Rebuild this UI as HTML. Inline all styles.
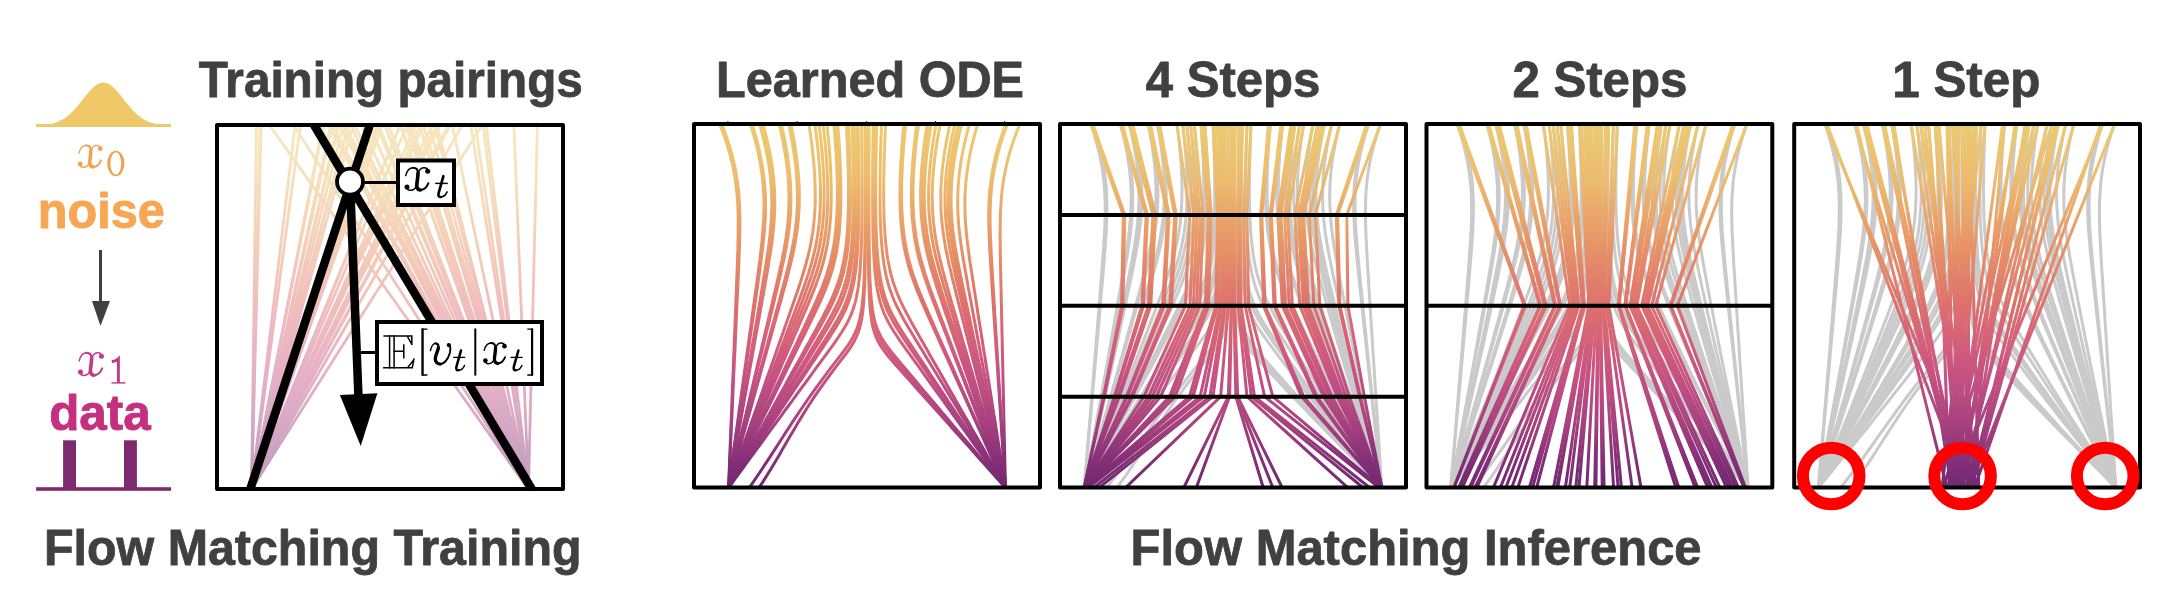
<!DOCTYPE html>
<html><head><meta charset="utf-8"><style>
html,body{margin:0;padding:0;background:#fff;}
svg{display:block;}
</style></head><body>
<svg width="2182" height="596" viewBox="0 0 2182 596">
<defs><linearGradient id="g_train" gradientUnits="userSpaceOnUse" x1="0" y1="125" x2="0" y2="489"><stop offset="0" stop-color="rgb(237, 202, 112)"/><stop offset="0.15" stop-color="rgb(236, 188, 110)"/><stop offset="0.33" stop-color="rgb(232, 148, 102)"/><stop offset="0.5" stop-color="rgb(221, 112, 110)"/><stop offset="0.62" stop-color="rgb(210, 92, 124)"/><stop offset="0.72" stop-color="rgb(192, 78, 130)"/><stop offset="0.82" stop-color="rgb(168, 66, 126)"/><stop offset="0.92" stop-color="rgb(134, 48, 120)"/><stop offset="1.0" stop-color="rgb(112, 40, 112)"/></linearGradient><clipPath id="c_train"><rect x="217" y="125" width="346" height="364"/></clipPath><linearGradient id="g_ode" gradientUnits="userSpaceOnUse" x1="0" y1="124" x2="0" y2="487.5"><stop offset="0" stop-color="rgb(237, 202, 112)"/><stop offset="0.15" stop-color="rgb(236, 188, 110)"/><stop offset="0.33" stop-color="rgb(232, 148, 102)"/><stop offset="0.5" stop-color="rgb(221, 112, 110)"/><stop offset="0.62" stop-color="rgb(210, 92, 124)"/><stop offset="0.72" stop-color="rgb(192, 78, 130)"/><stop offset="0.82" stop-color="rgb(168, 66, 126)"/><stop offset="0.92" stop-color="rgb(134, 48, 120)"/><stop offset="1.0" stop-color="rgb(112, 40, 112)"/></linearGradient><clipPath id="c_ode"><rect x="694" y="124" width="346" height="363.5"/></clipPath><linearGradient id="g_s4" gradientUnits="userSpaceOnUse" x1="0" y1="124" x2="0" y2="487.5"><stop offset="0" stop-color="rgb(237, 202, 112)"/><stop offset="0.15" stop-color="rgb(236, 188, 110)"/><stop offset="0.33" stop-color="rgb(232, 148, 102)"/><stop offset="0.5" stop-color="rgb(221, 112, 110)"/><stop offset="0.62" stop-color="rgb(210, 92, 124)"/><stop offset="0.72" stop-color="rgb(192, 78, 130)"/><stop offset="0.82" stop-color="rgb(168, 66, 126)"/><stop offset="0.92" stop-color="rgb(134, 48, 120)"/><stop offset="1.0" stop-color="rgb(112, 40, 112)"/></linearGradient><clipPath id="c_s4"><rect x="1060" y="124" width="346" height="363.5"/></clipPath><linearGradient id="g_s2" gradientUnits="userSpaceOnUse" x1="0" y1="124" x2="0" y2="487.5"><stop offset="0" stop-color="rgb(237, 202, 112)"/><stop offset="0.15" stop-color="rgb(236, 188, 110)"/><stop offset="0.33" stop-color="rgb(232, 148, 102)"/><stop offset="0.5" stop-color="rgb(221, 112, 110)"/><stop offset="0.62" stop-color="rgb(210, 92, 124)"/><stop offset="0.72" stop-color="rgb(192, 78, 130)"/><stop offset="0.82" stop-color="rgb(168, 66, 126)"/><stop offset="0.92" stop-color="rgb(134, 48, 120)"/><stop offset="1.0" stop-color="rgb(112, 40, 112)"/></linearGradient><clipPath id="c_s2"><rect x="1426.5" y="124" width="345.79999999999995" height="363.5"/></clipPath><linearGradient id="g_s1" gradientUnits="userSpaceOnUse" x1="0" y1="124" x2="0" y2="487.5"><stop offset="0" stop-color="rgb(237, 202, 112)"/><stop offset="0.15" stop-color="rgb(236, 188, 110)"/><stop offset="0.33" stop-color="rgb(232, 148, 102)"/><stop offset="0.5" stop-color="rgb(221, 112, 110)"/><stop offset="0.62" stop-color="rgb(210, 92, 124)"/><stop offset="0.72" stop-color="rgb(192, 78, 130)"/><stop offset="0.82" stop-color="rgb(168, 66, 126)"/><stop offset="0.92" stop-color="rgb(134, 48, 120)"/><stop offset="1.0" stop-color="rgb(112, 40, 112)"/></linearGradient><clipPath id="c_s1"><rect x="1794.2" y="124" width="345.79999999999995" height="363.5"/></clipPath></defs>
<rect width="2182" height="596" fill="#fff"/>
<g clip-path="url(#c_ode)" fill="none" stroke="url(#g_ode)" stroke-width="3.0"><path d="M719.6,124.0 L721.4,128.5 L723.1,133.1 L724.7,137.6 L726.3,142.1 L727.7,146.7 L729.0,151.2 L730.3,155.7 L731.4,160.3 L732.5,164.8 L733.5,169.3 L734.3,173.9 L735.1,178.4 L735.7,182.9 L736.3,187.5 L736.8,192.0 L737.2,196.5 L737.6,201.1 L737.8,205.6 L738.0,210.1 L738.1,214.6 L738.2,219.2 L738.3,223.7 L738.2,228.2 L738.2,232.8 L738.1,237.3 L738.0,241.8 L737.9,246.4 L737.8,250.9 L737.6,255.4 L737.5,260.0 L737.3,264.5 L737.2,269.0 L737.0,273.6 L736.8,278.1 L736.6,282.6 L736.5,287.2 L736.3,291.7 L736.1,296.2 L735.9,300.8 L735.8,305.3 L735.6,309.8 L735.4,314.4 L735.2,318.9 L735.0,323.4 L734.9,328.0 L734.7,332.5 L734.5,337.0 L734.3,341.6 L734.2,346.1 L734.0,350.6 L733.8,355.2 L733.6,359.7 L733.4,364.2 L733.3,368.7 L733.1,373.3 L732.9,377.8 L732.7,382.3 L732.5,386.9 L732.4,391.4 L732.2,395.9 L732.0,400.5 L731.8,405.0 L731.7,409.5 L731.5,414.1 L731.3,418.6 L731.1,423.1 L730.9,427.7 L730.8,432.2 L730.6,436.7 L730.4,441.3 L730.2,445.8 L730.1,450.3 L729.9,454.9 L729.7,459.4 L729.5,463.9 L729.3,468.5 L729.2,473.0 L729.0,477.5 L728.8,482.1 L728.6,487.5"/><path d="M721.7,124.0 L723.5,128.5 L725.1,133.1 L726.7,137.6 L728.2,142.1 L729.7,146.7 L731.0,151.2 L732.2,155.7 L733.3,160.3 L734.4,164.8 L735.3,169.3 L736.2,173.9 L736.9,178.4 L737.6,182.9 L738.1,187.5 L738.6,192.0 L739.0,196.5 L739.3,201.1 L739.6,205.6 L739.7,210.1 L739.9,214.6 L739.9,219.2 L739.9,223.7 L739.9,228.2 L739.8,232.8 L739.7,237.3 L739.6,241.8 L739.5,246.4 L739.3,250.9 L739.1,255.4 L739.0,260.0 L738.8,264.5 L738.6,269.0 L738.4,273.6 L738.2,278.1 L738.0,282.6 L737.8,287.2 L737.6,291.7 L737.3,296.2 L737.1,300.8 L736.9,305.3 L736.7,309.8 L736.5,314.4 L736.3,318.9 L736.1,323.4 L735.9,328.0 L735.7,332.5 L735.5,337.0 L735.3,341.6 L735.1,346.1 L734.9,350.6 L734.7,355.2 L734.4,359.7 L734.2,364.2 L734.0,368.7 L733.8,373.3 L733.6,377.8 L733.4,382.3 L733.2,386.9 L733.0,391.4 L732.8,395.9 L732.6,400.5 L732.4,405.0 L732.2,409.5 L732.0,414.1 L731.8,418.6 L731.5,423.1 L731.3,427.7 L731.1,432.2 L730.9,436.7 L730.7,441.3 L730.5,445.8 L730.3,450.3 L730.1,454.9 L729.9,459.4 L729.7,463.9 L729.5,468.5 L729.3,473.0 L729.1,477.5 L728.8,482.1 L728.6,487.5"/><path d="M750.3,124.0 L751.7,128.5 L753.1,133.1 L754.4,137.6 L755.6,142.1 L756.7,146.7 L757.8,151.2 L758.8,155.7 L759.7,160.3 L760.5,164.8 L761.2,169.3 L761.9,173.9 L762.4,178.4 L762.9,182.9 L763.3,187.5 L763.6,192.0 L763.8,196.5 L763.9,201.1 L764.0,205.6 L763.9,210.1 L763.8,214.6 L763.7,219.2 L763.4,223.7 L763.1,228.2 L762.7,232.8 L762.3,237.3 L761.9,241.8 L761.4,246.4 L760.9,250.9 L760.3,255.4 L759.8,260.0 L759.2,264.5 L758.6,269.0 L758.0,273.6 L757.4,278.1 L756.8,282.6 L756.2,287.2 L755.5,291.7 L754.9,296.2 L754.3,300.8 L753.7,305.3 L753.1,309.8 L752.4,314.4 L751.8,318.9 L751.2,323.4 L750.6,328.0 L749.9,332.5 L749.3,337.0 L748.7,341.6 L748.1,346.1 L747.4,350.6 L746.8,355.2 L746.2,359.7 L745.6,364.2 L744.9,368.7 L744.3,373.3 L743.7,377.8 L743.1,382.3 L742.4,386.9 L741.8,391.4 L741.2,395.9 L740.6,400.5 L740.0,405.0 L739.3,409.5 L738.7,414.1 L738.1,418.6 L737.5,423.1 L736.8,427.7 L736.2,432.2 L735.6,436.7 L735.0,441.3 L734.3,445.8 L733.7,450.3 L733.1,454.9 L732.5,459.4 L731.8,463.9 L731.2,468.5 L730.6,473.0 L730.0,477.5 L729.3,482.1 L728.6,487.5"/><path d="M752.1,124.0 L753.5,128.5 L754.9,133.1 L756.1,137.6 L757.3,142.1 L758.4,146.7 L759.5,151.2 L760.4,155.7 L761.3,160.3 L762.1,164.8 L762.9,169.3 L763.5,173.9 L764.0,178.4 L764.5,182.9 L764.9,187.5 L765.2,192.0 L765.4,196.5 L765.5,201.1 L765.5,205.6 L765.5,210.1 L765.4,214.6 L765.2,219.2 L764.9,223.7 L764.6,228.2 L764.2,232.8 L763.8,237.3 L763.3,241.8 L762.8,246.4 L762.3,250.9 L761.7,255.4 L761.1,260.0 L760.5,264.5 L759.9,269.0 L759.3,273.6 L758.7,278.1 L758.0,282.6 L757.4,287.2 L756.7,291.7 L756.1,296.2 L755.4,300.8 L754.8,305.3 L754.1,309.8 L753.5,314.4 L752.8,318.9 L752.2,323.4 L751.5,328.0 L750.9,332.5 L750.2,337.0 L749.6,341.6 L748.9,346.1 L748.3,350.6 L747.6,355.2 L747.0,359.7 L746.3,364.2 L745.7,368.7 L745.0,373.3 L744.4,377.8 L743.7,382.3 L743.1,386.9 L742.4,391.4 L741.8,395.9 L741.1,400.5 L740.5,405.0 L739.8,409.5 L739.1,414.1 L738.5,418.6 L737.8,423.1 L737.2,427.7 L736.5,432.2 L735.9,436.7 L735.2,441.3 L734.6,445.8 L733.9,450.3 L733.3,454.9 L732.6,459.4 L732.0,463.9 L731.3,468.5 L730.7,473.0 L730.0,477.5 L729.4,482.1 L728.6,487.5"/><path d="M759.4,124.0 L760.7,128.5 L762.0,133.1 L763.1,137.6 L764.3,142.1 L765.3,146.7 L766.3,151.2 L767.2,155.7 L768.0,160.3 L768.8,164.8 L769.4,169.3 L770.0,173.9 L770.5,178.4 L770.9,182.9 L771.3,187.5 L771.5,192.0 L771.7,196.5 L771.8,201.1 L771.8,205.6 L771.7,210.1 L771.5,214.6 L771.3,219.2 L771.0,223.7 L770.6,228.2 L770.2,232.8 L769.7,237.3 L769.2,241.8 L768.6,246.4 L767.9,250.9 L767.3,255.4 L766.6,260.0 L765.9,264.5 L765.2,269.0 L764.5,273.6 L763.7,278.1 L763.0,282.6 L762.2,287.2 L761.5,291.7 L760.7,296.2 L760.0,300.8 L759.2,305.3 L758.4,309.8 L757.7,314.4 L756.9,318.9 L756.2,323.4 L755.4,328.0 L754.6,332.5 L753.9,337.0 L753.1,341.6 L752.3,346.1 L751.6,350.6 L750.8,355.2 L750.1,359.7 L749.3,364.2 L748.5,368.7 L747.8,373.3 L747.0,377.8 L746.3,382.3 L745.5,386.9 L744.7,391.4 L744.0,395.9 L743.2,400.5 L742.5,405.0 L741.7,409.5 L740.9,414.1 L740.2,418.6 L739.4,423.1 L738.6,427.7 L737.9,432.2 L737.1,436.7 L736.4,441.3 L735.6,445.8 L734.8,450.3 L734.1,454.9 L733.3,459.4 L732.6,463.9 L731.8,468.5 L731.0,473.0 L730.3,477.5 L729.5,482.1 L728.6,487.5"/><path d="M760.6,124.0 L761.9,128.5 L763.1,133.1 L764.3,137.6 L765.4,142.1 L766.5,146.7 L767.4,151.2 L768.3,155.7 L769.1,160.3 L769.9,164.8 L770.5,169.3 L771.1,173.9 L771.6,178.4 L772.0,182.9 L772.4,187.5 L772.6,192.0 L772.8,196.5 L772.9,201.1 L772.8,205.6 L772.8,210.1 L772.6,214.6 L772.3,219.2 L772.0,223.7 L771.6,228.2 L771.2,232.8 L770.7,237.3 L770.1,241.8 L769.5,246.4 L768.9,250.9 L768.2,255.4 L767.5,260.0 L766.8,264.5 L766.1,269.0 L765.3,273.6 L764.6,278.1 L763.8,282.6 L763.0,287.2 L762.3,291.7 L761.5,296.2 L760.7,300.8 L759.9,305.3 L759.2,309.8 L758.4,314.4 L757.6,318.9 L756.8,323.4 L756.0,328.0 L755.3,332.5 L754.5,337.0 L753.7,341.6 L752.9,346.1 L752.1,350.6 L751.4,355.2 L750.6,359.7 L749.8,364.2 L749.0,368.7 L748.3,373.3 L747.5,377.8 L746.7,382.3 L745.9,386.9 L745.1,391.4 L744.4,395.9 L743.6,400.5 L742.8,405.0 L742.0,409.5 L741.2,414.1 L740.5,418.6 L739.7,423.1 L738.9,427.7 L738.1,432.2 L737.3,436.7 L736.6,441.3 L735.8,445.8 L735.0,450.3 L734.2,454.9 L733.4,459.4 L732.7,463.9 L731.9,468.5 L731.1,473.0 L730.3,477.5 L729.5,482.1 L728.6,487.5"/><path d="M762.9,124.0 L764.1,128.5 L765.3,133.1 L766.5,137.6 L767.6,142.1 L768.6,146.7 L769.5,151.2 L770.4,155.7 L771.2,160.3 L771.9,164.8 L772.6,169.3 L773.1,173.9 L773.6,178.4 L774.0,182.9 L774.3,187.5 L774.6,192.0 L774.7,196.5 L774.8,201.1 L774.8,205.6 L774.7,210.1 L774.5,214.6 L774.2,219.2 L773.9,223.7 L773.5,228.2 L773.0,232.8 L772.5,237.3 L772.0,241.8 L771.3,246.4 L770.7,250.9 L770.0,255.4 L769.2,260.0 L768.5,264.5 L767.7,269.0 L767.0,273.6 L766.2,278.1 L765.4,282.6 L764.6,287.2 L763.8,291.7 L763.0,296.2 L762.1,300.8 L761.3,305.3 L760.5,309.8 L759.7,314.4 L758.9,318.9 L758.1,323.4 L757.3,328.0 L756.4,332.5 L755.6,337.0 L754.8,341.6 L754.0,346.1 L753.2,350.6 L752.4,355.2 L751.6,359.7 L750.7,364.2 L749.9,368.7 L749.1,373.3 L748.3,377.8 L747.5,382.3 L746.7,386.9 L745.9,391.4 L745.0,395.9 L744.2,400.5 L743.4,405.0 L742.6,409.5 L741.8,414.1 L741.0,418.6 L740.2,423.1 L739.3,427.7 L738.5,432.2 L737.7,436.7 L736.9,441.3 L736.1,445.8 L735.3,450.3 L734.5,454.9 L733.6,459.4 L732.8,463.9 L732.0,468.5 L731.2,473.0 L730.4,477.5 L729.6,482.1 L728.6,487.5"/><path d="M779.1,124.0 L780.2,128.5 L781.2,133.1 L782.2,137.6 L783.1,142.1 L783.9,146.7 L784.7,151.2 L785.5,155.7 L786.1,160.3 L786.7,164.8 L787.3,169.3 L787.8,173.9 L788.2,178.4 L788.5,182.9 L788.7,187.5 L788.9,192.0 L789.0,196.5 L789.0,201.1 L788.9,205.6 L788.7,210.1 L788.5,214.6 L788.2,219.2 L787.8,223.7 L787.3,228.2 L786.7,232.8 L786.1,237.3 L785.3,241.8 L784.6,246.4 L783.8,250.9 L782.9,255.4 L782.0,260.0 L781.0,264.5 L780.0,269.0 L779.0,273.6 L778.0,278.1 L777.0,282.6 L775.9,287.2 L774.9,291.7 L773.8,296.2 L772.7,300.8 L771.7,305.3 L770.6,309.8 L769.5,314.4 L768.5,318.9 L767.4,323.4 L766.3,328.0 L765.2,332.5 L764.2,337.0 L763.1,341.6 L762.0,346.1 L761.0,350.6 L759.9,355.2 L758.8,359.7 L757.7,364.2 L756.7,368.7 L755.6,373.3 L754.5,377.8 L753.5,382.3 L752.4,386.9 L751.3,391.4 L750.2,395.9 L749.2,400.5 L748.1,405.0 L747.0,409.5 L746.0,414.1 L744.9,418.6 L743.8,423.1 L742.7,427.7 L741.7,432.2 L740.6,436.7 L739.5,441.3 L738.5,445.8 L737.4,450.3 L736.3,454.9 L735.2,459.4 L734.2,463.9 L733.1,468.5 L732.0,473.0 L731.0,477.5 L729.9,482.1 L728.6,487.5"/><path d="M781.3,124.0 L782.3,128.5 L783.3,133.1 L784.2,137.6 L785.1,142.1 L786.0,146.7 L786.7,151.2 L787.5,155.7 L788.1,160.3 L788.7,164.8 L789.2,169.3 L789.7,173.9 L790.1,178.4 L790.4,182.9 L790.6,187.5 L790.8,192.0 L790.9,196.5 L790.9,201.1 L790.8,205.6 L790.6,210.1 L790.4,214.6 L790.0,219.2 L789.6,223.7 L789.1,228.2 L788.5,232.8 L787.9,237.3 L787.1,241.8 L786.4,246.4 L785.5,250.9 L784.6,255.4 L783.7,260.0 L782.7,264.5 L781.7,269.0 L780.7,273.6 L779.6,278.1 L778.5,282.6 L777.5,287.2 L776.4,291.7 L775.3,296.2 L774.2,300.8 L773.1,305.3 L772.0,309.8 L770.9,314.4 L769.8,318.9 L768.7,323.4 L767.5,328.0 L766.4,332.5 L765.3,337.0 L764.2,341.6 L763.1,346.1 L762.0,350.6 L760.9,355.2 L759.8,359.7 L758.7,364.2 L757.6,368.7 L756.5,373.3 L755.4,377.8 L754.3,382.3 L753.2,386.9 L752.1,391.4 L750.9,395.9 L749.8,400.5 L748.7,405.0 L747.6,409.5 L746.5,414.1 L745.4,418.6 L744.3,423.1 L743.2,427.7 L742.1,432.2 L741.0,436.7 L739.9,441.3 L738.8,445.8 L737.7,450.3 L736.6,454.9 L735.5,459.4 L734.4,463.9 L733.2,468.5 L732.1,473.0 L731.0,477.5 L729.9,482.1 L728.6,487.5"/><path d="M788.7,124.0 L789.6,128.5 L790.5,133.1 L791.4,137.6 L792.2,142.1 L793.0,146.7 L793.7,151.2 L794.3,155.7 L794.9,160.3 L795.5,164.8 L796.0,169.3 L796.4,173.9 L796.7,178.4 L797.0,182.9 L797.2,187.5 L797.3,192.0 L797.4,196.5 L797.4,201.1 L797.3,205.6 L797.1,210.1 L796.8,214.6 L796.5,219.2 L796.0,223.7 L795.5,228.2 L794.9,232.8 L794.2,237.3 L793.4,241.8 L792.6,246.4 L791.7,250.9 L790.7,255.4 L789.7,260.0 L788.7,264.5 L787.6,269.0 L786.4,273.6 L785.3,278.1 L784.1,282.6 L782.9,287.2 L781.7,291.7 L780.5,296.2 L779.3,300.8 L778.0,305.3 L776.8,309.8 L775.6,314.4 L774.4,318.9 L773.1,323.4 L771.9,328.0 L770.7,332.5 L769.4,337.0 L768.2,341.6 L767.0,346.1 L765.7,350.6 L764.5,355.2 L763.3,359.7 L762.1,364.2 L760.8,368.7 L759.6,373.3 L758.4,377.8 L757.1,382.3 L755.9,386.9 L754.7,391.4 L753.4,395.9 L752.2,400.5 L751.0,405.0 L749.8,409.5 L748.5,414.1 L747.3,418.6 L746.1,423.1 L744.8,427.7 L743.6,432.2 L742.4,436.7 L741.1,441.3 L739.9,445.8 L738.7,450.3 L737.5,454.9 L736.2,459.4 L735.0,463.9 L733.8,468.5 L732.5,473.0 L731.3,477.5 L730.1,482.1 L728.6,487.5"/><path d="M790.9,124.0 L791.8,128.5 L792.7,133.1 L793.5,137.6 L794.3,142.1 L795.1,146.7 L795.7,151.2 L796.4,155.7 L797.0,160.3 L797.5,164.8 L797.9,169.3 L798.3,173.9 L798.7,178.4 L799.0,182.9 L799.2,187.5 L799.3,192.0 L799.3,196.5 L799.3,201.1 L799.2,205.6 L799.0,210.1 L798.7,214.6 L798.4,219.2 L797.9,223.7 L797.4,228.2 L796.8,232.8 L796.1,237.3 L795.3,241.8 L794.5,246.4 L793.6,250.9 L792.6,255.4 L791.5,260.0 L790.5,264.5 L789.3,269.0 L788.2,273.6 L787.0,278.1 L785.8,282.6 L784.6,287.2 L783.3,291.7 L782.1,296.2 L780.8,300.8 L779.5,305.3 L778.3,309.8 L777.0,314.4 L775.8,318.9 L774.5,323.4 L773.2,328.0 L771.9,332.5 L770.7,337.0 L769.4,341.6 L768.1,346.1 L766.9,350.6 L765.6,355.2 L764.3,359.7 L763.1,364.2 L761.8,368.7 L760.5,373.3 L759.3,377.8 L758.0,382.3 L756.7,386.9 L755.5,391.4 L754.2,395.9 L752.9,400.5 L751.7,405.0 L750.4,409.5 L749.1,414.1 L747.9,418.6 L746.6,423.1 L745.3,427.7 L744.1,432.2 L742.8,436.7 L741.5,441.3 L740.3,445.8 L739.0,450.3 L737.7,454.9 L736.5,459.4 L735.2,463.9 L733.9,468.5 L732.7,473.0 L731.4,477.5 L730.1,482.1 L728.6,487.5"/><path d="M808.9,124.0 L809.6,128.5 L810.3,133.1 L810.9,137.6 L811.5,142.1 L812.1,146.7 L812.6,151.2 L813.1,155.7 L813.5,160.3 L813.9,164.8 L814.3,169.3 L814.6,173.9 L814.8,178.4 L815.0,182.9 L815.1,187.5 L815.2,192.0 L815.2,196.5 L815.2,201.1 L815.1,205.6 L814.9,210.1 L814.6,214.6 L814.2,219.2 L813.8,223.7 L813.3,228.2 L812.7,232.8 L811.9,237.3 L811.1,241.8 L810.3,246.4 L809.3,250.9 L808.2,255.4 L807.0,260.0 L805.8,264.5 L804.5,269.0 L803.1,273.6 L801.7,278.1 L800.3,282.6 L798.8,287.2 L797.3,291.7 L795.7,296.2 L794.1,300.8 L792.6,305.3 L791.0,309.8 L789.4,314.4 L787.8,318.9 L786.2,323.4 L784.6,328.0 L783.1,332.5 L781.5,337.0 L779.9,341.6 L778.3,346.1 L776.7,350.6 L775.1,355.2 L773.5,359.7 L771.9,364.2 L770.3,368.7 L768.7,373.3 L767.1,377.8 L765.5,382.3 L763.9,386.9 L762.4,391.4 L760.8,395.9 L759.2,400.5 L757.6,405.0 L756.0,409.5 L754.4,414.1 L752.8,418.6 L751.2,423.1 L749.6,427.7 L748.0,432.2 L746.4,436.7 L744.8,441.3 L743.2,445.8 L741.7,450.3 L740.1,454.9 L738.5,459.4 L736.9,463.9 L735.3,468.5 L733.7,473.0 L732.1,477.5 L730.5,482.1 L728.6,487.5"/><path d="M814.8,124.0 L815.4,128.5 L816.0,133.1 L816.6,137.6 L817.1,142.1 L817.6,146.7 L818.1,151.2 L818.5,155.7 L818.9,160.3 L819.3,164.8 L819.6,169.3 L819.9,173.9 L820.1,178.4 L820.3,182.9 L820.4,187.5 L820.4,192.0 L820.4,196.5 L820.4,201.1 L820.3,205.6 L820.1,210.1 L819.8,214.6 L819.5,219.2 L819.1,223.7 L818.5,228.2 L818.0,232.8 L817.3,237.3 L816.5,241.8 L815.6,246.4 L814.6,250.9 L813.5,255.4 L812.4,260.0 L811.1,264.5 L809.8,269.0 L808.4,273.6 L806.9,278.1 L805.4,282.6 L803.8,287.2 L802.2,291.7 L800.5,296.2 L798.9,300.8 L797.2,305.3 L795.5,309.8 L793.8,314.4 L792.1,318.9 L790.4,323.4 L788.7,328.0 L787.0,332.5 L785.3,337.0 L783.6,341.6 L781.9,346.1 L780.2,350.6 L778.5,355.2 L776.8,359.7 L775.1,364.2 L773.3,368.7 L771.6,373.3 L769.9,377.8 L768.2,382.3 L766.5,386.9 L764.8,391.4 L763.1,395.9 L761.4,400.5 L759.7,405.0 L758.0,409.5 L756.3,414.1 L754.6,418.6 L752.9,423.1 L751.1,427.7 L749.4,432.2 L747.7,436.7 L746.0,441.3 L744.3,445.8 L742.6,450.3 L740.9,454.9 L739.2,459.4 L737.5,463.9 L735.8,468.5 L734.1,473.0 L732.4,477.5 L730.7,482.1 L728.6,487.5"/><path d="M818.9,124.0 L819.5,128.5 L820.0,133.1 L820.6,137.6 L821.1,142.1 L821.5,146.7 L822.0,151.2 L822.4,155.7 L822.7,160.3 L823.1,164.8 L823.4,169.3 L823.6,173.9 L823.8,178.4 L824.0,182.9 L824.1,187.5 L824.1,192.0 L824.1,196.5 L824.1,201.1 L824.0,205.6 L823.8,210.1 L823.5,214.6 L823.2,219.2 L822.8,223.7 L822.3,228.2 L821.7,232.8 L821.1,237.3 L820.3,241.8 L819.4,246.4 L818.5,250.9 L817.4,255.4 L816.2,260.0 L815.0,264.5 L813.6,269.0 L812.2,273.6 L810.7,278.1 L809.1,282.6 L807.5,287.2 L805.8,291.7 L804.1,296.2 L802.4,300.8 L800.6,305.3 L798.9,309.8 L797.1,314.4 L795.3,318.9 L793.5,323.4 L791.7,328.0 L789.9,332.5 L788.1,337.0 L786.3,341.6 L784.5,346.1 L782.8,350.6 L781.0,355.2 L779.2,359.7 L777.4,364.2 L775.6,368.7 L773.8,373.3 L772.0,377.8 L770.2,382.3 L768.4,386.9 L766.6,391.4 L764.8,395.9 L763.0,400.5 L761.2,405.0 L759.4,409.5 L757.6,414.1 L755.9,418.6 L754.1,423.1 L752.3,427.7 L750.5,432.2 L748.7,436.7 L746.9,441.3 L745.1,445.8 L743.3,450.3 L741.5,454.9 L739.7,459.4 L737.9,463.9 L736.1,468.5 L734.3,473.0 L732.5,477.5 L730.8,482.1 L728.6,487.5"/><path d="M823.0,124.0 L823.5,128.5 L824.0,133.1 L824.5,137.6 L825.0,142.1 L825.4,146.7 L825.8,151.2 L826.2,155.7 L826.5,160.3 L826.8,164.8 L827.1,169.3 L827.3,173.9 L827.5,178.4 L827.6,182.9 L827.7,187.5 L827.8,192.0 L827.8,196.5 L827.7,201.1 L827.6,205.6 L827.4,210.1 L827.2,214.6 L826.9,219.2 L826.5,223.7 L826.0,228.2 L825.5,232.8 L824.8,237.3 L824.1,241.8 L823.2,246.4 L822.3,250.9 L821.3,255.4 L820.1,260.0 L818.9,264.5 L817.5,269.0 L816.1,273.6 L814.5,278.1 L812.9,282.6 L811.3,287.2 L809.5,291.7 L807.8,296.2 L806.0,300.8 L804.1,305.3 L802.3,309.8 L800.4,314.4 L798.5,318.9 L796.7,323.4 L794.8,328.0 L792.9,332.5 L791.0,337.0 L789.2,341.6 L787.3,346.1 L785.4,350.6 L783.5,355.2 L781.6,359.7 L779.8,364.2 L777.9,368.7 L776.0,373.3 L774.1,377.8 L772.2,382.3 L770.4,386.9 L768.5,391.4 L766.6,395.9 L764.7,400.5 L762.8,405.0 L760.9,409.5 L759.1,414.1 L757.2,418.6 L755.3,423.1 L753.4,427.7 L751.5,432.2 L749.7,436.7 L747.8,441.3 L745.9,445.8 L744.0,450.3 L742.1,454.9 L740.3,459.4 L738.4,463.9 L736.5,468.5 L734.6,473.0 L732.7,477.5 L730.9,482.1 L728.6,487.5"/><path d="M826.9,124.0 L827.4,128.5 L827.8,133.1 L828.3,137.6 L828.7,142.1 L829.1,146.7 L829.4,151.2 L829.8,155.7 L830.1,160.3 L830.3,164.8 L830.6,169.3 L830.8,173.9 L830.9,178.4 L831.1,182.9 L831.2,187.5 L831.2,192.0 L831.2,196.5 L831.2,201.1 L831.0,205.6 L830.9,210.1 L830.7,214.6 L830.4,219.2 L830.0,223.7 L829.6,228.2 L829.0,232.8 L828.4,237.3 L827.7,241.8 L826.9,246.4 L826.0,250.9 L825.0,255.4 L823.9,260.0 L822.6,264.5 L821.3,269.0 L819.8,273.6 L818.3,278.1 L816.7,282.6 L815.0,287.2 L813.2,291.7 L811.4,296.2 L809.5,300.8 L807.6,305.3 L805.7,309.8 L803.7,314.4 L801.8,318.9 L799.8,323.4 L797.9,328.0 L795.9,332.5 L793.9,337.0 L792.0,341.6 L790.0,346.1 L788.0,350.6 L786.1,355.2 L784.1,359.7 L782.1,364.2 L780.2,368.7 L778.2,373.3 L776.2,377.8 L774.3,382.3 L772.3,386.9 L770.3,391.4 L768.4,395.9 L766.4,400.5 L764.4,405.0 L762.5,409.5 L760.5,414.1 L758.5,418.6 L756.5,423.1 L754.6,427.7 L752.6,432.2 L750.6,436.7 L748.7,441.3 L746.7,445.8 L744.7,450.3 L742.8,454.9 L740.8,459.4 L738.8,463.9 L736.9,468.5 L734.9,473.0 L732.9,477.5 L731.0,482.1 L728.6,487.5"/><path d="M833.8,124.0 L834.2,128.5 L834.6,133.1 L834.9,137.6 L835.3,142.1 L835.6,146.7 L835.9,151.2 L836.2,155.7 L836.4,160.3 L836.7,164.8 L836.9,169.3 L837.0,173.9 L837.2,178.4 L837.3,182.9 L837.3,187.5 L837.4,192.0 L837.4,196.5 L837.3,201.1 L837.2,205.6 L837.1,210.1 L836.9,214.6 L836.6,219.2 L836.3,223.7 L835.9,228.2 L835.5,232.8 L834.9,237.3 L834.3,241.8 L833.6,246.4 L832.7,250.9 L831.8,255.4 L830.8,260.0 L829.6,264.5 L828.3,269.0 L826.9,273.6 L825.4,278.1 L823.8,282.6 L822.0,287.2 L820.2,291.7 L818.3,296.2 L816.3,300.8 L814.3,305.3 L812.2,309.8 L810.1,314.4 L808.0,318.9 L805.9,323.4 L803.8,328.0 L801.7,332.5 L799.5,337.0 L797.4,341.6 L795.3,346.1 L793.1,350.6 L791.0,355.2 L788.9,359.7 L786.7,364.2 L784.6,368.7 L782.4,373.3 L780.3,377.8 L778.2,382.3 L776.0,386.9 L773.9,391.4 L771.8,395.9 L769.6,400.5 L767.5,405.0 L765.3,409.5 L763.2,414.1 L761.1,418.6 L758.9,423.1 L756.8,427.7 L754.7,432.2 L752.5,436.7 L750.4,441.3 L748.3,445.8 L746.1,450.3 L744.0,454.9 L741.8,459.4 L739.7,463.9 L737.6,468.5 L735.4,473.0 L733.3,477.5 L731.2,482.1 L728.6,487.5"/><path d="M835.5,124.0 L835.9,128.5 L836.3,133.1 L836.6,137.6 L836.9,142.1 L837.2,146.7 L837.5,151.2 L837.8,155.7 L838.0,160.3 L838.2,164.8 L838.4,169.3 L838.6,173.9 L838.7,178.4 L838.8,182.9 L838.9,187.5 L838.9,192.0 L838.9,196.5 L838.9,201.1 L838.8,205.6 L838.6,210.1 L838.4,214.6 L838.2,219.2 L837.9,223.7 L837.5,228.2 L837.1,232.8 L836.6,237.3 L835.9,241.8 L835.2,246.4 L834.4,250.9 L833.5,255.4 L832.5,260.0 L831.4,264.5 L830.1,269.0 L828.7,273.6 L827.2,278.1 L825.6,282.6 L823.9,287.2 L822.0,291.7 L820.1,296.2 L818.1,300.8 L816.1,305.3 L814.0,309.8 L811.9,314.4 L809.7,318.9 L807.6,323.4 L805.4,328.0 L803.2,332.5 L801.0,337.0 L798.9,341.6 L796.7,346.1 L794.5,350.6 L792.3,355.2 L790.1,359.7 L787.9,364.2 L785.8,368.7 L783.6,373.3 L781.4,377.8 L779.2,382.3 L777.0,386.9 L774.9,391.4 L772.7,395.9 L770.5,400.5 L768.3,405.0 L766.1,409.5 L763.9,414.1 L761.8,418.6 L759.6,423.1 L757.4,427.7 L755.2,432.2 L753.0,436.7 L750.9,441.3 L748.7,445.8 L746.5,450.3 L744.3,454.9 L742.1,459.4 L739.9,463.9 L737.8,468.5 L735.6,473.0 L733.4,477.5 L731.2,482.1 L728.6,487.5"/><path d="M837.7,124.0 L838.1,128.5 L838.4,133.1 L838.8,137.6 L839.1,142.1 L839.4,146.7 L839.6,151.2 L839.9,155.7 L840.1,160.3 L840.3,164.8 L840.5,169.3 L840.6,173.9 L840.7,178.4 L840.8,182.9 L840.9,187.5 L840.9,192.0 L840.9,196.5 L840.9,201.1 L840.8,205.6 L840.6,210.1 L840.5,214.6 L840.2,219.2 L839.9,223.7 L839.6,228.2 L839.2,232.8 L838.7,237.3 L838.1,241.8 L837.4,246.4 L836.7,250.9 L835.8,255.4 L834.8,260.0 L833.7,264.5 L832.5,269.0 L831.1,273.6 L829.7,278.1 L828.1,282.6 L826.3,287.2 L824.5,291.7 L822.6,296.2 L820.5,300.8 L818.5,305.3 L816.3,309.8 L814.2,314.4 L812.0,318.9 L809.8,323.4 L807.5,328.0 L805.3,332.5 L803.1,337.0 L800.8,341.6 L798.6,346.1 L796.3,350.6 L794.1,355.2 L791.8,359.7 L789.6,364.2 L787.4,368.7 L785.1,373.3 L782.9,377.8 L780.6,382.3 L778.4,386.9 L776.1,391.4 L773.9,395.9 L771.7,400.5 L769.4,405.0 L767.2,409.5 L764.9,414.1 L762.7,418.6 L760.4,423.1 L758.2,427.7 L756.0,432.2 L753.7,436.7 L751.5,441.3 L749.2,445.8 L747.0,450.3 L744.7,454.9 L742.5,459.4 L740.3,463.9 L738.0,468.5 L735.8,473.0 L733.5,477.5 L731.3,482.1 L728.6,487.5"/><path d="M846.2,124.0 L846.5,128.5 L846.7,133.1 L847.0,137.6 L847.2,142.1 L847.4,146.7 L847.6,151.2 L847.7,155.7 L847.9,160.3 L848.0,164.8 L848.2,169.3 L848.3,173.9 L848.3,178.4 L848.4,182.9 L848.5,187.5 L848.5,192.0 L848.5,196.5 L848.4,201.1 L848.4,205.6 L848.3,210.1 L848.1,214.6 L848.0,219.2 L847.8,223.7 L847.5,228.2 L847.2,232.8 L846.8,237.3 L846.4,241.8 L845.9,246.4 L845.3,250.9 L844.6,255.4 L843.8,260.0 L842.9,264.5 L841.9,269.0 L840.8,273.6 L839.5,278.1 L838.0,282.6 L836.4,287.2 L834.7,291.7 L832.8,296.2 L830.8,300.8 L828.6,305.3 L826.4,309.8 L824.0,314.4 L821.7,318.9 L819.2,323.4 L816.8,328.0 L814.3,332.5 L811.8,337.0 L809.3,341.6 L806.8,346.1 L804.3,350.6 L801.8,355.2 L799.3,359.7 L796.8,364.2 L794.2,368.7 L791.7,373.3 L789.2,377.8 L786.7,382.3 L784.2,386.9 L781.7,391.4 L779.2,395.9 L776.7,400.5 L774.2,405.0 L771.7,409.5 L769.2,414.1 L766.7,418.6 L764.2,423.1 L761.7,427.7 L759.2,432.2 L756.7,436.7 L754.2,441.3 L751.7,445.8 L749.1,450.3 L746.6,454.9 L744.1,459.4 L741.6,463.9 L739.1,468.5 L736.6,473.0 L734.1,477.5 L731.6,482.1 L728.6,487.5"/><path d="M847.8,124.0 L848.1,128.5 L848.3,133.1 L848.5,137.6 L848.7,142.1 L848.9,146.7 L849.1,151.2 L849.2,155.7 L849.4,160.3 L849.5,164.8 L849.6,169.3 L849.7,173.9 L849.8,178.4 L849.8,182.9 L849.9,187.5 L849.9,192.0 L849.9,196.5 L849.9,201.1 L849.8,205.6 L849.7,210.1 L849.6,214.6 L849.4,219.2 L849.2,223.7 L849.0,228.2 L848.7,232.8 L848.3,237.3 L847.9,241.8 L847.5,246.4 L846.9,250.9 L846.3,255.4 L845.5,260.0 L844.7,264.5 L843.7,269.0 L842.7,273.6 L841.4,278.1 L840.0,282.6 L838.5,287.2 L836.8,291.7 L834.9,296.2 L832.9,300.8 L830.8,305.3 L828.5,309.8 L826.2,314.4 L823.7,318.9 L821.3,323.4 L818.8,328.0 L816.2,332.5 L813.7,337.0 L811.1,341.6 L808.6,346.1 L806.0,350.6 L803.4,355.2 L800.9,359.7 L798.3,364.2 L795.7,368.7 L793.2,373.3 L790.6,377.8 L788.1,382.3 L785.5,386.9 L782.9,391.4 L780.4,395.9 L777.8,400.5 L775.2,405.0 L772.7,409.5 L770.1,414.1 L767.6,418.6 L765.0,423.1 L762.4,427.7 L759.9,432.2 L757.3,436.7 L754.7,441.3 L752.2,445.8 L749.6,450.3 L747.1,454.9 L744.5,459.4 L741.9,463.9 L739.4,468.5 L736.8,473.0 L734.2,477.5 L731.7,482.1 L728.6,487.5"/><path d="M848.3,124.0 L848.5,128.5 L848.8,133.1 L849.0,137.6 L849.2,142.1 L849.3,146.7 L849.5,151.2 L849.7,155.7 L849.8,160.3 L849.9,164.8 L850.0,169.3 L850.1,173.9 L850.2,178.4 L850.3,182.9 L850.3,187.5 L850.3,192.0 L850.3,196.5 L850.3,201.1 L850.2,205.6 L850.1,210.1 L850.0,214.6 L849.9,219.2 L849.7,223.7 L849.4,228.2 L849.1,232.8 L848.8,237.3 L848.4,241.8 L847.9,246.4 L847.4,250.9 L846.8,255.4 L846.1,260.0 L845.2,264.5 L844.3,269.0 L843.2,273.6 L842.0,278.1 L840.7,282.6 L839.1,287.2 L837.4,291.7 L835.6,296.2 L833.6,300.8 L831.4,305.3 L829.2,309.8 L826.8,314.4 L824.4,318.9 L821.9,323.4 L819.4,328.0 L816.8,332.5 L814.3,337.0 L811.7,341.6 L809.1,346.1 L806.5,350.6 L804.0,355.2 L801.4,359.7 L798.8,364.2 L796.2,368.7 L793.6,373.3 L791.1,377.8 L788.5,382.3 L785.9,386.9 L783.3,391.4 L780.7,395.9 L778.2,400.5 L775.6,405.0 L773.0,409.5 L770.4,414.1 L767.8,418.6 L765.2,423.1 L762.7,427.7 L760.1,432.2 L757.5,436.7 L754.9,441.3 L752.3,445.8 L749.8,450.3 L747.2,454.9 L744.6,459.4 L742.0,463.9 L739.4,468.5 L736.9,473.0 L734.3,477.5 L731.7,482.1 L728.6,487.5"/><path d="M851.8,124.0 L852.0,128.5 L852.2,133.1 L852.4,137.6 L852.5,142.1 L852.7,146.7 L852.8,151.2 L852.9,155.7 L853.1,160.3 L853.2,164.8 L853.2,169.3 L853.3,173.9 L853.4,178.4 L853.4,182.9 L853.5,187.5 L853.5,192.0 L853.5,196.5 L853.4,201.1 L853.4,205.6 L853.3,210.1 L853.2,214.6 L853.1,219.2 L852.9,223.7 L852.7,228.2 L852.5,232.8 L852.2,237.3 L851.9,241.8 L851.5,246.4 L851.1,250.9 L850.5,255.4 L849.9,260.0 L849.2,264.5 L848.4,269.0 L847.5,273.6 L846.5,278.1 L845.3,282.6 L843.9,287.2 L842.3,291.7 L840.6,296.2 L838.7,300.8 L836.6,305.3 L834.4,309.8 L832.0,314.4 L829.5,318.9 L827.0,323.4 L824.4,328.0 L821.7,332.5 L819.0,337.0 L816.3,341.6 L813.6,346.1 L810.8,350.6 L808.1,355.2 L805.4,359.7 L802.7,364.2 L800.0,368.7 L797.2,373.3 L794.5,377.8 L791.8,382.3 L789.1,386.9 L786.3,391.4 L783.6,395.9 L780.9,400.5 L778.2,405.0 L775.4,409.5 L772.7,414.1 L770.0,418.6 L767.3,423.1 L764.6,427.7 L761.8,432.2 L759.1,436.7 L756.4,441.3 L753.7,445.8 L750.9,450.3 L748.2,454.9 L745.5,459.4 L742.8,463.9 L740.0,468.5 L737.3,473.0 L734.6,477.5 L731.9,482.1 L728.6,487.5"/><path d="M853.9,124.0 L854.0,128.5 L854.2,133.1 L854.3,137.6 L854.4,142.1 L854.6,146.7 L854.7,151.2 L854.8,155.7 L854.9,160.3 L855.0,164.8 L855.1,169.3 L855.1,173.9 L855.2,178.4 L855.2,182.9 L855.3,187.5 L855.3,192.0 L855.3,196.5 L855.2,201.1 L855.2,205.6 L855.1,210.1 L855.0,214.6 L854.9,219.2 L854.8,223.7 L854.6,228.2 L854.4,232.8 L854.2,237.3 L853.9,241.8 L853.5,246.4 L853.2,250.9 L852.7,255.4 L852.2,260.0 L851.5,264.5 L850.8,269.0 L850.0,273.6 L849.1,278.1 L848.0,282.6 L846.7,287.2 L845.3,291.7 L843.7,296.2 L841.9,300.8 L839.9,305.3 L837.7,309.8 L835.3,314.4 L832.8,318.9 L830.2,323.4 L827.6,328.0 L824.8,332.5 L822.0,337.0 L819.3,341.6 L816.4,346.1 L813.6,350.6 L810.8,355.2 L808.0,359.7 L805.2,364.2 L802.4,368.7 L799.6,373.3 L796.7,377.8 L793.9,382.3 L791.1,386.9 L788.3,391.4 L785.5,395.9 L782.7,400.5 L779.9,405.0 L777.0,409.5 L774.2,414.1 L771.4,418.6 L768.6,423.1 L765.8,427.7 L763.0,432.2 L760.1,436.7 L757.3,441.3 L754.5,445.8 L751.7,450.3 L748.9,454.9 L746.1,459.4 L743.2,463.9 L740.4,468.5 L737.6,473.0 L734.8,477.5 L732.0,482.1 L728.6,487.5"/><path d="M856.6,124.0 L856.7,128.5 L856.8,133.1 L856.9,137.6 L857.0,142.1 L857.1,146.7 L857.2,151.2 L857.3,155.7 L857.4,160.3 L857.5,164.8 L857.5,169.3 L857.6,173.9 L857.6,178.4 L857.7,182.9 L857.7,187.5 L857.7,192.0 L857.7,196.5 L857.7,201.1 L857.6,205.6 L857.6,210.1 L857.5,214.6 L857.4,219.2 L857.3,223.7 L857.2,228.2 L857.0,232.8 L856.8,237.3 L856.6,241.8 L856.3,246.4 L856.0,250.9 L855.6,255.4 L855.2,260.0 L854.7,264.5 L854.1,269.0 L853.4,273.6 L852.7,278.1 L851.7,282.6 L850.7,287.2 L849.5,291.7 L848.1,296.2 L846.4,300.8 L844.6,305.3 L842.6,309.8 L840.3,314.4 L837.8,318.9 L835.2,323.4 L832.5,328.0 L829.7,332.5 L826.8,337.0 L823.9,341.6 L820.9,346.1 L818.0,350.6 L815.0,355.2 L812.1,359.7 L809.1,364.2 L806.2,368.7 L803.2,373.3 L800.2,377.8 L797.3,382.3 L794.3,386.9 L791.4,391.4 L788.4,395.9 L785.4,400.5 L782.5,405.0 L779.5,409.5 L776.6,414.1 L773.6,418.6 L770.6,423.1 L767.7,427.7 L764.7,432.2 L761.8,436.7 L758.8,441.3 L755.8,445.8 L752.9,450.3 L749.9,454.9 L747.0,459.4 L744.0,463.9 L741.0,468.5 L738.1,473.0 L735.1,477.5 L732.2,482.1 L728.6,487.5"/><path d="M858.0,124.0 L858.1,128.5 L858.2,133.1 L858.3,137.6 L858.4,142.1 L858.5,146.7 L858.6,151.2 L858.7,155.7 L858.7,160.3 L858.8,164.8 L858.8,169.3 L858.9,173.9 L858.9,178.4 L858.9,182.9 L859.0,187.5 L859.0,192.0 L859.0,196.5 L859.0,201.1 L858.9,205.6 L858.9,210.1 L858.8,214.6 L858.7,219.2 L858.6,223.7 L858.5,228.2 L858.4,232.8 L858.2,237.3 L858.0,241.8 L857.8,246.4 L857.5,250.9 L857.2,255.4 L856.8,260.0 L856.4,264.5 L855.9,269.0 L855.3,273.6 L854.6,278.1 L853.8,282.6 L852.8,287.2 L851.7,291.7 L850.5,296.2 L849.0,300.8 L847.3,305.3 L845.4,309.8 L843.2,314.4 L840.8,318.9 L838.2,323.4 L835.5,328.0 L832.6,332.5 L829.7,337.0 L826.7,341.6 L823.7,346.1 L820.7,350.6 L817.6,355.2 L814.6,359.7 L811.5,364.2 L808.5,368.7 L805.4,373.3 L802.4,377.8 L799.3,382.3 L796.3,386.9 L793.2,391.4 L790.2,395.9 L787.1,400.5 L784.1,405.0 L781.0,409.5 L778.0,414.1 L774.9,418.6 L771.9,423.1 L768.8,427.7 L765.8,432.2 L762.7,436.7 L759.7,441.3 L756.6,445.8 L753.6,450.3 L750.6,454.9 L747.5,459.4 L744.5,463.9 L741.4,468.5 L738.4,473.0 L735.3,477.5 L732.3,482.1 L728.6,487.5"/><path d="M861.5,124.0 L861.5,128.5 L861.6,133.1 L861.7,137.6 L861.7,142.1 L861.8,146.7 L861.8,151.2 L861.9,155.7 L861.9,160.3 L861.9,164.8 L862.0,169.3 L862.0,173.9 L862.0,178.4 L862.0,182.9 L862.1,187.5 L862.1,192.0 L862.1,196.5 L862.0,201.1 L862.0,205.6 L862.0,210.1 L862.0,214.6 L861.9,219.2 L861.9,223.7 L861.8,228.2 L861.7,232.8 L861.6,237.3 L861.5,241.8 L861.3,246.4 L861.1,250.9 L860.9,255.4 L860.7,260.0 L860.4,264.5 L860.1,269.0 L859.7,273.6 L859.3,278.1 L858.8,282.6 L858.2,287.2 L857.4,291.7 L856.6,296.2 L855.6,300.8 L854.3,305.3 L852.9,309.8 L851.2,314.4 L849.2,318.9 L846.9,323.4 L844.3,328.0 L841.5,332.5 L838.5,337.0 L835.4,341.6 L832.2,346.1 L828.9,350.6 L825.6,355.2 L822.3,359.7 L819.0,364.2 L815.6,368.7 L812.3,373.3 L809.0,377.8 L805.7,382.3 L802.3,386.9 L799.0,391.4 L795.7,395.9 L792.4,400.5 L789.1,405.0 L785.7,409.5 L782.4,414.1 L779.1,418.6 L775.8,423.1 L772.4,427.7 L769.1,432.2 L765.8,436.7 L762.5,441.3 L759.2,445.8 L755.8,450.3 L752.5,454.9 L749.2,459.4 L745.9,463.9 L742.6,468.5 L739.2,473.0 L735.9,477.5 L732.6,482.1 L728.6,487.5"/><path d="M864.9,124.0 L864.9,128.5 L865.0,133.1 L865.0,137.6 L865.0,142.1 L865.0,146.7 L865.1,151.2 L865.1,155.7 L865.1,160.3 L865.1,164.8 L865.1,169.3 L865.1,173.9 L865.1,178.4 L865.1,182.9 L865.1,187.5 L865.1,192.0 L865.1,196.5 L865.1,201.1 L865.1,205.6 L865.1,210.1 L865.1,214.6 L865.1,219.2 L865.1,223.7 L865.0,228.2 L865.0,232.8 L865.0,237.3 L864.9,241.8 L864.9,246.4 L864.8,250.9 L864.7,255.4 L864.6,260.0 L864.5,264.5 L864.4,269.0 L864.3,273.6 L864.1,278.1 L863.9,282.6 L863.7,287.2 L863.4,291.7 L863.0,296.2 L862.6,300.8 L862.1,305.3 L861.5,309.8 L860.7,314.4 L859.8,318.9 L858.6,323.4 L857.1,328.0 L855.3,332.5 L853.0,337.0 L850.4,341.6 L847.4,346.1 L844.1,350.6 L840.7,355.2 L837.2,359.7 L833.7,364.2 L830.2,368.7 L826.8,373.3 L823.4,377.8 L820.1,382.3 L816.7,386.9 L813.5,391.4 L810.3,395.9 L807.1,400.5 L804.0,405.0 L800.9,409.5 L797.8,414.1 L794.8,418.6 L791.8,423.1 L788.9,427.7 L785.9,432.2 L783.0,436.7 L780.1,441.3 L777.2,445.8 L774.2,450.3 L771.3,454.9 L768.4,459.4 L765.4,463.9 L762.4,468.5 L759.4,473.0 L756.3,477.5 L753.2,482.1 L749.4,487.5"/><path d="M865.5,124.0 L865.5,128.5 L865.5,133.1 L865.5,137.6 L865.5,142.1 L865.6,146.7 L865.6,151.2 L865.6,155.7 L865.6,160.3 L865.6,164.8 L865.6,169.3 L865.6,173.9 L865.6,178.4 L865.6,182.9 L865.6,187.5 L865.6,192.0 L865.6,196.5 L865.6,201.1 L865.6,205.6 L865.6,210.1 L865.6,214.6 L865.6,219.2 L865.6,223.7 L865.6,228.2 L865.5,232.8 L865.5,237.3 L865.5,241.8 L865.4,246.4 L865.4,250.9 L865.3,255.4 L865.3,260.0 L865.2,264.5 L865.1,269.0 L865.0,273.6 L864.9,278.1 L864.7,282.6 L864.6,287.2 L864.3,291.7 L864.1,296.2 L863.8,300.8 L863.4,305.3 L863.0,309.8 L862.4,314.4 L861.7,318.9 L860.8,323.4 L859.6,328.0 L858.2,332.5 L856.3,337.0 L854.1,341.6 L851.4,346.1 L848.3,350.6 L845.0,355.2 L841.5,359.7 L838.0,364.2 L834.6,368.7 L831.1,373.3 L827.8,377.8 L824.5,382.3 L821.3,386.9 L818.1,391.4 L815.0,395.9 L812.0,400.5 L809.0,405.0 L806.1,409.5 L803.3,414.1 L800.5,418.6 L797.8,423.1 L795.1,427.7 L792.4,432.2 L789.7,436.7 L787.1,441.3 L784.5,445.8 L781.9,450.3 L779.3,454.9 L776.6,459.4 L773.9,463.9 L771.2,468.5 L768.4,473.0 L765.6,477.5 L762.7,482.1 L759.0,487.5"/><path d="M868.2,124.0 L868.2,128.5 L868.2,133.1 L868.2,137.6 L868.2,142.1 L868.2,146.7 L868.2,151.2 L868.2,155.7 L868.1,160.3 L868.1,164.8 L868.1,169.3 L868.1,173.9 L868.1,178.4 L868.1,182.9 L868.1,187.5 L868.1,192.0 L868.1,196.5 L868.1,201.1 L868.1,205.6 L868.1,210.1 L868.1,214.6 L868.1,219.2 L868.2,223.7 L868.2,228.2 L868.2,232.8 L868.2,237.3 L868.2,241.8 L868.3,246.4 L868.3,250.9 L868.4,255.4 L868.4,260.0 L868.5,264.5 L868.6,269.0 L868.6,273.6 L868.7,278.1 L868.9,282.6 L869.0,287.2 L869.2,291.7 L869.4,296.2 L869.6,300.8 L869.9,305.3 L870.3,309.8 L870.8,314.4 L871.4,318.9 L872.1,323.4 L873.1,328.0 L874.4,332.5 L876.0,337.0 L878.1,341.6 L880.8,346.1 L883.9,350.6 L887.4,355.2 L891.2,359.7 L895.1,364.2 L899.1,368.7 L903.2,373.3 L907.2,377.8 L911.3,382.3 L915.3,386.9 L919.4,391.4 L923.5,395.9 L927.5,400.5 L931.6,405.0 L935.6,409.5 L939.7,414.1 L943.7,418.6 L947.8,423.1 L951.8,427.7 L955.9,432.2 L960.0,436.7 L964.0,441.3 L968.1,445.8 L972.1,450.3 L976.2,454.9 L980.2,459.4 L984.3,463.9 L988.4,468.5 L992.4,473.0 L996.5,477.5 L1000.5,482.1 L1005.4,487.5"/><path d="M868.7,124.0 L868.6,128.5 L868.6,133.1 L868.6,137.6 L868.6,142.1 L868.6,146.7 L868.6,151.2 L868.5,155.7 L868.5,160.3 L868.5,164.8 L868.5,169.3 L868.5,173.9 L868.5,178.4 L868.5,182.9 L868.5,187.5 L868.5,192.0 L868.5,196.5 L868.5,201.1 L868.5,205.6 L868.5,210.1 L868.5,214.6 L868.5,219.2 L868.5,223.7 L868.6,228.2 L868.6,232.8 L868.6,237.3 L868.7,241.8 L868.7,246.4 L868.8,250.9 L868.8,255.4 L868.9,260.0 L869.0,264.5 L869.1,269.0 L869.2,273.6 L869.3,278.1 L869.5,282.6 L869.7,287.2 L869.9,291.7 L870.2,296.2 L870.5,300.8 L870.9,305.3 L871.4,309.8 L872.0,314.4 L872.8,318.9 L873.8,323.4 L875.1,328.0 L876.7,332.5 L878.7,337.0 L881.2,341.6 L884.1,346.1 L887.5,350.6 L891.1,355.2 L894.8,359.7 L898.7,364.2 L902.6,368.7 L906.5,373.3 L910.4,377.8 L914.4,382.3 L918.3,386.9 L922.2,391.4 L926.1,395.9 L930.1,400.5 L934.0,405.0 L937.9,409.5 L941.8,414.1 L945.8,418.6 L949.7,423.1 L953.6,427.7 L957.5,432.2 L961.4,436.7 L965.4,441.3 L969.3,445.8 L973.2,450.3 L977.1,454.9 L981.1,459.4 L985.0,463.9 L988.9,468.5 L992.8,473.0 L996.8,477.5 L1000.7,482.1 L1005.4,487.5"/><path d="M869.1,124.0 L869.1,128.5 L869.0,133.1 L869.0,137.6 L869.0,142.1 L869.0,146.7 L868.9,151.2 L868.9,155.7 L868.9,160.3 L868.9,164.8 L868.9,169.3 L868.9,173.9 L868.9,178.4 L868.9,182.9 L868.9,187.5 L868.9,192.0 L868.9,196.5 L868.9,201.1 L868.9,205.6 L868.9,210.1 L868.9,214.6 L868.9,219.2 L868.9,223.7 L869.0,228.2 L869.0,232.8 L869.0,237.3 L869.1,241.8 L869.1,246.4 L869.2,250.9 L869.3,255.4 L869.4,260.0 L869.5,264.5 L869.6,269.0 L869.7,273.6 L869.9,278.1 L870.1,282.6 L870.3,287.2 L870.6,291.7 L871.0,296.2 L871.4,300.8 L871.9,305.3 L872.5,309.8 L873.3,314.4 L874.2,318.9 L875.4,323.4 L877.0,328.0 L878.8,332.5 L881.1,337.0 L883.9,341.6 L887.0,346.1 L890.4,350.6 L894.1,355.2 L897.8,359.7 L901.6,364.2 L905.4,368.7 L909.2,373.3 L913.0,377.8 L916.8,382.3 L920.6,386.9 L924.4,391.4 L928.3,395.9 L932.1,400.5 L935.9,405.0 L939.7,409.5 L943.5,414.1 L947.4,418.6 L951.2,423.1 L955.0,427.7 L958.8,432.2 L962.6,436.7 L966.4,441.3 L970.3,445.8 L974.1,450.3 L977.9,454.9 L981.7,459.4 L985.5,463.9 L989.4,468.5 L993.2,473.0 L997.0,477.5 L1000.8,482.1 L1005.4,487.5"/><path d="M873.2,124.0 L873.2,128.5 L873.1,133.1 L873.0,137.6 L872.9,142.1 L872.9,146.7 L872.8,151.2 L872.8,155.7 L872.7,160.3 L872.7,164.8 L872.7,169.3 L872.6,173.9 L872.6,178.4 L872.6,182.9 L872.6,187.5 L872.6,192.0 L872.6,196.5 L872.6,201.1 L872.6,205.6 L872.6,210.1 L872.7,214.6 L872.7,219.2 L872.8,223.7 L872.9,228.2 L873.0,232.8 L873.1,237.3 L873.2,241.8 L873.4,246.4 L873.6,250.9 L873.8,255.4 L874.1,260.0 L874.4,264.5 L874.7,269.0 L875.2,273.6 L875.7,278.1 L876.2,282.6 L876.9,287.2 L877.7,291.7 L878.7,296.2 L879.8,300.8 L881.1,305.3 L882.7,309.8 L884.5,314.4 L886.7,318.9 L889.0,323.4 L891.7,328.0 L894.5,332.5 L897.5,337.0 L900.6,341.6 L903.8,346.1 L907.0,350.6 L910.3,355.2 L913.5,359.7 L916.8,364.2 L920.1,368.7 L923.3,373.3 L926.6,377.8 L929.8,382.3 L933.1,386.9 L936.3,391.4 L939.6,395.9 L942.9,400.5 L946.1,405.0 L949.4,409.5 L952.6,414.1 L955.9,418.6 L959.1,423.1 L962.4,427.7 L965.7,432.2 L968.9,436.7 L972.2,441.3 L975.4,445.8 L978.7,450.3 L981.9,454.9 L985.2,459.4 L988.5,463.9 L991.7,468.5 L995.0,473.0 L998.2,477.5 L1001.5,482.1 L1005.4,487.5"/><path d="M875.2,124.0 L875.1,128.5 L875.0,133.1 L875.0,137.6 L874.9,142.1 L874.8,146.7 L874.7,151.2 L874.6,155.7 L874.6,160.3 L874.5,164.8 L874.5,169.3 L874.4,173.9 L874.4,178.4 L874.4,182.9 L874.4,187.5 L874.4,192.0 L874.4,196.5 L874.4,201.1 L874.4,205.6 L874.4,210.1 L874.5,214.6 L874.6,219.2 L874.6,223.7 L874.8,228.2 L874.9,232.8 L875.0,237.3 L875.2,241.8 L875.4,246.4 L875.7,250.9 L876.0,255.4 L876.3,260.0 L876.7,264.5 L877.2,269.0 L877.8,273.6 L878.4,278.1 L879.1,282.6 L880.0,287.2 L881.0,291.7 L882.2,296.2 L883.6,300.8 L885.2,305.3 L887.1,309.8 L889.2,314.4 L891.5,318.9 L894.1,323.4 L896.8,328.0 L899.7,332.5 L902.6,337.0 L905.7,341.6 L908.7,346.1 L911.8,350.6 L914.9,355.2 L918.0,359.7 L921.1,364.2 L924.2,368.7 L927.3,373.3 L930.4,377.8 L933.5,382.3 L936.6,386.9 L939.7,391.4 L942.8,395.9 L945.9,400.5 L949.0,405.0 L952.1,409.5 L955.2,414.1 L958.3,418.6 L961.4,423.1 L964.5,427.7 L967.6,432.2 L970.7,436.7 L973.8,441.3 L976.9,445.8 L980.0,450.3 L983.1,454.9 L986.2,459.4 L989.3,463.9 L992.4,468.5 L995.5,473.0 L998.6,477.5 L1001.7,482.1 L1005.4,487.5"/><path d="M876.7,124.0 L876.6,128.5 L876.5,133.1 L876.4,137.6 L876.3,142.1 L876.2,146.7 L876.1,151.2 L876.0,155.7 L875.9,160.3 L875.9,164.8 L875.8,169.3 L875.7,173.9 L875.7,178.4 L875.7,182.9 L875.7,187.5 L875.6,192.0 L875.7,196.5 L875.7,201.1 L875.7,205.6 L875.7,210.1 L875.8,214.6 L875.9,219.2 L876.0,223.7 L876.1,228.2 L876.3,232.8 L876.5,237.3 L876.7,241.8 L876.9,246.4 L877.2,250.9 L877.6,255.4 L878.0,260.0 L878.4,264.5 L879.0,269.0 L879.6,273.6 L880.4,278.1 L881.2,282.6 L882.2,287.2 L883.4,291.7 L884.7,296.2 L886.3,300.8 L888.0,305.3 L890.0,309.8 L892.2,314.4 L894.7,318.9 L897.3,323.4 L900.0,328.0 L902.8,332.5 L905.7,337.0 L908.7,341.6 L911.7,346.1 L914.7,350.6 L917.7,355.2 L920.7,359.7 L923.7,364.2 L926.7,368.7 L929.7,373.3 L932.7,377.8 L935.7,382.3 L938.7,386.9 L941.7,391.4 L944.7,395.9 L947.7,400.5 L950.7,405.0 L953.7,409.5 L956.7,414.1 L959.7,418.6 L962.7,423.1 L965.7,427.7 L968.7,432.2 L971.7,436.7 L974.8,441.3 L977.8,445.8 L980.8,450.3 L983.8,454.9 L986.8,459.4 L989.8,463.9 L992.8,468.5 L995.8,473.0 L998.8,477.5 L1001.8,482.1 L1005.4,487.5"/><path d="M881.5,124.0 L881.4,128.5 L881.2,133.1 L881.0,137.6 L880.9,142.1 L880.7,146.7 L880.6,151.2 L880.5,155.7 L880.4,160.3 L880.3,164.8 L880.2,169.3 L880.1,173.9 L880.1,178.4 L880.0,182.9 L880.0,187.5 L880.0,192.0 L880.0,196.5 L880.0,201.1 L880.0,205.6 L880.1,210.1 L880.2,214.6 L880.3,219.2 L880.5,223.7 L880.7,228.2 L880.9,232.8 L881.2,237.3 L881.5,241.8 L881.9,246.4 L882.3,250.9 L882.8,255.4 L883.4,260.0 L884.0,264.5 L884.8,269.0 L885.7,273.6 L886.7,278.1 L887.9,282.6 L889.2,287.2 L890.8,291.7 L892.4,296.2 L894.3,300.8 L896.4,305.3 L898.6,309.8 L901.0,314.4 L903.5,318.9 L906.0,323.4 L908.7,328.0 L911.4,332.5 L914.1,337.0 L916.8,341.6 L919.6,346.1 L922.3,350.6 L925.1,355.2 L927.8,359.7 L930.6,364.2 L933.3,368.7 L936.1,373.3 L938.8,377.8 L941.6,382.3 L944.3,386.9 L947.1,391.4 L949.8,395.9 L952.6,400.5 L955.3,405.0 L958.1,409.5 L960.8,414.1 L963.6,418.6 L966.3,423.1 L969.1,427.7 L971.8,432.2 L974.6,436.7 L977.3,441.3 L980.1,445.8 L982.8,450.3 L985.6,454.9 L988.3,459.4 L991.1,463.9 L993.8,468.5 L996.6,473.0 L999.3,477.5 L1002.1,482.1 L1005.4,487.5"/><path d="M885.7,124.0 L885.5,128.5 L885.2,133.1 L885.0,137.6 L884.8,142.1 L884.7,146.7 L884.5,151.2 L884.3,155.7 L884.2,160.3 L884.1,164.8 L884.0,169.3 L883.9,173.9 L883.8,178.4 L883.7,182.9 L883.7,187.5 L883.7,192.0 L883.7,196.5 L883.7,201.1 L883.8,205.6 L883.9,210.1 L884.0,214.6 L884.1,219.2 L884.3,223.7 L884.6,228.2 L884.9,232.8 L885.2,237.3 L885.6,241.8 L886.1,246.4 L886.6,250.9 L887.2,255.4 L887.9,260.0 L888.8,264.5 L889.7,269.0 L890.8,273.6 L892.0,278.1 L893.3,282.6 L894.9,287.2 L896.6,291.7 L898.4,296.2 L900.4,300.8 L902.6,305.3 L904.8,309.8 L907.2,314.4 L909.6,318.9 L912.1,323.4 L914.6,328.0 L917.2,332.5 L919.7,337.0 L922.3,341.6 L924.9,346.1 L927.5,350.6 L930.0,355.2 L932.6,359.7 L935.2,364.2 L937.8,368.7 L940.4,373.3 L942.9,377.8 L945.5,382.3 L948.1,386.9 L950.7,391.4 L953.3,395.9 L955.8,400.5 L958.4,405.0 L961.0,409.5 L963.6,414.1 L966.2,418.6 L968.8,423.1 L971.3,427.7 L973.9,432.2 L976.5,436.7 L979.1,441.3 L981.7,445.8 L984.2,450.3 L986.8,454.9 L989.4,459.4 L992.0,463.9 L994.6,468.5 L997.1,473.0 L999.7,477.5 L1002.3,482.1 L1005.4,487.5"/><path d="M903.9,124.0 L903.5,128.5 L903.0,133.1 L902.6,137.6 L902.3,142.1 L901.9,146.7 L901.6,151.2 L901.3,155.7 L901.0,160.3 L900.7,164.8 L900.5,169.3 L900.3,173.9 L900.2,178.4 L900.0,182.9 L900.0,187.5 L899.9,192.0 L899.9,196.5 L900.0,201.1 L900.1,205.6 L900.2,210.1 L900.5,214.6 L900.7,219.2 L901.1,223.7 L901.5,228.2 L902.0,232.8 L902.6,237.3 L903.3,241.8 L904.0,246.4 L904.9,250.9 L905.9,255.4 L907.0,260.0 L908.2,264.5 L909.5,269.0 L910.9,273.6 L912.5,278.1 L914.1,282.6 L915.8,287.2 L917.6,291.7 L919.5,296.2 L921.4,300.8 L923.4,305.3 L925.4,309.8 L927.4,314.4 L929.4,318.9 L931.4,323.4 L933.5,328.0 L935.5,332.5 L937.5,337.0 L939.6,341.6 L941.6,346.1 L943.7,350.6 L945.7,355.2 L947.8,359.7 L949.8,364.2 L951.8,368.7 L953.9,373.3 L955.9,377.8 L958.0,382.3 L960.0,386.9 L962.1,391.4 L964.1,395.9 L966.2,400.5 L968.2,405.0 L970.2,409.5 L972.3,414.1 L974.3,418.6 L976.4,423.1 L978.4,427.7 L980.5,432.2 L982.5,436.7 L984.6,441.3 L986.6,445.8 L988.6,450.3 L990.7,454.9 L992.7,459.4 L994.8,463.9 L996.8,468.5 L998.9,473.0 L1000.9,477.5 L1002.9,482.1 L1005.4,487.5"/><path d="M905.8,124.0 L905.3,128.5 L904.8,133.1 L904.4,137.6 L904.0,142.1 L903.6,146.7 L903.3,151.2 L903.0,155.7 L902.7,160.3 L902.4,164.8 L902.2,169.3 L902.0,173.9 L901.8,178.4 L901.7,182.9 L901.6,187.5 L901.6,192.0 L901.6,196.5 L901.6,201.1 L901.7,205.6 L901.9,210.1 L902.1,214.6 L902.4,219.2 L902.7,223.7 L903.2,228.2 L903.7,232.8 L904.3,237.3 L905.0,241.8 L905.8,246.4 L906.7,250.9 L907.7,255.4 L908.8,260.0 L910.0,264.5 L911.3,269.0 L912.8,273.6 L914.3,278.1 L916.0,282.6 L917.7,287.2 L919.5,291.7 L921.3,296.2 L923.2,300.8 L925.1,305.3 L927.1,309.8 L929.0,314.4 L931.0,318.9 L933.0,323.4 L935.0,328.0 L937.0,332.5 L939.0,337.0 L941.0,341.6 L943.0,346.1 L945.0,350.6 L947.0,355.2 L949.0,359.7 L951.0,364.2 L953.0,368.7 L955.0,373.3 L957.0,377.8 L959.0,382.3 L961.0,386.9 L963.0,391.4 L965.0,395.9 L967.0,400.5 L969.0,405.0 L971.0,409.5 L973.0,414.1 L975.0,418.6 L977.0,423.1 L979.0,427.7 L981.0,432.2 L983.0,436.7 L985.0,441.3 L987.0,445.8 L989.0,450.3 L991.0,454.9 L993.0,459.4 L995.0,463.9 L997.0,468.5 L999.0,473.0 L1001.0,477.5 L1003.0,482.1 L1005.4,487.5"/><path d="M916.8,124.0 L916.2,128.5 L915.6,133.1 L915.1,137.6 L914.6,142.1 L914.1,146.7 L913.6,151.2 L913.2,155.7 L912.8,160.3 L912.5,164.8 L912.2,169.3 L912.0,173.9 L911.7,178.4 L911.6,182.9 L911.5,187.5 L911.4,192.0 L911.4,196.5 L911.5,201.1 L911.6,205.6 L911.8,210.1 L912.0,214.6 L912.4,219.2 L912.8,223.7 L913.3,228.2 L913.9,232.8 L914.5,237.3 L915.3,241.8 L916.2,246.4 L917.1,250.9 L918.2,255.4 L919.4,260.0 L920.6,264.5 L922.0,269.0 L923.4,273.6 L924.9,278.1 L926.5,282.6 L928.1,287.2 L929.7,291.7 L931.4,296.2 L933.1,300.8 L934.8,305.3 L936.6,309.8 L938.3,314.4 L940.0,318.9 L941.8,323.4 L943.6,328.0 L945.3,332.5 L947.1,337.0 L948.8,341.6 L950.6,346.1 L952.3,350.6 L954.1,355.2 L955.8,359.7 L957.6,364.2 L959.4,368.7 L961.1,373.3 L962.9,377.8 L964.6,382.3 L966.4,386.9 L968.1,391.4 L969.9,395.9 L971.7,400.5 L973.4,405.0 L975.2,409.5 L976.9,414.1 L978.7,418.6 L980.4,423.1 L982.2,427.7 L984.0,432.2 L985.7,436.7 L987.5,441.3 L989.2,445.8 L991.0,450.3 L992.7,454.9 L994.5,459.4 L996.3,463.9 L998.0,468.5 L999.8,473.0 L1001.5,477.5 L1003.3,482.1 L1005.4,487.5"/><path d="M918.6,124.0 L918.0,128.5 L917.4,133.1 L916.8,137.6 L916.3,142.1 L915.8,146.7 L915.3,151.2 L914.9,155.7 L914.5,160.3 L914.1,164.8 L913.8,169.3 L913.5,173.9 L913.3,178.4 L913.2,182.9 L913.0,187.5 L913.0,192.0 L913.0,196.5 L913.0,201.1 L913.1,205.6 L913.3,210.1 L913.6,214.6 L913.9,219.2 L914.4,223.7 L914.9,228.2 L915.5,232.8 L916.1,237.3 L916.9,241.8 L917.8,246.4 L918.8,250.9 L919.8,255.4 L921.0,260.0 L922.3,264.5 L923.6,269.0 L925.0,273.6 L926.5,278.1 L928.0,282.6 L929.6,287.2 L931.2,291.7 L932.9,296.2 L934.6,300.8 L936.3,305.3 L938.0,309.8 L939.7,314.4 L941.4,318.9 L943.1,323.4 L944.8,328.0 L946.5,332.5 L948.3,337.0 L950.0,341.6 L951.7,346.1 L953.4,350.6 L955.1,355.2 L956.9,359.7 L958.6,364.2 L960.3,368.7 L962.0,373.3 L963.7,377.8 L965.5,382.3 L967.2,386.9 L968.9,391.4 L970.6,395.9 L972.4,400.5 L974.1,405.0 L975.8,409.5 L977.5,414.1 L979.2,418.6 L981.0,423.1 L982.7,427.7 L984.4,432.2 L986.1,436.7 L987.8,441.3 L989.6,445.8 L991.3,450.3 L993.0,454.9 L994.7,459.4 L996.4,463.9 L998.2,468.5 L999.9,473.0 L1001.6,477.5 L1003.3,482.1 L1005.4,487.5"/><path d="M927.2,124.0 L926.5,128.5 L925.8,133.1 L925.1,137.6 L924.5,142.1 L923.9,146.7 L923.4,151.2 L922.9,155.7 L922.4,160.3 L922.0,164.8 L921.6,169.3 L921.3,173.9 L921.1,178.4 L920.9,182.9 L920.7,187.5 L920.6,192.0 L920.6,196.5 L920.7,201.1 L920.8,205.6 L921.0,210.1 L921.3,214.6 L921.6,219.2 L922.1,223.7 L922.6,228.2 L923.2,232.8 L923.9,237.3 L924.7,241.8 L925.6,246.4 L926.6,250.9 L927.7,255.4 L928.8,260.0 L930.0,264.5 L931.3,269.0 L932.7,273.6 L934.0,278.1 L935.5,282.6 L936.9,287.2 L938.4,291.7 L939.9,296.2 L941.5,300.8 L943.0,305.3 L944.5,309.8 L946.1,314.4 L947.6,318.9 L949.2,323.4 L950.7,328.0 L952.3,332.5 L953.8,337.0 L955.4,341.6 L957.0,346.1 L958.5,350.6 L960.1,355.2 L961.6,359.7 L963.2,364.2 L964.7,368.7 L966.3,373.3 L967.8,377.8 L969.4,382.3 L970.9,386.9 L972.5,391.4 L974.0,395.9 L975.6,400.5 L977.1,405.0 L978.7,409.5 L980.2,414.1 L981.8,418.6 L983.3,423.1 L984.9,427.7 L986.5,432.2 L988.0,436.7 L989.6,441.3 L991.1,445.8 L992.7,450.3 L994.2,454.9 L995.8,459.4 L997.3,463.9 L998.9,468.5 L1000.4,473.0 L1002.0,477.5 L1003.5,482.1 L1005.4,487.5"/><path d="M928.6,124.0 L927.9,128.5 L927.2,133.1 L926.5,137.6 L925.8,142.1 L925.2,146.7 L924.7,151.2 L924.2,155.7 L923.7,160.3 L923.3,164.8 L922.9,169.3 L922.6,173.9 L922.3,178.4 L922.1,182.9 L922.0,187.5 L921.9,192.0 L921.9,196.5 L921.9,201.1 L922.0,205.6 L922.2,210.1 L922.5,214.6 L922.9,219.2 L923.3,223.7 L923.8,228.2 L924.5,232.8 L925.2,237.3 L926.0,241.8 L926.9,246.4 L927.9,250.9 L928.9,255.4 L930.1,260.0 L931.3,264.5 L932.5,269.0 L933.9,273.6 L935.3,278.1 L936.7,282.6 L938.1,287.2 L939.6,291.7 L941.1,296.2 L942.6,300.8 L944.1,305.3 L945.6,309.8 L947.1,314.4 L948.6,318.9 L950.2,323.4 L951.7,328.0 L953.2,332.5 L954.7,337.0 L956.3,341.6 L957.8,346.1 L959.3,350.6 L960.8,355.2 L962.4,359.7 L963.9,364.2 L965.4,368.7 L966.9,373.3 L968.5,377.8 L970.0,382.3 L971.5,386.9 L973.0,391.4 L974.6,395.9 L976.1,400.5 L977.6,405.0 L979.2,409.5 L980.7,414.1 L982.2,418.6 L983.7,423.1 L985.3,427.7 L986.8,432.2 L988.3,436.7 L989.8,441.3 L991.4,445.8 L992.9,450.3 L994.4,454.9 L995.9,459.4 L997.5,463.9 L999.0,468.5 L1000.5,473.0 L1002.0,477.5 L1003.6,482.1 L1005.4,487.5"/><path d="M929.2,124.0 L928.4,128.5 L927.7,133.1 L927.0,137.6 L926.3,142.1 L925.7,146.7 L925.2,151.2 L924.7,155.7 L924.2,160.3 L923.8,164.8 L923.4,169.3 L923.1,173.9 L922.8,178.4 L922.6,182.9 L922.4,187.5 L922.4,192.0 L922.3,196.5 L922.4,201.1 L922.5,205.6 L922.7,210.1 L923.0,214.6 L923.3,219.2 L923.8,223.7 L924.3,228.2 L924.9,232.8 L925.7,237.3 L926.5,241.8 L927.3,246.4 L928.3,250.9 L929.4,255.4 L930.5,260.0 L931.7,264.5 L933.0,269.0 L934.3,273.6 L935.7,278.1 L937.1,282.6 L938.5,287.2 L940.0,291.7 L941.5,296.2 L943.0,300.8 L944.5,305.3 L946.0,309.8 L947.5,314.4 L949.0,318.9 L950.5,323.4 L952.0,328.0 L953.5,332.5 L955.1,337.0 L956.6,341.6 L958.1,346.1 L959.6,350.6 L961.1,355.2 L962.6,359.7 L964.2,364.2 L965.7,368.7 L967.2,373.3 L968.7,377.8 L970.2,382.3 L971.7,386.9 L973.3,391.4 L974.8,395.9 L976.3,400.5 L977.8,405.0 L979.3,409.5 L980.8,414.1 L982.4,418.6 L983.9,423.1 L985.4,427.7 L986.9,432.2 L988.4,436.7 L989.9,441.3 L991.4,445.8 L993.0,450.3 L994.5,454.9 L996.0,459.4 L997.5,463.9 L999.0,468.5 L1000.5,473.0 L1002.1,477.5 L1003.6,482.1 L1005.4,487.5"/><path d="M931.4,124.0 L930.6,128.5 L929.8,133.1 L929.1,137.6 L928.5,142.1 L927.8,146.7 L927.2,151.2 L926.7,155.7 L926.2,160.3 L925.8,164.8 L925.4,169.3 L925.1,173.9 L924.8,178.4 L924.6,182.9 L924.4,187.5 L924.3,192.0 L924.3,196.5 L924.3,201.1 L924.4,205.6 L924.6,210.1 L924.9,214.6 L925.3,219.2 L925.7,223.7 L926.3,228.2 L926.9,232.8 L927.6,237.3 L928.4,241.8 L929.3,246.4 L930.3,250.9 L931.3,255.4 L932.5,260.0 L933.6,264.5 L934.9,269.0 L936.2,273.6 L937.5,278.1 L938.9,282.6 L940.3,287.2 L941.7,291.7 L943.2,296.2 L944.6,300.8 L946.1,305.3 L947.6,309.8 L949.0,314.4 L950.5,318.9 L952.0,323.4 L953.5,328.0 L954.9,332.5 L956.4,337.0 L957.9,341.6 L959.4,346.1 L960.8,350.6 L962.3,355.2 L963.8,359.7 L965.3,364.2 L966.7,368.7 L968.2,373.3 L969.7,377.8 L971.2,382.3 L972.6,386.9 L974.1,391.4 L975.6,395.9 L977.1,400.5 L978.5,405.0 L980.0,409.5 L981.5,414.1 L983.0,418.6 L984.4,423.1 L985.9,427.7 L987.4,432.2 L988.9,436.7 L990.3,441.3 L991.8,445.8 L993.3,450.3 L994.8,454.9 L996.3,459.4 L997.7,463.9 L999.2,468.5 L1000.7,473.0 L1002.2,477.5 L1003.6,482.1 L1005.4,487.5"/><path d="M936.2,124.0 L935.4,128.5 L934.6,133.1 L933.8,137.6 L933.1,142.1 L932.4,146.7 L931.8,151.2 L931.2,155.7 L930.7,160.3 L930.2,164.8 L929.8,169.3 L929.4,173.9 L929.1,178.4 L928.9,182.9 L928.7,187.5 L928.6,192.0 L928.6,196.5 L928.6,201.1 L928.7,205.6 L928.9,210.1 L929.2,214.6 L929.6,219.2 L930.0,223.7 L930.5,228.2 L931.2,232.8 L931.9,237.3 L932.7,241.8 L933.5,246.4 L934.5,250.9 L935.5,255.4 L936.6,260.0 L937.8,264.5 L939.0,269.0 L940.2,273.6 L941.5,278.1 L942.8,282.6 L944.1,287.2 L945.5,291.7 L946.9,296.2 L948.2,300.8 L949.6,305.3 L951.0,309.8 L952.4,314.4 L953.8,318.9 L955.1,323.4 L956.5,328.0 L957.9,332.5 L959.3,337.0 L960.7,341.6 L962.1,346.1 L963.5,350.6 L964.9,355.2 L966.3,359.7 L967.6,364.2 L969.0,368.7 L970.4,373.3 L971.8,377.8 L973.2,382.3 L974.6,386.9 L976.0,391.4 L977.4,395.9 L978.7,400.5 L980.1,405.0 L981.5,409.5 L982.9,414.1 L984.3,418.6 L985.7,423.1 L987.1,427.7 L988.5,432.2 L989.9,436.7 L991.2,441.3 L992.6,445.8 L994.0,450.3 L995.4,454.9 L996.8,459.4 L998.2,463.9 L999.6,468.5 L1001.0,473.0 L1002.3,477.5 L1003.7,482.1 L1005.4,487.5"/><path d="M940.4,124.0 L939.5,128.5 L938.6,133.1 L937.8,137.6 L937.0,142.1 L936.3,146.7 L935.7,151.2 L935.1,155.7 L934.5,160.3 L934.0,164.8 L933.5,169.3 L933.2,173.9 L932.8,178.4 L932.6,182.9 L932.4,187.5 L932.3,192.0 L932.2,196.5 L932.3,201.1 L932.4,205.6 L932.6,210.1 L932.8,214.6 L933.2,219.2 L933.6,223.7 L934.2,228.2 L934.8,232.8 L935.5,237.3 L936.3,241.8 L937.1,246.4 L938.1,250.9 L939.1,255.4 L940.1,260.0 L941.3,264.5 L942.4,269.0 L943.6,273.6 L944.8,278.1 L946.1,282.6 L947.4,287.2 L948.6,291.7 L949.9,296.2 L951.2,300.8 L952.5,305.3 L953.8,309.8 L955.2,314.4 L956.5,318.9 L957.8,323.4 L959.1,328.0 L960.4,332.5 L961.7,337.0 L963.0,341.6 L964.4,346.1 L965.7,350.6 L967.0,355.2 L968.3,359.7 L969.6,364.2 L970.9,368.7 L972.3,373.3 L973.6,377.8 L974.9,382.3 L976.2,386.9 L977.5,391.4 L978.8,395.9 L980.1,400.5 L981.5,405.0 L982.8,409.5 L984.1,414.1 L985.4,418.6 L986.7,423.1 L988.0,427.7 L989.4,432.2 L990.7,436.7 L992.0,441.3 L993.3,445.8 L994.6,450.3 L995.9,454.9 L997.2,459.4 L998.6,463.9 L999.9,468.5 L1001.2,473.0 L1002.5,477.5 L1003.8,482.1 L1005.4,487.5"/><path d="M950.0,124.0 L949.0,128.5 L948.1,133.1 L947.2,137.6 L946.3,142.1 L945.5,146.7 L944.7,151.2 L944.0,155.7 L943.4,160.3 L942.8,164.8 L942.3,169.3 L941.9,173.9 L941.5,178.4 L941.2,182.9 L941.0,187.5 L940.8,192.0 L940.8,196.5 L940.8,201.1 L940.9,205.6 L941.0,210.1 L941.3,214.6 L941.6,219.2 L942.1,223.7 L942.6,228.2 L943.2,232.8 L943.8,237.3 L944.6,241.8 L945.4,246.4 L946.2,250.9 L947.2,255.4 L948.1,260.0 L949.1,264.5 L950.2,269.0 L951.3,273.6 L952.3,278.1 L953.5,282.6 L954.6,287.2 L955.7,291.7 L956.8,296.2 L958.0,300.8 L959.1,305.3 L960.3,309.8 L961.4,314.4 L962.6,318.9 L963.7,323.4 L964.9,328.0 L966.0,332.5 L967.2,337.0 L968.3,341.6 L969.5,346.1 L970.6,350.6 L971.8,355.2 L972.9,359.7 L974.1,364.2 L975.2,368.7 L976.4,373.3 L977.5,377.8 L978.7,382.3 L979.8,386.9 L981.0,391.4 L982.2,395.9 L983.3,400.5 L984.5,405.0 L985.6,409.5 L986.8,414.1 L987.9,418.6 L989.1,423.1 L990.2,427.7 L991.4,432.2 L992.5,436.7 L993.7,441.3 L994.8,445.8 L996.0,450.3 L997.1,454.9 L998.3,459.4 L999.4,463.9 L1000.6,468.5 L1001.7,473.0 L1002.9,477.5 L1004.0,482.1 L1005.4,487.5"/><path d="M954.9,124.0 L953.8,128.5 L952.8,133.1 L951.8,137.6 L950.9,142.1 L950.1,146.7 L949.3,151.2 L948.5,155.7 L947.9,160.3 L947.3,164.8 L946.7,169.3 L946.2,173.9 L945.8,178.4 L945.5,182.9 L945.3,187.5 L945.1,192.0 L945.0,196.5 L945.0,201.1 L945.1,205.6 L945.3,210.1 L945.5,214.6 L945.8,219.2 L946.2,223.7 L946.7,228.2 L947.3,232.8 L947.9,237.3 L948.7,241.8 L949.4,246.4 L950.2,250.9 L951.1,255.4 L952.0,260.0 L953.0,264.5 L954.0,269.0 L955.0,273.6 L956.0,278.1 L957.0,282.6 L958.1,287.2 L959.1,291.7 L960.2,296.2 L961.3,300.8 L962.3,305.3 L963.4,309.8 L964.5,314.4 L965.5,318.9 L966.6,323.4 L967.7,328.0 L968.8,332.5 L969.8,337.0 L970.9,341.6 L972.0,346.1 L973.0,350.6 L974.1,355.2 L975.2,359.7 L976.3,364.2 L977.3,368.7 L978.4,373.3 L979.5,377.8 L980.5,382.3 L981.6,386.9 L982.7,391.4 L983.8,395.9 L984.8,400.5 L985.9,405.0 L987.0,409.5 L988.0,414.1 L989.1,418.6 L990.2,423.1 L991.3,427.7 L992.3,432.2 L993.4,436.7 L994.5,441.3 L995.5,445.8 L996.6,450.3 L997.7,454.9 L998.8,459.4 L999.8,463.9 L1000.9,468.5 L1002.0,473.0 L1003.0,477.5 L1004.1,482.1 L1005.4,487.5"/><path d="M958.3,124.0 L957.2,128.5 L956.2,133.1 L955.2,137.6 L954.2,142.1 L953.3,146.7 L952.5,151.2 L951.7,155.7 L951.0,160.3 L950.4,164.8 L949.8,169.3 L949.4,173.9 L948.9,178.4 L948.6,182.9 L948.3,187.5 L948.2,192.0 L948.1,196.5 L948.0,201.1 L948.1,205.6 L948.3,210.1 L948.5,214.6 L948.8,219.2 L949.2,223.7 L949.7,228.2 L950.2,232.8 L950.9,237.3 L951.5,241.8 L952.3,246.4 L953.1,250.9 L953.9,255.4 L954.8,260.0 L955.7,264.5 L956.6,269.0 L957.6,273.6 L958.6,278.1 L959.6,282.6 L960.5,287.2 L961.6,291.7 L962.6,296.2 L963.6,300.8 L964.6,305.3 L965.6,309.8 L966.6,314.4 L967.6,318.9 L968.6,323.4 L969.7,328.0 L970.7,332.5 L971.7,337.0 L972.7,341.6 L973.7,346.1 L974.7,350.6 L975.7,355.2 L976.8,359.7 L977.8,364.2 L978.8,368.7 L979.8,373.3 L980.8,377.8 L981.8,382.3 L982.9,386.9 L983.9,391.4 L984.9,395.9 L985.9,400.5 L986.9,405.0 L987.9,409.5 L988.9,414.1 L990.0,418.6 L991.0,423.1 L992.0,427.7 L993.0,432.2 L994.0,436.7 L995.0,441.3 L996.1,445.8 L997.1,450.3 L998.1,454.9 L999.1,459.4 L1000.1,463.9 L1001.1,468.5 L1002.1,473.0 L1003.2,477.5 L1004.2,482.1 L1005.4,487.5"/><path d="M960.0,124.0 L958.9,128.5 L957.8,133.1 L956.8,137.6 L955.8,142.1 L954.9,146.7 L954.1,151.2 L953.3,155.7 L952.6,160.3 L951.9,164.8 L951.3,169.3 L950.8,173.9 L950.4,178.4 L950.1,182.9 L949.8,187.5 L949.6,192.0 L949.5,196.5 L949.5,201.1 L949.6,205.6 L949.7,210.1 L949.9,214.6 L950.2,219.2 L950.6,223.7 L951.1,228.2 L951.6,232.8 L952.2,237.3 L952.9,241.8 L953.6,246.4 L954.4,250.9 L955.2,255.4 L956.1,260.0 L957.0,264.5 L957.9,269.0 L958.8,273.6 L959.8,278.1 L960.7,282.6 L961.7,287.2 L962.7,291.7 L963.7,296.2 L964.7,300.8 L965.6,305.3 L966.6,309.8 L967.6,314.4 L968.6,318.9 L969.6,323.4 L970.6,328.0 L971.6,332.5 L972.6,337.0 L973.6,341.6 L974.5,346.1 L975.5,350.6 L976.5,355.2 L977.5,359.7 L978.5,364.2 L979.5,368.7 L980.5,373.3 L981.5,377.8 L982.5,382.3 L983.4,386.9 L984.4,391.4 L985.4,395.9 L986.4,400.5 L987.4,405.0 L988.4,409.5 L989.4,414.1 L990.4,418.6 L991.4,423.1 L992.3,427.7 L993.3,432.2 L994.3,436.7 L995.3,441.3 L996.3,445.8 L997.3,450.3 L998.3,454.9 L999.3,459.4 L1000.3,463.9 L1001.2,468.5 L1002.2,473.0 L1003.2,477.5 L1004.2,482.1 L1005.4,487.5"/><path d="M961.8,124.0 L960.6,128.5 L959.5,133.1 L958.5,137.6 L957.5,142.1 L956.6,146.7 L955.7,151.2 L954.9,155.7 L954.2,160.3 L953.6,164.8 L953.0,169.3 L952.5,173.9 L952.0,178.4 L951.7,182.9 L951.4,187.5 L951.2,192.0 L951.1,196.5 L951.1,201.1 L951.1,205.6 L951.3,210.1 L951.5,214.6 L951.8,219.2 L952.2,223.7 L952.6,228.2 L953.2,232.8 L953.8,237.3 L954.4,241.8 L955.1,246.4 L955.9,250.9 L956.7,255.4 L957.5,260.0 L958.4,264.5 L959.3,269.0 L960.2,273.6 L961.1,278.1 L962.0,282.6 L963.0,287.2 L963.9,291.7 L964.9,296.2 L965.8,300.8 L966.8,305.3 L967.8,309.8 L968.7,314.4 L969.7,318.9 L970.6,323.4 L971.6,328.0 L972.6,332.5 L973.5,337.0 L974.5,341.6 L975.4,346.1 L976.4,350.6 L977.4,355.2 L978.3,359.7 L979.3,364.2 L980.2,368.7 L981.2,373.3 L982.2,377.8 L983.1,382.3 L984.1,386.9 L985.0,391.4 L986.0,395.9 L987.0,400.5 L987.9,405.0 L988.9,409.5 L989.8,414.1 L990.8,418.6 L991.8,423.1 L992.7,427.7 L993.7,432.2 L994.6,436.7 L995.6,441.3 L996.6,445.8 L997.5,450.3 L998.5,454.9 L999.4,459.4 L1000.4,463.9 L1001.4,468.5 L1002.3,473.0 L1003.3,477.5 L1004.2,482.1 L1005.4,487.5"/><path d="M969.4,124.0 L968.2,128.5 L967.0,133.1 L965.9,137.6 L964.8,142.1 L963.8,146.7 L962.9,151.2 L962.0,155.7 L961.2,160.3 L960.5,164.8 L959.9,169.3 L959.3,173.9 L958.8,178.4 L958.4,182.9 L958.1,187.5 L957.9,192.0 L957.8,196.5 L957.7,201.1 L957.7,205.6 L957.8,210.1 L958.0,214.6 L958.3,219.2 L958.6,223.7 L959.0,228.2 L959.5,232.8 L960.1,237.3 L960.6,241.8 L961.3,246.4 L962.0,250.9 L962.7,255.4 L963.4,260.0 L964.2,264.5 L965.0,269.0 L965.8,273.6 L966.6,278.1 L967.4,282.6 L968.2,287.2 L969.1,291.7 L969.9,296.2 L970.8,300.8 L971.6,305.3 L972.4,309.8 L973.3,314.4 L974.1,318.9 L975.0,323.4 L975.8,328.0 L976.6,332.5 L977.5,337.0 L978.3,341.6 L979.2,346.1 L980.0,350.6 L980.8,355.2 L981.7,359.7 L982.5,364.2 L983.4,368.7 L984.2,373.3 L985.0,377.8 L985.9,382.3 L986.7,386.9 L987.6,391.4 L988.4,395.9 L989.3,400.5 L990.1,405.0 L990.9,409.5 L991.8,414.1 L992.6,418.6 L993.5,423.1 L994.3,427.7 L995.1,432.2 L996.0,436.7 L996.8,441.3 L997.7,445.8 L998.5,450.3 L999.3,454.9 L1000.2,459.4 L1001.0,463.9 L1001.9,468.5 L1002.7,473.0 L1003.5,477.5 L1004.4,482.1 L1005.4,487.5"/><path d="M977.7,124.0 L976.4,128.5 L975.1,133.1 L973.9,137.6 L972.7,142.1 L971.6,146.7 L970.6,151.2 L969.7,155.7 L968.9,160.3 L968.1,164.8 L967.4,169.3 L966.8,173.9 L966.3,178.4 L965.8,182.9 L965.5,187.5 L965.2,192.0 L965.0,196.5 L964.9,201.1 L964.9,205.6 L965.0,210.1 L965.1,214.6 L965.3,219.2 L965.6,223.7 L966.0,228.2 L966.4,232.8 L966.8,237.3 L967.3,241.8 L967.9,246.4 L968.5,250.9 L969.1,255.4 L969.7,260.0 L970.4,264.5 L971.1,269.0 L971.8,273.6 L972.5,278.1 L973.2,282.6 L973.9,287.2 L974.6,291.7 L975.3,296.2 L976.0,300.8 L976.7,305.3 L977.4,309.8 L978.1,314.4 L978.8,318.9 L979.6,323.4 L980.3,328.0 L981.0,332.5 L981.7,337.0 L982.4,341.6 L983.1,346.1 L983.8,350.6 L984.6,355.2 L985.3,359.7 L986.0,364.2 L986.7,368.7 L987.4,373.3 L988.1,377.8 L988.8,382.3 L989.6,386.9 L990.3,391.4 L991.0,395.9 L991.7,400.5 L992.4,405.0 L993.1,409.5 L993.8,414.1 L994.6,418.6 L995.3,423.1 L996.0,427.7 L996.7,432.2 L997.4,436.7 L998.1,441.3 L998.8,445.8 L999.5,450.3 L1000.3,454.9 L1001.0,459.4 L1001.7,463.9 L1002.4,468.5 L1003.1,473.0 L1003.8,477.5 L1004.5,482.1 L1005.4,487.5"/><path d="M1005.8,124.0 L1004.1,128.5 L1002.5,133.1 L1001.0,137.6 L999.5,142.1 L998.2,146.7 L996.9,151.2 L995.7,155.7 L994.6,160.3 L993.7,164.8 L992.8,169.3 L992.0,173.9 L991.3,178.4 L990.7,182.9 L990.1,187.5 L989.7,192.0 L989.3,196.5 L989.1,201.1 L988.9,205.6 L988.8,210.1 L988.7,214.6 L988.7,219.2 L988.8,223.7 L988.9,228.2 L989.0,232.8 L989.2,237.3 L989.4,241.8 L989.6,246.4 L989.8,250.9 L990.1,255.4 L990.4,260.0 L990.6,264.5 L990.9,269.0 L991.2,273.6 L991.5,278.1 L991.8,282.6 L992.1,287.2 L992.4,291.7 L992.7,296.2 L993.0,300.8 L993.3,305.3 L993.6,309.8 L993.9,314.4 L994.2,318.9 L994.5,323.4 L994.8,328.0 L995.1,332.5 L995.4,337.0 L995.7,341.6 L996.0,346.1 L996.3,350.6 L996.6,355.2 L996.9,359.7 L997.2,364.2 L997.5,368.7 L997.8,373.3 L998.1,377.8 L998.4,382.3 L998.7,386.9 L999.0,391.4 L999.3,395.9 L999.6,400.5 L999.9,405.0 L1000.2,409.5 L1000.5,414.1 L1000.8,418.6 L1001.1,423.1 L1001.4,427.7 L1001.7,432.2 L1002.0,436.7 L1002.3,441.3 L1002.6,445.8 L1002.9,450.3 L1003.2,454.9 L1003.5,459.4 L1003.8,463.9 L1004.1,468.5 L1004.4,473.0 L1004.7,477.5 L1005.0,482.1 L1005.4,487.5"/><path d="M1007.5,124.0 L1005.8,128.5 L1004.1,133.1 L1002.6,137.6 L1001.1,142.1 L999.8,146.7 L998.5,151.2 L997.3,155.7 L996.2,160.3 L995.2,164.8 L994.3,169.3 L993.5,173.9 L992.8,178.4 L992.2,182.9 L991.6,187.5 L991.2,192.0 L990.8,196.5 L990.5,201.1 L990.3,205.6 L990.2,210.1 L990.1,214.6 L990.1,219.2 L990.1,223.7 L990.2,228.2 L990.3,232.8 L990.5,237.3 L990.7,241.8 L990.9,246.4 L991.1,250.9 L991.3,255.4 L991.6,260.0 L991.8,264.5 L992.1,269.0 L992.4,273.6 L992.6,278.1 L992.9,282.6 L993.2,287.2 L993.5,291.7 L993.7,296.2 L994.0,300.8 L994.3,305.3 L994.6,309.8 L994.8,314.4 L995.1,318.9 L995.4,323.4 L995.7,328.0 L995.9,332.5 L996.2,337.0 L996.5,341.6 L996.8,346.1 L997.1,350.6 L997.3,355.2 L997.6,359.7 L997.9,364.2 L998.2,368.7 L998.4,373.3 L998.7,377.8 L999.0,382.3 L999.3,386.9 L999.5,391.4 L999.8,395.9 L1000.1,400.5 L1000.4,405.0 L1000.6,409.5 L1000.9,414.1 L1001.2,418.6 L1001.5,423.1 L1001.8,427.7 L1002.0,432.2 L1002.3,436.7 L1002.6,441.3 L1002.9,445.8 L1003.1,450.3 L1003.4,454.9 L1003.7,459.4 L1004.0,463.9 L1004.2,468.5 L1004.5,473.0 L1004.8,477.5 L1005.1,482.1 L1005.4,487.5"/><path d="M1019.9,124.0 L1018.1,128.5 L1016.3,133.1 L1014.6,137.6 L1013.0,142.1 L1011.5,146.7 L1010.1,151.2 L1008.8,155.7 L1007.6,160.3 L1006.5,164.8 L1005.6,169.3 L1004.7,173.9 L1003.8,178.4 L1003.1,182.9 L1002.5,187.5 L1002.0,192.0 L1001.5,196.5 L1001.2,201.1 L1000.9,205.6 L1000.6,210.1 L1000.4,214.6 L1000.3,219.2 L1000.2,223.7 L1000.2,228.2 L1000.1,232.8 L1000.1,237.3 L1000.2,241.8 L1000.2,246.4 L1000.3,250.9 L1000.4,255.4 L1000.4,260.0 L1000.5,264.5 L1000.6,269.0 L1000.7,273.6 L1000.8,278.1 L1000.9,282.6 L1001.0,287.2 L1001.1,291.7 L1001.2,296.2 L1001.3,300.8 L1001.4,305.3 L1001.5,309.8 L1001.6,314.4 L1001.7,318.9 L1001.8,323.4 L1001.9,328.0 L1002.0,332.5 L1002.1,337.0 L1002.2,341.6 L1002.3,346.1 L1002.4,350.6 L1002.5,355.2 L1002.6,359.7 L1002.7,364.2 L1002.8,368.7 L1002.9,373.3 L1003.0,377.8 L1003.1,382.3 L1003.2,386.9 L1003.3,391.4 L1003.4,395.9 L1003.5,400.5 L1003.6,405.0 L1003.7,409.5 L1003.8,414.1 L1003.9,418.6 L1004.0,423.1 L1004.1,427.7 L1004.2,432.2 L1004.3,436.7 L1004.4,441.3 L1004.5,445.8 L1004.6,450.3 L1004.7,454.9 L1004.8,459.4 L1004.9,463.9 L1005.0,468.5 L1005.1,473.0 L1005.2,477.5 L1005.3,482.1 L1005.4,487.5"/></g>
<g clip-path="url(#c_s4)" fill="none" stroke="#cacaca" stroke-width="3.0"><path d="M1090.8,124.0 L1092.3,128.5 L1093.8,133.1 L1095.1,137.6 L1096.4,142.1 L1097.6,146.7 L1098.7,151.2 L1099.8,155.7 L1100.7,160.3 L1101.5,164.8 L1102.3,169.3 L1103.0,173.9 L1103.5,178.4 L1104.0,182.9 L1104.4,187.5 L1104.7,192.0 L1104.9,196.5 L1105.1,201.1 L1105.2,205.6 L1105.2,210.1 L1105.1,214.6 L1105.0,219.2 L1104.9,223.7 L1104.7,228.2 L1104.5,232.8 L1104.2,237.3 L1103.9,241.8 L1103.7,246.4 L1103.3,250.9 L1103.0,255.4 L1102.7,260.0 L1102.3,264.5 L1102.0,269.0 L1101.6,273.6 L1101.3,278.1 L1100.9,282.6 L1100.6,287.2 L1100.2,291.7 L1099.9,296.2 L1099.5,300.8 L1099.1,305.3 L1098.8,309.8 L1098.4,314.4 L1098.1,318.9 L1097.7,323.4 L1097.3,328.0 L1097.0,332.5 L1096.6,337.0 L1096.2,341.6 L1095.9,346.1 L1095.5,350.6 L1095.1,355.2 L1094.8,359.7 L1094.4,364.2 L1094.0,368.7 L1093.7,373.3 L1093.3,377.8 L1092.9,382.3 L1092.6,386.9 L1092.2,391.4 L1091.8,395.9 L1091.4,400.5 L1091.1,405.0 L1090.7,409.5 L1090.3,414.1 L1090.0,418.6 L1089.6,423.1 L1089.2,427.7 L1088.8,432.2 L1088.5,436.7 L1088.1,441.3 L1087.7,445.8 L1087.3,450.3 L1087.0,454.9 L1086.6,459.4 L1086.2,463.9 L1085.8,468.5 L1085.4,473.0 L1085.1,477.5 L1084.7,482.1 L1084.2,487.5"/><path d="M1092.8,124.0 L1094.3,128.5 L1095.7,133.1 L1097.1,137.6 L1098.3,142.1 L1099.5,146.7 L1100.6,151.2 L1101.6,155.7 L1102.6,160.3 L1103.4,164.8 L1104.1,169.3 L1104.8,173.9 L1105.3,178.4 L1105.8,182.9 L1106.2,187.5 L1106.5,192.0 L1106.7,196.5 L1106.8,201.1 L1106.9,205.6 L1106.9,210.1 L1106.8,214.6 L1106.7,219.2 L1106.5,223.7 L1106.3,228.2 L1106.1,232.8 L1105.8,237.3 L1105.5,241.8 L1105.2,246.4 L1104.9,250.9 L1104.5,255.4 L1104.2,260.0 L1103.8,264.5 L1103.4,269.0 L1103.1,273.6 L1102.7,278.1 L1102.3,282.6 L1101.9,287.2 L1101.5,291.7 L1101.1,296.2 L1100.7,300.8 L1100.4,305.3 L1100.0,309.8 L1099.6,314.4 L1099.2,318.9 L1098.8,323.4 L1098.4,328.0 L1098.0,332.5 L1097.6,337.0 L1097.2,341.6 L1096.8,346.1 L1096.4,350.6 L1096.0,355.2 L1095.6,359.7 L1095.2,364.2 L1094.8,368.7 L1094.4,373.3 L1094.0,377.8 L1093.6,382.3 L1093.2,386.9 L1092.8,391.4 L1092.4,395.9 L1092.0,400.5 L1091.6,405.0 L1091.2,409.5 L1090.8,414.1 L1090.4,418.6 L1090.0,423.1 L1089.6,427.7 L1089.2,432.2 L1088.8,436.7 L1088.4,441.3 L1088.0,445.8 L1087.6,450.3 L1087.2,454.9 L1086.8,459.4 L1086.4,463.9 L1085.9,468.5 L1085.5,473.0 L1085.1,477.5 L1084.7,482.1 L1084.2,487.5"/><path d="M1120.4,124.0 L1121.6,128.5 L1122.8,133.1 L1123.8,137.6 L1124.9,142.1 L1125.8,146.7 L1126.7,151.2 L1127.5,155.7 L1128.2,160.3 L1128.9,164.8 L1129.5,169.3 L1129.9,173.9 L1130.4,178.4 L1130.7,182.9 L1130.9,187.5 L1131.1,192.0 L1131.1,196.5 L1131.1,201.1 L1131.0,205.6 L1130.9,210.1 L1130.6,214.6 L1130.3,219.2 L1129.9,223.7 L1129.5,228.2 L1129.0,232.8 L1128.4,237.3 L1127.8,241.8 L1127.2,246.4 L1126.5,250.9 L1125.8,255.4 L1125.1,260.0 L1124.4,264.5 L1123.6,269.0 L1122.9,273.6 L1122.1,278.1 L1121.3,282.6 L1120.6,287.2 L1119.8,291.7 L1119.0,296.2 L1118.2,300.8 L1117.4,305.3 L1116.6,309.8 L1115.8,314.4 L1115.0,318.9 L1114.2,323.4 L1113.4,328.0 L1112.6,332.5 L1111.8,337.0 L1111.0,341.6 L1110.2,346.1 L1109.4,350.6 L1108.6,355.2 L1107.8,359.7 L1107.0,364.2 L1106.2,368.7 L1105.4,373.3 L1104.5,377.8 L1103.7,382.3 L1102.9,386.9 L1102.1,391.4 L1101.3,395.9 L1100.4,400.5 L1099.6,405.0 L1098.8,409.5 L1097.9,414.1 L1097.1,418.6 L1096.3,423.1 L1095.4,427.7 L1094.6,432.2 L1093.8,436.7 L1092.9,441.3 L1092.1,445.8 L1091.2,450.3 L1090.4,454.9 L1089.5,459.4 L1088.7,463.9 L1087.8,468.5 L1087.0,473.0 L1086.1,477.5 L1085.3,482.1 L1084.2,487.5"/><path d="M1122.1,124.0 L1123.3,128.5 L1124.5,133.1 L1125.5,137.6 L1126.6,142.1 L1127.5,146.7 L1128.4,151.2 L1129.1,155.7 L1129.9,160.3 L1130.5,164.8 L1131.1,169.3 L1131.5,173.9 L1131.9,178.4 L1132.3,182.9 L1132.5,187.5 L1132.6,192.0 L1132.7,196.5 L1132.7,201.1 L1132.6,205.6 L1132.4,210.1 L1132.1,214.6 L1131.8,219.2 L1131.4,223.7 L1131.0,228.2 L1130.4,232.8 L1129.9,237.3 L1129.3,241.8 L1128.6,246.4 L1127.9,250.9 L1127.2,255.4 L1126.5,260.0 L1125.7,264.5 L1125.0,269.0 L1124.2,273.6 L1123.4,278.1 L1122.6,282.6 L1121.8,287.2 L1121.0,291.7 L1120.2,296.2 L1119.4,300.8 L1118.5,305.3 L1117.7,309.8 L1116.9,314.4 L1116.1,318.9 L1115.3,323.4 L1114.4,328.0 L1113.6,332.5 L1112.8,337.0 L1111.9,341.6 L1111.1,346.1 L1110.3,350.6 L1109.4,355.2 L1108.6,359.7 L1107.8,364.2 L1106.9,368.7 L1106.1,373.3 L1105.2,377.8 L1104.4,382.3 L1103.5,386.9 L1102.7,391.4 L1101.8,395.9 L1101.0,400.5 L1100.1,405.0 L1099.3,409.5 L1098.4,414.1 L1097.5,418.6 L1096.7,423.1 L1095.8,427.7 L1094.9,432.2 L1094.1,436.7 L1093.2,441.3 L1092.3,445.8 L1091.5,450.3 L1090.6,454.9 L1089.7,459.4 L1088.8,463.9 L1087.9,468.5 L1087.1,473.0 L1086.2,477.5 L1085.3,482.1 L1084.2,487.5"/><path d="M1129.2,124.0 L1130.3,128.5 L1131.3,133.1 L1132.3,137.6 L1133.3,142.1 L1134.2,146.7 L1135.0,151.2 L1135.7,155.7 L1136.4,160.3 L1137.0,164.8 L1137.5,169.3 L1137.9,173.9 L1138.3,178.4 L1138.6,182.9 L1138.8,187.5 L1138.9,192.0 L1139.0,196.5 L1138.9,201.1 L1138.8,205.6 L1138.6,210.1 L1138.3,214.6 L1137.9,219.2 L1137.5,223.7 L1137.0,228.2 L1136.4,232.8 L1135.8,237.3 L1135.1,241.8 L1134.4,246.4 L1133.6,250.9 L1132.8,255.4 L1132.0,260.0 L1131.1,264.5 L1130.3,269.0 L1129.4,273.6 L1128.5,278.1 L1127.6,282.6 L1126.7,287.2 L1125.8,291.7 L1124.9,296.2 L1124.0,300.8 L1123.1,305.3 L1122.1,309.8 L1121.2,314.4 L1120.3,318.9 L1119.3,323.4 L1118.4,328.0 L1117.5,332.5 L1116.5,337.0 L1115.6,341.6 L1114.7,346.1 L1113.7,350.6 L1112.8,355.2 L1111.8,359.7 L1110.9,364.2 L1109.9,368.7 L1109.0,373.3 L1108.0,377.8 L1107.0,382.3 L1106.1,386.9 L1105.1,391.4 L1104.2,395.9 L1103.2,400.5 L1102.2,405.0 L1101.2,409.5 L1100.3,414.1 L1099.3,418.6 L1098.3,423.1 L1097.3,427.7 L1096.4,432.2 L1095.4,436.7 L1094.4,441.3 L1093.4,445.8 L1092.4,450.3 L1091.4,454.9 L1090.4,459.4 L1089.4,463.9 L1088.4,468.5 L1087.4,473.0 L1086.4,477.5 L1085.4,482.1 L1084.2,487.5"/><path d="M1130.3,124.0 L1131.4,128.5 L1132.5,133.1 L1133.5,137.6 L1134.4,142.1 L1135.3,146.7 L1136.1,151.2 L1136.8,155.7 L1137.5,160.3 L1138.1,164.8 L1138.6,169.3 L1139.0,173.9 L1139.4,178.4 L1139.7,182.9 L1139.9,187.5 L1140.0,192.0 L1140.0,196.5 L1140.0,201.1 L1139.8,205.6 L1139.6,210.1 L1139.3,214.6 L1138.9,219.2 L1138.5,223.7 L1138.0,228.2 L1137.4,232.8 L1136.8,237.3 L1136.1,241.8 L1135.3,246.4 L1134.6,250.9 L1133.8,255.4 L1132.9,260.0 L1132.1,264.5 L1131.2,269.0 L1130.3,273.6 L1129.4,278.1 L1128.5,282.6 L1127.6,287.2 L1126.6,291.7 L1125.7,296.2 L1124.8,300.8 L1123.8,305.3 L1122.9,309.8 L1121.9,314.4 L1121.0,318.9 L1120.0,323.4 L1119.1,328.0 L1118.1,332.5 L1117.2,337.0 L1116.2,341.6 L1115.3,346.1 L1114.3,350.6 L1113.3,355.2 L1112.4,359.7 L1111.4,364.2 L1110.4,368.7 L1109.4,373.3 L1108.5,377.8 L1107.5,382.3 L1106.5,386.9 L1105.5,391.4 L1104.6,395.9 L1103.6,400.5 L1102.6,405.0 L1101.6,409.5 L1100.6,414.1 L1099.6,418.6 L1098.6,423.1 L1097.6,427.7 L1096.6,432.2 L1095.6,436.7 L1094.6,441.3 L1093.6,445.8 L1092.6,450.3 L1091.6,454.9 L1090.6,459.4 L1089.5,463.9 L1088.5,468.5 L1087.5,473.0 L1086.5,477.5 L1085.5,482.1 L1084.2,487.5"/><path d="M1132.5,124.0 L1133.6,128.5 L1134.6,133.1 L1135.6,137.6 L1136.5,142.1 L1137.3,146.7 L1138.1,151.2 L1138.8,155.7 L1139.5,160.3 L1140.1,164.8 L1140.6,169.3 L1141.0,173.9 L1141.3,178.4 L1141.6,182.9 L1141.8,187.5 L1141.9,192.0 L1141.9,196.5 L1141.9,201.1 L1141.7,205.6 L1141.5,210.1 L1141.2,214.6 L1140.8,219.2 L1140.4,223.7 L1139.8,228.2 L1139.2,232.8 L1138.6,237.3 L1137.9,241.8 L1137.1,246.4 L1136.3,250.9 L1135.5,255.4 L1134.6,260.0 L1133.8,264.5 L1132.9,269.0 L1131.9,273.6 L1131.0,278.1 L1130.1,282.6 L1129.1,287.2 L1128.1,291.7 L1127.2,296.2 L1126.2,300.8 L1125.2,305.3 L1124.3,309.8 L1123.3,314.4 L1122.3,318.9 L1121.3,323.4 L1120.3,328.0 L1119.3,332.5 L1118.4,337.0 L1117.4,341.6 L1116.4,346.1 L1115.4,350.6 L1114.4,355.2 L1113.4,359.7 L1112.4,364.2 L1111.4,368.7 L1110.4,373.3 L1109.3,377.8 L1108.3,382.3 L1107.3,386.9 L1106.3,391.4 L1105.3,395.9 L1104.3,400.5 L1103.2,405.0 L1102.2,409.5 L1101.2,414.1 L1100.2,418.6 L1099.1,423.1 L1098.1,427.7 L1097.0,432.2 L1096.0,436.7 L1095.0,441.3 L1093.9,445.8 L1092.9,450.3 L1091.8,454.9 L1090.8,459.4 L1089.7,463.9 L1088.7,468.5 L1087.6,473.0 L1086.6,477.5 L1085.5,482.1 L1084.2,487.5"/><path d="M1148.2,124.0 L1149.1,128.5 L1150.0,133.1 L1150.8,137.6 L1151.6,142.1 L1152.3,146.7 L1152.9,151.2 L1153.5,155.7 L1154.1,160.3 L1154.6,164.8 L1155.0,169.3 L1155.3,173.9 L1155.6,178.4 L1155.8,182.9 L1156.0,187.5 L1156.0,192.0 L1156.0,196.5 L1155.9,201.1 L1155.7,205.6 L1155.4,210.1 L1155.1,214.6 L1154.7,219.2 L1154.1,223.7 L1153.5,228.2 L1152.9,232.8 L1152.1,237.3 L1151.3,241.8 L1150.4,246.4 L1149.5,250.9 L1148.5,255.4 L1147.4,260.0 L1146.4,264.5 L1145.3,269.0 L1144.1,273.6 L1143.0,278.1 L1141.8,282.6 L1140.6,287.2 L1139.4,291.7 L1138.2,296.2 L1137.0,300.8 L1135.8,305.3 L1134.5,309.8 L1133.3,314.4 L1132.1,318.9 L1130.9,323.4 L1129.6,328.0 L1128.4,332.5 L1127.1,337.0 L1125.9,341.6 L1124.6,346.1 L1123.4,350.6 L1122.1,355.2 L1120.9,359.7 L1119.6,364.2 L1118.4,368.7 L1117.1,373.3 L1115.8,377.8 L1114.6,382.3 L1113.3,386.9 L1112.0,391.4 L1110.7,395.9 L1109.4,400.5 L1108.2,405.0 L1106.9,409.5 L1105.6,414.1 L1104.3,418.6 L1103.0,423.1 L1101.7,427.7 L1100.4,432.2 L1099.1,436.7 L1097.8,441.3 L1096.4,445.8 L1095.1,450.3 L1093.8,454.9 L1092.5,459.4 L1091.2,463.9 L1089.8,468.5 L1088.5,473.0 L1087.2,477.5 L1085.8,482.1 L1084.2,487.5"/><path d="M1150.3,124.0 L1151.2,128.5 L1152.0,133.1 L1152.8,137.6 L1153.5,142.1 L1154.2,146.7 L1154.9,151.2 L1155.5,155.7 L1156.0,160.3 L1156.5,164.8 L1156.9,169.3 L1157.2,173.9 L1157.5,178.4 L1157.7,182.9 L1157.8,187.5 L1157.9,192.0 L1157.9,196.5 L1157.7,201.1 L1157.6,205.6 L1157.3,210.1 L1156.9,214.6 L1156.5,219.2 L1156.0,223.7 L1155.4,228.2 L1154.7,232.8 L1153.9,237.3 L1153.1,241.8 L1152.2,246.4 L1151.2,250.9 L1150.2,255.4 L1149.2,260.0 L1148.1,264.5 L1146.9,269.0 L1145.8,273.6 L1144.6,278.1 L1143.4,282.6 L1142.2,287.2 L1140.9,291.7 L1139.7,296.2 L1138.5,300.8 L1137.2,305.3 L1135.9,309.8 L1134.7,314.4 L1133.4,318.9 L1132.2,323.4 L1130.9,328.0 L1129.6,332.5 L1128.3,337.0 L1127.1,341.6 L1125.8,346.1 L1124.5,350.6 L1123.2,355.2 L1121.9,359.7 L1120.6,364.2 L1119.3,368.7 L1118.0,373.3 L1116.7,377.8 L1115.4,382.3 L1114.1,386.9 L1112.8,391.4 L1111.5,395.9 L1110.1,400.5 L1108.8,405.0 L1107.5,409.5 L1106.2,414.1 L1104.8,418.6 L1103.5,423.1 L1102.2,427.7 L1100.8,432.2 L1099.5,436.7 L1098.1,441.3 L1096.8,445.8 L1095.4,450.3 L1094.1,454.9 L1092.7,459.4 L1091.4,463.9 L1090.0,468.5 L1088.6,473.0 L1087.2,477.5 L1085.9,482.1 L1084.2,487.5"/><path d="M1157.4,124.0 L1158.2,128.5 L1159.0,133.1 L1159.7,137.6 L1160.4,142.1 L1161.1,146.7 L1161.6,151.2 L1162.2,155.7 L1162.7,160.3 L1163.1,164.8 L1163.5,169.3 L1163.8,173.9 L1164.0,178.4 L1164.2,182.9 L1164.3,187.5 L1164.3,192.0 L1164.3,196.5 L1164.2,201.1 L1164.0,205.6 L1163.7,210.1 L1163.3,214.6 L1162.9,219.2 L1162.4,223.7 L1161.7,228.2 L1161.0,232.8 L1160.3,237.3 L1159.4,241.8 L1158.5,246.4 L1157.4,250.9 L1156.4,255.4 L1155.3,260.0 L1154.1,264.5 L1152.9,269.0 L1151.6,273.6 L1150.3,278.1 L1149.0,282.6 L1147.7,287.2 L1146.4,291.7 L1145.0,296.2 L1143.6,300.8 L1142.3,305.3 L1140.9,309.8 L1139.5,314.4 L1138.1,318.9 L1136.7,323.4 L1135.4,328.0 L1134.0,332.5 L1132.6,337.0 L1131.2,341.6 L1129.8,346.1 L1128.3,350.6 L1126.9,355.2 L1125.5,359.7 L1124.1,364.2 L1122.7,368.7 L1121.3,373.3 L1119.8,377.8 L1118.4,382.3 L1117.0,386.9 L1115.5,391.4 L1114.1,395.9 L1112.6,400.5 L1111.2,405.0 L1109.7,409.5 L1108.3,414.1 L1106.8,418.6 L1105.4,423.1 L1103.9,427.7 L1102.4,432.2 L1100.9,436.7 L1099.5,441.3 L1098.0,445.8 L1096.5,450.3 L1095.0,454.9 L1093.5,459.4 L1092.0,463.9 L1090.5,468.5 L1089.0,473.0 L1087.5,477.5 L1086.0,482.1 L1084.2,487.5"/><path d="M1159.5,124.0 L1160.3,128.5 L1161.1,133.1 L1161.8,137.6 L1162.5,142.1 L1163.1,146.7 L1163.7,151.2 L1164.2,155.7 L1164.6,160.3 L1165.1,164.8 L1165.4,169.3 L1165.7,173.9 L1165.9,178.4 L1166.1,182.9 L1166.2,187.5 L1166.3,192.0 L1166.2,196.5 L1166.1,201.1 L1165.9,205.6 L1165.6,210.1 L1165.3,214.6 L1164.8,219.2 L1164.3,223.7 L1163.6,228.2 L1162.9,232.8 L1162.2,237.3 L1161.3,241.8 L1160.3,246.4 L1159.3,250.9 L1158.2,255.4 L1157.1,260.0 L1155.9,264.5 L1154.6,269.0 L1153.4,273.6 L1152.1,278.1 L1150.7,282.6 L1149.4,287.2 L1148.0,291.7 L1146.6,296.2 L1145.2,300.8 L1143.8,305.3 L1142.4,309.8 L1141.0,314.4 L1139.6,318.9 L1138.1,323.4 L1136.7,328.0 L1135.3,332.5 L1133.8,337.0 L1132.4,341.6 L1131.0,346.1 L1129.5,350.6 L1128.1,355.2 L1126.6,359.7 L1125.2,364.2 L1123.7,368.7 L1122.2,373.3 L1120.8,377.8 L1119.3,382.3 L1117.8,386.9 L1116.4,391.4 L1114.9,395.9 L1113.4,400.5 L1111.9,405.0 L1110.4,409.5 L1108.9,414.1 L1107.4,418.6 L1105.9,423.1 L1104.4,427.7 L1102.9,432.2 L1101.4,436.7 L1099.9,441.3 L1098.4,445.8 L1096.8,450.3 L1095.3,454.9 L1093.8,459.4 L1092.2,463.9 L1090.7,468.5 L1089.2,473.0 L1087.6,477.5 L1086.1,482.1 L1084.2,487.5"/><path d="M1176.9,124.0 L1177.5,128.5 L1178.1,133.1 L1178.6,137.6 L1179.1,142.1 L1179.6,146.7 L1180.0,151.2 L1180.4,155.7 L1180.8,160.3 L1181.1,164.8 L1181.4,169.3 L1181.6,173.9 L1181.8,178.4 L1181.9,182.9 L1182.0,187.5 L1182.0,192.0 L1181.9,196.5 L1181.8,201.1 L1181.6,205.6 L1181.3,210.1 L1181.0,214.6 L1180.6,219.2 L1180.1,223.7 L1179.5,228.2 L1178.8,232.8 L1178.0,237.3 L1177.1,241.8 L1176.1,246.4 L1175.1,250.9 L1173.9,255.4 L1172.7,260.0 L1171.4,264.5 L1170.0,269.0 L1168.5,273.6 L1167.0,278.1 L1165.4,282.6 L1163.8,287.2 L1162.2,291.7 L1160.5,296.2 L1158.8,300.8 L1157.1,305.3 L1155.4,309.8 L1153.7,314.4 L1151.9,318.9 L1150.2,323.4 L1148.4,328.0 L1146.7,332.5 L1144.9,337.0 L1143.2,341.6 L1141.4,346.1 L1139.7,350.6 L1137.9,355.2 L1136.1,359.7 L1134.3,364.2 L1132.5,368.7 L1130.8,373.3 L1129.0,377.8 L1127.2,382.3 L1125.4,386.9 L1123.6,391.4 L1121.7,395.9 L1119.9,400.5 L1118.1,405.0 L1116.3,409.5 L1114.5,414.1 L1112.6,418.6 L1110.8,423.1 L1108.9,427.7 L1107.1,432.2 L1105.2,436.7 L1103.4,441.3 L1101.5,445.8 L1099.7,450.3 L1097.8,454.9 L1095.9,459.4 L1094.1,463.9 L1092.2,468.5 L1090.3,473.0 L1088.4,477.5 L1086.5,482.1 L1084.2,487.5"/><path d="M1182.6,124.0 L1183.1,128.5 L1183.6,133.1 L1184.1,137.6 L1184.6,142.1 L1185.0,146.7 L1185.4,151.2 L1185.8,155.7 L1186.1,160.3 L1186.4,164.8 L1186.6,169.3 L1186.8,173.9 L1187.0,178.4 L1187.1,182.9 L1187.1,187.5 L1187.1,192.0 L1187.1,196.5 L1186.9,201.1 L1186.8,205.6 L1186.5,210.1 L1186.2,214.6 L1185.8,219.2 L1185.3,223.7 L1184.7,228.2 L1184.1,232.8 L1183.3,237.3 L1182.4,241.8 L1181.5,246.4 L1180.4,250.9 L1179.3,255.4 L1178.0,260.0 L1176.7,264.5 L1175.3,269.0 L1173.8,273.6 L1172.2,278.1 L1170.6,282.6 L1168.9,287.2 L1167.2,291.7 L1165.4,296.2 L1163.6,300.8 L1161.8,305.3 L1160.0,309.8 L1158.2,314.4 L1156.3,318.9 L1154.5,323.4 L1152.6,328.0 L1150.8,332.5 L1148.9,337.0 L1147.0,341.6 L1145.1,346.1 L1143.3,350.6 L1141.4,355.2 L1139.5,359.7 L1137.6,364.2 L1135.7,368.7 L1133.8,373.3 L1131.9,377.8 L1130.0,382.3 L1128.0,386.9 L1126.1,391.4 L1124.2,395.9 L1122.2,400.5 L1120.3,405.0 L1118.4,409.5 L1116.4,414.1 L1114.5,418.6 L1112.5,423.1 L1110.6,427.7 L1108.6,432.2 L1106.6,436.7 L1104.6,441.3 L1102.7,445.8 L1100.7,450.3 L1098.7,454.9 L1096.7,459.4 L1094.7,463.9 L1092.7,468.5 L1090.7,473.0 L1088.7,477.5 L1086.6,482.1 L1084.2,487.5"/><path d="M1186.6,124.0 L1187.1,128.5 L1187.6,133.1 L1188.0,137.6 L1188.4,142.1 L1188.8,146.7 L1189.2,151.2 L1189.5,155.7 L1189.8,160.3 L1190.1,164.8 L1190.3,169.3 L1190.5,173.9 L1190.6,178.4 L1190.7,182.9 L1190.8,187.5 L1190.7,192.0 L1190.7,196.5 L1190.6,201.1 L1190.4,205.6 L1190.2,210.1 L1189.9,214.6 L1189.5,219.2 L1189.0,223.7 L1188.5,228.2 L1187.8,232.8 L1187.1,237.3 L1186.3,241.8 L1185.3,246.4 L1184.3,250.9 L1183.2,255.4 L1181.9,260.0 L1180.6,264.5 L1179.2,269.0 L1177.6,273.6 L1176.0,278.1 L1174.4,282.6 L1172.6,287.2 L1170.9,291.7 L1169.0,296.2 L1167.2,300.8 L1165.3,305.3 L1163.4,309.8 L1161.5,314.4 L1159.6,318.9 L1157.6,323.4 L1155.7,328.0 L1153.8,332.5 L1151.8,337.0 L1149.9,341.6 L1147.9,346.1 L1145.9,350.6 L1144.0,355.2 L1142.0,359.7 L1140.0,364.2 L1138.0,368.7 L1136.0,373.3 L1134.0,377.8 L1132.0,382.3 L1130.0,386.9 L1128.0,391.4 L1126.0,395.9 L1124.0,400.5 L1121.9,405.0 L1119.9,409.5 L1117.9,414.1 L1115.8,418.6 L1113.8,423.1 L1111.7,427.7 L1109.7,432.2 L1107.6,436.7 L1105.6,441.3 L1103.5,445.8 L1101.4,450.3 L1099.3,454.9 L1097.3,459.4 L1095.2,463.9 L1093.1,468.5 L1091.0,473.0 L1088.9,477.5 L1086.8,482.1 L1084.2,487.5"/><path d="M1190.5,124.0 L1191.0,128.5 L1191.4,133.1 L1191.8,137.6 L1192.2,142.1 L1192.6,146.7 L1192.9,151.2 L1193.2,155.7 L1193.5,160.3 L1193.7,164.8 L1193.9,169.3 L1194.1,173.9 L1194.2,178.4 L1194.3,182.9 L1194.3,187.5 L1194.3,192.0 L1194.3,196.5 L1194.2,201.1 L1194.0,205.6 L1193.8,210.1 L1193.5,214.6 L1193.1,219.2 L1192.7,223.7 L1192.2,228.2 L1191.5,232.8 L1190.8,237.3 L1190.0,241.8 L1189.2,246.4 L1188.1,250.9 L1187.0,255.4 L1185.8,260.0 L1184.5,264.5 L1183.1,269.0 L1181.5,273.6 L1179.9,278.1 L1178.2,282.6 L1176.5,287.2 L1174.6,291.7 L1172.7,296.2 L1170.8,300.8 L1168.9,305.3 L1166.9,309.8 L1164.9,314.4 L1162.9,318.9 L1160.9,323.4 L1158.9,328.0 L1156.8,332.5 L1154.8,337.0 L1152.8,341.6 L1150.7,346.1 L1148.7,350.6 L1146.6,355.2 L1144.5,359.7 L1142.5,364.2 L1140.4,368.7 L1138.3,373.3 L1136.2,377.8 L1134.1,382.3 L1132.0,386.9 L1129.9,391.4 L1127.8,395.9 L1125.7,400.5 L1123.6,405.0 L1121.5,409.5 L1119.4,414.1 L1117.2,418.6 L1115.1,423.1 L1113.0,427.7 L1110.8,432.2 L1108.7,436.7 L1106.5,441.3 L1104.4,445.8 L1102.2,450.3 L1100.0,454.9 L1097.8,459.4 L1095.7,463.9 L1093.5,468.5 L1091.3,473.0 L1089.1,477.5 L1086.9,482.1 L1084.2,487.5"/><path d="M1194.3,124.0 L1194.7,128.5 L1195.1,133.1 L1195.5,137.6 L1195.8,142.1 L1196.1,146.7 L1196.4,151.2 L1196.7,155.7 L1197.0,160.3 L1197.2,164.8 L1197.4,169.3 L1197.5,173.9 L1197.6,178.4 L1197.7,182.9 L1197.7,187.5 L1197.7,192.0 L1197.7,196.5 L1197.6,201.1 L1197.4,205.6 L1197.2,210.1 L1196.9,214.6 L1196.6,219.2 L1196.2,223.7 L1195.7,228.2 L1195.1,232.8 L1194.4,237.3 L1193.7,241.8 L1192.8,246.4 L1191.9,250.9 L1190.8,255.4 L1189.6,260.0 L1188.3,264.5 L1186.9,269.0 L1185.4,273.6 L1183.7,278.1 L1182.0,282.6 L1180.2,287.2 L1178.4,291.7 L1176.4,296.2 L1174.4,300.8 L1172.4,305.3 L1170.4,309.8 L1168.3,314.4 L1166.2,318.9 L1164.1,323.4 L1162.0,328.0 L1159.9,332.5 L1157.8,337.0 L1155.7,341.6 L1153.5,346.1 L1151.4,350.6 L1149.2,355.2 L1147.1,359.7 L1144.9,364.2 L1142.8,368.7 L1140.6,373.3 L1138.4,377.8 L1136.3,382.3 L1134.1,386.9 L1131.9,391.4 L1129.7,395.9 L1127.5,400.5 L1125.3,405.0 L1123.1,409.5 L1120.9,414.1 L1118.6,418.6 L1116.4,423.1 L1114.2,427.7 L1111.9,432.2 L1109.7,436.7 L1107.5,441.3 L1105.2,445.8 L1102.9,450.3 L1100.7,454.9 L1098.4,459.4 L1096.1,463.9 L1093.9,468.5 L1091.6,473.0 L1089.3,477.5 L1087.0,482.1 L1084.2,487.5"/><path d="M1200.9,124.0 L1201.3,128.5 L1201.6,133.1 L1201.9,137.6 L1202.2,142.1 L1202.5,146.7 L1202.7,151.2 L1203.0,155.7 L1203.2,160.3 L1203.3,164.8 L1203.5,169.3 L1203.6,173.9 L1203.7,178.4 L1203.8,182.9 L1203.8,187.5 L1203.8,192.0 L1203.8,196.5 L1203.7,201.1 L1203.5,205.6 L1203.3,210.1 L1203.1,214.6 L1202.8,219.2 L1202.5,223.7 L1202.0,228.2 L1201.5,232.8 L1200.9,237.3 L1200.3,241.8 L1199.5,246.4 L1198.6,250.9 L1197.6,255.4 L1196.5,260.0 L1195.3,264.5 L1194.0,269.0 L1192.5,273.6 L1190.9,278.1 L1189.2,282.6 L1187.4,287.2 L1185.5,291.7 L1183.4,296.2 L1181.4,300.8 L1179.2,305.3 L1177.1,309.8 L1174.9,314.4 L1172.6,318.9 L1170.4,323.4 L1168.1,328.0 L1165.8,332.5 L1163.5,337.0 L1161.2,341.6 L1158.9,346.1 L1156.6,350.6 L1154.3,355.2 L1152.0,359.7 L1149.7,364.2 L1147.4,368.7 L1145.0,373.3 L1142.7,377.8 L1140.3,382.3 L1138.0,386.9 L1135.6,391.4 L1133.3,395.9 L1130.9,400.5 L1128.5,405.0 L1126.1,409.5 L1123.7,414.1 L1121.3,418.6 L1118.9,423.1 L1116.5,427.7 L1114.1,432.2 L1111.7,436.7 L1109.3,441.3 L1106.9,445.8 L1104.4,450.3 L1102.0,454.9 L1099.5,459.4 L1097.1,463.9 L1094.6,468.5 L1092.1,473.0 L1089.7,477.5 L1087.2,482.1 L1084.2,487.5"/><path d="M1202.6,124.0 L1202.9,128.5 L1203.3,133.1 L1203.5,137.6 L1203.8,142.1 L1204.1,146.7 L1204.3,151.2 L1204.5,155.7 L1204.7,160.3 L1204.9,164.8 L1205.0,169.3 L1205.2,173.9 L1205.2,178.4 L1205.3,182.9 L1205.3,187.5 L1205.3,192.0 L1205.3,196.5 L1205.2,201.1 L1205.1,205.6 L1204.9,210.1 L1204.7,214.6 L1204.4,219.2 L1204.0,223.7 L1203.6,228.2 L1203.1,232.8 L1202.6,237.3 L1201.9,241.8 L1201.2,246.4 L1200.3,250.9 L1199.4,255.4 L1198.3,260.0 L1197.1,264.5 L1195.8,269.0 L1194.3,273.6 L1192.8,278.1 L1191.1,282.6 L1189.3,287.2 L1187.3,291.7 L1185.3,296.2 L1183.2,300.8 L1181.1,305.3 L1178.9,309.8 L1176.6,314.4 L1174.3,318.9 L1172.1,323.4 L1169.7,328.0 L1167.4,332.5 L1165.1,337.0 L1162.8,341.6 L1160.4,346.1 L1158.1,350.6 L1155.7,355.2 L1153.3,359.7 L1151.0,364.2 L1148.6,368.7 L1146.2,373.3 L1143.8,377.8 L1141.4,382.3 L1139.0,386.9 L1136.6,391.4 L1134.2,395.9 L1131.8,400.5 L1129.4,405.0 L1126.9,409.5 L1124.5,414.1 L1122.1,418.6 L1119.6,423.1 L1117.2,427.7 L1114.7,432.2 L1112.2,436.7 L1109.8,441.3 L1107.3,445.8 L1104.8,450.3 L1102.3,454.9 L1099.8,459.4 L1097.3,463.9 L1094.8,468.5 L1092.3,473.0 L1089.8,477.5 L1087.3,482.1 L1084.2,487.5"/><path d="M1204.8,124.0 L1205.1,128.5 L1205.4,133.1 L1205.6,137.6 L1205.9,142.1 L1206.1,146.7 L1206.3,151.2 L1206.5,155.7 L1206.7,160.3 L1206.9,164.8 L1207.0,169.3 L1207.1,173.9 L1207.2,178.4 L1207.3,182.9 L1207.3,187.5 L1207.3,192.0 L1207.2,196.5 L1207.2,201.1 L1207.0,205.6 L1206.9,210.1 L1206.7,214.6 L1206.4,219.2 L1206.1,223.7 L1205.7,228.2 L1205.2,232.8 L1204.7,237.3 L1204.1,241.8 L1203.4,246.4 L1202.6,250.9 L1201.7,255.4 L1200.6,260.0 L1199.5,264.5 L1198.2,269.0 L1196.8,273.6 L1195.2,278.1 L1193.6,282.6 L1191.7,287.2 L1189.8,291.7 L1187.8,296.2 L1185.7,300.8 L1183.5,305.3 L1181.3,309.8 L1179.0,314.4 L1176.6,318.9 L1174.3,323.4 L1171.9,328.0 L1169.6,332.5 L1167.2,337.0 L1164.8,341.6 L1162.4,346.1 L1160.0,350.6 L1157.5,355.2 L1155.1,359.7 L1152.7,364.2 L1150.2,368.7 L1147.8,373.3 L1145.4,377.8 L1142.9,382.3 L1140.4,386.9 L1138.0,391.4 L1135.5,395.9 L1133.0,400.5 L1130.5,405.0 L1128.0,409.5 L1125.5,414.1 L1123.0,418.6 L1120.5,423.1 L1118.0,427.7 L1115.5,432.2 L1113.0,436.7 L1110.4,441.3 L1107.9,445.8 L1105.3,450.3 L1102.8,454.9 L1100.2,459.4 L1097.7,463.9 L1095.1,468.5 L1092.5,473.0 L1089.9,477.5 L1087.3,482.1 L1084.2,487.5"/><path d="M1213.0,124.0 L1213.2,128.5 L1213.4,133.1 L1213.6,137.6 L1213.8,142.1 L1213.9,146.7 L1214.1,151.2 L1214.2,155.7 L1214.4,160.3 L1214.5,164.8 L1214.6,169.3 L1214.6,173.9 L1214.7,178.4 L1214.7,182.9 L1214.7,187.5 L1214.7,192.0 L1214.7,196.5 L1214.7,201.1 L1214.6,205.6 L1214.4,210.1 L1214.3,214.6 L1214.1,219.2 L1213.8,223.7 L1213.6,228.2 L1213.2,232.8 L1212.8,237.3 L1212.4,241.8 L1211.8,246.4 L1211.2,250.9 L1210.5,255.4 L1209.7,260.0 L1208.7,264.5 L1207.7,269.0 L1206.5,273.6 L1205.2,278.1 L1203.7,282.6 L1202.0,287.2 L1200.2,291.7 L1198.2,296.2 L1196.1,300.8 L1193.9,305.3 L1191.5,309.8 L1189.1,314.4 L1186.6,318.9 L1184.0,323.4 L1181.4,328.0 L1178.8,332.5 L1176.1,337.0 L1173.5,341.6 L1170.8,346.1 L1168.2,350.6 L1165.5,355.2 L1162.8,359.7 L1160.1,364.2 L1157.4,368.7 L1154.7,373.3 L1152.0,377.8 L1149.3,382.3 L1146.5,386.9 L1143.8,391.4 L1141.1,395.9 L1138.3,400.5 L1135.6,405.0 L1132.8,409.5 L1130.0,414.1 L1127.3,418.6 L1124.5,423.1 L1121.7,427.7 L1118.9,432.2 L1116.1,436.7 L1113.3,441.3 L1110.5,445.8 L1107.6,450.3 L1104.8,454.9 L1102.0,459.4 L1099.1,463.9 L1096.3,468.5 L1093.4,473.0 L1090.5,477.5 L1087.7,482.1 L1084.2,487.5"/><path d="M1214.5,124.0 L1214.7,128.5 L1214.9,133.1 L1215.1,137.6 L1215.2,142.1 L1215.4,146.7 L1215.5,151.2 L1215.7,155.7 L1215.8,160.3 L1215.9,164.8 L1216.0,169.3 L1216.0,173.9 L1216.1,178.4 L1216.1,182.9 L1216.2,187.5 L1216.1,192.0 L1216.1,196.5 L1216.1,201.1 L1216.0,205.6 L1215.9,210.1 L1215.7,214.6 L1215.5,219.2 L1215.3,223.7 L1215.0,228.2 L1214.7,232.8 L1214.4,237.3 L1213.9,241.8 L1213.4,246.4 L1212.8,250.9 L1212.2,255.4 L1211.4,260.0 L1210.5,264.5 L1209.5,269.0 L1208.4,273.6 L1207.1,278.1 L1205.7,282.6 L1204.1,287.2 L1202.3,291.7 L1200.4,296.2 L1198.3,300.8 L1196.1,305.3 L1193.7,309.8 L1191.2,314.4 L1188.7,318.9 L1186.1,323.4 L1183.5,328.0 L1180.8,332.5 L1178.1,337.0 L1175.4,341.6 L1172.7,346.1 L1170.0,350.6 L1167.2,355.2 L1164.5,359.7 L1161.7,364.2 L1159.0,368.7 L1156.2,373.3 L1153.4,377.8 L1150.7,382.3 L1147.9,386.9 L1145.1,391.4 L1142.3,395.9 L1139.5,400.5 L1136.7,405.0 L1133.8,409.5 L1131.0,414.1 L1128.2,418.6 L1125.3,423.1 L1122.5,427.7 L1119.6,432.2 L1116.8,436.7 L1113.9,441.3 L1111.0,445.8 L1108.1,450.3 L1105.2,454.9 L1102.3,459.4 L1099.4,463.9 L1096.5,468.5 L1093.6,473.0 L1090.7,477.5 L1087.8,482.1 L1084.2,487.5"/><path d="M1215.0,124.0 L1215.2,128.5 L1215.3,133.1 L1215.5,137.6 L1215.7,142.1 L1215.8,146.7 L1216.0,151.2 L1216.1,155.7 L1216.2,160.3 L1216.3,164.8 L1216.4,169.3 L1216.5,173.9 L1216.5,178.4 L1216.6,182.9 L1216.6,187.5 L1216.6,192.0 L1216.5,196.5 L1216.5,201.1 L1216.4,205.6 L1216.3,210.1 L1216.2,214.6 L1216.0,219.2 L1215.8,223.7 L1215.5,228.2 L1215.2,232.8 L1214.8,237.3 L1214.4,241.8 L1213.9,246.4 L1213.3,250.9 L1212.7,255.4 L1211.9,260.0 L1211.1,264.5 L1210.1,269.0 L1209.0,273.6 L1207.7,278.1 L1206.3,282.6 L1204.7,287.2 L1203.0,291.7 L1201.1,296.2 L1199.0,300.8 L1196.7,305.3 L1194.4,309.8 L1191.9,314.4 L1189.4,318.9 L1186.8,323.4 L1184.1,328.0 L1181.4,332.5 L1178.7,337.0 L1176.0,341.6 L1173.3,346.1 L1170.5,350.6 L1167.8,355.2 L1165.0,359.7 L1162.2,364.2 L1159.5,368.7 L1156.7,373.3 L1153.9,377.8 L1151.1,382.3 L1148.3,386.9 L1145.5,391.4 L1142.7,395.9 L1139.8,400.5 L1137.0,405.0 L1134.2,409.5 L1131.3,414.1 L1128.5,418.6 L1125.6,423.1 L1122.7,427.7 L1119.9,432.2 L1117.0,436.7 L1114.1,441.3 L1111.2,445.8 L1108.3,450.3 L1105.4,454.9 L1102.5,459.4 L1099.5,463.9 L1096.6,468.5 L1093.7,473.0 L1090.7,477.5 L1087.8,482.1 L1084.2,487.5"/><path d="M1218.4,124.0 L1218.5,128.5 L1218.7,133.1 L1218.8,137.6 L1219.0,142.1 L1219.1,146.7 L1219.2,151.2 L1219.3,155.7 L1219.4,160.3 L1219.5,164.8 L1219.5,169.3 L1219.6,173.9 L1219.6,178.4 L1219.7,182.9 L1219.7,187.5 L1219.7,192.0 L1219.6,196.5 L1219.6,201.1 L1219.5,205.6 L1219.4,210.1 L1219.3,214.6 L1219.2,219.2 L1219.0,223.7 L1218.8,228.2 L1218.5,232.8 L1218.2,237.3 L1217.9,241.8 L1217.5,246.4 L1217.0,250.9 L1216.5,255.4 L1215.8,260.0 L1215.1,264.5 L1214.3,269.0 L1213.3,273.6 L1212.2,278.1 L1211.0,282.6 L1209.6,287.2 L1208.0,291.7 L1206.2,296.2 L1204.2,300.8 L1202.0,305.3 L1199.7,309.8 L1197.2,314.4 L1194.7,318.9 L1192.0,323.4 L1189.2,328.0 L1186.4,332.5 L1183.6,337.0 L1180.7,341.6 L1177.8,346.1 L1175.0,350.6 L1172.1,355.2 L1169.2,359.7 L1166.3,364.2 L1163.3,368.7 L1160.4,373.3 L1157.5,377.8 L1154.5,382.3 L1151.6,386.9 L1148.6,391.4 L1145.7,395.9 L1142.7,400.5 L1139.7,405.0 L1136.7,409.5 L1133.7,414.1 L1130.7,418.6 L1127.7,423.1 L1124.7,427.7 L1121.7,432.2 L1118.7,436.7 L1115.6,441.3 L1112.6,445.8 L1109.5,450.3 L1106.5,454.9 L1103.4,459.4 L1100.3,463.9 L1097.3,468.5 L1094.2,473.0 L1091.1,477.5 L1088.0,482.1 L1084.2,487.5"/><path d="M1220.3,124.0 L1220.4,128.5 L1220.6,133.1 L1220.7,137.6 L1220.8,142.1 L1220.9,146.7 L1221.0,151.2 L1221.1,155.7 L1221.2,160.3 L1221.3,164.8 L1221.3,169.3 L1221.4,173.9 L1221.4,178.4 L1221.4,182.9 L1221.4,187.5 L1221.4,192.0 L1221.4,196.5 L1221.4,201.1 L1221.3,205.6 L1221.2,210.1 L1221.1,214.6 L1221.0,219.2 L1220.9,223.7 L1220.7,228.2 L1220.4,232.8 L1220.2,237.3 L1219.9,241.8 L1219.5,246.4 L1219.1,250.9 L1218.6,255.4 L1218.1,260.0 L1217.4,264.5 L1216.7,269.0 L1215.8,273.6 L1214.8,278.1 L1213.7,282.6 L1212.4,287.2 L1210.9,291.7 L1209.3,296.2 L1207.4,300.8 L1205.3,305.3 L1203.1,309.8 L1200.6,314.4 L1198.0,318.9 L1195.3,323.4 L1192.5,328.0 L1189.6,332.5 L1186.7,337.0 L1183.8,341.6 L1180.8,346.1 L1177.8,350.6 L1174.9,355.2 L1171.9,359.7 L1168.9,364.2 L1165.9,368.7 L1162.8,373.3 L1159.8,377.8 L1156.8,382.3 L1153.7,386.9 L1150.7,391.4 L1147.6,395.9 L1144.6,400.5 L1141.5,405.0 L1138.4,409.5 L1135.3,414.1 L1132.2,418.6 L1129.1,423.1 L1126.0,427.7 L1122.9,432.2 L1119.8,436.7 L1116.6,441.3 L1113.5,445.8 L1110.3,450.3 L1107.2,454.9 L1104.0,459.4 L1100.8,463.9 L1097.7,468.5 L1094.5,473.0 L1091.3,477.5 L1088.1,482.1 L1084.2,487.5"/><path d="M1222.9,124.0 L1223.0,128.5 L1223.1,133.1 L1223.2,137.6 L1223.3,142.1 L1223.4,146.7 L1223.5,151.2 L1223.6,155.7 L1223.6,160.3 L1223.7,164.8 L1223.7,169.3 L1223.8,173.9 L1223.8,178.4 L1223.8,182.9 L1223.8,187.5 L1223.8,192.0 L1223.8,196.5 L1223.8,201.1 L1223.7,205.6 L1223.7,210.1 L1223.6,214.6 L1223.5,219.2 L1223.4,223.7 L1223.2,228.2 L1223.0,232.8 L1222.8,237.3 L1222.6,241.8 L1222.3,246.4 L1222.0,250.9 L1221.6,255.4 L1221.1,260.0 L1220.6,264.5 L1220.0,269.0 L1219.3,273.6 L1218.5,278.1 L1217.5,282.6 L1216.5,287.2 L1215.2,291.7 L1213.7,296.2 L1212.1,300.8 L1210.2,305.3 L1208.0,309.8 L1205.7,314.4 L1203.1,318.9 L1200.4,323.4 L1197.6,328.0 L1194.6,332.5 L1191.6,337.0 L1188.6,341.6 L1185.5,346.1 L1182.3,350.6 L1179.2,355.2 L1176.1,359.7 L1172.9,364.2 L1169.8,368.7 L1166.6,373.3 L1163.4,377.8 L1160.3,382.3 L1157.1,386.9 L1153.9,391.4 L1150.7,395.9 L1147.5,400.5 L1144.2,405.0 L1141.0,409.5 L1137.8,414.1 L1134.5,418.6 L1131.3,423.1 L1128.0,427.7 L1124.8,432.2 L1121.5,436.7 L1118.2,441.3 L1114.9,445.8 L1111.6,450.3 L1108.3,454.9 L1105.0,459.4 L1101.6,463.9 L1098.3,468.5 L1095.0,473.0 L1091.6,477.5 L1088.3,482.1 L1084.2,487.5"/><path d="M1224.3,124.0 L1224.4,128.5 L1224.5,133.1 L1224.6,137.6 L1224.7,142.1 L1224.7,146.7 L1224.8,151.2 L1224.9,155.7 L1224.9,160.3 L1225.0,164.8 L1225.0,169.3 L1225.0,173.9 L1225.1,178.4 L1225.1,182.9 L1225.1,187.5 L1225.1,192.0 L1225.1,196.5 L1225.0,201.1 L1225.0,205.6 L1225.0,210.1 L1224.9,214.6 L1224.8,219.2 L1224.7,223.7 L1224.6,228.2 L1224.4,232.8 L1224.2,237.3 L1224.0,241.8 L1223.8,246.4 L1223.5,250.9 L1223.1,255.4 L1222.7,260.0 L1222.3,264.5 L1221.8,269.0 L1221.1,273.6 L1220.4,278.1 L1219.6,282.6 L1218.6,287.2 L1217.5,291.7 L1216.2,296.2 L1214.7,300.8 L1212.9,305.3 L1210.9,309.8 L1208.7,314.4 L1206.2,318.9 L1203.5,323.4 L1200.6,328.0 L1197.7,332.5 L1194.6,337.0 L1191.5,341.6 L1188.3,346.1 L1185.1,350.6 L1181.9,355.2 L1178.7,359.7 L1175.4,364.2 L1172.2,368.7 L1168.9,373.3 L1165.7,377.8 L1162.4,382.3 L1159.1,386.9 L1155.8,391.4 L1152.5,395.9 L1149.2,400.5 L1145.9,405.0 L1142.6,409.5 L1139.3,414.1 L1136.0,418.6 L1132.6,423.1 L1129.3,427.7 L1125.9,432.2 L1122.5,436.7 L1119.1,441.3 L1115.8,445.8 L1112.4,450.3 L1109.0,454.9 L1105.6,459.4 L1102.1,463.9 L1098.7,468.5 L1095.3,473.0 L1091.8,477.5 L1088.4,482.1 L1084.2,487.5"/><path d="M1227.7,124.0 L1227.7,128.5 L1227.8,133.1 L1227.8,137.6 L1227.9,142.1 L1227.9,146.7 L1228.0,151.2 L1228.0,155.7 L1228.0,160.3 L1228.1,164.8 L1228.1,169.3 L1228.1,173.9 L1228.1,178.4 L1228.1,182.9 L1228.1,187.5 L1228.1,192.0 L1228.1,196.5 L1228.1,201.1 L1228.1,205.6 L1228.0,210.1 L1228.0,214.6 L1227.9,219.2 L1227.9,223.7 L1227.8,228.2 L1227.7,232.8 L1227.6,237.3 L1227.5,241.8 L1227.3,246.4 L1227.1,250.9 L1226.9,255.4 L1226.7,260.0 L1226.4,264.5 L1226.1,269.0 L1225.7,273.6 L1225.2,278.1 L1224.7,282.6 L1224.0,287.2 L1223.3,291.7 L1222.4,296.2 L1221.3,300.8 L1220.1,305.3 L1218.6,309.8 L1216.8,314.4 L1214.8,318.9 L1212.4,323.4 L1209.7,328.0 L1206.8,332.5 L1203.7,337.0 L1200.4,341.6 L1197.0,346.1 L1193.6,350.6 L1190.1,355.2 L1186.6,359.7 L1183.1,364.2 L1179.6,368.7 L1176.1,373.3 L1172.6,377.8 L1169.0,382.3 L1165.5,386.9 L1161.9,391.4 L1158.3,395.9 L1154.7,400.5 L1151.2,405.0 L1147.6,409.5 L1144.0,414.1 L1140.3,418.6 L1136.7,423.1 L1133.1,427.7 L1129.4,432.2 L1125.8,436.7 L1122.1,441.3 L1118.4,445.8 L1114.8,450.3 L1111.1,454.9 L1107.4,459.4 L1103.7,463.9 L1099.9,468.5 L1096.2,473.0 L1092.5,477.5 L1088.7,482.1 L1084.2,487.5"/><path d="M1231.0,124.0 L1231.0,128.5 L1231.0,133.1 L1231.1,137.6 L1231.1,142.1 L1231.1,146.7 L1231.1,151.2 L1231.1,155.7 L1231.1,160.3 L1231.1,164.8 L1231.2,169.3 L1231.2,173.9 L1231.2,178.4 L1231.2,182.9 L1231.2,187.5 L1231.2,192.0 L1231.2,196.5 L1231.2,201.1 L1231.2,205.6 L1231.1,210.1 L1231.1,214.6 L1231.1,219.2 L1231.1,223.7 L1231.1,228.2 L1231.0,232.8 L1231.0,237.3 L1230.9,241.8 L1230.9,246.4 L1230.8,250.9 L1230.7,255.4 L1230.6,260.0 L1230.5,264.5 L1230.4,269.0 L1230.2,273.6 L1230.1,278.1 L1229.9,282.6 L1229.6,287.2 L1229.3,291.7 L1229.0,296.2 L1228.5,300.8 L1228.0,305.3 L1227.4,309.8 L1226.6,314.4 L1225.6,318.9 L1224.4,323.4 L1222.8,328.0 L1220.9,332.5 L1218.6,337.0 L1215.9,341.6 L1212.7,346.1 L1209.3,350.6 L1205.8,355.2 L1202.1,359.7 L1198.5,364.2 L1194.8,368.7 L1191.2,373.3 L1187.6,377.8 L1184.0,382.3 L1180.5,386.9 L1177.0,391.4 L1173.6,395.9 L1170.2,400.5 L1166.8,405.0 L1163.5,409.5 L1160.2,414.1 L1156.9,418.6 L1153.6,423.1 L1150.4,427.7 L1147.2,432.2 L1144.0,436.7 L1140.8,441.3 L1137.5,445.8 L1134.3,450.3 L1131.1,454.9 L1127.8,459.4 L1124.5,463.9 L1121.2,468.5 L1117.8,473.0 L1114.4,477.5 L1110.9,482.1 L1106.5,487.5"/><path d="M1231.5,124.0 L1231.5,128.5 L1231.6,133.1 L1231.6,137.6 L1231.6,142.1 L1231.6,146.7 L1231.6,151.2 L1231.6,155.7 L1231.6,160.3 L1231.6,164.8 L1231.6,169.3 L1231.7,173.9 L1231.7,178.4 L1231.7,182.9 L1231.7,187.5 L1231.7,192.0 L1231.7,196.5 L1231.7,201.1 L1231.6,205.6 L1231.6,210.1 L1231.6,214.6 L1231.6,219.2 L1231.6,223.7 L1231.6,228.2 L1231.5,232.8 L1231.5,237.3 L1231.5,241.8 L1231.4,246.4 L1231.4,250.9 L1231.3,255.4 L1231.3,260.0 L1231.2,264.5 L1231.1,269.0 L1231.0,273.6 L1230.8,278.1 L1230.7,282.6 L1230.5,287.2 L1230.3,291.7 L1230.0,296.2 L1229.7,300.8 L1229.3,305.3 L1228.9,309.8 L1228.3,314.4 L1227.5,318.9 L1226.6,323.4 L1225.4,328.0 L1223.9,332.5 L1222.0,337.0 L1219.7,341.6 L1216.9,346.1 L1213.7,350.6 L1210.2,355.2 L1206.6,359.7 L1202.9,364.2 L1199.3,368.7 L1195.7,373.3 L1192.1,377.8 L1188.7,382.3 L1185.2,386.9 L1181.9,391.4 L1178.6,395.9 L1175.3,400.5 L1172.1,405.0 L1169.0,409.5 L1165.9,414.1 L1162.9,418.6 L1159.9,423.1 L1157.0,427.7 L1154.0,432.2 L1151.1,436.7 L1148.2,441.3 L1145.4,445.8 L1142.5,450.3 L1139.5,454.9 L1136.6,459.4 L1133.6,463.9 L1130.6,468.5 L1127.5,473.0 L1124.3,477.5 L1121.0,482.1 L1117.0,487.5"/><path d="M1234.2,124.0 L1234.2,128.5 L1234.2,133.1 L1234.2,137.6 L1234.2,142.1 L1234.1,146.7 L1234.1,151.2 L1234.1,155.7 L1234.1,160.3 L1234.1,164.8 L1234.1,169.3 L1234.1,173.9 L1234.1,178.4 L1234.1,182.9 L1234.1,187.5 L1234.1,192.0 L1234.1,196.5 L1234.1,201.1 L1234.1,205.6 L1234.1,210.1 L1234.1,214.6 L1234.1,219.2 L1234.2,223.7 L1234.2,228.2 L1234.2,232.8 L1234.2,237.3 L1234.2,241.8 L1234.3,246.4 L1234.3,250.9 L1234.4,255.4 L1234.4,260.0 L1234.5,264.5 L1234.6,269.0 L1234.7,273.6 L1234.8,278.1 L1234.9,282.6 L1235.0,287.2 L1235.2,291.7 L1235.4,296.2 L1235.7,300.8 L1236.0,305.3 L1236.4,309.8 L1236.9,314.4 L1237.5,318.9 L1238.3,323.4 L1239.3,328.0 L1240.6,332.5 L1242.3,337.0 L1244.5,341.6 L1247.2,346.1 L1250.4,350.6 L1254.1,355.2 L1258.1,359.7 L1262.2,364.2 L1266.4,368.7 L1270.6,373.3 L1274.9,377.8 L1279.2,382.3 L1283.5,386.9 L1287.8,391.4 L1292.1,395.9 L1296.5,400.5 L1300.8,405.0 L1305.1,409.5 L1309.5,414.1 L1313.9,418.6 L1318.3,423.1 L1322.7,427.7 L1327.1,432.2 L1331.5,436.7 L1335.9,441.3 L1340.4,445.8 L1344.8,450.3 L1349.3,454.9 L1353.8,459.4 L1358.3,463.9 L1362.8,468.5 L1367.3,473.0 L1371.8,477.5 L1376.3,482.1 L1381.8,487.5"/><path d="M1234.6,124.0 L1234.6,128.5 L1234.6,133.1 L1234.6,137.6 L1234.5,142.1 L1234.5,146.7 L1234.5,151.2 L1234.5,155.7 L1234.5,160.3 L1234.5,164.8 L1234.5,169.3 L1234.5,173.9 L1234.5,178.4 L1234.5,182.9 L1234.5,187.5 L1234.5,192.0 L1234.5,196.5 L1234.5,201.1 L1234.5,205.6 L1234.5,210.1 L1234.5,214.6 L1234.5,219.2 L1234.5,223.7 L1234.6,228.2 L1234.6,232.8 L1234.6,237.3 L1234.7,241.8 L1234.7,246.4 L1234.8,250.9 L1234.8,255.4 L1234.9,260.0 L1235.0,264.5 L1235.1,269.0 L1235.2,273.6 L1235.3,278.1 L1235.5,282.6 L1235.7,287.2 L1235.9,291.7 L1236.2,296.2 L1236.6,300.8 L1237.0,305.3 L1237.5,309.8 L1238.1,314.4 L1239.0,318.9 L1240.0,323.4 L1241.3,328.0 L1243.0,332.5 L1245.0,337.0 L1247.6,341.6 L1250.7,346.1 L1254.1,350.6 L1257.9,355.2 L1261.9,359.7 L1265.9,364.2 L1270.0,368.7 L1274.1,373.3 L1278.3,377.8 L1282.4,382.3 L1286.6,386.9 L1290.7,391.4 L1294.9,395.9 L1299.1,400.5 L1303.3,405.0 L1307.6,409.5 L1311.8,414.1 L1316.0,418.6 L1320.3,423.1 L1324.5,427.7 L1328.8,432.2 L1333.1,436.7 L1337.4,441.3 L1341.7,445.8 L1346.0,450.3 L1350.3,454.9 L1354.7,459.4 L1359.0,463.9 L1363.4,468.5 L1367.7,473.0 L1372.1,477.5 L1376.5,482.1 L1381.8,487.5"/><path d="M1235.0,124.0 L1235.0,128.5 L1235.0,133.1 L1234.9,137.6 L1234.9,142.1 L1234.9,146.7 L1234.9,151.2 L1234.9,155.7 L1234.9,160.3 L1234.9,164.8 L1234.8,169.3 L1234.8,173.9 L1234.8,178.4 L1234.8,182.9 L1234.8,187.5 L1234.8,192.0 L1234.8,196.5 L1234.8,201.1 L1234.8,205.6 L1234.9,210.1 L1234.9,214.6 L1234.9,219.2 L1234.9,223.7 L1234.9,228.2 L1235.0,232.8 L1235.0,237.3 L1235.1,241.8 L1235.1,246.4 L1235.2,250.9 L1235.3,255.4 L1235.4,260.0 L1235.5,264.5 L1235.6,269.0 L1235.8,273.6 L1235.9,278.1 L1236.1,282.6 L1236.4,287.2 L1236.7,291.7 L1237.0,296.2 L1237.5,300.8 L1238.0,305.3 L1238.6,309.8 L1239.4,314.4 L1240.4,318.9 L1241.7,323.4 L1243.2,328.0 L1245.2,332.5 L1247.6,337.0 L1250.4,341.6 L1253.7,346.1 L1257.2,350.6 L1261.0,355.2 L1264.9,359.7 L1268.9,364.2 L1272.9,368.7 L1276.9,373.3 L1280.9,377.8 L1285.0,382.3 L1289.0,386.9 L1293.1,391.4 L1297.2,395.9 L1301.3,400.5 L1305.4,405.0 L1309.5,409.5 L1313.6,414.1 L1317.7,418.6 L1321.8,423.1 L1326.0,427.7 L1330.2,432.2 L1334.3,436.7 L1338.5,441.3 L1342.7,445.8 L1346.9,450.3 L1351.1,454.9 L1355.4,459.4 L1359.6,463.9 L1363.8,468.5 L1368.1,473.0 L1372.4,477.5 L1376.6,482.1 L1381.8,487.5"/><path d="M1239.0,124.0 L1238.9,128.5 L1238.9,133.1 L1238.8,137.6 L1238.8,142.1 L1238.7,146.7 L1238.7,151.2 L1238.6,155.7 L1238.6,160.3 L1238.6,164.8 L1238.5,169.3 L1238.5,173.9 L1238.5,178.4 L1238.5,182.9 L1238.5,187.5 L1238.5,192.0 L1238.5,196.5 L1238.5,201.1 L1238.5,205.6 L1238.6,210.1 L1238.6,214.6 L1238.7,219.2 L1238.8,223.7 L1238.8,228.2 L1239.0,232.8 L1239.1,237.3 L1239.2,241.8 L1239.4,246.4 L1239.6,250.9 L1239.8,255.4 L1240.1,260.0 L1240.4,264.5 L1240.8,269.0 L1241.2,273.6 L1241.8,278.1 L1242.3,282.6 L1243.1,287.2 L1243.9,291.7 L1244.9,296.2 L1246.0,300.8 L1247.4,305.3 L1249.0,309.8 L1250.9,314.4 L1253.1,318.9 L1255.6,323.4 L1258.3,328.0 L1261.3,332.5 L1264.4,337.0 L1267.7,341.6 L1271.0,346.1 L1274.4,350.6 L1277.8,355.2 L1281.2,359.7 L1284.7,364.2 L1288.1,368.7 L1291.6,373.3 L1295.1,377.8 L1298.5,382.3 L1302.0,386.9 L1305.5,391.4 L1309.0,395.9 L1312.5,400.5 L1316.1,405.0 L1319.6,409.5 L1323.1,414.1 L1326.7,418.6 L1330.3,423.1 L1333.8,427.7 L1337.4,432.2 L1341.0,436.7 L1344.6,441.3 L1348.2,445.8 L1351.8,450.3 L1355.4,454.9 L1359.1,459.4 L1362.7,463.9 L1366.4,468.5 L1370.0,473.0 L1373.7,477.5 L1377.4,482.1 L1381.8,487.5"/><path d="M1240.9,124.0 L1240.9,128.5 L1240.8,133.1 L1240.7,137.6 L1240.6,142.1 L1240.6,146.7 L1240.5,151.2 L1240.4,155.7 L1240.4,160.3 L1240.4,164.8 L1240.3,169.3 L1240.3,173.9 L1240.3,178.4 L1240.2,182.9 L1240.2,187.5 L1240.2,192.0 L1240.3,196.5 L1240.3,201.1 L1240.3,205.6 L1240.4,210.1 L1240.4,214.6 L1240.5,219.2 L1240.6,223.7 L1240.7,228.2 L1240.9,232.8 L1241.0,237.3 L1241.2,241.8 L1241.5,246.4 L1241.7,250.9 L1242.0,255.4 L1242.4,260.0 L1242.8,264.5 L1243.3,269.0 L1243.9,273.6 L1244.5,278.1 L1245.3,282.6 L1246.2,287.2 L1247.3,291.7 L1248.5,296.2 L1249.9,300.8 L1251.6,305.3 L1253.5,309.8 L1255.7,314.4 L1258.1,318.9 L1260.8,323.4 L1263.6,328.0 L1266.6,332.5 L1269.7,337.0 L1272.8,341.6 L1276.1,346.1 L1279.3,350.6 L1282.6,355.2 L1285.8,359.7 L1289.1,364.2 L1292.4,368.7 L1295.7,373.3 L1299.0,377.8 L1302.4,382.3 L1305.7,386.9 L1309.0,391.4 L1312.4,395.9 L1315.7,400.5 L1319.1,405.0 L1322.5,409.5 L1325.8,414.1 L1329.2,418.6 L1332.6,423.1 L1336.0,427.7 L1339.4,432.2 L1342.9,436.7 L1346.3,441.3 L1349.7,445.8 L1353.2,450.3 L1356.6,454.9 L1360.1,459.4 L1363.6,463.9 L1367.1,468.5 L1370.5,473.0 L1374.0,477.5 L1377.6,482.1 L1381.8,487.5"/><path d="M1242.3,124.0 L1242.2,128.5 L1242.2,133.1 L1242.1,137.6 L1242.0,142.1 L1241.9,146.7 L1241.8,151.2 L1241.8,155.7 L1241.7,160.3 L1241.6,164.8 L1241.6,169.3 L1241.6,173.9 L1241.5,178.4 L1241.5,182.9 L1241.5,187.5 L1241.5,192.0 L1241.5,196.5 L1241.6,201.1 L1241.6,205.6 L1241.7,210.1 L1241.7,214.6 L1241.8,219.2 L1242.0,223.7 L1242.1,228.2 L1242.3,232.8 L1242.5,237.3 L1242.7,241.8 L1242.9,246.4 L1243.3,250.9 L1243.6,255.4 L1244.0,260.0 L1244.5,264.5 L1245.1,269.0 L1245.7,273.6 L1246.5,278.1 L1247.4,282.6 L1248.4,287.2 L1249.6,291.7 L1251.0,296.2 L1252.6,300.8 L1254.4,305.3 L1256.5,309.8 L1258.8,314.4 L1261.3,318.9 L1264.0,323.4 L1266.9,328.0 L1269.8,332.5 L1272.9,337.0 L1276.0,341.6 L1279.1,346.1 L1282.3,350.6 L1285.4,355.2 L1288.6,359.7 L1291.8,364.2 L1295.0,368.7 L1298.2,373.3 L1301.4,377.8 L1304.7,382.3 L1307.9,386.9 L1311.1,391.4 L1314.4,395.9 L1317.6,400.5 L1320.9,405.0 L1324.2,409.5 L1327.5,414.1 L1330.8,418.6 L1334.1,423.1 L1337.4,427.7 L1340.7,432.2 L1344.0,436.7 L1347.3,441.3 L1350.7,445.8 L1354.0,450.3 L1357.4,454.9 L1360.7,459.4 L1364.1,463.9 L1367.5,468.5 L1370.9,473.0 L1374.3,477.5 L1377.7,482.1 L1381.8,487.5"/><path d="M1247.0,124.0 L1246.9,128.5 L1246.7,133.1 L1246.6,137.6 L1246.5,142.1 L1246.3,146.7 L1246.2,151.2 L1246.1,155.7 L1246.1,160.3 L1246.0,164.8 L1245.9,169.3 L1245.9,173.9 L1245.8,178.4 L1245.8,182.9 L1245.8,187.5 L1245.8,192.0 L1245.8,196.5 L1245.8,201.1 L1245.9,205.6 L1246.0,210.1 L1246.1,214.6 L1246.2,219.2 L1246.4,223.7 L1246.6,228.2 L1246.9,232.8 L1247.2,237.3 L1247.5,241.8 L1247.9,246.4 L1248.3,250.9 L1248.9,255.4 L1249.5,260.0 L1250.2,264.5 L1251.0,269.0 L1251.9,273.6 L1253.0,278.1 L1254.2,282.6 L1255.6,287.2 L1257.1,291.7 L1258.9,296.2 L1260.8,300.8 L1263.0,305.3 L1265.3,309.8 L1267.7,314.4 L1270.3,318.9 L1273.0,323.4 L1275.8,328.0 L1278.6,332.5 L1281.5,337.0 L1284.4,341.6 L1287.3,346.1 L1290.2,350.6 L1293.1,355.2 L1296.0,359.7 L1299.0,364.2 L1301.9,368.7 L1304.9,373.3 L1307.8,377.8 L1310.8,382.3 L1313.8,386.9 L1316.8,391.4 L1319.7,395.9 L1322.7,400.5 L1325.7,405.0 L1328.8,409.5 L1331.8,414.1 L1334.8,418.6 L1337.8,423.1 L1340.9,427.7 L1343.9,432.2 L1347.0,436.7 L1350.1,441.3 L1353.1,445.8 L1356.2,450.3 L1359.3,454.9 L1362.4,459.4 L1365.5,463.9 L1368.6,468.5 L1371.7,473.0 L1374.9,477.5 L1378.0,482.1 L1381.8,487.5"/><path d="M1251.0,124.0 L1250.8,128.5 L1250.7,133.1 L1250.5,137.6 L1250.3,142.1 L1250.2,146.7 L1250.0,151.2 L1249.9,155.7 L1249.8,160.3 L1249.7,164.8 L1249.6,169.3 L1249.5,173.9 L1249.5,178.4 L1249.4,182.9 L1249.4,187.5 L1249.4,192.0 L1249.5,196.5 L1249.5,201.1 L1249.6,205.6 L1249.7,210.1 L1249.8,214.6 L1250.0,219.2 L1250.2,223.7 L1250.5,228.2 L1250.8,232.8 L1251.2,237.3 L1251.6,241.8 L1252.1,246.4 L1252.7,250.9 L1253.3,255.4 L1254.1,260.0 L1254.9,264.5 L1255.9,269.0 L1257.0,273.6 L1258.3,278.1 L1259.7,282.6 L1261.3,287.2 L1263.0,291.7 L1264.9,296.2 L1267.0,300.8 L1269.3,305.3 L1271.6,309.8 L1274.1,314.4 L1276.6,318.9 L1279.2,323.4 L1281.9,328.0 L1284.6,332.5 L1287.3,337.0 L1290.0,341.6 L1292.7,346.1 L1295.5,350.6 L1298.2,355.2 L1301.0,359.7 L1303.8,364.2 L1306.5,368.7 L1309.3,373.3 L1312.1,377.8 L1314.9,382.3 L1317.7,386.9 L1320.5,391.4 L1323.3,395.9 L1326.2,400.5 L1329.0,405.0 L1331.8,409.5 L1334.7,414.1 L1337.5,418.6 L1340.4,423.1 L1343.3,427.7 L1346.1,432.2 L1349.0,436.7 L1351.9,441.3 L1354.8,445.8 L1357.7,450.3 L1360.6,454.9 L1363.5,459.4 L1366.5,463.9 L1369.4,468.5 L1372.3,473.0 L1375.3,477.5 L1378.2,482.1 L1381.8,487.5"/><path d="M1268.6,124.0 L1268.2,128.5 L1267.9,133.1 L1267.5,137.6 L1267.2,142.1 L1266.9,146.7 L1266.6,151.2 L1266.4,155.7 L1266.2,160.3 L1266.0,164.8 L1265.8,169.3 L1265.7,173.9 L1265.6,178.4 L1265.5,182.9 L1265.4,187.5 L1265.5,192.0 L1265.5,196.5 L1265.6,201.1 L1265.7,205.6 L1265.9,210.1 L1266.2,214.6 L1266.5,219.2 L1266.9,223.7 L1267.4,228.2 L1267.9,232.8 L1268.6,237.3 L1269.3,241.8 L1270.1,246.4 L1271.0,250.9 L1272.1,255.4 L1273.2,260.0 L1274.5,264.5 L1275.9,269.0 L1277.4,273.6 L1279.0,278.1 L1280.7,282.6 L1282.5,287.2 L1284.4,291.7 L1286.4,296.2 L1288.4,300.8 L1290.5,305.3 L1292.6,309.8 L1294.7,314.4 L1296.9,318.9 L1299.1,323.4 L1301.2,328.0 L1303.4,332.5 L1305.6,337.0 L1307.8,341.6 L1310.0,346.1 L1312.2,350.6 L1314.5,355.2 L1316.7,359.7 L1318.9,364.2 L1321.2,368.7 L1323.4,373.3 L1325.7,377.8 L1327.9,382.3 L1330.2,386.9 L1332.4,391.4 L1334.7,395.9 L1337.0,400.5 L1339.3,405.0 L1341.6,409.5 L1343.8,414.1 L1346.1,418.6 L1348.4,423.1 L1350.8,427.7 L1353.1,432.2 L1355.4,436.7 L1357.7,441.3 L1360.1,445.8 L1362.4,450.3 L1364.7,454.9 L1367.1,459.4 L1369.4,463.9 L1371.8,468.5 L1374.2,473.0 L1376.5,477.5 L1378.9,482.1 L1381.8,487.5"/><path d="M1270.4,124.0 L1270.0,128.5 L1269.6,133.1 L1269.2,137.6 L1268.9,142.1 L1268.6,146.7 L1268.3,151.2 L1268.0,155.7 L1267.8,160.3 L1267.6,164.8 L1267.4,169.3 L1267.3,173.9 L1267.2,178.4 L1267.1,182.9 L1267.1,187.5 L1267.1,192.0 L1267.1,196.5 L1267.2,201.1 L1267.4,205.6 L1267.6,210.1 L1267.8,214.6 L1268.2,219.2 L1268.6,223.7 L1269.1,228.2 L1269.6,232.8 L1270.3,237.3 L1271.0,241.8 L1271.9,246.4 L1272.8,250.9 L1273.9,255.4 L1275.0,260.0 L1276.3,264.5 L1277.7,269.0 L1279.2,273.6 L1280.9,278.1 L1282.6,282.6 L1284.4,287.2 L1286.3,291.7 L1288.2,296.2 L1290.2,300.8 L1292.3,305.3 L1294.3,309.8 L1296.4,314.4 L1298.5,318.9 L1300.7,323.4 L1302.8,328.0 L1305.0,332.5 L1307.1,337.0 L1309.3,341.6 L1311.4,346.1 L1313.6,350.6 L1315.8,355.2 L1318.0,359.7 L1320.2,364.2 L1322.3,368.7 L1324.5,373.3 L1326.8,377.8 L1329.0,382.3 L1331.2,386.9 L1333.4,391.4 L1335.6,395.9 L1337.9,400.5 L1340.1,405.0 L1342.3,409.5 L1344.6,414.1 L1346.8,418.6 L1349.1,423.1 L1351.4,427.7 L1353.6,432.2 L1355.9,436.7 L1358.2,441.3 L1360.5,445.8 L1362.8,450.3 L1365.1,454.9 L1367.4,459.4 L1369.7,463.9 L1372.0,468.5 L1374.3,473.0 L1376.6,477.5 L1379.0,482.1 L1381.8,487.5"/><path d="M1281.1,124.0 L1280.6,128.5 L1280.1,133.1 L1279.6,137.6 L1279.2,142.1 L1278.8,146.7 L1278.4,151.2 L1278.1,155.7 L1277.7,160.3 L1277.5,164.8 L1277.2,169.3 L1277.1,173.9 L1276.9,178.4 L1276.8,182.9 L1276.8,187.5 L1276.8,192.0 L1276.8,196.5 L1276.9,201.1 L1277.1,205.6 L1277.4,210.1 L1277.7,214.6 L1278.1,219.2 L1278.5,223.7 L1279.1,228.2 L1279.8,232.8 L1280.5,237.3 L1281.3,241.8 L1282.3,246.4 L1283.3,250.9 L1284.5,255.4 L1285.7,260.0 L1287.0,264.5 L1288.5,269.0 L1290.0,273.6 L1291.6,278.1 L1293.2,282.6 L1294.9,287.2 L1296.7,291.7 L1298.5,296.2 L1300.3,300.8 L1302.2,305.3 L1304.0,309.8 L1305.9,314.4 L1307.8,318.9 L1309.7,323.4 L1311.6,328.0 L1313.5,332.5 L1315.4,337.0 L1317.3,341.6 L1319.3,346.1 L1321.2,350.6 L1323.1,355.2 L1325.1,359.7 L1327.0,364.2 L1329.0,368.7 L1330.9,373.3 L1332.9,377.8 L1334.9,382.3 L1336.8,386.9 L1338.8,391.4 L1340.8,395.9 L1342.8,400.5 L1344.7,405.0 L1346.7,409.5 L1348.7,414.1 L1350.7,418.6 L1352.7,423.1 L1354.8,427.7 L1356.8,432.2 L1358.8,436.7 L1360.8,441.3 L1362.9,445.8 L1364.9,450.3 L1366.9,454.9 L1369.0,459.4 L1371.0,463.9 L1373.1,468.5 L1375.2,473.0 L1377.2,477.5 L1379.3,482.1 L1381.8,487.5"/><path d="M1282.8,124.0 L1282.2,128.5 L1281.7,133.1 L1281.3,137.6 L1280.8,142.1 L1280.4,146.7 L1280.0,151.2 L1279.6,155.7 L1279.3,160.3 L1279.1,164.8 L1278.8,169.3 L1278.6,173.9 L1278.5,178.4 L1278.4,182.9 L1278.3,187.5 L1278.3,192.0 L1278.4,196.5 L1278.5,201.1 L1278.7,205.6 L1278.9,210.1 L1279.2,214.6 L1279.6,219.2 L1280.1,223.7 L1280.7,228.2 L1281.4,232.8 L1282.1,237.3 L1283.0,241.8 L1283.9,246.4 L1285.0,250.9 L1286.1,255.4 L1287.3,260.0 L1288.7,264.5 L1290.1,269.0 L1291.6,273.6 L1293.2,278.1 L1294.8,282.6 L1296.5,287.2 L1298.3,291.7 L1300.0,296.2 L1301.8,300.8 L1303.6,305.3 L1305.5,309.8 L1307.3,314.4 L1309.2,318.9 L1311.0,323.4 L1312.9,328.0 L1314.8,332.5 L1316.7,337.0 L1318.5,341.6 L1320.4,346.1 L1322.3,350.6 L1324.2,355.2 L1326.1,359.7 L1328.0,364.2 L1330.0,368.7 L1331.9,373.3 L1333.8,377.8 L1335.7,382.3 L1337.7,386.9 L1339.6,391.4 L1341.5,395.9 L1343.5,400.5 L1345.4,405.0 L1347.4,409.5 L1349.4,414.1 L1351.3,418.6 L1353.3,423.1 L1355.3,427.7 L1357.2,432.2 L1359.2,436.7 L1361.2,441.3 L1363.2,445.8 L1365.2,450.3 L1367.2,454.9 L1369.2,459.4 L1371.2,463.9 L1373.3,468.5 L1375.3,473.0 L1377.3,477.5 L1379.3,482.1 L1381.8,487.5"/><path d="M1291.1,124.0 L1290.5,128.5 L1289.9,133.1 L1289.3,137.6 L1288.8,142.1 L1288.3,146.7 L1287.8,151.2 L1287.4,155.7 L1287.1,160.3 L1286.7,164.8 L1286.5,169.3 L1286.2,173.9 L1286.1,178.4 L1285.9,182.9 L1285.9,187.5 L1285.9,192.0 L1285.9,196.5 L1286.0,201.1 L1286.2,205.6 L1286.5,210.1 L1286.8,214.6 L1287.3,219.2 L1287.8,223.7 L1288.4,228.2 L1289.1,232.8 L1289.9,237.3 L1290.8,241.8 L1291.7,246.4 L1292.8,250.9 L1293.9,255.4 L1295.2,260.0 L1296.5,264.5 L1297.9,269.0 L1299.3,273.6 L1300.8,278.1 L1302.4,282.6 L1303.9,287.2 L1305.6,291.7 L1307.2,296.2 L1308.8,300.8 L1310.5,305.3 L1312.2,309.8 L1313.9,314.4 L1315.6,318.9 L1317.3,323.4 L1319.0,328.0 L1320.7,332.5 L1322.4,337.0 L1324.1,341.6 L1325.9,346.1 L1327.6,350.6 L1329.3,355.2 L1331.0,359.7 L1332.8,364.2 L1334.5,368.7 L1336.3,373.3 L1338.0,377.8 L1339.8,382.3 L1341.6,386.9 L1343.3,391.4 L1345.1,395.9 L1346.9,400.5 L1348.6,405.0 L1350.4,409.5 L1352.2,414.1 L1354.0,418.6 L1355.8,423.1 L1357.6,427.7 L1359.4,432.2 L1361.2,436.7 L1363.0,441.3 L1364.9,445.8 L1366.7,450.3 L1368.5,454.9 L1370.3,459.4 L1372.2,463.9 L1374.0,468.5 L1375.9,473.0 L1377.7,477.5 L1379.6,482.1 L1381.8,487.5"/><path d="M1292.5,124.0 L1291.8,128.5 L1291.2,133.1 L1290.6,137.6 L1290.1,142.1 L1289.6,146.7 L1289.1,151.2 L1288.7,155.7 L1288.3,160.3 L1288.0,164.8 L1287.7,169.3 L1287.5,173.9 L1287.3,178.4 L1287.2,182.9 L1287.1,187.5 L1287.1,192.0 L1287.1,196.5 L1287.3,201.1 L1287.5,205.6 L1287.7,210.1 L1288.1,214.6 L1288.5,219.2 L1289.0,223.7 L1289.7,228.2 L1290.4,232.8 L1291.1,237.3 L1292.0,241.8 L1293.0,246.4 L1294.1,250.9 L1295.2,255.4 L1296.4,260.0 L1297.8,264.5 L1299.1,269.0 L1300.6,273.6 L1302.0,278.1 L1303.6,282.6 L1305.1,287.2 L1306.7,291.7 L1308.3,296.2 L1310.0,300.8 L1311.6,305.3 L1313.3,309.8 L1314.9,314.4 L1316.6,318.9 L1318.3,323.4 L1319.9,328.0 L1321.6,332.5 L1323.3,337.0 L1325.0,341.6 L1326.7,346.1 L1328.4,350.6 L1330.1,355.2 L1331.8,359.7 L1333.5,364.2 L1335.3,368.7 L1337.0,373.3 L1338.7,377.8 L1340.4,382.3 L1342.2,386.9 L1343.9,391.4 L1345.7,395.9 L1347.4,400.5 L1349.2,405.0 L1350.9,409.5 L1352.7,414.1 L1354.4,418.6 L1356.2,423.1 L1358.0,427.7 L1359.8,432.2 L1361.5,436.7 L1363.3,441.3 L1365.1,445.8 L1366.9,450.3 L1368.7,454.9 L1370.5,459.4 L1372.3,463.9 L1374.1,468.5 L1375.9,473.0 L1377.8,477.5 L1379.6,482.1 L1381.8,487.5"/><path d="M1293.0,124.0 L1292.3,128.5 L1291.7,133.1 L1291.1,137.6 L1290.6,142.1 L1290.1,146.7 L1289.6,151.2 L1289.2,155.7 L1288.8,160.3 L1288.5,164.8 L1288.2,169.3 L1288.0,173.9 L1287.8,178.4 L1287.6,182.9 L1287.6,187.5 L1287.6,192.0 L1287.6,196.5 L1287.7,201.1 L1287.9,205.6 L1288.2,210.1 L1288.6,214.6 L1289.0,219.2 L1289.5,223.7 L1290.1,228.2 L1290.8,232.8 L1291.6,237.3 L1292.5,241.8 L1293.5,246.4 L1294.5,250.9 L1295.7,255.4 L1296.9,260.0 L1298.2,264.5 L1299.6,269.0 L1301.0,273.6 L1302.5,278.1 L1304.0,282.6 L1305.6,287.2 L1307.1,291.7 L1308.8,296.2 L1310.4,300.8 L1312.0,305.3 L1313.7,309.8 L1315.3,314.4 L1317.0,318.9 L1318.6,323.4 L1320.3,328.0 L1322.0,332.5 L1323.7,337.0 L1325.3,341.6 L1327.0,346.1 L1328.7,350.6 L1330.4,355.2 L1332.1,359.7 L1333.8,364.2 L1335.5,368.7 L1337.2,373.3 L1339.0,377.8 L1340.7,382.3 L1342.4,386.9 L1344.1,391.4 L1345.9,395.9 L1347.6,400.5 L1349.3,405.0 L1351.1,409.5 L1352.8,414.1 L1354.6,418.6 L1356.4,423.1 L1358.1,427.7 L1359.9,432.2 L1361.7,436.7 L1363.4,441.3 L1365.2,445.8 L1367.0,450.3 L1368.8,454.9 L1370.6,459.4 L1372.4,463.9 L1374.2,468.5 L1376.0,473.0 L1377.8,477.5 L1379.6,482.1 L1381.8,487.5"/><path d="M1295.1,124.0 L1294.4,128.5 L1293.8,133.1 L1293.2,137.6 L1292.6,142.1 L1292.1,146.7 L1291.6,151.2 L1291.2,155.7 L1290.8,160.3 L1290.4,164.8 L1290.1,169.3 L1289.9,173.9 L1289.7,178.4 L1289.6,182.9 L1289.5,187.5 L1289.5,192.0 L1289.5,196.5 L1289.7,201.1 L1289.9,205.6 L1290.1,210.1 L1290.5,214.6 L1290.9,219.2 L1291.4,223.7 L1292.1,228.2 L1292.8,232.8 L1293.6,237.3 L1294.5,241.8 L1295.4,246.4 L1296.5,250.9 L1297.6,255.4 L1298.9,260.0 L1300.1,264.5 L1301.5,269.0 L1302.9,273.6 L1304.4,278.1 L1305.8,282.6 L1307.4,287.2 L1308.9,291.7 L1310.5,296.2 L1312.1,300.8 L1313.7,305.3 L1315.3,309.8 L1316.9,314.4 L1318.5,318.9 L1320.1,323.4 L1321.8,328.0 L1323.4,332.5 L1325.0,337.0 L1326.7,341.6 L1328.3,346.1 L1330.0,350.6 L1331.6,355.2 L1333.3,359.7 L1335.0,364.2 L1336.6,368.7 L1338.3,373.3 L1340.0,377.8 L1341.7,382.3 L1343.3,386.9 L1345.0,391.4 L1346.7,395.9 L1348.4,400.5 L1350.1,405.0 L1351.8,409.5 L1353.5,414.1 L1355.3,418.6 L1357.0,423.1 L1358.7,427.7 L1360.4,432.2 L1362.1,436.7 L1363.9,441.3 L1365.6,445.8 L1367.4,450.3 L1369.1,454.9 L1370.8,459.4 L1372.6,463.9 L1374.4,468.5 L1376.1,473.0 L1377.9,477.5 L1379.6,482.1 L1381.8,487.5"/><path d="M1299.8,124.0 L1299.1,128.5 L1298.4,133.1 L1297.7,137.6 L1297.1,142.1 L1296.6,146.7 L1296.0,151.2 L1295.6,155.7 L1295.1,160.3 L1294.8,164.8 L1294.4,169.3 L1294.2,173.9 L1294.0,178.4 L1293.8,182.9 L1293.7,187.5 L1293.7,192.0 L1293.8,196.5 L1293.9,201.1 L1294.1,205.6 L1294.4,210.1 L1294.7,214.6 L1295.2,219.2 L1295.7,223.7 L1296.3,228.2 L1297.0,232.8 L1297.8,237.3 L1298.7,241.8 L1299.7,246.4 L1300.7,250.9 L1301.9,255.4 L1303.1,260.0 L1304.3,264.5 L1305.6,269.0 L1307.0,273.6 L1308.4,278.1 L1309.8,282.6 L1311.3,287.2 L1312.7,291.7 L1314.2,296.2 L1315.7,300.8 L1317.2,305.3 L1318.8,309.8 L1320.3,314.4 L1321.8,318.9 L1323.4,323.4 L1324.9,328.0 L1326.5,332.5 L1328.0,337.0 L1329.6,341.6 L1331.2,346.1 L1332.7,350.6 L1334.3,355.2 L1335.9,359.7 L1337.4,364.2 L1339.0,368.7 L1340.6,373.3 L1342.2,377.8 L1343.8,382.3 L1345.4,386.9 L1347.0,391.4 L1348.6,395.9 L1350.2,400.5 L1351.8,405.0 L1353.4,409.5 L1355.0,414.1 L1356.7,418.6 L1358.3,423.1 L1359.9,427.7 L1361.5,432.2 L1363.2,436.7 L1364.8,441.3 L1366.5,445.8 L1368.1,450.3 L1369.8,454.9 L1371.4,459.4 L1373.1,463.9 L1374.7,468.5 L1376.4,473.0 L1378.1,477.5 L1379.8,482.1 L1381.8,487.5"/><path d="M1303.8,124.0 L1303.0,128.5 L1302.3,133.1 L1301.6,137.6 L1301.0,142.1 L1300.4,146.7 L1299.8,151.2 L1299.3,155.7 L1298.9,160.3 L1298.5,164.8 L1298.1,169.3 L1297.8,173.9 L1297.6,178.4 L1297.5,182.9 L1297.4,187.5 L1297.3,192.0 L1297.4,196.5 L1297.5,201.1 L1297.7,205.6 L1298.0,210.1 L1298.3,214.6 L1298.8,219.2 L1299.3,223.7 L1299.9,228.2 L1300.7,232.8 L1301.5,237.3 L1302.3,241.8 L1303.3,246.4 L1304.3,250.9 L1305.4,255.4 L1306.6,260.0 L1307.8,264.5 L1309.1,269.0 L1310.4,273.6 L1311.7,278.1 L1313.1,282.6 L1314.5,287.2 L1315.9,291.7 L1317.3,296.2 L1318.8,300.8 L1320.2,305.3 L1321.7,309.8 L1323.2,314.4 L1324.6,318.9 L1326.1,323.4 L1327.6,328.0 L1329.0,332.5 L1330.5,337.0 L1332.0,341.6 L1333.5,346.1 L1335.0,350.6 L1336.5,355.2 L1338.0,359.7 L1339.5,364.2 L1341.0,368.7 L1342.5,373.3 L1344.0,377.8 L1345.5,382.3 L1347.1,386.9 L1348.6,391.4 L1350.1,395.9 L1351.7,400.5 L1353.2,405.0 L1354.7,409.5 L1356.3,414.1 L1357.8,418.6 L1359.4,423.1 L1360.9,427.7 L1362.5,432.2 L1364.0,436.7 L1365.6,441.3 L1367.2,445.8 L1368.7,450.3 L1370.3,454.9 L1371.9,459.4 L1373.5,463.9 L1375.1,468.5 L1376.7,473.0 L1378.3,477.5 L1379.9,482.1 L1381.8,487.5"/><path d="M1313.1,124.0 L1312.3,128.5 L1311.5,133.1 L1310.7,137.6 L1310.0,142.1 L1309.3,146.7 L1308.7,151.2 L1308.1,155.7 L1307.6,160.3 L1307.1,164.8 L1306.7,169.3 L1306.4,173.9 L1306.1,178.4 L1305.9,182.9 L1305.8,187.5 L1305.8,192.0 L1305.8,196.5 L1305.9,201.1 L1306.1,205.6 L1306.4,210.1 L1306.7,214.6 L1307.2,219.2 L1307.7,223.7 L1308.3,228.2 L1309.0,232.8 L1309.8,237.3 L1310.6,241.8 L1311.5,246.4 L1312.5,250.9 L1313.5,255.4 L1314.6,260.0 L1315.8,264.5 L1316.9,269.0 L1318.1,273.6 L1319.3,278.1 L1320.6,282.6 L1321.8,287.2 L1323.1,291.7 L1324.4,296.2 L1325.7,300.8 L1327.0,305.3 L1328.3,309.8 L1329.6,314.4 L1330.9,318.9 L1332.2,323.4 L1333.5,328.0 L1334.8,332.5 L1336.1,337.0 L1337.5,341.6 L1338.8,346.1 L1340.1,350.6 L1341.5,355.2 L1342.8,359.7 L1344.1,364.2 L1345.5,368.7 L1346.8,373.3 L1348.2,377.8 L1349.5,382.3 L1350.9,386.9 L1352.2,391.4 L1353.6,395.9 L1355.0,400.5 L1356.3,405.0 L1357.7,409.5 L1359.1,414.1 L1360.5,418.6 L1361.8,423.1 L1363.2,427.7 L1364.6,432.2 L1366.0,436.7 L1367.4,441.3 L1368.8,445.8 L1370.2,450.3 L1371.6,454.9 L1373.0,459.4 L1374.4,463.9 L1375.8,468.5 L1377.2,473.0 L1378.6,477.5 L1380.1,482.1 L1381.8,487.5"/><path d="M1317.8,124.0 L1316.9,128.5 L1316.0,133.1 L1315.2,137.6 L1314.4,142.1 L1313.7,146.7 L1313.1,151.2 L1312.5,155.7 L1311.9,160.3 L1311.4,164.8 L1311.0,169.3 L1310.7,173.9 L1310.4,178.4 L1310.2,182.9 L1310.0,187.5 L1310.0,192.0 L1310.0,196.5 L1310.1,201.1 L1310.3,205.6 L1310.6,210.1 L1310.9,214.6 L1311.3,219.2 L1311.9,223.7 L1312.5,228.2 L1313.1,232.8 L1313.9,237.3 L1314.7,241.8 L1315.6,246.4 L1316.5,250.9 L1317.5,255.4 L1318.6,260.0 L1319.6,264.5 L1320.7,269.0 L1321.9,273.6 L1323.0,278.1 L1324.2,282.6 L1325.4,287.2 L1326.6,291.7 L1327.8,296.2 L1329.0,300.8 L1330.2,305.3 L1331.5,309.8 L1332.7,314.4 L1333.9,318.9 L1335.1,323.4 L1336.4,328.0 L1337.6,332.5 L1338.9,337.0 L1340.1,341.6 L1341.4,346.1 L1342.6,350.6 L1343.9,355.2 L1345.1,359.7 L1346.4,364.2 L1347.6,368.7 L1348.9,373.3 L1350.2,377.8 L1351.4,382.3 L1352.7,386.9 L1354.0,391.4 L1355.3,395.9 L1356.6,400.5 L1357.8,405.0 L1359.1,409.5 L1360.4,414.1 L1361.7,418.6 L1363.0,423.1 L1364.3,427.7 L1365.6,432.2 L1366.9,436.7 L1368.2,441.3 L1369.6,445.8 L1370.9,450.3 L1372.2,454.9 L1373.5,459.4 L1374.8,463.9 L1376.2,468.5 L1377.5,473.0 L1378.8,477.5 L1380.2,482.1 L1381.8,487.5"/><path d="M1321.1,124.0 L1320.2,128.5 L1319.3,133.1 L1318.4,137.6 L1317.6,142.1 L1316.9,146.7 L1316.2,151.2 L1315.6,155.7 L1315.0,160.3 L1314.5,164.8 L1314.1,169.3 L1313.7,173.9 L1313.4,178.4 L1313.2,182.9 L1313.1,187.5 L1313.0,192.0 L1313.0,196.5 L1313.1,201.1 L1313.3,205.6 L1313.5,210.1 L1313.9,214.6 L1314.3,219.2 L1314.8,223.7 L1315.4,228.2 L1316.1,232.8 L1316.8,237.3 L1317.6,241.8 L1318.5,246.4 L1319.4,250.9 L1320.3,255.4 L1321.3,260.0 L1322.4,264.5 L1323.4,269.0 L1324.5,273.6 L1325.6,278.1 L1326.8,282.6 L1327.9,287.2 L1329.0,291.7 L1330.2,296.2 L1331.4,300.8 L1332.5,305.3 L1333.7,309.8 L1334.9,314.4 L1336.0,318.9 L1337.2,323.4 L1338.4,328.0 L1339.6,332.5 L1340.8,337.0 L1342.0,341.6 L1343.2,346.1 L1344.3,350.6 L1345.5,355.2 L1346.7,359.7 L1348.0,364.2 L1349.2,368.7 L1350.4,373.3 L1351.6,377.8 L1352.8,382.3 L1354.0,386.9 L1355.2,391.4 L1356.5,395.9 L1357.7,400.5 L1358.9,405.0 L1360.1,409.5 L1361.4,414.1 L1362.6,418.6 L1363.9,423.1 L1365.1,427.7 L1366.4,432.2 L1367.6,436.7 L1368.9,441.3 L1370.1,445.8 L1371.4,450.3 L1372.6,454.9 L1373.9,459.4 L1375.2,463.9 L1376.4,468.5 L1377.7,473.0 L1379.0,477.5 L1380.2,482.1 L1381.8,487.5"/><path d="M1322.7,124.0 L1321.8,128.5 L1320.9,133.1 L1320.0,137.6 L1319.2,142.1 L1318.4,146.7 L1317.7,151.2 L1317.1,155.7 L1316.5,160.3 L1316.0,164.8 L1315.6,169.3 L1315.2,173.9 L1314.9,178.4 L1314.7,182.9 L1314.5,187.5 L1314.4,192.0 L1314.4,196.5 L1314.5,201.1 L1314.7,205.6 L1315.0,210.1 L1315.3,214.6 L1315.7,219.2 L1316.2,223.7 L1316.8,228.2 L1317.5,232.8 L1318.2,237.3 L1319.0,241.8 L1319.8,246.4 L1320.7,250.9 L1321.7,255.4 L1322.6,260.0 L1323.7,264.5 L1324.7,269.0 L1325.8,273.6 L1326.9,278.1 L1328.0,282.6 L1329.1,287.2 L1330.2,291.7 L1331.3,296.2 L1332.5,300.8 L1333.6,305.3 L1334.7,309.8 L1335.9,314.4 L1337.0,318.9 L1338.2,323.4 L1339.4,328.0 L1340.5,332.5 L1341.7,337.0 L1342.8,341.6 L1344.0,346.1 L1345.2,350.6 L1346.3,355.2 L1347.5,359.7 L1348.7,364.2 L1349.9,368.7 L1351.1,373.3 L1352.3,377.8 L1353.4,382.3 L1354.6,386.9 L1355.8,391.4 L1357.0,395.9 L1358.2,400.5 L1359.4,405.0 L1360.6,409.5 L1361.8,414.1 L1363.0,418.6 L1364.3,423.1 L1365.5,427.7 L1366.7,432.2 L1367.9,436.7 L1369.1,441.3 L1370.4,445.8 L1371.6,450.3 L1372.8,454.9 L1374.1,459.4 L1375.3,463.9 L1376.5,468.5 L1377.8,473.0 L1379.0,477.5 L1380.3,482.1 L1381.8,487.5"/><path d="M1324.5,124.0 L1323.5,128.5 L1322.6,133.1 L1321.7,137.6 L1320.9,142.1 L1320.1,146.7 L1319.4,151.2 L1318.7,155.7 L1318.1,160.3 L1317.6,164.8 L1317.2,169.3 L1316.8,173.9 L1316.5,178.4 L1316.2,182.9 L1316.1,187.5 L1316.0,192.0 L1316.0,196.5 L1316.1,201.1 L1316.3,205.6 L1316.5,210.1 L1316.8,214.6 L1317.3,219.2 L1317.8,223.7 L1318.3,228.2 L1319.0,232.8 L1319.7,237.3 L1320.5,241.8 L1321.3,246.4 L1322.2,250.9 L1323.1,255.4 L1324.1,260.0 L1325.1,264.5 L1326.1,269.0 L1327.1,273.6 L1328.2,278.1 L1329.3,282.6 L1330.4,287.2 L1331.5,291.7 L1332.6,296.2 L1333.7,300.8 L1334.8,305.3 L1335.9,309.8 L1337.0,314.4 L1338.1,318.9 L1339.3,323.4 L1340.4,328.0 L1341.5,332.5 L1342.7,337.0 L1343.8,341.6 L1344.9,346.1 L1346.1,350.6 L1347.2,355.2 L1348.4,359.7 L1349.5,364.2 L1350.7,368.7 L1351.8,373.3 L1353.0,377.8 L1354.1,382.3 L1355.3,386.9 L1356.5,391.4 L1357.6,395.9 L1358.8,400.5 L1360.0,405.0 L1361.1,409.5 L1362.3,414.1 L1363.5,418.6 L1364.7,423.1 L1365.9,427.7 L1367.1,432.2 L1368.3,436.7 L1369.5,441.3 L1370.6,445.8 L1371.8,450.3 L1373.0,454.9 L1374.3,459.4 L1375.5,463.9 L1376.7,468.5 L1377.9,473.0 L1379.1,477.5 L1380.3,482.1 L1381.8,487.5"/><path d="M1331.8,124.0 L1330.8,128.5 L1329.8,133.1 L1328.8,137.6 L1327.9,142.1 L1327.1,146.7 L1326.3,151.2 L1325.6,155.7 L1325.0,160.3 L1324.4,164.8 L1323.9,169.3 L1323.5,173.9 L1323.1,178.4 L1322.9,182.9 L1322.7,187.5 L1322.6,192.0 L1322.6,196.5 L1322.6,201.1 L1322.8,205.6 L1323.0,210.1 L1323.3,214.6 L1323.7,219.2 L1324.2,223.7 L1324.7,228.2 L1325.3,232.8 L1326.0,237.3 L1326.7,241.8 L1327.5,246.4 L1328.3,250.9 L1329.1,255.4 L1330.0,260.0 L1330.9,264.5 L1331.9,269.0 L1332.8,273.6 L1333.8,278.1 L1334.7,282.6 L1335.7,287.2 L1336.7,291.7 L1337.7,296.2 L1338.7,300.8 L1339.7,305.3 L1340.7,309.8 L1341.7,314.4 L1342.7,318.9 L1343.7,323.4 L1344.7,328.0 L1345.7,332.5 L1346.7,337.0 L1347.8,341.6 L1348.8,346.1 L1349.8,350.6 L1350.8,355.2 L1351.9,359.7 L1352.9,364.2 L1353.9,368.7 L1354.9,373.3 L1356.0,377.8 L1357.0,382.3 L1358.1,386.9 L1359.1,391.4 L1360.2,395.9 L1361.2,400.5 L1362.3,405.0 L1363.3,409.5 L1364.4,414.1 L1365.4,418.6 L1366.5,423.1 L1367.5,427.7 L1368.6,432.2 L1369.7,436.7 L1370.7,441.3 L1371.8,445.8 L1372.9,450.3 L1374.0,454.9 L1375.0,459.4 L1376.1,463.9 L1377.2,468.5 L1378.3,473.0 L1379.4,477.5 L1380.5,482.1 L1381.8,487.5"/><path d="M1339.8,124.0 L1338.7,128.5 L1337.6,133.1 L1336.6,137.6 L1335.6,142.1 L1334.7,146.7 L1333.9,151.2 L1333.1,155.7 L1332.4,160.3 L1331.8,164.8 L1331.3,169.3 L1330.8,173.9 L1330.4,178.4 L1330.1,182.9 L1329.9,187.5 L1329.8,192.0 L1329.7,196.5 L1329.8,201.1 L1329.9,205.6 L1330.1,210.1 L1330.4,214.6 L1330.7,219.2 L1331.1,223.7 L1331.6,228.2 L1332.2,232.8 L1332.8,237.3 L1333.4,241.8 L1334.1,246.4 L1334.8,250.9 L1335.6,255.4 L1336.4,260.0 L1337.2,264.5 L1338.0,269.0 L1338.8,273.6 L1339.7,278.1 L1340.5,282.6 L1341.4,287.2 L1342.3,291.7 L1343.1,296.2 L1344.0,300.8 L1344.9,305.3 L1345.8,309.8 L1346.6,314.4 L1347.5,318.9 L1348.4,323.4 L1349.3,328.0 L1350.2,332.5 L1351.1,337.0 L1352.0,341.6 L1352.9,346.1 L1353.8,350.6 L1354.7,355.2 L1355.6,359.7 L1356.5,364.2 L1357.4,368.7 L1358.3,373.3 L1359.2,377.8 L1360.1,382.3 L1361.0,386.9 L1361.9,391.4 L1362.8,395.9 L1363.8,400.5 L1364.7,405.0 L1365.6,409.5 L1366.5,414.1 L1367.5,418.6 L1368.4,423.1 L1369.3,427.7 L1370.2,432.2 L1371.2,436.7 L1372.1,441.3 L1373.1,445.8 L1374.0,450.3 L1374.9,454.9 L1375.9,459.4 L1376.8,463.9 L1377.8,468.5 L1378.7,473.0 L1379.7,477.5 L1380.6,482.1 L1381.8,487.5"/><path d="M1366.9,124.0 L1365.5,128.5 L1364.1,133.1 L1362.8,137.6 L1361.6,142.1 L1360.5,146.7 L1359.4,151.2 L1358.5,155.7 L1357.6,160.3 L1356.8,164.8 L1356.1,169.3 L1355.5,173.9 L1355.0,178.4 L1354.5,182.9 L1354.2,187.5 L1353.9,192.0 L1353.8,196.5 L1353.7,201.1 L1353.6,205.6 L1353.7,210.1 L1353.8,214.6 L1354.0,219.2 L1354.2,223.7 L1354.4,228.2 L1354.7,232.8 L1355.1,237.3 L1355.5,241.8 L1355.8,246.4 L1356.3,250.9 L1356.7,255.4 L1357.1,260.0 L1357.6,264.5 L1358.0,269.0 L1358.5,273.6 L1359.0,278.1 L1359.4,282.6 L1359.9,287.2 L1360.4,291.7 L1360.9,296.2 L1361.3,300.8 L1361.8,305.3 L1362.3,309.8 L1362.8,314.4 L1363.3,318.9 L1363.7,323.4 L1364.2,328.0 L1364.7,332.5 L1365.2,337.0 L1365.7,341.6 L1366.2,346.1 L1366.7,350.6 L1367.1,355.2 L1367.6,359.7 L1368.1,364.2 L1368.6,368.7 L1369.1,373.3 L1369.6,377.8 L1370.1,382.3 L1370.6,386.9 L1371.1,391.4 L1371.6,395.9 L1372.1,400.5 L1372.6,405.0 L1373.1,409.5 L1373.6,414.1 L1374.1,418.6 L1374.6,423.1 L1375.1,427.7 L1375.6,432.2 L1376.1,436.7 L1376.6,441.3 L1377.1,445.8 L1377.6,450.3 L1378.1,454.9 L1378.6,459.4 L1379.1,463.9 L1379.6,468.5 L1380.1,473.0 L1380.7,477.5 L1381.2,482.1 L1381.8,487.5"/><path d="M1368.6,124.0 L1367.1,128.5 L1365.7,133.1 L1364.4,137.6 L1363.2,142.1 L1362.0,146.7 L1361.0,151.2 L1360.0,155.7 L1359.1,160.3 L1358.3,164.8 L1357.6,169.3 L1357.0,173.9 L1356.4,178.4 L1356.0,182.9 L1355.6,187.5 L1355.4,192.0 L1355.2,196.5 L1355.1,201.1 L1355.1,205.6 L1355.1,210.1 L1355.2,214.6 L1355.3,219.2 L1355.5,223.7 L1355.8,228.2 L1356.1,232.8 L1356.4,237.3 L1356.8,241.8 L1357.1,246.4 L1357.5,250.9 L1357.9,255.4 L1358.4,260.0 L1358.8,264.5 L1359.2,269.0 L1359.7,273.6 L1360.1,278.1 L1360.5,282.6 L1361.0,287.2 L1361.5,291.7 L1361.9,296.2 L1362.4,300.8 L1362.8,305.3 L1363.3,309.8 L1363.7,314.4 L1364.2,318.9 L1364.6,323.4 L1365.1,328.0 L1365.6,332.5 L1366.0,337.0 L1366.5,341.6 L1367.0,346.1 L1367.4,350.6 L1367.9,355.2 L1368.3,359.7 L1368.8,364.2 L1369.3,368.7 L1369.7,373.3 L1370.2,377.8 L1370.7,382.3 L1371.2,386.9 L1371.6,391.4 L1372.1,395.9 L1372.6,400.5 L1373.0,405.0 L1373.5,409.5 L1374.0,414.1 L1374.5,418.6 L1374.9,423.1 L1375.4,427.7 L1375.9,432.2 L1376.4,436.7 L1376.9,441.3 L1377.3,445.8 L1377.8,450.3 L1378.3,454.9 L1378.8,459.4 L1379.3,463.9 L1379.7,468.5 L1380.2,473.0 L1380.7,477.5 L1381.2,482.1 L1381.8,487.5"/><path d="M1380.6,124.0 L1379.0,128.5 L1377.5,133.1 L1376.1,137.6 L1374.7,142.1 L1373.5,146.7 L1372.3,151.2 L1371.2,155.7 L1370.3,160.3 L1369.4,164.8 L1368.6,169.3 L1367.9,173.9 L1367.3,178.4 L1366.8,182.9 L1366.4,187.5 L1366.0,192.0 L1365.8,196.5 L1365.6,201.1 L1365.5,205.6 L1365.4,210.1 L1365.4,214.6 L1365.5,219.2 L1365.6,223.7 L1365.7,228.2 L1365.9,232.8 L1366.1,237.3 L1366.3,241.8 L1366.5,246.4 L1366.7,250.9 L1367.0,255.4 L1367.3,260.0 L1367.5,264.5 L1367.8,269.0 L1368.1,273.6 L1368.4,278.1 L1368.6,282.6 L1368.9,287.2 L1369.2,291.7 L1369.5,296.2 L1369.8,300.8 L1370.1,305.3 L1370.3,309.8 L1370.6,314.4 L1370.9,318.9 L1371.2,323.4 L1371.5,328.0 L1371.8,332.5 L1372.1,337.0 L1372.4,341.6 L1372.6,346.1 L1372.9,350.6 L1373.2,355.2 L1373.5,359.7 L1373.8,364.2 L1374.1,368.7 L1374.4,373.3 L1374.7,377.8 L1375.0,382.3 L1375.3,386.9 L1375.5,391.4 L1375.8,395.9 L1376.1,400.5 L1376.4,405.0 L1376.7,409.5 L1377.0,414.1 L1377.3,418.6 L1377.6,423.1 L1377.9,427.7 L1378.2,432.2 L1378.5,436.7 L1378.8,441.3 L1379.1,445.8 L1379.4,450.3 L1379.6,454.9 L1379.9,459.4 L1380.2,463.9 L1380.5,468.5 L1380.8,473.0 L1381.1,477.5 L1381.4,482.1 L1381.8,487.5"/></g>
<g clip-path="url(#c_s4)" fill="none" stroke="url(#g_s4)" stroke-width="3.0" stroke-linejoin="round"><path d="M1090.8,124.0 L1123.3,214.9 L1121.6,305.8 L1103.5,396.6 L1084.2,487.5"/><path d="M1092.8,124.0 L1124.8,214.9 L1122.9,305.8 L1104.2,396.6 L1084.2,487.5"/><path d="M1120.4,124.0 L1146.1,214.9 L1142.0,305.8 L1114.4,396.6 L1084.2,487.5"/><path d="M1122.1,124.0 L1147.5,214.9 L1143.3,305.8 L1115.1,396.6 L1084.2,487.5"/><path d="M1129.2,124.0 L1152.9,214.9 L1148.4,305.8 L1117.9,396.6 L1084.2,487.5"/><path d="M1130.3,124.0 L1153.8,214.9 L1149.2,305.8 L1118.4,396.6 L1084.2,487.5"/><path d="M1132.5,124.0 L1155.5,214.9 L1150.8,305.8 L1119.3,396.6 L1084.2,487.5"/><path d="M1148.2,124.0 L1167.6,214.9 L1162.6,305.8 L1126.4,396.6 L1084.2,487.5"/><path d="M1150.3,124.0 L1169.2,214.9 L1164.2,305.8 L1127.4,396.6 L1084.2,487.5"/><path d="M1157.4,124.0 L1174.7,214.9 L1169.8,305.8 L1131.2,396.6 L1084.2,487.5"/><path d="M1159.5,124.0 L1176.3,214.9 L1171.4,305.8 L1132.4,396.6 L1084.2,487.5"/><path d="M1176.9,124.0 L1189.7,214.9 L1185.4,305.8 L1143.8,396.6 L1084.2,487.5"/><path d="M1182.6,124.0 L1194.1,214.9 L1190.0,305.8 L1148.6,396.6 L1084.2,487.5"/><path d="M1186.6,124.0 L1197.2,214.9 L1193.4,305.8 L1152.3,396.6 L1084.2,487.5"/><path d="M1190.5,124.0 L1200.2,214.9 L1196.6,305.8 L1156.4,396.6 L1084.2,487.5"/><path d="M1194.3,124.0 L1203.1,214.9 L1199.8,305.8 L1160.7,396.6 L1084.2,487.5"/><path d="M1200.9,124.0 L1208.3,214.9 L1205.4,305.8 L1169.5,396.6 L1084.2,487.5"/><path d="M1202.6,124.0 L1209.6,214.9 L1206.8,305.8 L1171.9,396.6 L1084.3,487.5"/><path d="M1204.8,124.0 L1211.2,214.9 L1208.7,305.8 L1175.2,396.6 L1084.3,487.5"/><path d="M1213.0,124.0 L1217.5,214.9 L1215.7,305.8 L1189.4,396.6 L1084.7,487.5"/><path d="M1214.5,124.0 L1218.7,214.9 L1217.0,305.8 L1192.3,396.6 L1085.0,487.5"/><path d="M1215.0,124.0 L1219.1,214.9 L1217.4,305.8 L1193.2,396.6 L1085.1,487.5"/><path d="M1218.4,124.0 L1221.7,214.9 L1220.4,305.8 L1200.1,396.6 L1086.6,487.5"/><path d="M1220.3,124.0 L1223.2,214.9 L1222.0,305.8 L1204.2,396.6 L1088.5,487.5"/><path d="M1222.9,124.0 L1225.2,214.9 L1224.3,305.8 L1209.9,396.6 L1094.0,487.5"/><path d="M1224.3,124.0 L1226.3,214.9 L1225.5,305.8 L1213.0,396.6 L1099.3,487.5"/><path d="M1227.7,124.0 L1228.9,214.9 L1228.4,305.8 L1220.6,396.6 L1125.7,487.5"/><path d="M1231.0,124.0 L1231.5,214.9 L1231.3,305.8 L1228.3,396.6 L1183.9,487.5"/><path d="M1231.5,124.0 L1231.9,214.9 L1231.7,305.8 L1229.6,396.6 L1196.4,487.5"/><path d="M1234.2,124.0 L1233.9,214.9 L1234.0,305.8 L1235.8,396.6 L1263.2,487.5"/><path d="M1234.6,124.0 L1234.2,214.9 L1234.4,305.8 L1236.7,396.6 L1272.8,487.5"/><path d="M1235.0,124.0 L1234.5,214.9 L1234.7,305.8 L1237.7,396.6 L1282.1,487.5"/><path d="M1239.0,124.0 L1237.6,214.9 L1238.2,305.8 L1247.0,396.6 L1347.7,487.5"/><path d="M1240.9,124.0 L1239.1,214.9 L1239.9,305.8 L1251.4,396.6 L1362.9,487.5"/><path d="M1242.3,124.0 L1240.2,214.9 L1241.1,305.8 L1254.5,396.6 L1369.5,487.5"/><path d="M1247.0,124.0 L1243.8,214.9 L1245.1,305.8 L1264.6,396.6 L1378.9,487.5"/><path d="M1251.0,124.0 L1246.9,214.9 L1248.6,305.8 L1272.8,396.6 L1380.9,487.5"/><path d="M1268.6,124.0 L1260.5,214.9 L1263.6,305.8 L1301.4,396.6 L1381.8,487.5"/><path d="M1270.4,124.0 L1261.8,214.9 L1265.1,305.8 L1303.7,396.6 L1381.8,487.5"/><path d="M1281.1,124.0 L1270.1,214.9 L1274.0,305.8 L1315.3,396.6 L1381.8,487.5"/><path d="M1282.8,124.0 L1271.4,214.9 L1275.4,305.8 L1316.9,396.6 L1381.8,487.5"/><path d="M1291.1,124.0 L1277.8,214.9 L1282.3,305.8 L1323.7,396.6 L1381.8,487.5"/><path d="M1292.5,124.0 L1278.9,214.9 L1283.4,305.8 L1324.7,396.6 L1381.8,487.5"/><path d="M1293.0,124.0 L1279.3,214.9 L1283.8,305.8 L1325.1,396.6 L1381.8,487.5"/><path d="M1295.1,124.0 L1280.9,214.9 L1285.5,305.8 L1326.6,396.6 L1381.8,487.5"/><path d="M1299.8,124.0 L1284.5,214.9 L1289.3,305.8 L1329.7,396.6 L1381.8,487.5"/><path d="M1303.8,124.0 L1287.6,214.9 L1292.4,305.8 L1332.1,396.6 L1381.8,487.5"/><path d="M1313.1,124.0 L1294.8,214.9 L1299.8,305.8 L1337.2,396.6 L1381.8,487.5"/><path d="M1317.8,124.0 L1298.4,214.9 L1303.4,305.8 L1339.6,396.6 L1381.8,487.5"/><path d="M1321.1,124.0 L1301.0,214.9 L1305.9,305.8 L1341.2,396.6 L1381.8,487.5"/><path d="M1322.7,124.0 L1302.2,214.9 L1307.1,305.8 L1341.9,396.6 L1381.8,487.5"/><path d="M1324.5,124.0 L1303.6,214.9 L1308.5,305.8 L1342.7,396.6 L1381.8,487.5"/><path d="M1331.8,124.0 L1309.2,214.9 L1313.9,305.8 L1346.0,396.6 L1381.8,487.5"/><path d="M1339.8,124.0 L1315.4,214.9 L1319.8,305.8 L1349.3,396.6 L1381.8,487.5"/><path d="M1366.9,124.0 L1336.3,214.9 L1338.8,305.8 L1359.6,396.6 L1381.8,487.5"/><path d="M1368.6,124.0 L1337.6,214.9 L1339.9,305.8 L1360.2,396.6 L1381.8,487.5"/><path d="M1380.6,124.0 L1346.8,214.9 L1347.9,305.8 L1364.4,396.6 L1381.8,487.5"/></g>
<g clip-path="url(#c_s2)" fill="none" stroke="#cacaca" stroke-width="3.0"><path d="M1457.2,124.0 L1458.8,128.5 L1460.2,133.1 L1461.6,137.6 L1462.9,142.1 L1464.1,146.7 L1465.2,151.2 L1466.2,155.7 L1467.2,160.3 L1468.0,164.8 L1468.8,169.3 L1469.4,173.9 L1470.0,178.4 L1470.5,182.9 L1470.9,187.5 L1471.2,192.0 L1471.4,196.5 L1471.5,201.1 L1471.6,205.6 L1471.6,210.1 L1471.6,214.6 L1471.5,219.2 L1471.4,223.7 L1471.2,228.2 L1470.9,232.8 L1470.7,237.3 L1470.4,241.8 L1470.1,246.4 L1469.8,250.9 L1469.5,255.4 L1469.2,260.0 L1468.8,264.5 L1468.5,269.0 L1468.1,273.6 L1467.8,278.1 L1467.4,282.6 L1467.1,287.2 L1466.7,291.7 L1466.3,296.2 L1466.0,300.8 L1465.6,305.3 L1465.3,309.8 L1464.9,314.4 L1464.5,318.9 L1464.2,323.4 L1463.8,328.0 L1463.4,332.5 L1463.1,337.0 L1462.7,341.6 L1462.4,346.1 L1462.0,350.6 L1461.6,355.2 L1461.3,359.7 L1460.9,364.2 L1460.5,368.7 L1460.1,373.3 L1459.8,377.8 L1459.4,382.3 L1459.0,386.9 L1458.7,391.4 L1458.3,395.9 L1457.9,400.5 L1457.6,405.0 L1457.2,409.5 L1456.8,414.1 L1456.4,418.6 L1456.1,423.1 L1455.7,427.7 L1455.3,432.2 L1454.9,436.7 L1454.6,441.3 L1454.2,445.8 L1453.8,450.3 L1453.4,454.9 L1453.1,459.4 L1452.7,463.9 L1452.3,468.5 L1451.9,473.0 L1451.5,477.5 L1451.2,482.1 L1450.7,487.5"/><path d="M1459.2,124.0 L1460.8,128.5 L1462.2,133.1 L1463.5,137.6 L1464.8,142.1 L1466.0,146.7 L1467.1,151.2 L1468.1,155.7 L1469.0,160.3 L1469.9,164.8 L1470.6,169.3 L1471.2,173.9 L1471.8,178.4 L1472.3,182.9 L1472.6,187.5 L1472.9,192.0 L1473.2,196.5 L1473.3,201.1 L1473.4,205.6 L1473.4,210.1 L1473.3,214.6 L1473.2,219.2 L1473.0,223.7 L1472.8,228.2 L1472.6,232.8 L1472.3,237.3 L1472.0,241.8 L1471.7,246.4 L1471.4,250.9 L1471.0,255.4 L1470.6,260.0 L1470.3,264.5 L1469.9,269.0 L1469.5,273.6 L1469.1,278.1 L1468.8,282.6 L1468.4,287.2 L1468.0,291.7 L1467.6,296.2 L1467.2,300.8 L1466.8,305.3 L1466.4,309.8 L1466.0,314.4 L1465.7,318.9 L1465.3,323.4 L1464.9,328.0 L1464.5,332.5 L1464.1,337.0 L1463.7,341.6 L1463.3,346.1 L1462.9,350.6 L1462.5,355.2 L1462.1,359.7 L1461.7,364.2 L1461.3,368.7 L1460.9,373.3 L1460.5,377.8 L1460.1,382.3 L1459.7,386.9 L1459.3,391.4 L1458.9,395.9 L1458.5,400.5 L1458.1,405.0 L1457.7,409.5 L1457.3,414.1 L1456.9,418.6 L1456.5,423.1 L1456.1,427.7 L1455.7,432.2 L1455.3,436.7 L1454.9,441.3 L1454.5,445.8 L1454.1,450.3 L1453.7,454.9 L1453.3,459.4 L1452.8,463.9 L1452.4,468.5 L1452.0,473.0 L1451.6,477.5 L1451.2,482.1 L1450.7,487.5"/><path d="M1486.9,124.0 L1488.1,128.5 L1489.2,133.1 L1490.3,137.6 L1491.3,142.1 L1492.3,146.7 L1493.2,151.2 L1494.0,155.7 L1494.7,160.3 L1495.3,164.8 L1495.9,169.3 L1496.4,173.9 L1496.8,178.4 L1497.1,182.9 L1497.4,187.5 L1497.5,192.0 L1497.6,196.5 L1497.6,201.1 L1497.5,205.6 L1497.3,210.1 L1497.1,214.6 L1496.8,219.2 L1496.4,223.7 L1495.9,228.2 L1495.4,232.8 L1494.9,237.3 L1494.3,241.8 L1493.6,246.4 L1493.0,250.9 L1492.3,255.4 L1491.6,260.0 L1490.8,264.5 L1490.1,269.0 L1489.3,273.6 L1488.6,278.1 L1487.8,282.6 L1487.0,287.2 L1486.3,291.7 L1485.5,296.2 L1484.7,300.8 L1483.9,305.3 L1483.1,309.8 L1482.3,314.4 L1481.5,318.9 L1480.7,323.4 L1479.9,328.0 L1479.1,332.5 L1478.3,337.0 L1477.5,341.6 L1476.7,346.1 L1475.9,350.6 L1475.1,355.2 L1474.3,359.7 L1473.5,364.2 L1472.7,368.7 L1471.8,373.3 L1471.0,377.8 L1470.2,382.3 L1469.4,386.9 L1468.6,391.4 L1467.7,395.9 L1466.9,400.5 L1466.1,405.0 L1465.2,409.5 L1464.4,414.1 L1463.6,418.6 L1462.7,423.1 L1461.9,427.7 L1461.1,432.2 L1460.2,436.7 L1459.4,441.3 L1458.5,445.8 L1457.7,450.3 L1456.9,454.9 L1456.0,459.4 L1455.2,463.9 L1454.3,468.5 L1453.4,473.0 L1452.6,477.5 L1451.7,482.1 L1450.7,487.5"/><path d="M1488.6,124.0 L1489.8,128.5 L1490.9,133.1 L1492.0,137.6 L1493.0,142.1 L1493.9,146.7 L1494.8,151.2 L1495.6,155.7 L1496.3,160.3 L1497.0,164.8 L1497.5,169.3 L1498.0,173.9 L1498.4,178.4 L1498.7,182.9 L1499.0,187.5 L1499.1,192.0 L1499.2,196.5 L1499.1,201.1 L1499.0,205.6 L1498.9,210.1 L1498.6,214.6 L1498.3,219.2 L1497.9,223.7 L1497.4,228.2 L1496.9,232.8 L1496.3,237.3 L1495.7,241.8 L1495.1,246.4 L1494.4,250.9 L1493.7,255.4 L1492.9,260.0 L1492.2,264.5 L1491.4,269.0 L1490.6,273.6 L1489.9,278.1 L1489.1,282.6 L1488.3,287.2 L1487.4,291.7 L1486.6,296.2 L1485.8,300.8 L1485.0,305.3 L1484.2,309.8 L1483.4,314.4 L1482.6,318.9 L1481.7,323.4 L1480.9,328.0 L1480.1,332.5 L1479.2,337.0 L1478.4,341.6 L1477.6,346.1 L1476.7,350.6 L1475.9,355.2 L1475.1,359.7 L1474.2,364.2 L1473.4,368.7 L1472.5,373.3 L1471.7,377.8 L1470.9,382.3 L1470.0,386.9 L1469.2,391.4 L1468.3,395.9 L1467.5,400.5 L1466.6,405.0 L1465.7,409.5 L1464.9,414.1 L1464.0,418.6 L1463.2,423.1 L1462.3,427.7 L1461.4,432.2 L1460.6,436.7 L1459.7,441.3 L1458.8,445.8 L1457.9,450.3 L1457.1,454.9 L1456.2,459.4 L1455.3,463.9 L1454.4,468.5 L1453.5,473.0 L1452.7,477.5 L1451.8,482.1 L1450.7,487.5"/><path d="M1495.6,124.0 L1496.7,128.5 L1497.8,133.1 L1498.8,137.6 L1499.7,142.1 L1500.6,146.7 L1501.4,151.2 L1502.2,155.7 L1502.8,160.3 L1503.4,164.8 L1504.0,169.3 L1504.4,173.9 L1504.8,178.4 L1505.1,182.9 L1505.3,187.5 L1505.4,192.0 L1505.4,196.5 L1505.4,201.1 L1505.2,205.6 L1505.0,210.1 L1504.7,214.6 L1504.4,219.2 L1503.9,223.7 L1503.4,228.2 L1502.8,232.8 L1502.2,237.3 L1501.5,241.8 L1500.8,246.4 L1500.1,250.9 L1499.3,255.4 L1498.5,260.0 L1497.6,264.5 L1496.7,269.0 L1495.9,273.6 L1495.0,278.1 L1494.1,282.6 L1493.2,287.2 L1492.3,291.7 L1491.4,296.2 L1490.4,300.8 L1489.5,305.3 L1488.6,309.8 L1487.7,314.4 L1486.7,318.9 L1485.8,323.4 L1484.9,328.0 L1483.9,332.5 L1483.0,337.0 L1482.1,341.6 L1481.1,346.1 L1480.2,350.6 L1479.2,355.2 L1478.3,359.7 L1477.3,364.2 L1476.4,368.7 L1475.4,373.3 L1474.5,377.8 L1473.5,382.3 L1472.6,386.9 L1471.6,391.4 L1470.6,395.9 L1469.7,400.5 L1468.7,405.0 L1467.7,409.5 L1466.8,414.1 L1465.8,418.6 L1464.8,423.1 L1463.8,427.7 L1462.8,432.2 L1461.9,436.7 L1460.9,441.3 L1459.9,445.8 L1458.9,450.3 L1457.9,454.9 L1456.9,459.4 L1455.9,463.9 L1454.9,468.5 L1453.9,473.0 L1452.9,477.5 L1451.9,482.1 L1450.7,487.5"/><path d="M1496.8,124.0 L1497.9,128.5 L1499.0,133.1 L1499.9,137.6 L1500.9,142.1 L1501.7,146.7 L1502.5,151.2 L1503.3,155.7 L1503.9,160.3 L1504.5,164.8 L1505.0,169.3 L1505.5,173.9 L1505.8,178.4 L1506.1,182.9 L1506.3,187.5 L1506.4,192.0 L1506.5,196.5 L1506.4,201.1 L1506.3,205.6 L1506.1,210.1 L1505.8,214.6 L1505.4,219.2 L1504.9,223.7 L1504.4,228.2 L1503.8,232.8 L1503.2,237.3 L1502.5,241.8 L1501.8,246.4 L1501.0,250.9 L1500.2,255.4 L1499.4,260.0 L1498.5,264.5 L1497.6,269.0 L1496.8,273.6 L1495.9,278.1 L1494.9,282.6 L1494.0,287.2 L1493.1,291.7 L1492.2,296.2 L1491.2,300.8 L1490.3,305.3 L1489.3,309.8 L1488.4,314.4 L1487.4,318.9 L1486.5,323.4 L1485.5,328.0 L1484.6,332.5 L1483.6,337.0 L1482.7,341.6 L1481.7,346.1 L1480.8,350.6 L1479.8,355.2 L1478.8,359.7 L1477.9,364.2 L1476.9,368.7 L1475.9,373.3 L1474.9,377.8 L1474.0,382.3 L1473.0,386.9 L1472.0,391.4 L1471.0,395.9 L1470.0,400.5 L1469.1,405.0 L1468.1,409.5 L1467.1,414.1 L1466.1,418.6 L1465.1,423.1 L1464.1,427.7 L1463.1,432.2 L1462.1,436.7 L1461.1,441.3 L1460.1,445.8 L1459.1,450.3 L1458.0,454.9 L1457.0,459.4 L1456.0,463.9 L1455.0,468.5 L1454.0,473.0 L1453.0,477.5 L1451.9,482.1 L1450.7,487.5"/><path d="M1499.0,124.0 L1500.0,128.5 L1501.1,133.1 L1502.0,137.6 L1502.9,142.1 L1503.8,146.7 L1504.6,151.2 L1505.3,155.7 L1505.9,160.3 L1506.5,164.8 L1507.0,169.3 L1507.4,173.9 L1507.8,178.4 L1508.1,182.9 L1508.3,187.5 L1508.4,192.0 L1508.4,196.5 L1508.3,201.1 L1508.2,205.6 L1508.0,210.1 L1507.7,214.6 L1507.3,219.2 L1506.8,223.7 L1506.3,228.2 L1505.7,232.8 L1505.0,237.3 L1504.3,241.8 L1503.6,246.4 L1502.8,250.9 L1502.0,255.4 L1501.1,260.0 L1500.2,264.5 L1499.3,269.0 L1498.4,273.6 L1497.5,278.1 L1496.5,282.6 L1495.6,287.2 L1494.6,291.7 L1493.6,296.2 L1492.7,300.8 L1491.7,305.3 L1490.7,309.8 L1489.7,314.4 L1488.8,318.9 L1487.8,323.4 L1486.8,328.0 L1485.8,332.5 L1484.8,337.0 L1483.8,341.6 L1482.8,346.1 L1481.8,350.6 L1480.8,355.2 L1479.8,359.7 L1478.8,364.2 L1477.8,368.7 L1476.8,373.3 L1475.8,377.8 L1474.8,382.3 L1473.8,386.9 L1472.8,391.4 L1471.8,395.9 L1470.7,400.5 L1469.7,405.0 L1468.7,409.5 L1467.7,414.1 L1466.6,418.6 L1465.6,423.1 L1464.6,427.7 L1463.5,432.2 L1462.5,436.7 L1461.4,441.3 L1460.4,445.8 L1459.4,450.3 L1458.3,454.9 L1457.3,459.4 L1456.2,463.9 L1455.2,468.5 L1454.1,473.0 L1453.0,477.5 L1452.0,482.1 L1450.7,487.5"/><path d="M1514.6,124.0 L1515.6,128.5 L1516.4,133.1 L1517.2,137.6 L1518.0,142.1 L1518.7,146.7 L1519.4,151.2 L1520.0,155.7 L1520.5,160.3 L1521.0,164.8 L1521.4,169.3 L1521.8,173.9 L1522.1,178.4 L1522.3,182.9 L1522.4,187.5 L1522.5,192.0 L1522.4,196.5 L1522.3,201.1 L1522.2,205.6 L1521.9,210.1 L1521.5,214.6 L1521.1,219.2 L1520.6,223.7 L1520.0,228.2 L1519.3,232.8 L1518.6,237.3 L1517.7,241.8 L1516.9,246.4 L1515.9,250.9 L1514.9,255.4 L1513.9,260.0 L1512.8,264.5 L1511.7,269.0 L1510.6,273.6 L1509.4,278.1 L1508.2,282.6 L1507.1,287.2 L1505.9,291.7 L1504.7,296.2 L1503.4,300.8 L1502.2,305.3 L1501.0,309.8 L1499.8,314.4 L1498.6,318.9 L1497.3,323.4 L1496.1,328.0 L1494.8,332.5 L1493.6,337.0 L1492.4,341.6 L1491.1,346.1 L1489.9,350.6 L1488.6,355.2 L1487.3,359.7 L1486.1,364.2 L1484.8,368.7 L1483.6,373.3 L1482.3,377.8 L1481.0,382.3 L1479.7,386.9 L1478.5,391.4 L1477.2,395.9 L1475.9,400.5 L1474.6,405.0 L1473.3,409.5 L1472.0,414.1 L1470.7,418.6 L1469.5,423.1 L1468.1,427.7 L1466.8,432.2 L1465.5,436.7 L1464.2,441.3 L1462.9,445.8 L1461.6,450.3 L1460.3,454.9 L1459.0,459.4 L1457.6,463.9 L1456.3,468.5 L1455.0,473.0 L1453.6,477.5 L1452.3,482.1 L1450.7,487.5"/><path d="M1516.7,124.0 L1517.6,128.5 L1518.4,133.1 L1519.2,137.6 L1520.0,142.1 L1520.7,146.7 L1521.3,151.2 L1521.9,155.7 L1522.4,160.3 L1522.9,164.8 L1523.3,169.3 L1523.7,173.9 L1523.9,178.4 L1524.1,182.9 L1524.3,187.5 L1524.3,192.0 L1524.3,196.5 L1524.2,201.1 L1524.0,205.6 L1523.7,210.1 L1523.4,214.6 L1522.9,219.2 L1522.4,223.7 L1521.8,228.2 L1521.1,232.8 L1520.4,237.3 L1519.5,241.8 L1518.6,246.4 L1517.7,250.9 L1516.7,255.4 L1515.6,260.0 L1514.5,264.5 L1513.4,269.0 L1512.2,273.6 L1511.0,278.1 L1509.8,282.6 L1508.6,287.2 L1507.4,291.7 L1506.2,296.2 L1504.9,300.8 L1503.7,305.3 L1502.4,309.8 L1501.1,314.4 L1499.9,318.9 L1498.6,323.4 L1497.3,328.0 L1496.1,332.5 L1494.8,337.0 L1493.5,341.6 L1492.2,346.1 L1491.0,350.6 L1489.7,355.2 L1488.4,359.7 L1487.1,364.2 L1485.8,368.7 L1484.5,373.3 L1483.2,377.8 L1481.9,382.3 L1480.6,386.9 L1479.2,391.4 L1477.9,395.9 L1476.6,400.5 L1475.3,405.0 L1474.0,409.5 L1472.6,414.1 L1471.3,418.6 L1470.0,423.1 L1468.6,427.7 L1467.3,432.2 L1466.0,436.7 L1464.6,441.3 L1463.3,445.8 L1461.9,450.3 L1460.6,454.9 L1459.2,459.4 L1457.8,463.9 L1456.5,468.5 L1455.1,473.0 L1453.7,477.5 L1452.4,482.1 L1450.7,487.5"/><path d="M1523.9,124.0 L1524.7,128.5 L1525.5,133.1 L1526.2,137.6 L1526.9,142.1 L1527.5,146.7 L1528.1,151.2 L1528.6,155.7 L1529.1,160.3 L1529.5,164.8 L1529.9,169.3 L1530.2,173.9 L1530.5,178.4 L1530.6,182.9 L1530.7,187.5 L1530.8,192.0 L1530.7,196.5 L1530.6,201.1 L1530.4,205.6 L1530.1,210.1 L1529.8,214.6 L1529.3,219.2 L1528.8,223.7 L1528.2,228.2 L1527.5,232.8 L1526.7,237.3 L1525.8,241.8 L1524.9,246.4 L1523.9,250.9 L1522.8,255.4 L1521.7,260.0 L1520.5,264.5 L1519.3,269.0 L1518.1,273.6 L1516.8,278.1 L1515.5,282.6 L1514.1,287.2 L1512.8,291.7 L1511.5,296.2 L1510.1,300.8 L1508.7,305.3 L1507.4,309.8 L1506.0,314.4 L1504.6,318.9 L1503.2,323.4 L1501.8,328.0 L1500.4,332.5 L1499.0,337.0 L1497.6,341.6 L1496.2,346.1 L1494.8,350.6 L1493.4,355.2 L1492.0,359.7 L1490.6,364.2 L1489.1,368.7 L1487.7,373.3 L1486.3,377.8 L1484.9,382.3 L1483.4,386.9 L1482.0,391.4 L1480.5,395.9 L1479.1,400.5 L1477.7,405.0 L1476.2,409.5 L1474.7,414.1 L1473.3,418.6 L1471.8,423.1 L1470.4,427.7 L1468.9,432.2 L1467.4,436.7 L1465.9,441.3 L1464.5,445.8 L1463.0,450.3 L1461.5,454.9 L1460.0,459.4 L1458.5,463.9 L1457.0,468.5 L1455.5,473.0 L1454.0,477.5 L1452.5,482.1 L1450.7,487.5"/><path d="M1526.0,124.0 L1526.8,128.5 L1527.5,133.1 L1528.2,137.6 L1528.9,142.1 L1529.5,146.7 L1530.1,151.2 L1530.6,155.7 L1531.1,160.3 L1531.5,164.8 L1531.9,169.3 L1532.2,173.9 L1532.4,178.4 L1532.6,182.9 L1532.7,187.5 L1532.7,192.0 L1532.7,196.5 L1532.5,201.1 L1532.3,205.6 L1532.1,210.1 L1531.7,214.6 L1531.2,219.2 L1530.7,223.7 L1530.1,228.2 L1529.4,232.8 L1528.6,237.3 L1527.7,241.8 L1526.8,246.4 L1525.8,250.9 L1524.7,255.4 L1523.5,260.0 L1522.3,264.5 L1521.1,269.0 L1519.8,273.6 L1518.5,278.1 L1517.2,282.6 L1515.8,287.2 L1514.4,291.7 L1513.1,296.2 L1511.7,300.8 L1510.3,305.3 L1508.9,309.8 L1507.4,314.4 L1506.0,318.9 L1504.6,323.4 L1503.2,328.0 L1501.7,332.5 L1500.3,337.0 L1498.9,341.6 L1497.4,346.1 L1496.0,350.6 L1494.5,355.2 L1493.1,359.7 L1491.6,364.2 L1490.2,368.7 L1488.7,373.3 L1487.2,377.8 L1485.8,382.3 L1484.3,386.9 L1482.8,391.4 L1481.3,395.9 L1479.9,400.5 L1478.4,405.0 L1476.9,409.5 L1475.4,414.1 L1473.9,418.6 L1472.4,423.1 L1470.9,427.7 L1469.4,432.2 L1467.9,436.7 L1466.4,441.3 L1464.8,445.8 L1463.3,450.3 L1461.8,454.9 L1460.3,459.4 L1458.7,463.9 L1457.2,468.5 L1455.7,473.0 L1454.1,477.5 L1452.6,482.1 L1450.7,487.5"/><path d="M1543.3,124.0 L1543.9,128.5 L1544.5,133.1 L1545.1,137.6 L1545.6,142.1 L1546.0,146.7 L1546.5,151.2 L1546.9,155.7 L1547.2,160.3 L1547.5,164.8 L1547.8,169.3 L1548.0,173.9 L1548.2,178.4 L1548.3,182.9 L1548.4,187.5 L1548.4,192.0 L1548.3,196.5 L1548.2,201.1 L1548.0,205.6 L1547.8,210.1 L1547.4,214.6 L1547.0,219.2 L1546.5,223.7 L1545.9,228.2 L1545.2,232.8 L1544.4,237.3 L1543.5,241.8 L1542.6,246.4 L1541.5,250.9 L1540.4,255.4 L1539.1,260.0 L1537.8,264.5 L1536.4,269.0 L1534.9,273.6 L1533.4,278.1 L1531.8,282.6 L1530.2,287.2 L1528.6,291.7 L1526.9,296.2 L1525.2,300.8 L1523.5,305.3 L1521.8,309.8 L1520.1,314.4 L1518.4,318.9 L1516.6,323.4 L1514.9,328.0 L1513.1,332.5 L1511.4,337.0 L1509.6,341.6 L1507.9,346.1 L1506.1,350.6 L1504.3,355.2 L1502.6,359.7 L1500.8,364.2 L1499.0,368.7 L1497.2,373.3 L1495.4,377.8 L1493.6,382.3 L1491.8,386.9 L1490.0,391.4 L1488.2,395.9 L1486.4,400.5 L1484.6,405.0 L1482.7,409.5 L1480.9,414.1 L1479.1,418.6 L1477.3,423.1 L1475.4,427.7 L1473.6,432.2 L1471.7,436.7 L1469.9,441.3 L1468.0,445.8 L1466.1,450.3 L1464.3,454.9 L1462.4,459.4 L1460.5,463.9 L1458.7,468.5 L1456.8,473.0 L1454.9,477.5 L1453.0,482.1 L1450.7,487.5"/><path d="M1549.0,124.0 L1549.6,128.5 L1550.1,133.1 L1550.6,137.6 L1551.0,142.1 L1551.4,146.7 L1551.8,151.2 L1552.2,155.7 L1552.5,160.3 L1552.8,164.8 L1553.0,169.3 L1553.2,173.9 L1553.4,178.4 L1553.5,182.9 L1553.5,187.5 L1553.5,192.0 L1553.5,196.5 L1553.4,201.1 L1553.2,205.6 L1552.9,210.1 L1552.6,214.6 L1552.2,219.2 L1551.7,223.7 L1551.1,228.2 L1550.5,232.8 L1549.7,237.3 L1548.9,241.8 L1547.9,246.4 L1546.9,250.9 L1545.7,255.4 L1544.5,260.0 L1543.1,264.5 L1541.7,269.0 L1540.2,273.6 L1538.6,278.1 L1537.0,282.6 L1535.3,287.2 L1533.6,291.7 L1531.8,296.2 L1530.1,300.8 L1528.3,305.3 L1526.4,309.8 L1524.6,314.4 L1522.8,318.9 L1520.9,323.4 L1519.1,328.0 L1517.2,332.5 L1515.3,337.0 L1513.5,341.6 L1511.6,346.1 L1509.7,350.6 L1507.8,355.2 L1505.9,359.7 L1504.0,364.2 L1502.1,368.7 L1500.2,373.3 L1498.3,377.8 L1496.4,382.3 L1494.5,386.9 L1492.6,391.4 L1490.6,395.9 L1488.7,400.5 L1486.8,405.0 L1484.8,409.5 L1482.9,414.1 L1480.9,418.6 L1479.0,423.1 L1477.0,427.7 L1475.1,432.2 L1473.1,436.7 L1471.1,441.3 L1469.1,445.8 L1467.2,450.3 L1465.2,454.9 L1463.2,459.4 L1461.2,463.9 L1459.2,468.5 L1457.2,473.0 L1455.2,477.5 L1453.1,482.1 L1450.7,487.5"/><path d="M1553.0,124.0 L1553.5,128.5 L1554.0,133.1 L1554.4,137.6 L1554.9,142.1 L1555.2,146.7 L1555.6,151.2 L1555.9,155.7 L1556.2,160.3 L1556.5,164.8 L1556.7,169.3 L1556.9,173.9 L1557.0,178.4 L1557.1,182.9 L1557.2,187.5 L1557.2,192.0 L1557.1,196.5 L1557.0,201.1 L1556.8,205.6 L1556.6,210.1 L1556.3,214.6 L1555.9,219.2 L1555.4,223.7 L1554.9,228.2 L1554.2,232.8 L1553.5,237.3 L1552.7,241.8 L1551.8,246.4 L1550.7,250.9 L1549.6,255.4 L1548.4,260.0 L1547.0,264.5 L1545.6,269.0 L1544.1,273.6 L1542.5,278.1 L1540.8,282.6 L1539.1,287.2 L1537.3,291.7 L1535.5,296.2 L1533.6,300.8 L1531.7,305.3 L1529.8,309.8 L1527.9,314.4 L1526.0,318.9 L1524.1,323.4 L1522.1,328.0 L1520.2,332.5 L1518.3,337.0 L1516.3,341.6 L1514.3,346.1 L1512.4,350.6 L1510.4,355.2 L1508.4,359.7 L1506.4,364.2 L1504.5,368.7 L1502.5,373.3 L1500.5,377.8 L1498.5,382.3 L1496.5,386.9 L1494.5,391.4 L1492.5,395.9 L1490.4,400.5 L1488.4,405.0 L1486.4,409.5 L1484.3,414.1 L1482.3,418.6 L1480.3,423.1 L1478.2,427.7 L1476.2,432.2 L1474.1,436.7 L1472.0,441.3 L1470.0,445.8 L1467.9,450.3 L1465.8,454.9 L1463.7,459.4 L1461.6,463.9 L1459.6,468.5 L1457.5,473.0 L1455.4,477.5 L1453.2,482.1 L1450.7,487.5"/><path d="M1557.0,124.0 L1557.4,128.5 L1557.8,133.1 L1558.3,137.6 L1558.6,142.1 L1559.0,146.7 L1559.3,151.2 L1559.6,155.7 L1559.9,160.3 L1560.1,164.8 L1560.3,169.3 L1560.5,173.9 L1560.6,178.4 L1560.7,182.9 L1560.8,187.5 L1560.7,192.0 L1560.7,196.5 L1560.6,201.1 L1560.4,205.6 L1560.2,210.1 L1559.9,214.6 L1559.5,219.2 L1559.1,223.7 L1558.6,228.2 L1558.0,232.8 L1557.3,237.3 L1556.5,241.8 L1555.6,246.4 L1554.6,250.9 L1553.5,255.4 L1552.2,260.0 L1550.9,264.5 L1549.5,269.0 L1548.0,273.6 L1546.4,278.1 L1544.7,282.6 L1542.9,287.2 L1541.1,291.7 L1539.2,296.2 L1537.3,300.8 L1535.3,305.3 L1533.3,309.8 L1531.4,314.4 L1529.3,318.9 L1527.3,323.4 L1525.3,328.0 L1523.3,332.5 L1521.2,337.0 L1519.2,341.6 L1517.2,346.1 L1515.1,350.6 L1513.1,355.2 L1511.0,359.7 L1508.9,364.2 L1506.8,368.7 L1504.8,373.3 L1502.7,377.8 L1500.6,382.3 L1498.5,386.9 L1496.4,391.4 L1494.3,395.9 L1492.2,400.5 L1490.1,405.0 L1488.0,409.5 L1485.8,414.1 L1483.7,418.6 L1481.6,423.1 L1479.4,427.7 L1477.3,432.2 L1475.1,436.7 L1473.0,441.3 L1470.8,445.8 L1468.7,450.3 L1466.5,454.9 L1464.3,459.4 L1462.1,463.9 L1459.9,468.5 L1457.8,473.0 L1455.6,477.5 L1453.4,482.1 L1450.7,487.5"/><path d="M1560.7,124.0 L1561.1,128.5 L1561.5,133.1 L1561.9,137.6 L1562.2,142.1 L1562.6,146.7 L1562.9,151.2 L1563.1,155.7 L1563.4,160.3 L1563.6,164.8 L1563.8,169.3 L1563.9,173.9 L1564.0,178.4 L1564.1,182.9 L1564.2,187.5 L1564.1,192.0 L1564.1,196.5 L1564.0,201.1 L1563.8,205.6 L1563.6,210.1 L1563.3,214.6 L1563.0,219.2 L1562.6,223.7 L1562.1,228.2 L1561.5,232.8 L1560.9,237.3 L1560.1,241.8 L1559.2,246.4 L1558.3,250.9 L1557.2,255.4 L1556.0,260.0 L1554.7,264.5 L1553.3,269.0 L1551.8,273.6 L1550.2,278.1 L1548.5,282.6 L1546.7,287.2 L1544.8,291.7 L1542.9,296.2 L1540.9,300.8 L1538.9,305.3 L1536.8,309.8 L1534.7,314.4 L1532.7,318.9 L1530.6,323.4 L1528.5,328.0 L1526.3,332.5 L1524.2,337.0 L1522.1,341.6 L1520.0,346.1 L1517.8,350.6 L1515.7,355.2 L1513.5,359.7 L1511.4,364.2 L1509.2,368.7 L1507.1,373.3 L1504.9,377.8 L1502.7,382.3 L1500.5,386.9 L1498.3,391.4 L1496.1,395.9 L1494.0,400.5 L1491.7,405.0 L1489.5,409.5 L1487.3,414.1 L1485.1,418.6 L1482.9,423.1 L1480.7,427.7 L1478.4,432.2 L1476.2,436.7 L1473.9,441.3 L1471.7,445.8 L1469.4,450.3 L1467.2,454.9 L1464.9,459.4 L1462.6,463.9 L1460.3,468.5 L1458.1,473.0 L1455.8,477.5 L1453.5,482.1 L1450.7,487.5"/><path d="M1567.4,124.0 L1567.7,128.5 L1568.0,133.1 L1568.3,137.6 L1568.6,142.1 L1568.9,146.7 L1569.2,151.2 L1569.4,155.7 L1569.6,160.3 L1569.8,164.8 L1569.9,169.3 L1570.0,173.9 L1570.1,178.4 L1570.2,182.9 L1570.2,187.5 L1570.2,192.0 L1570.2,196.5 L1570.1,201.1 L1569.9,205.6 L1569.8,210.1 L1569.5,214.6 L1569.2,219.2 L1568.9,223.7 L1568.4,228.2 L1567.9,232.8 L1567.4,237.3 L1566.7,241.8 L1565.9,246.4 L1565.0,250.9 L1564.1,255.4 L1563.0,260.0 L1561.7,264.5 L1560.4,269.0 L1558.9,273.6 L1557.3,278.1 L1555.6,282.6 L1553.8,287.2 L1551.9,291.7 L1549.9,296.2 L1547.8,300.8 L1545.7,305.3 L1543.5,309.8 L1541.3,314.4 L1539.1,318.9 L1536.8,323.4 L1534.5,328.0 L1532.3,332.5 L1530.0,337.0 L1527.7,341.6 L1525.4,346.1 L1523.1,350.6 L1520.8,355.2 L1518.5,359.7 L1516.1,364.2 L1513.8,368.7 L1511.5,373.3 L1509.1,377.8 L1506.8,382.3 L1504.4,386.9 L1502.1,391.4 L1499.7,395.9 L1497.3,400.5 L1495.0,405.0 L1492.6,409.5 L1490.2,414.1 L1487.8,418.6 L1485.4,423.1 L1483.0,427.7 L1480.6,432.2 L1478.2,436.7 L1475.8,441.3 L1473.3,445.8 L1470.9,450.3 L1468.4,454.9 L1466.0,459.4 L1463.6,463.9 L1461.1,468.5 L1458.6,473.0 L1456.2,477.5 L1453.7,482.1 L1450.7,487.5"/><path d="M1569.0,124.0 L1569.4,128.5 L1569.7,133.1 L1570.0,137.6 L1570.2,142.1 L1570.5,146.7 L1570.7,151.2 L1570.9,155.7 L1571.1,160.3 L1571.3,164.8 L1571.4,169.3 L1571.6,173.9 L1571.7,178.4 L1571.7,182.9 L1571.7,187.5 L1571.7,192.0 L1571.7,196.5 L1571.6,201.1 L1571.5,205.6 L1571.3,210.1 L1571.1,214.6 L1570.8,219.2 L1570.4,223.7 L1570.0,228.2 L1569.6,232.8 L1569.0,237.3 L1568.3,241.8 L1567.6,246.4 L1566.8,250.9 L1565.8,255.4 L1564.7,260.0 L1563.5,264.5 L1562.2,269.0 L1560.8,273.6 L1559.2,278.1 L1557.5,282.6 L1555.7,287.2 L1553.8,291.7 L1551.7,296.2 L1549.7,300.8 L1547.5,305.3 L1545.3,309.8 L1543.0,314.4 L1540.8,318.9 L1538.5,323.4 L1536.2,328.0 L1533.9,332.5 L1531.5,337.0 L1529.2,341.6 L1526.8,346.1 L1524.5,350.6 L1522.1,355.2 L1519.8,359.7 L1517.4,364.2 L1515.0,368.7 L1512.7,373.3 L1510.3,377.8 L1507.9,382.3 L1505.5,386.9 L1503.1,391.4 L1500.7,395.9 L1498.3,400.5 L1495.8,405.0 L1493.4,409.5 L1491.0,414.1 L1488.5,418.6 L1486.1,423.1 L1483.6,427.7 L1481.2,432.2 L1478.7,436.7 L1476.2,441.3 L1473.8,445.8 L1471.3,450.3 L1468.8,454.9 L1466.3,459.4 L1463.8,463.9 L1461.3,468.5 L1458.8,473.0 L1456.3,477.5 L1453.7,482.1 L1450.7,487.5"/><path d="M1571.2,124.0 L1571.5,128.5 L1571.8,133.1 L1572.1,137.6 L1572.3,142.1 L1572.5,146.7 L1572.8,151.2 L1573.0,155.7 L1573.1,160.3 L1573.3,164.8 L1573.4,169.3 L1573.5,173.9 L1573.6,178.4 L1573.7,182.9 L1573.7,187.5 L1573.7,192.0 L1573.7,196.5 L1573.6,201.1 L1573.5,205.6 L1573.3,210.1 L1573.1,214.6 L1572.8,219.2 L1572.5,223.7 L1572.1,228.2 L1571.6,232.8 L1571.1,237.3 L1570.5,241.8 L1569.8,246.4 L1569.0,250.9 L1568.1,255.4 L1567.0,260.0 L1565.9,264.5 L1564.6,269.0 L1563.2,273.6 L1561.7,278.1 L1560.0,282.6 L1558.2,287.2 L1556.3,291.7 L1554.2,296.2 L1552.1,300.8 L1549.9,305.3 L1547.7,309.8 L1545.4,314.4 L1543.1,318.9 L1540.7,323.4 L1538.4,328.0 L1536.0,332.5 L1533.6,337.0 L1531.2,341.6 L1528.8,346.1 L1526.4,350.6 L1524.0,355.2 L1521.6,359.7 L1519.1,364.2 L1516.7,368.7 L1514.3,373.3 L1511.8,377.8 L1509.4,382.3 L1506.9,386.9 L1504.4,391.4 L1502.0,395.9 L1499.5,400.5 L1497.0,405.0 L1494.5,409.5 L1492.0,414.1 L1489.5,418.6 L1487.0,423.1 L1484.5,427.7 L1482.0,432.2 L1479.4,436.7 L1476.9,441.3 L1474.4,445.8 L1471.8,450.3 L1469.3,454.9 L1466.7,459.4 L1464.1,463.9 L1461.6,468.5 L1459.0,473.0 L1456.4,477.5 L1453.8,482.1 L1450.7,487.5"/><path d="M1579.4,124.0 L1579.6,128.5 L1579.8,133.1 L1580.0,137.6 L1580.2,142.1 L1580.3,146.7 L1580.5,151.2 L1580.6,155.7 L1580.8,160.3 L1580.9,164.8 L1581.0,169.3 L1581.0,173.9 L1581.1,178.4 L1581.1,182.9 L1581.2,187.5 L1581.2,192.0 L1581.1,196.5 L1581.1,201.1 L1581.0,205.6 L1580.9,210.1 L1580.7,214.6 L1580.5,219.2 L1580.3,223.7 L1580.0,228.2 L1579.6,232.8 L1579.2,237.3 L1578.8,241.8 L1578.2,246.4 L1577.6,250.9 L1576.9,255.4 L1576.1,260.0 L1575.2,264.5 L1574.1,269.0 L1572.9,273.6 L1571.6,278.1 L1570.1,282.6 L1568.4,287.2 L1566.6,291.7 L1564.6,296.2 L1562.5,300.8 L1560.3,305.3 L1557.9,309.8 L1555.5,314.4 L1553.0,318.9 L1550.4,323.4 L1547.8,328.0 L1545.2,332.5 L1542.6,337.0 L1539.9,341.6 L1537.3,346.1 L1534.6,350.6 L1531.9,355.2 L1529.2,359.7 L1526.5,364.2 L1523.9,368.7 L1521.1,373.3 L1518.4,377.8 L1515.7,382.3 L1513.0,386.9 L1510.3,391.4 L1507.5,395.9 L1504.8,400.5 L1502.0,405.0 L1499.3,409.5 L1496.5,414.1 L1493.7,418.6 L1490.9,423.1 L1488.1,427.7 L1485.4,432.2 L1482.6,436.7 L1479.7,441.3 L1476.9,445.8 L1474.1,450.3 L1471.3,454.9 L1468.4,459.4 L1465.6,463.9 L1462.8,468.5 L1459.9,473.0 L1457.0,477.5 L1454.2,482.1 L1450.7,487.5"/><path d="M1580.9,124.0 L1581.1,128.5 L1581.3,133.1 L1581.5,137.6 L1581.7,142.1 L1581.8,146.7 L1581.9,151.2 L1582.1,155.7 L1582.2,160.3 L1582.3,164.8 L1582.4,169.3 L1582.5,173.9 L1582.5,178.4 L1582.5,182.9 L1582.6,187.5 L1582.6,192.0 L1582.5,196.5 L1582.5,201.1 L1582.4,205.6 L1582.3,210.1 L1582.1,214.6 L1581.9,219.2 L1581.7,223.7 L1581.5,228.2 L1581.1,232.8 L1580.8,237.3 L1580.3,241.8 L1579.8,246.4 L1579.3,250.9 L1578.6,255.4 L1577.8,260.0 L1576.9,264.5 L1575.9,269.0 L1574.8,273.6 L1573.5,278.1 L1572.1,282.6 L1570.5,287.2 L1568.7,291.7 L1566.8,296.2 L1564.7,300.8 L1562.5,305.3 L1560.1,309.8 L1557.7,314.4 L1555.1,318.9 L1552.5,323.4 L1549.9,328.0 L1547.2,332.5 L1544.5,337.0 L1541.8,341.6 L1539.1,346.1 L1536.4,350.6 L1533.7,355.2 L1530.9,359.7 L1528.2,364.2 L1525.4,368.7 L1522.6,373.3 L1519.9,377.8 L1517.1,382.3 L1514.3,386.9 L1511.5,391.4 L1508.7,395.9 L1505.9,400.5 L1503.1,405.0 L1500.3,409.5 L1497.5,414.1 L1494.6,418.6 L1491.8,423.1 L1488.9,427.7 L1486.1,432.2 L1483.2,436.7 L1480.4,441.3 L1477.5,445.8 L1474.6,450.3 L1471.7,454.9 L1468.8,459.4 L1465.9,463.9 L1463.0,468.5 L1460.1,473.0 L1457.2,477.5 L1454.2,482.1 L1450.7,487.5"/><path d="M1581.4,124.0 L1581.6,128.5 L1581.8,133.1 L1581.9,137.6 L1582.1,142.1 L1582.2,146.7 L1582.4,151.2 L1582.5,155.7 L1582.6,160.3 L1582.7,164.8 L1582.8,169.3 L1582.9,173.9 L1582.9,178.4 L1583.0,182.9 L1583.0,187.5 L1583.0,192.0 L1582.9,196.5 L1582.9,201.1 L1582.8,205.6 L1582.7,210.1 L1582.6,214.6 L1582.4,219.2 L1582.2,223.7 L1581.9,228.2 L1581.6,232.8 L1581.2,237.3 L1580.8,241.8 L1580.3,246.4 L1579.8,250.9 L1579.1,255.4 L1578.3,260.0 L1577.5,264.5 L1576.5,269.0 L1575.4,273.6 L1574.1,278.1 L1572.7,282.6 L1571.1,287.2 L1569.4,291.7 L1567.5,296.2 L1565.4,300.8 L1563.2,305.3 L1560.8,309.8 L1558.3,314.4 L1555.8,318.9 L1553.2,323.4 L1550.5,328.0 L1547.9,332.5 L1545.1,337.0 L1542.4,341.6 L1539.7,346.1 L1536.9,350.6 L1534.2,355.2 L1531.4,359.7 L1528.7,364.2 L1525.9,368.7 L1523.1,373.3 L1520.3,377.8 L1517.5,382.3 L1514.7,386.9 L1511.9,391.4 L1509.1,395.9 L1506.3,400.5 L1503.5,405.0 L1500.6,409.5 L1497.8,414.1 L1494.9,418.6 L1492.1,423.1 L1489.2,427.7 L1486.3,432.2 L1483.4,436.7 L1480.6,441.3 L1477.7,445.8 L1474.8,450.3 L1471.9,454.9 L1468.9,459.4 L1466.0,463.9 L1463.1,468.5 L1460.2,473.0 L1457.2,477.5 L1454.3,482.1 L1450.7,487.5"/><path d="M1584.8,124.0 L1584.9,128.5 L1585.1,133.1 L1585.2,137.6 L1585.4,142.1 L1585.5,146.7 L1585.6,151.2 L1585.7,155.7 L1585.8,160.3 L1585.9,164.8 L1585.9,169.3 L1586.0,173.9 L1586.0,178.4 L1586.1,182.9 L1586.1,187.5 L1586.1,192.0 L1586.1,196.5 L1586.0,201.1 L1585.9,205.6 L1585.9,210.1 L1585.7,214.6 L1585.6,219.2 L1585.4,223.7 L1585.2,228.2 L1584.9,232.8 L1584.6,237.3 L1584.3,241.8 L1583.9,246.4 L1583.4,250.9 L1582.9,255.4 L1582.2,260.0 L1581.5,264.5 L1580.7,269.0 L1579.7,273.6 L1578.6,278.1 L1577.4,282.6 L1576.0,287.2 L1574.4,291.7 L1572.6,296.2 L1570.6,300.8 L1568.5,305.3 L1566.1,309.8 L1563.7,314.4 L1561.1,318.9 L1558.4,323.4 L1555.6,328.0 L1552.8,332.5 L1550.0,337.0 L1547.1,341.6 L1544.3,346.1 L1541.4,350.6 L1538.5,355.2 L1535.6,359.7 L1532.7,364.2 L1529.8,368.7 L1526.9,373.3 L1523.9,377.8 L1521.0,382.3 L1518.0,386.9 L1515.1,391.4 L1512.1,395.9 L1509.2,400.5 L1506.2,405.0 L1503.2,409.5 L1500.2,414.1 L1497.2,418.6 L1494.2,423.1 L1491.2,427.7 L1488.2,432.2 L1485.1,436.7 L1482.1,441.3 L1479.1,445.8 L1476.0,450.3 L1472.9,454.9 L1469.9,459.4 L1466.8,463.9 L1463.7,468.5 L1460.6,473.0 L1457.5,477.5 L1454.4,482.1 L1450.7,487.5"/><path d="M1586.7,124.0 L1586.9,128.5 L1587.0,133.1 L1587.1,137.6 L1587.2,142.1 L1587.3,146.7 L1587.4,151.2 L1587.5,155.7 L1587.6,160.3 L1587.7,164.8 L1587.7,169.3 L1587.8,173.9 L1587.8,178.4 L1587.8,182.9 L1587.8,187.5 L1587.8,192.0 L1587.8,196.5 L1587.8,201.1 L1587.7,205.6 L1587.6,210.1 L1587.5,214.6 L1587.4,219.2 L1587.3,223.7 L1587.1,228.2 L1586.9,232.8 L1586.6,237.3 L1586.3,241.8 L1585.9,246.4 L1585.5,250.9 L1585.0,255.4 L1584.5,260.0 L1583.8,264.5 L1583.1,269.0 L1582.2,273.6 L1581.3,278.1 L1580.1,282.6 L1578.8,287.2 L1577.4,291.7 L1575.7,296.2 L1573.8,300.8 L1571.7,305.3 L1569.5,309.8 L1567.0,314.4 L1564.4,318.9 L1561.7,323.4 L1558.9,328.0 L1556.1,332.5 L1553.1,337.0 L1550.2,341.6 L1547.2,346.1 L1544.3,350.6 L1541.3,355.2 L1538.3,359.7 L1535.3,364.2 L1532.3,368.7 L1529.3,373.3 L1526.3,377.8 L1523.2,382.3 L1520.2,386.9 L1517.1,391.4 L1514.1,395.9 L1511.0,400.5 L1507.9,405.0 L1504.9,409.5 L1501.8,414.1 L1498.7,418.6 L1495.6,423.1 L1492.5,427.7 L1489.4,432.2 L1486.2,436.7 L1483.1,441.3 L1480.0,445.8 L1476.8,450.3 L1473.7,454.9 L1470.5,459.4 L1467.3,463.9 L1464.1,468.5 L1461.0,473.0 L1457.8,477.5 L1454.6,482.1 L1450.7,487.5"/><path d="M1589.3,124.0 L1589.5,128.5 L1589.6,133.1 L1589.7,137.6 L1589.7,142.1 L1589.8,146.7 L1589.9,151.2 L1590.0,155.7 L1590.0,160.3 L1590.1,164.8 L1590.1,169.3 L1590.2,173.9 L1590.2,178.4 L1590.2,182.9 L1590.2,187.5 L1590.2,192.0 L1590.2,196.5 L1590.2,201.1 L1590.1,205.6 L1590.1,210.1 L1590.0,214.6 L1589.9,219.2 L1589.8,223.7 L1589.6,228.2 L1589.4,232.8 L1589.2,237.3 L1589.0,241.8 L1588.7,246.4 L1588.4,250.9 L1588.0,255.4 L1587.5,260.0 L1587.0,264.5 L1586.4,269.0 L1585.7,273.6 L1584.9,278.1 L1584.0,282.6 L1582.9,287.2 L1581.6,291.7 L1580.1,296.2 L1578.5,300.8 L1576.6,305.3 L1574.5,309.8 L1572.1,314.4 L1569.6,318.9 L1566.9,323.4 L1564.0,328.0 L1561.1,332.5 L1558.0,337.0 L1555.0,341.6 L1551.9,346.1 L1548.8,350.6 L1545.7,355.2 L1542.5,359.7 L1539.4,364.2 L1536.2,368.7 L1533.1,373.3 L1529.9,377.8 L1526.7,382.3 L1523.5,386.9 L1520.3,391.4 L1517.1,395.9 L1513.9,400.5 L1510.7,405.0 L1507.5,409.5 L1504.2,414.1 L1501.0,418.6 L1497.7,423.1 L1494.5,427.7 L1491.2,432.2 L1487.9,436.7 L1484.7,441.3 L1481.4,445.8 L1478.1,450.3 L1474.8,454.9 L1471.4,459.4 L1468.1,463.9 L1464.8,468.5 L1461.5,473.0 L1458.1,477.5 L1454.7,482.1 L1450.7,487.5"/><path d="M1590.7,124.0 L1590.8,128.5 L1590.9,133.1 L1591.0,137.6 L1591.1,142.1 L1591.1,146.7 L1591.2,151.2 L1591.3,155.7 L1591.3,160.3 L1591.4,164.8 L1591.4,169.3 L1591.4,173.9 L1591.5,178.4 L1591.5,182.9 L1591.5,187.5 L1591.5,192.0 L1591.5,196.5 L1591.5,201.1 L1591.4,205.6 L1591.4,210.1 L1591.3,214.6 L1591.2,219.2 L1591.1,223.7 L1591.0,228.2 L1590.8,232.8 L1590.6,237.3 L1590.4,241.8 L1590.2,246.4 L1589.9,250.9 L1589.5,255.4 L1589.1,260.0 L1588.7,264.5 L1588.2,269.0 L1587.6,273.6 L1586.8,278.1 L1586.0,282.6 L1585.0,287.2 L1583.9,291.7 L1582.6,296.2 L1581.1,300.8 L1579.3,305.3 L1577.3,309.8 L1575.1,314.4 L1572.6,318.9 L1569.9,323.4 L1567.1,328.0 L1564.1,332.5 L1561.0,337.0 L1557.9,341.6 L1554.7,346.1 L1551.5,350.6 L1548.3,355.2 L1545.1,359.7 L1541.9,364.2 L1538.6,368.7 L1535.4,373.3 L1532.1,377.8 L1528.8,382.3 L1525.6,386.9 L1522.3,391.4 L1519.0,395.9 L1515.7,400.5 L1512.4,405.0 L1509.1,409.5 L1505.7,414.1 L1502.4,418.6 L1499.1,423.1 L1495.7,427.7 L1492.4,432.2 L1489.0,436.7 L1485.6,441.3 L1482.2,445.8 L1478.8,450.3 L1475.4,454.9 L1472.0,459.4 L1468.6,463.9 L1465.2,468.5 L1461.8,473.0 L1458.3,477.5 L1454.9,482.1 L1450.7,487.5"/><path d="M1594.1,124.0 L1594.1,128.5 L1594.2,133.1 L1594.2,137.6 L1594.3,142.1 L1594.3,146.7 L1594.4,151.2 L1594.4,155.7 L1594.4,160.3 L1594.5,164.8 L1594.5,169.3 L1594.5,173.9 L1594.5,178.4 L1594.5,182.9 L1594.5,187.5 L1594.5,192.0 L1594.5,196.5 L1594.5,201.1 L1594.5,205.6 L1594.4,210.1 L1594.4,214.6 L1594.4,219.2 L1594.3,223.7 L1594.2,228.2 L1594.1,232.8 L1594.0,237.3 L1593.9,241.8 L1593.7,246.4 L1593.5,250.9 L1593.3,255.4 L1593.1,260.0 L1592.8,264.5 L1592.5,269.0 L1592.1,273.6 L1591.6,278.1 L1591.1,282.6 L1590.4,287.2 L1589.7,291.7 L1588.8,296.2 L1587.8,300.8 L1586.5,305.3 L1585.0,309.8 L1583.2,314.4 L1581.2,318.9 L1578.8,323.4 L1576.1,328.0 L1573.2,332.5 L1570.1,337.0 L1566.8,341.6 L1563.5,346.1 L1560.0,350.6 L1556.6,355.2 L1553.1,359.7 L1549.6,364.2 L1546.1,368.7 L1542.5,373.3 L1539.0,377.8 L1535.5,382.3 L1531.9,386.9 L1528.3,391.4 L1524.8,395.9 L1521.2,400.5 L1517.6,405.0 L1514.0,409.5 L1510.4,414.1 L1506.8,418.6 L1503.2,423.1 L1499.5,427.7 L1495.9,432.2 L1492.2,436.7 L1488.6,441.3 L1484.9,445.8 L1481.2,450.3 L1477.5,454.9 L1473.8,459.4 L1470.1,463.9 L1466.4,468.5 L1462.7,473.0 L1459.0,477.5 L1455.2,482.1 L1450.7,487.5"/><path d="M1597.4,124.0 L1597.4,128.5 L1597.4,133.1 L1597.5,137.6 L1597.5,142.1 L1597.5,146.7 L1597.5,151.2 L1597.5,155.7 L1597.5,160.3 L1597.5,164.8 L1597.6,169.3 L1597.6,173.9 L1597.6,178.4 L1597.6,182.9 L1597.6,187.5 L1597.6,192.0 L1597.6,196.5 L1597.6,201.1 L1597.6,205.6 L1597.5,210.1 L1597.5,214.6 L1597.5,219.2 L1597.5,223.7 L1597.5,228.2 L1597.4,232.8 L1597.4,237.3 L1597.3,241.8 L1597.3,246.4 L1597.2,250.9 L1597.1,255.4 L1597.0,260.0 L1596.9,264.5 L1596.8,269.0 L1596.6,273.6 L1596.5,278.1 L1596.3,282.6 L1596.0,287.2 L1595.7,291.7 L1595.4,296.2 L1594.9,300.8 L1594.4,305.3 L1593.8,309.8 L1593.0,314.4 L1592.0,318.9 L1590.8,323.4 L1589.2,328.0 L1587.3,332.5 L1585.0,337.0 L1582.3,341.6 L1579.1,346.1 L1575.7,350.6 L1572.2,355.2 L1568.5,359.7 L1564.9,364.2 L1561.2,368.7 L1557.6,373.3 L1554.0,377.8 L1550.5,382.3 L1546.9,386.9 L1543.5,391.4 L1540.0,395.9 L1536.6,400.5 L1533.3,405.0 L1529.9,409.5 L1526.6,414.1 L1523.3,418.6 L1520.1,423.1 L1516.9,427.7 L1513.6,432.2 L1510.4,436.7 L1507.2,441.3 L1504.0,445.8 L1500.8,450.3 L1497.5,454.9 L1494.3,459.4 L1491.0,463.9 L1487.7,468.5 L1484.3,473.0 L1480.8,477.5 L1477.3,482.1 L1473.0,487.5"/><path d="M1597.9,124.0 L1597.9,128.5 L1598.0,133.1 L1598.0,137.6 L1598.0,142.1 L1598.0,146.7 L1598.0,151.2 L1598.0,155.7 L1598.0,160.3 L1598.0,164.8 L1598.0,169.3 L1598.1,173.9 L1598.1,178.4 L1598.1,182.9 L1598.1,187.5 L1598.1,192.0 L1598.1,196.5 L1598.1,201.1 L1598.0,205.6 L1598.0,210.1 L1598.0,214.6 L1598.0,219.2 L1598.0,223.7 L1598.0,228.2 L1597.9,232.8 L1597.9,237.3 L1597.9,241.8 L1597.8,246.4 L1597.8,250.9 L1597.7,255.4 L1597.7,260.0 L1597.6,264.5 L1597.5,269.0 L1597.4,273.6 L1597.3,278.1 L1597.1,282.6 L1596.9,287.2 L1596.7,291.7 L1596.4,296.2 L1596.1,300.8 L1595.7,305.3 L1595.3,309.8 L1594.7,314.4 L1593.9,318.9 L1593.0,323.4 L1591.8,328.0 L1590.3,332.5 L1588.4,337.0 L1586.1,341.6 L1583.3,346.1 L1580.1,350.6 L1576.6,355.2 L1573.0,359.7 L1569.4,364.2 L1565.7,368.7 L1562.1,373.3 L1558.6,377.8 L1555.1,382.3 L1551.7,386.9 L1548.3,391.4 L1545.0,395.9 L1541.8,400.5 L1538.6,405.0 L1535.5,409.5 L1532.4,414.1 L1529.4,418.6 L1526.4,423.1 L1523.4,427.7 L1520.5,432.2 L1517.6,436.7 L1514.7,441.3 L1511.8,445.8 L1508.9,450.3 L1506.0,454.9 L1503.1,459.4 L1500.1,463.9 L1497.0,468.5 L1493.9,473.0 L1490.8,477.5 L1487.5,482.1 L1483.4,487.5"/><path d="M1600.6,124.0 L1600.6,128.5 L1600.6,133.1 L1600.6,137.6 L1600.6,142.1 L1600.5,146.7 L1600.5,151.2 L1600.5,155.7 L1600.5,160.3 L1600.5,164.8 L1600.5,169.3 L1600.5,173.9 L1600.5,178.4 L1600.5,182.9 L1600.5,187.5 L1600.5,192.0 L1600.5,196.5 L1600.5,201.1 L1600.5,205.6 L1600.5,210.1 L1600.5,214.6 L1600.5,219.2 L1600.6,223.7 L1600.6,228.2 L1600.6,232.8 L1600.6,237.3 L1600.6,241.8 L1600.7,246.4 L1600.7,250.9 L1600.8,255.4 L1600.8,260.0 L1600.9,264.5 L1601.0,269.0 L1601.1,273.6 L1601.2,278.1 L1601.3,282.6 L1601.4,287.2 L1601.6,291.7 L1601.8,296.2 L1602.1,300.8 L1602.4,305.3 L1602.8,309.8 L1603.3,314.4 L1603.9,318.9 L1604.7,323.4 L1605.7,328.0 L1607.0,332.5 L1608.7,337.0 L1610.9,341.6 L1613.6,346.1 L1616.8,350.6 L1620.5,355.2 L1624.4,359.7 L1628.6,364.2 L1632.8,368.7 L1637.0,373.3 L1641.3,377.8 L1645.6,382.3 L1649.9,386.9 L1654.2,391.4 L1658.5,395.9 L1662.8,400.5 L1667.2,405.0 L1671.5,409.5 L1675.9,414.1 L1680.2,418.6 L1684.6,423.1 L1689.0,427.7 L1693.4,432.2 L1697.8,436.7 L1702.3,441.3 L1706.7,445.8 L1711.2,450.3 L1715.6,454.9 L1720.1,459.4 L1724.6,463.9 L1729.1,468.5 L1733.6,473.0 L1738.1,477.5 L1742.6,482.1 L1748.1,487.5"/><path d="M1601.0,124.0 L1601.0,128.5 L1601.0,133.1 L1601.0,137.6 L1600.9,142.1 L1600.9,146.7 L1600.9,151.2 L1600.9,155.7 L1600.9,160.3 L1600.9,164.8 L1600.9,169.3 L1600.9,173.9 L1600.9,178.4 L1600.9,182.9 L1600.9,187.5 L1600.9,192.0 L1600.9,196.5 L1600.9,201.1 L1600.9,205.6 L1600.9,210.1 L1600.9,214.6 L1600.9,219.2 L1600.9,223.7 L1601.0,228.2 L1601.0,232.8 L1601.0,237.3 L1601.1,241.8 L1601.1,246.4 L1601.2,250.9 L1601.2,255.4 L1601.3,260.0 L1601.4,264.5 L1601.5,269.0 L1601.6,273.6 L1601.7,278.1 L1601.9,282.6 L1602.1,287.2 L1602.3,291.7 L1602.6,296.2 L1603.0,300.8 L1603.4,305.3 L1603.9,309.8 L1604.5,314.4 L1605.4,318.9 L1606.4,323.4 L1607.7,328.0 L1609.3,332.5 L1611.4,337.0 L1614.0,341.6 L1617.1,346.1 L1620.5,350.6 L1624.3,355.2 L1628.2,359.7 L1632.3,364.2 L1636.4,368.7 L1640.5,373.3 L1644.6,377.8 L1648.8,382.3 L1652.9,386.9 L1657.1,391.4 L1661.3,395.9 L1665.5,400.5 L1669.7,405.0 L1673.9,409.5 L1678.1,414.1 L1682.4,418.6 L1686.6,423.1 L1690.9,427.7 L1695.1,432.2 L1699.4,436.7 L1703.7,441.3 L1708.0,445.8 L1712.3,450.3 L1716.6,454.9 L1721.0,459.4 L1725.3,463.9 L1729.7,468.5 L1734.0,473.0 L1738.4,477.5 L1742.8,482.1 L1748.1,487.5"/><path d="M1601.4,124.0 L1601.4,128.5 L1601.4,133.1 L1601.3,137.6 L1601.3,142.1 L1601.3,146.7 L1601.3,151.2 L1601.3,155.7 L1601.3,160.3 L1601.3,164.8 L1601.2,169.3 L1601.2,173.9 L1601.2,178.4 L1601.2,182.9 L1601.2,187.5 L1601.2,192.0 L1601.2,196.5 L1601.2,201.1 L1601.2,205.6 L1601.3,210.1 L1601.3,214.6 L1601.3,219.2 L1601.3,223.7 L1601.3,228.2 L1601.4,232.8 L1601.4,237.3 L1601.5,241.8 L1601.5,246.4 L1601.6,250.9 L1601.7,255.4 L1601.8,260.0 L1601.9,264.5 L1602.0,269.0 L1602.2,273.6 L1602.3,278.1 L1602.5,282.6 L1602.8,287.2 L1603.1,291.7 L1603.4,296.2 L1603.9,300.8 L1604.4,305.3 L1605.0,309.8 L1605.8,314.4 L1606.8,318.9 L1608.1,323.4 L1609.6,328.0 L1611.6,332.5 L1614.0,337.0 L1616.8,341.6 L1620.0,346.1 L1623.6,350.6 L1627.4,355.2 L1631.3,359.7 L1635.2,364.2 L1639.2,368.7 L1643.3,373.3 L1647.3,377.8 L1651.3,382.3 L1655.4,386.9 L1659.5,391.4 L1663.5,395.9 L1667.6,400.5 L1671.7,405.0 L1675.8,409.5 L1679.9,414.1 L1684.1,418.6 L1688.2,423.1 L1692.3,427.7 L1696.5,432.2 L1700.7,436.7 L1704.9,441.3 L1709.0,445.8 L1713.2,450.3 L1717.5,454.9 L1721.7,459.4 L1725.9,463.9 L1730.2,468.5 L1734.4,473.0 L1738.7,477.5 L1742.9,482.1 L1748.1,487.5"/><path d="M1605.4,124.0 L1605.3,128.5 L1605.3,133.1 L1605.2,137.6 L1605.2,142.1 L1605.1,146.7 L1605.1,151.2 L1605.0,155.7 L1605.0,160.3 L1605.0,164.8 L1604.9,169.3 L1604.9,173.9 L1604.9,178.4 L1604.9,182.9 L1604.9,187.5 L1604.9,192.0 L1604.9,196.5 L1604.9,201.1 L1604.9,205.6 L1605.0,210.1 L1605.0,214.6 L1605.1,219.2 L1605.2,223.7 L1605.2,228.2 L1605.3,232.8 L1605.5,237.3 L1605.6,241.8 L1605.8,246.4 L1606.0,250.9 L1606.2,255.4 L1606.5,260.0 L1606.8,264.5 L1607.2,269.0 L1607.6,273.6 L1608.1,278.1 L1608.7,282.6 L1609.4,287.2 L1610.3,291.7 L1611.3,296.2 L1612.4,300.8 L1613.8,305.3 L1615.4,309.8 L1617.3,314.4 L1619.5,318.9 L1622.0,323.4 L1624.7,328.0 L1627.7,332.5 L1630.8,337.0 L1634.1,341.6 L1637.4,346.1 L1640.8,350.6 L1644.2,355.2 L1647.6,359.7 L1651.0,364.2 L1654.5,368.7 L1658.0,373.3 L1661.4,377.8 L1664.9,382.3 L1668.4,386.9 L1671.9,391.4 L1675.4,395.9 L1678.9,400.5 L1682.4,405.0 L1686.0,409.5 L1689.5,414.1 L1693.0,418.6 L1696.6,423.1 L1700.2,427.7 L1703.7,432.2 L1707.3,436.7 L1710.9,441.3 L1714.5,445.8 L1718.1,450.3 L1721.8,454.9 L1725.4,459.4 L1729.0,463.9 L1732.7,468.5 L1736.3,473.0 L1740.0,477.5 L1743.7,482.1 L1748.1,487.5"/><path d="M1607.3,124.0 L1607.3,128.5 L1607.2,133.1 L1607.1,137.6 L1607.0,142.1 L1607.0,146.7 L1606.9,151.2 L1606.8,155.7 L1606.8,160.3 L1606.7,164.8 L1606.7,169.3 L1606.7,173.9 L1606.7,178.4 L1606.6,182.9 L1606.6,187.5 L1606.6,192.0 L1606.7,196.5 L1606.7,201.1 L1606.7,205.6 L1606.8,210.1 L1606.8,214.6 L1606.9,219.2 L1607.0,223.7 L1607.1,228.2 L1607.3,232.8 L1607.4,237.3 L1607.6,241.8 L1607.9,246.4 L1608.1,250.9 L1608.4,255.4 L1608.8,260.0 L1609.2,264.5 L1609.7,269.0 L1610.3,273.6 L1610.9,278.1 L1611.7,282.6 L1612.6,287.2 L1613.6,291.7 L1614.9,296.2 L1616.3,300.8 L1618.0,305.3 L1619.9,309.8 L1622.1,314.4 L1624.5,318.9 L1627.1,323.4 L1630.0,328.0 L1633.0,332.5 L1636.1,337.0 L1639.2,341.6 L1642.4,346.1 L1645.7,350.6 L1648.9,355.2 L1652.2,359.7 L1655.5,364.2 L1658.8,368.7 L1662.1,373.3 L1665.4,377.8 L1668.7,382.3 L1672.0,386.9 L1675.4,391.4 L1678.7,395.9 L1682.1,400.5 L1685.4,405.0 L1688.8,409.5 L1692.2,414.1 L1695.6,418.6 L1699.0,423.1 L1702.4,427.7 L1705.8,432.2 L1709.2,436.7 L1712.6,441.3 L1716.1,445.8 L1719.5,450.3 L1723.0,454.9 L1726.4,459.4 L1729.9,463.9 L1733.4,468.5 L1736.9,473.0 L1740.4,477.5 L1743.9,482.1 L1748.1,487.5"/><path d="M1608.7,124.0 L1608.6,128.5 L1608.5,133.1 L1608.5,137.6 L1608.4,142.1 L1608.3,146.7 L1608.2,151.2 L1608.2,155.7 L1608.1,160.3 L1608.0,164.8 L1608.0,169.3 L1608.0,173.9 L1607.9,178.4 L1607.9,182.9 L1607.9,187.5 L1607.9,192.0 L1607.9,196.5 L1608.0,201.1 L1608.0,205.6 L1608.1,210.1 L1608.1,214.6 L1608.2,219.2 L1608.3,223.7 L1608.5,228.2 L1608.7,232.8 L1608.8,237.3 L1609.1,241.8 L1609.3,246.4 L1609.7,250.9 L1610.0,255.4 L1610.4,260.0 L1610.9,264.5 L1611.5,269.0 L1612.1,273.6 L1612.9,278.1 L1613.8,282.6 L1614.8,287.2 L1616.0,291.7 L1617.4,296.2 L1619.0,300.8 L1620.8,305.3 L1622.9,309.8 L1625.2,314.4 L1627.7,318.9 L1630.4,323.4 L1633.3,328.0 L1636.2,332.5 L1639.3,337.0 L1642.4,341.6 L1645.5,346.1 L1648.6,350.6 L1651.8,355.2 L1655.0,359.7 L1658.2,364.2 L1661.4,368.7 L1664.6,373.3 L1667.8,377.8 L1671.0,382.3 L1674.3,386.9 L1677.5,391.4 L1680.7,395.9 L1684.0,400.5 L1687.3,405.0 L1690.5,409.5 L1693.8,414.1 L1697.1,418.6 L1700.4,423.1 L1703.7,427.7 L1707.0,432.2 L1710.3,436.7 L1713.7,441.3 L1717.0,445.8 L1720.3,450.3 L1723.7,454.9 L1727.1,459.4 L1730.4,463.9 L1733.8,468.5 L1737.2,473.0 L1740.6,477.5 L1744.0,482.1 L1748.1,487.5"/><path d="M1613.4,124.0 L1613.3,128.5 L1613.1,133.1 L1613.0,137.6 L1612.9,142.1 L1612.7,146.7 L1612.6,151.2 L1612.5,155.7 L1612.4,160.3 L1612.4,164.8 L1612.3,169.3 L1612.2,173.9 L1612.2,178.4 L1612.2,182.9 L1612.2,187.5 L1612.2,192.0 L1612.2,196.5 L1612.2,201.1 L1612.3,205.6 L1612.4,210.1 L1612.5,214.6 L1612.6,219.2 L1612.8,223.7 L1613.0,228.2 L1613.3,232.8 L1613.6,237.3 L1613.9,241.8 L1614.3,246.4 L1614.7,250.9 L1615.3,255.4 L1615.9,260.0 L1616.6,264.5 L1617.4,269.0 L1618.3,273.6 L1619.4,278.1 L1620.6,282.6 L1621.9,287.2 L1623.5,291.7 L1625.3,296.2 L1627.2,300.8 L1629.3,305.3 L1631.7,309.8 L1634.1,314.4 L1636.7,318.9 L1639.4,323.4 L1642.2,328.0 L1645.0,332.5 L1647.9,337.0 L1650.7,341.6 L1653.6,346.1 L1656.5,350.6 L1659.5,355.2 L1662.4,359.7 L1665.3,364.2 L1668.3,368.7 L1671.2,373.3 L1674.2,377.8 L1677.1,382.3 L1680.1,386.9 L1683.1,391.4 L1686.1,395.9 L1689.1,400.5 L1692.1,405.0 L1695.1,409.5 L1698.1,414.1 L1701.2,418.6 L1704.2,423.1 L1707.2,427.7 L1710.3,432.2 L1713.3,436.7 L1716.4,441.3 L1719.5,445.8 L1722.6,450.3 L1725.6,454.9 L1728.7,459.4 L1731.8,463.9 L1734.9,468.5 L1738.1,473.0 L1741.2,477.5 L1744.3,482.1 L1748.1,487.5"/><path d="M1617.4,124.0 L1617.2,128.5 L1617.0,133.1 L1616.9,137.6 L1616.7,142.1 L1616.6,146.7 L1616.4,151.2 L1616.3,155.7 L1616.2,160.3 L1616.1,164.8 L1616.0,169.3 L1615.9,173.9 L1615.9,178.4 L1615.8,182.9 L1615.8,187.5 L1615.8,192.0 L1615.9,196.5 L1615.9,201.1 L1616.0,205.6 L1616.1,210.1 L1616.2,214.6 L1616.4,219.2 L1616.6,223.7 L1616.9,228.2 L1617.2,232.8 L1617.6,237.3 L1618.0,241.8 L1618.5,246.4 L1619.0,250.9 L1619.7,255.4 L1620.5,260.0 L1621.3,264.5 L1622.3,269.0 L1623.4,273.6 L1624.7,278.1 L1626.1,282.6 L1627.7,287.2 L1629.4,291.7 L1631.3,296.2 L1633.4,300.8 L1635.6,305.3 L1638.0,309.8 L1640.5,314.4 L1643.0,318.9 L1645.6,323.4 L1648.3,328.0 L1650.9,332.5 L1653.7,337.0 L1656.4,341.6 L1659.1,346.1 L1661.9,350.6 L1664.6,355.2 L1667.4,359.7 L1670.1,364.2 L1672.9,368.7 L1675.7,373.3 L1678.5,377.8 L1681.3,382.3 L1684.1,386.9 L1686.9,391.4 L1689.7,395.9 L1692.5,400.5 L1695.3,405.0 L1698.2,409.5 L1701.0,414.1 L1703.9,418.6 L1706.7,423.1 L1709.6,427.7 L1712.5,432.2 L1715.4,436.7 L1718.2,441.3 L1721.1,445.8 L1724.0,450.3 L1726.9,454.9 L1729.9,459.4 L1732.8,463.9 L1735.7,468.5 L1738.6,473.0 L1741.6,477.5 L1744.5,482.1 L1748.1,487.5"/><path d="M1635.0,124.0 L1634.6,128.5 L1634.3,133.1 L1633.9,137.6 L1633.6,142.1 L1633.3,146.7 L1633.0,151.2 L1632.8,155.7 L1632.5,160.3 L1632.3,164.8 L1632.2,169.3 L1632.0,173.9 L1631.9,178.4 L1631.9,182.9 L1631.8,187.5 L1631.8,192.0 L1631.9,196.5 L1632.0,201.1 L1632.1,205.6 L1632.3,210.1 L1632.6,214.6 L1632.9,219.2 L1633.3,223.7 L1633.8,228.2 L1634.3,232.8 L1634.9,237.3 L1635.7,241.8 L1636.5,246.4 L1637.4,250.9 L1638.4,255.4 L1639.6,260.0 L1640.9,264.5 L1642.3,269.0 L1643.8,273.6 L1645.4,278.1 L1647.1,282.6 L1648.9,287.2 L1650.8,291.7 L1652.8,296.2 L1654.8,300.8 L1656.9,305.3 L1659.0,309.8 L1661.1,314.4 L1663.3,318.9 L1665.4,323.4 L1667.6,328.0 L1669.8,332.5 L1672.0,337.0 L1674.2,341.6 L1676.4,346.1 L1678.6,350.6 L1680.8,355.2 L1683.0,359.7 L1685.3,364.2 L1687.5,368.7 L1689.8,373.3 L1692.0,377.8 L1694.3,382.3 L1696.5,386.9 L1698.8,391.4 L1701.0,395.9 L1703.3,400.5 L1705.6,405.0 L1707.9,409.5 L1710.2,414.1 L1712.5,418.6 L1714.8,423.1 L1717.1,427.7 L1719.4,432.2 L1721.7,436.7 L1724.0,441.3 L1726.4,445.8 L1728.7,450.3 L1731.1,454.9 L1733.4,459.4 L1735.8,463.9 L1738.1,468.5 L1740.5,473.0 L1742.9,477.5 L1745.2,482.1 L1748.1,487.5"/><path d="M1636.8,124.0 L1636.4,128.5 L1636.0,133.1 L1635.6,137.6 L1635.3,142.1 L1635.0,146.7 L1634.7,151.2 L1634.4,155.7 L1634.2,160.3 L1634.0,164.8 L1633.8,169.3 L1633.7,173.9 L1633.5,178.4 L1633.5,182.9 L1633.4,187.5 L1633.4,192.0 L1633.5,196.5 L1633.6,201.1 L1633.7,205.6 L1634.0,210.1 L1634.2,214.6 L1634.6,219.2 L1635.0,223.7 L1635.4,228.2 L1636.0,232.8 L1636.6,237.3 L1637.4,241.8 L1638.2,246.4 L1639.2,250.9 L1640.2,255.4 L1641.4,260.0 L1642.7,264.5 L1644.1,269.0 L1645.6,273.6 L1647.2,278.1 L1649.0,282.6 L1650.8,287.2 L1652.6,291.7 L1654.6,296.2 L1656.6,300.8 L1658.6,305.3 L1660.7,309.8 L1662.8,314.4 L1664.9,318.9 L1667.0,323.4 L1669.2,328.0 L1671.3,332.5 L1673.5,337.0 L1675.6,341.6 L1677.8,346.1 L1680.0,350.6 L1682.1,355.2 L1684.3,359.7 L1686.5,364.2 L1688.7,368.7 L1690.9,373.3 L1693.1,377.8 L1695.3,382.3 L1697.5,386.9 L1699.7,391.4 L1702.0,395.9 L1704.2,400.5 L1706.4,405.0 L1708.7,409.5 L1710.9,414.1 L1713.2,418.6 L1715.4,423.1 L1717.7,427.7 L1720.0,432.2 L1722.2,436.7 L1724.5,441.3 L1726.8,445.8 L1729.1,450.3 L1731.4,454.9 L1733.7,459.4 L1736.0,463.9 L1738.3,468.5 L1740.6,473.0 L1743.0,477.5 L1745.3,482.1 L1748.1,487.5"/><path d="M1647.5,124.0 L1646.9,128.5 L1646.4,133.1 L1646.0,137.6 L1645.5,142.1 L1645.1,146.7 L1644.8,151.2 L1644.4,155.7 L1644.1,160.3 L1643.9,164.8 L1643.6,169.3 L1643.4,173.9 L1643.3,178.4 L1643.2,182.9 L1643.1,187.5 L1643.1,192.0 L1643.2,196.5 L1643.3,201.1 L1643.5,205.6 L1643.7,210.1 L1644.1,214.6 L1644.4,219.2 L1644.9,223.7 L1645.5,228.2 L1646.1,232.8 L1646.9,237.3 L1647.7,241.8 L1648.6,246.4 L1649.7,250.9 L1650.8,255.4 L1652.1,260.0 L1653.4,264.5 L1654.8,269.0 L1656.4,273.6 L1657.9,278.1 L1659.6,282.6 L1661.3,287.2 L1663.1,291.7 L1664.9,296.2 L1666.7,300.8 L1668.5,305.3 L1670.4,309.8 L1672.3,314.4 L1674.2,318.9 L1676.0,323.4 L1678.0,328.0 L1679.9,332.5 L1681.8,337.0 L1683.7,341.6 L1685.6,346.1 L1687.5,350.6 L1689.5,355.2 L1691.4,359.7 L1693.4,364.2 L1695.3,368.7 L1697.3,373.3 L1699.2,377.8 L1701.2,382.3 L1703.2,386.9 L1705.1,391.4 L1707.1,395.9 L1709.1,400.5 L1711.1,405.0 L1713.1,409.5 L1715.1,414.1 L1717.1,418.6 L1719.1,423.1 L1721.1,427.7 L1723.1,432.2 L1725.1,436.7 L1727.2,441.3 L1729.2,445.8 L1731.2,450.3 L1733.3,454.9 L1735.3,459.4 L1737.4,463.9 L1739.4,468.5 L1741.5,473.0 L1743.5,477.5 L1745.6,482.1 L1748.1,487.5"/><path d="M1649.2,124.0 L1648.6,128.5 L1648.1,133.1 L1647.6,137.6 L1647.2,142.1 L1646.8,146.7 L1646.4,151.2 L1646.0,155.7 L1645.7,160.3 L1645.4,164.8 L1645.2,169.3 L1645.0,173.9 L1644.8,178.4 L1644.7,182.9 L1644.7,187.5 L1644.7,192.0 L1644.7,196.5 L1644.9,201.1 L1645.0,205.6 L1645.3,210.1 L1645.6,214.6 L1646.0,219.2 L1646.5,223.7 L1647.1,228.2 L1647.7,232.8 L1648.5,237.3 L1649.3,241.8 L1650.3,246.4 L1651.3,250.9 L1652.5,255.4 L1653.7,260.0 L1655.1,264.5 L1656.5,269.0 L1658.0,273.6 L1659.6,278.1 L1661.2,282.6 L1662.9,287.2 L1664.6,291.7 L1666.4,296.2 L1668.2,300.8 L1670.0,305.3 L1671.8,309.8 L1673.7,314.4 L1675.5,318.9 L1677.4,323.4 L1679.3,328.0 L1681.1,332.5 L1683.0,337.0 L1684.9,341.6 L1686.8,346.1 L1688.7,350.6 L1690.6,355.2 L1692.5,359.7 L1694.4,364.2 L1696.3,368.7 L1698.2,373.3 L1700.1,377.8 L1702.1,382.3 L1704.0,386.9 L1705.9,391.4 L1707.9,395.9 L1709.8,400.5 L1711.8,405.0 L1713.7,409.5 L1715.7,414.1 L1717.6,418.6 L1719.6,423.1 L1721.6,427.7 L1723.6,432.2 L1725.6,436.7 L1727.5,441.3 L1729.5,445.8 L1731.5,450.3 L1733.5,454.9 L1735.5,459.4 L1737.6,463.9 L1739.6,468.5 L1741.6,473.0 L1743.6,477.5 L1745.6,482.1 L1748.1,487.5"/><path d="M1657.5,124.0 L1656.8,128.5 L1656.2,133.1 L1655.7,137.6 L1655.2,142.1 L1654.7,146.7 L1654.2,151.2 L1653.8,155.7 L1653.4,160.3 L1653.1,164.8 L1652.8,169.3 L1652.6,173.9 L1652.4,178.4 L1652.3,182.9 L1652.2,187.5 L1652.2,192.0 L1652.3,196.5 L1652.4,201.1 L1652.6,205.6 L1652.9,210.1 L1653.2,214.6 L1653.6,219.2 L1654.2,223.7 L1654.8,228.2 L1655.5,232.8 L1656.2,237.3 L1657.1,241.8 L1658.1,246.4 L1659.2,250.9 L1660.3,255.4 L1661.5,260.0 L1662.9,264.5 L1664.2,269.0 L1665.7,273.6 L1667.2,278.1 L1668.7,282.6 L1670.3,287.2 L1671.9,291.7 L1673.6,296.2 L1675.2,300.8 L1676.9,305.3 L1678.5,309.8 L1680.2,314.4 L1681.9,318.9 L1683.6,323.4 L1685.3,328.0 L1687.0,332.5 L1688.8,337.0 L1690.5,341.6 L1692.2,346.1 L1693.9,350.6 L1695.7,355.2 L1697.4,359.7 L1699.1,364.2 L1700.9,368.7 L1702.6,373.3 L1704.4,377.8 L1706.1,382.3 L1707.9,386.9 L1709.7,391.4 L1711.4,395.9 L1713.2,400.5 L1715.0,405.0 L1716.8,409.5 L1718.6,414.1 L1720.3,418.6 L1722.1,423.1 L1723.9,427.7 L1725.7,432.2 L1727.6,436.7 L1729.4,441.3 L1731.2,445.8 L1733.0,450.3 L1734.8,454.9 L1736.7,459.4 L1738.5,463.9 L1740.3,468.5 L1742.2,473.0 L1744.0,477.5 L1745.9,482.1 L1748.1,487.5"/><path d="M1658.8,124.0 L1658.2,128.5 L1657.6,133.1 L1657.0,137.6 L1656.5,142.1 L1656.0,146.7 L1655.5,151.2 L1655.1,155.7 L1654.7,160.3 L1654.4,164.8 L1654.1,169.3 L1653.9,173.9 L1653.7,178.4 L1653.5,182.9 L1653.5,187.5 L1653.5,192.0 L1653.5,196.5 L1653.6,201.1 L1653.8,205.6 L1654.1,210.1 L1654.5,214.6 L1654.9,219.2 L1655.4,223.7 L1656.0,228.2 L1656.7,232.8 L1657.5,237.3 L1658.4,241.8 L1659.4,246.4 L1660.4,250.9 L1661.6,255.4 L1662.8,260.0 L1664.1,264.5 L1665.5,269.0 L1666.9,273.6 L1668.4,278.1 L1669.9,282.6 L1671.5,287.2 L1673.1,291.7 L1674.7,296.2 L1676.3,300.8 L1678.0,305.3 L1679.6,309.8 L1681.3,314.4 L1682.9,318.9 L1684.6,323.4 L1686.3,328.0 L1688.0,332.5 L1689.7,337.0 L1691.4,341.6 L1693.1,346.1 L1694.8,350.6 L1696.5,355.2 L1698.2,359.7 L1699.9,364.2 L1701.6,368.7 L1703.3,373.3 L1705.0,377.8 L1706.8,382.3 L1708.5,386.9 L1710.3,391.4 L1712.0,395.9 L1713.7,400.5 L1715.5,405.0 L1717.2,409.5 L1719.0,414.1 L1720.8,418.6 L1722.5,423.1 L1724.3,427.7 L1726.1,432.2 L1727.9,436.7 L1729.7,441.3 L1731.4,445.8 L1733.2,450.3 L1735.0,454.9 L1736.8,459.4 L1738.6,463.9 L1740.4,468.5 L1742.3,473.0 L1744.1,477.5 L1745.9,482.1 L1748.1,487.5"/><path d="M1659.3,124.0 L1658.7,128.5 L1658.1,133.1 L1657.5,137.6 L1657.0,142.1 L1656.5,146.7 L1656.0,151.2 L1655.6,155.7 L1655.2,160.3 L1654.8,164.8 L1654.6,169.3 L1654.3,173.9 L1654.1,178.4 L1654.0,182.9 L1653.9,187.5 L1653.9,192.0 L1654.0,196.5 L1654.1,201.1 L1654.3,205.6 L1654.6,210.1 L1654.9,214.6 L1655.4,219.2 L1655.9,223.7 L1656.5,228.2 L1657.2,232.8 L1658.0,237.3 L1658.9,241.8 L1659.8,246.4 L1660.9,250.9 L1662.0,255.4 L1663.3,260.0 L1664.6,264.5 L1665.9,269.0 L1667.4,273.6 L1668.9,278.1 L1670.4,282.6 L1671.9,287.2 L1673.5,291.7 L1675.1,296.2 L1676.7,300.8 L1678.4,305.3 L1680.0,309.8 L1681.7,314.4 L1683.3,318.9 L1685.0,323.4 L1686.6,328.0 L1688.3,332.5 L1690.0,337.0 L1691.7,341.6 L1693.4,346.1 L1695.1,350.6 L1696.8,355.2 L1698.5,359.7 L1700.2,364.2 L1701.9,368.7 L1703.6,373.3 L1705.3,377.8 L1707.0,382.3 L1708.7,386.9 L1710.5,391.4 L1712.2,395.9 L1713.9,400.5 L1715.7,405.0 L1717.4,409.5 L1719.2,414.1 L1720.9,418.6 L1722.7,423.1 L1724.4,427.7 L1726.2,432.2 L1728.0,436.7 L1729.8,441.3 L1731.5,445.8 L1733.3,450.3 L1735.1,454.9 L1736.9,459.4 L1738.7,463.9 L1740.5,468.5 L1742.3,473.0 L1744.1,477.5 L1745.9,482.1 L1748.1,487.5"/><path d="M1661.5,124.0 L1660.8,128.5 L1660.2,133.1 L1659.6,137.6 L1659.0,142.1 L1658.5,146.7 L1658.0,151.2 L1657.6,155.7 L1657.2,160.3 L1656.8,164.8 L1656.5,169.3 L1656.3,173.9 L1656.1,178.4 L1655.9,182.9 L1655.9,187.5 L1655.8,192.0 L1655.9,196.5 L1656.0,201.1 L1656.2,205.6 L1656.5,210.1 L1656.9,214.6 L1657.3,219.2 L1657.8,223.7 L1658.4,228.2 L1659.1,232.8 L1659.9,237.3 L1660.8,241.8 L1661.8,246.4 L1662.9,250.9 L1664.0,255.4 L1665.2,260.0 L1666.5,264.5 L1667.9,269.0 L1669.3,273.6 L1670.7,278.1 L1672.2,282.6 L1673.7,287.2 L1675.3,291.7 L1676.8,296.2 L1678.4,300.8 L1680.0,305.3 L1681.6,309.8 L1683.2,314.4 L1684.9,318.9 L1686.5,323.4 L1688.1,328.0 L1689.8,332.5 L1691.4,337.0 L1693.0,341.6 L1694.7,346.1 L1696.3,350.6 L1698.0,355.2 L1699.6,359.7 L1701.3,364.2 L1703.0,368.7 L1704.6,373.3 L1706.3,377.8 L1708.0,382.3 L1709.7,386.9 L1711.4,391.4 L1713.1,395.9 L1714.8,400.5 L1716.5,405.0 L1718.2,409.5 L1719.9,414.1 L1721.6,418.6 L1723.3,423.1 L1725.0,427.7 L1726.7,432.2 L1728.5,436.7 L1730.2,441.3 L1731.9,445.8 L1733.7,450.3 L1735.4,454.9 L1737.2,459.4 L1738.9,463.9 L1740.7,468.5 L1742.4,473.0 L1744.2,477.5 L1746.0,482.1 L1748.1,487.5"/><path d="M1666.1,124.0 L1665.4,128.5 L1664.7,133.1 L1664.1,137.6 L1663.5,142.1 L1662.9,146.7 L1662.4,151.2 L1661.9,155.7 L1661.5,160.3 L1661.1,164.8 L1660.8,169.3 L1660.5,173.9 L1660.3,178.4 L1660.2,182.9 L1660.1,187.5 L1660.1,192.0 L1660.1,196.5 L1660.2,201.1 L1660.4,205.6 L1660.7,210.1 L1661.1,214.6 L1661.5,219.2 L1662.1,223.7 L1662.7,228.2 L1663.4,232.8 L1664.2,237.3 L1665.1,241.8 L1666.0,246.4 L1667.1,250.9 L1668.2,255.4 L1669.4,260.0 L1670.7,264.5 L1672.0,269.0 L1673.3,273.6 L1674.7,278.1 L1676.2,282.6 L1677.6,287.2 L1679.1,291.7 L1680.6,296.2 L1682.1,300.8 L1683.6,305.3 L1685.1,309.8 L1686.7,314.4 L1688.2,318.9 L1689.7,323.4 L1691.3,328.0 L1692.8,332.5 L1694.4,337.0 L1695.9,341.6 L1697.5,346.1 L1699.1,350.6 L1700.6,355.2 L1702.2,359.7 L1703.8,364.2 L1705.4,368.7 L1706.9,373.3 L1708.5,377.8 L1710.1,382.3 L1711.7,386.9 L1713.3,391.4 L1714.9,395.9 L1716.5,400.5 L1718.1,405.0 L1719.7,409.5 L1721.4,414.1 L1723.0,418.6 L1724.6,423.1 L1726.2,427.7 L1727.9,432.2 L1729.5,436.7 L1731.1,441.3 L1732.8,445.8 L1734.4,450.3 L1736.1,454.9 L1737.7,459.4 L1739.4,463.9 L1741.1,468.5 L1742.7,473.0 L1744.4,477.5 L1746.1,482.1 L1748.1,487.5"/><path d="M1670.1,124.0 L1669.4,128.5 L1668.7,133.1 L1668.0,137.6 L1667.3,142.1 L1666.7,146.7 L1666.2,151.2 L1665.7,155.7 L1665.2,160.3 L1664.8,164.8 L1664.5,169.3 L1664.2,173.9 L1664.0,178.4 L1663.8,182.9 L1663.7,187.5 L1663.7,192.0 L1663.7,196.5 L1663.9,201.1 L1664.1,205.6 L1664.3,210.1 L1664.7,214.6 L1665.2,219.2 L1665.7,223.7 L1666.3,228.2 L1667.0,232.8 L1667.8,237.3 L1668.7,241.8 L1669.6,246.4 L1670.7,250.9 L1671.8,255.4 L1672.9,260.0 L1674.2,264.5 L1675.4,269.0 L1676.7,273.6 L1678.1,278.1 L1679.5,282.6 L1680.9,287.2 L1682.3,291.7 L1683.7,296.2 L1685.1,300.8 L1686.6,305.3 L1688.0,309.8 L1689.5,314.4 L1691.0,318.9 L1692.4,323.4 L1693.9,328.0 L1695.4,332.5 L1696.9,337.0 L1698.4,341.6 L1699.8,346.1 L1701.3,350.6 L1702.8,355.2 L1704.3,359.7 L1705.8,364.2 L1707.3,368.7 L1708.8,373.3 L1710.4,377.8 L1711.9,382.3 L1713.4,386.9 L1714.9,391.4 L1716.5,395.9 L1718.0,400.5 L1719.5,405.0 L1721.1,409.5 L1722.6,414.1 L1724.1,418.6 L1725.7,423.1 L1727.3,427.7 L1728.8,432.2 L1730.4,436.7 L1731.9,441.3 L1733.5,445.8 L1735.1,450.3 L1736.6,454.9 L1738.2,459.4 L1739.8,463.9 L1741.4,468.5 L1743.0,473.0 L1744.6,477.5 L1746.2,482.1 L1748.1,487.5"/><path d="M1679.5,124.0 L1678.6,128.5 L1677.8,133.1 L1677.0,137.6 L1676.3,142.1 L1675.6,146.7 L1675.0,151.2 L1674.4,155.7 L1673.9,160.3 L1673.5,164.8 L1673.1,169.3 L1672.8,173.9 L1672.5,178.4 L1672.3,182.9 L1672.2,187.5 L1672.1,192.0 L1672.2,196.5 L1672.3,201.1 L1672.5,205.6 L1672.7,210.1 L1673.1,214.6 L1673.5,219.2 L1674.1,223.7 L1674.7,228.2 L1675.4,232.8 L1676.1,237.3 L1677.0,241.8 L1677.9,246.4 L1678.9,250.9 L1679.9,255.4 L1681.0,260.0 L1682.1,264.5 L1683.3,269.0 L1684.5,273.6 L1685.7,278.1 L1686.9,282.6 L1688.2,287.2 L1689.5,291.7 L1690.7,296.2 L1692.0,300.8 L1693.3,305.3 L1694.6,309.8 L1695.9,314.4 L1697.2,318.9 L1698.5,323.4 L1699.8,328.0 L1701.2,332.5 L1702.5,337.0 L1703.8,341.6 L1705.1,346.1 L1706.5,350.6 L1707.8,355.2 L1709.1,359.7 L1710.5,364.2 L1711.8,368.7 L1713.2,373.3 L1714.5,377.8 L1715.9,382.3 L1717.2,386.9 L1718.6,391.4 L1719.9,395.9 L1721.3,400.5 L1722.7,405.0 L1724.0,409.5 L1725.4,414.1 L1726.8,418.6 L1728.2,423.1 L1729.5,427.7 L1730.9,432.2 L1732.3,436.7 L1733.7,441.3 L1735.1,445.8 L1736.5,450.3 L1737.9,454.9 L1739.3,459.4 L1740.7,463.9 L1742.1,468.5 L1743.5,473.0 L1745.0,477.5 L1746.4,482.1 L1748.1,487.5"/><path d="M1684.2,124.0 L1683.2,128.5 L1682.4,133.1 L1681.6,137.6 L1680.8,142.1 L1680.1,146.7 L1679.4,151.2 L1678.8,155.7 L1678.3,160.3 L1677.8,164.8 L1677.4,169.3 L1677.0,173.9 L1676.7,178.4 L1676.5,182.9 L1676.4,187.5 L1676.3,192.0 L1676.4,196.5 L1676.5,201.1 L1676.6,205.6 L1676.9,210.1 L1677.3,214.6 L1677.7,219.2 L1678.2,223.7 L1678.8,228.2 L1679.5,232.8 L1680.2,237.3 L1681.1,241.8 L1681.9,246.4 L1682.9,250.9 L1683.9,255.4 L1684.9,260.0 L1686.0,264.5 L1687.1,269.0 L1688.2,273.6 L1689.4,278.1 L1690.6,282.6 L1691.7,287.2 L1692.9,291.7 L1694.1,296.2 L1695.4,300.8 L1696.6,305.3 L1697.8,309.8 L1699.0,314.4 L1700.2,318.9 L1701.5,323.4 L1702.7,328.0 L1704.0,332.5 L1705.2,337.0 L1706.4,341.6 L1707.7,346.1 L1708.9,350.6 L1710.2,355.2 L1711.5,359.7 L1712.7,364.2 L1714.0,368.7 L1715.2,373.3 L1716.5,377.8 L1717.8,382.3 L1719.1,386.9 L1720.3,391.4 L1721.6,395.9 L1722.9,400.5 L1724.2,405.0 L1725.5,409.5 L1726.8,414.1 L1728.1,418.6 L1729.3,423.1 L1730.7,427.7 L1732.0,432.2 L1733.3,436.7 L1734.6,441.3 L1735.9,445.8 L1737.2,450.3 L1738.5,454.9 L1739.8,459.4 L1741.2,463.9 L1742.5,468.5 L1743.8,473.0 L1745.2,477.5 L1746.5,482.1 L1748.1,487.5"/><path d="M1687.5,124.0 L1686.5,128.5 L1685.6,133.1 L1684.8,137.6 L1684.0,142.1 L1683.3,146.7 L1682.6,151.2 L1681.9,155.7 L1681.4,160.3 L1680.9,164.8 L1680.4,169.3 L1680.1,173.9 L1679.8,178.4 L1679.6,182.9 L1679.4,187.5 L1679.3,192.0 L1679.4,196.5 L1679.5,201.1 L1679.6,205.6 L1679.9,210.1 L1680.2,214.6 L1680.7,219.2 L1681.2,223.7 L1681.8,228.2 L1682.4,232.8 L1683.1,237.3 L1683.9,241.8 L1684.8,246.4 L1685.7,250.9 L1686.7,255.4 L1687.7,260.0 L1688.7,264.5 L1689.8,269.0 L1690.9,273.6 L1692.0,278.1 L1693.1,282.6 L1694.2,287.2 L1695.4,291.7 L1696.5,296.2 L1697.7,300.8 L1698.9,305.3 L1700.0,309.8 L1701.2,314.4 L1702.4,318.9 L1703.6,323.4 L1704.7,328.0 L1705.9,332.5 L1707.1,337.0 L1708.3,341.6 L1709.5,346.1 L1710.7,350.6 L1711.9,355.2 L1713.1,359.7 L1714.3,364.2 L1715.5,368.7 L1716.7,373.3 L1717.9,377.8 L1719.1,382.3 L1720.3,386.9 L1721.6,391.4 L1722.8,395.9 L1724.0,400.5 L1725.2,405.0 L1726.5,409.5 L1727.7,414.1 L1728.9,418.6 L1730.2,423.1 L1731.4,427.7 L1732.7,432.2 L1733.9,436.7 L1735.2,441.3 L1736.4,445.8 L1737.7,450.3 L1738.9,454.9 L1740.2,459.4 L1741.5,463.9 L1742.7,468.5 L1744.0,473.0 L1745.3,477.5 L1746.6,482.1 L1748.1,487.5"/><path d="M1689.1,124.0 L1688.1,128.5 L1687.2,133.1 L1686.3,137.6 L1685.5,142.1 L1684.8,146.7 L1684.1,151.2 L1683.4,155.7 L1682.9,160.3 L1682.4,164.8 L1681.9,169.3 L1681.5,173.9 L1681.2,178.4 L1681.0,182.9 L1680.9,187.5 L1680.8,192.0 L1680.8,196.5 L1680.9,201.1 L1681.1,205.6 L1681.3,210.1 L1681.7,214.6 L1682.1,219.2 L1682.6,223.7 L1683.2,228.2 L1683.8,232.8 L1684.5,237.3 L1685.3,241.8 L1686.2,246.4 L1687.1,250.9 L1688.0,255.4 L1689.0,260.0 L1690.0,264.5 L1691.1,269.0 L1692.1,273.6 L1693.2,278.1 L1694.3,282.6 L1695.4,287.2 L1696.5,291.7 L1697.7,296.2 L1698.8,300.8 L1699.9,305.3 L1701.1,309.8 L1702.2,314.4 L1703.4,318.9 L1704.5,323.4 L1705.7,328.0 L1706.9,332.5 L1708.0,337.0 L1709.2,341.6 L1710.3,346.1 L1711.5,350.6 L1712.7,355.2 L1713.9,359.7 L1715.0,364.2 L1716.2,368.7 L1717.4,373.3 L1718.6,377.8 L1719.8,382.3 L1721.0,386.9 L1722.2,391.4 L1723.4,395.9 L1724.6,400.5 L1725.8,405.0 L1727.0,409.5 L1728.2,414.1 L1729.4,418.6 L1730.6,423.1 L1731.8,427.7 L1733.0,432.2 L1734.2,436.7 L1735.5,441.3 L1736.7,445.8 L1737.9,450.3 L1739.1,454.9 L1740.4,459.4 L1741.6,463.9 L1742.9,468.5 L1744.1,473.0 L1745.3,477.5 L1746.6,482.1 L1748.1,487.5"/><path d="M1690.8,124.0 L1689.8,128.5 L1688.9,133.1 L1688.0,137.6 L1687.2,142.1 L1686.4,146.7 L1685.7,151.2 L1685.1,155.7 L1684.5,160.3 L1684.0,164.8 L1683.5,169.3 L1683.1,173.9 L1682.8,178.4 L1682.6,182.9 L1682.4,187.5 L1682.3,192.0 L1682.3,196.5 L1682.4,201.1 L1682.6,205.6 L1682.9,210.1 L1683.2,214.6 L1683.6,219.2 L1684.1,223.7 L1684.7,228.2 L1685.3,232.8 L1686.0,237.3 L1686.8,241.8 L1687.6,246.4 L1688.5,250.9 L1689.5,255.4 L1690.4,260.0 L1691.4,264.5 L1692.4,269.0 L1693.5,273.6 L1694.5,278.1 L1695.6,282.6 L1696.7,287.2 L1697.8,291.7 L1698.9,296.2 L1700.0,300.8 L1701.1,305.3 L1702.2,309.8 L1703.4,314.4 L1704.5,318.9 L1705.6,323.4 L1706.7,328.0 L1707.9,332.5 L1709.0,337.0 L1710.1,341.6 L1711.3,346.1 L1712.4,350.6 L1713.6,355.2 L1714.7,359.7 L1715.8,364.2 L1717.0,368.7 L1718.1,373.3 L1719.3,377.8 L1720.5,382.3 L1721.6,386.9 L1722.8,391.4 L1724.0,395.9 L1725.1,400.5 L1726.3,405.0 L1727.5,409.5 L1728.7,414.1 L1729.8,418.6 L1731.0,423.1 L1732.2,427.7 L1733.4,432.2 L1734.6,436.7 L1735.8,441.3 L1737.0,445.8 L1738.2,450.3 L1739.4,454.9 L1740.6,459.4 L1741.8,463.9 L1743.0,468.5 L1744.2,473.0 L1745.4,477.5 L1746.6,482.1 L1748.1,487.5"/><path d="M1698.2,124.0 L1697.1,128.5 L1696.1,133.1 L1695.1,137.6 L1694.3,142.1 L1693.4,146.7 L1692.6,151.2 L1691.9,155.7 L1691.3,160.3 L1690.7,164.8 L1690.2,169.3 L1689.8,173.9 L1689.5,178.4 L1689.2,182.9 L1689.0,187.5 L1688.9,192.0 L1688.9,196.5 L1689.0,201.1 L1689.1,205.6 L1689.4,210.1 L1689.7,214.6 L1690.1,219.2 L1690.5,223.7 L1691.1,228.2 L1691.7,232.8 L1692.3,237.3 L1693.1,241.8 L1693.8,246.4 L1694.6,250.9 L1695.5,255.4 L1696.4,260.0 L1697.3,264.5 L1698.2,269.0 L1699.1,273.6 L1700.1,278.1 L1701.1,282.6 L1702.0,287.2 L1703.0,291.7 L1704.0,296.2 L1705.0,300.8 L1706.0,305.3 L1707.0,309.8 L1708.0,314.4 L1709.0,318.9 L1710.0,323.4 L1711.0,328.0 L1712.1,332.5 L1713.1,337.0 L1714.1,341.6 L1715.1,346.1 L1716.1,350.6 L1717.2,355.2 L1718.2,359.7 L1719.2,364.2 L1720.2,368.7 L1721.3,373.3 L1722.3,377.8 L1723.4,382.3 L1724.4,386.9 L1725.4,391.4 L1726.5,395.9 L1727.5,400.5 L1728.6,405.0 L1729.6,409.5 L1730.7,414.1 L1731.7,418.6 L1732.8,423.1 L1733.9,427.7 L1734.9,432.2 L1736.0,436.7 L1737.1,441.3 L1738.1,445.8 L1739.2,450.3 L1740.3,454.9 L1741.4,459.4 L1742.4,463.9 L1743.5,468.5 L1744.6,473.0 L1745.7,477.5 L1746.8,482.1 L1748.1,487.5"/><path d="M1706.2,124.0 L1705.0,128.5 L1703.9,133.1 L1702.9,137.6 L1701.9,142.1 L1701.0,146.7 L1700.2,151.2 L1699.4,155.7 L1698.8,160.3 L1698.1,164.8 L1697.6,169.3 L1697.1,173.9 L1696.8,178.4 L1696.5,182.9 L1696.2,187.5 L1696.1,192.0 L1696.1,196.5 L1696.1,201.1 L1696.2,205.6 L1696.4,210.1 L1696.7,214.6 L1697.1,219.2 L1697.5,223.7 L1698.0,228.2 L1698.5,232.8 L1699.1,237.3 L1699.8,241.8 L1700.4,246.4 L1701.2,250.9 L1701.9,255.4 L1702.7,260.0 L1703.5,264.5 L1704.3,269.0 L1705.2,273.6 L1706.0,278.1 L1706.9,282.6 L1707.7,287.2 L1708.6,291.7 L1709.5,296.2 L1710.3,300.8 L1711.2,305.3 L1712.1,309.8 L1713.0,314.4 L1713.9,318.9 L1714.7,323.4 L1715.6,328.0 L1716.5,332.5 L1717.4,337.0 L1718.3,341.6 L1719.2,346.1 L1720.1,350.6 L1721.0,355.2 L1721.9,359.7 L1722.8,364.2 L1723.7,368.7 L1724.6,373.3 L1725.5,377.8 L1726.4,382.3 L1727.3,386.9 L1728.3,391.4 L1729.2,395.9 L1730.1,400.5 L1731.0,405.0 L1731.9,409.5 L1732.9,414.1 L1733.8,418.6 L1734.7,423.1 L1735.6,427.7 L1736.6,432.2 L1737.5,436.7 L1738.4,441.3 L1739.4,445.8 L1740.3,450.3 L1741.3,454.9 L1742.2,459.4 L1743.1,463.9 L1744.1,468.5 L1745.0,473.0 L1746.0,477.5 L1746.9,482.1 L1748.1,487.5"/><path d="M1733.2,124.0 L1731.8,128.5 L1730.4,133.1 L1729.1,137.6 L1727.9,142.1 L1726.8,146.7 L1725.7,151.2 L1724.8,155.7 L1723.9,160.3 L1723.1,164.8 L1722.4,169.3 L1721.8,173.9 L1721.3,178.4 L1720.9,182.9 L1720.5,187.5 L1720.3,192.0 L1720.1,196.5 L1720.0,201.1 L1720.0,205.6 L1720.0,210.1 L1720.1,214.6 L1720.3,219.2 L1720.5,223.7 L1720.8,228.2 L1721.1,232.8 L1721.4,237.3 L1721.8,241.8 L1722.2,246.4 L1722.6,250.9 L1723.0,255.4 L1723.5,260.0 L1723.9,264.5 L1724.4,269.0 L1724.8,273.6 L1725.3,278.1 L1725.8,282.6 L1726.2,287.2 L1726.7,291.7 L1727.2,296.2 L1727.7,300.8 L1728.1,305.3 L1728.6,309.8 L1729.1,314.4 L1729.6,318.9 L1730.1,323.4 L1730.6,328.0 L1731.0,332.5 L1731.5,337.0 L1732.0,341.6 L1732.5,346.1 L1733.0,350.6 L1733.5,355.2 L1734.0,359.7 L1734.5,364.2 L1734.9,368.7 L1735.4,373.3 L1735.9,377.8 L1736.4,382.3 L1736.9,386.9 L1737.4,391.4 L1737.9,395.9 L1738.4,400.5 L1738.9,405.0 L1739.4,409.5 L1739.9,414.1 L1740.4,418.6 L1740.9,423.1 L1741.4,427.7 L1741.9,432.2 L1742.4,436.7 L1742.9,441.3 L1743.4,445.8 L1743.9,450.3 L1744.4,454.9 L1744.9,459.4 L1745.4,463.9 L1745.9,468.5 L1746.5,473.0 L1747.0,477.5 L1747.5,482.1 L1748.1,487.5"/><path d="M1734.9,124.0 L1733.4,128.5 L1732.0,133.1 L1730.7,137.6 L1729.5,142.1 L1728.4,146.7 L1727.3,151.2 L1726.3,155.7 L1725.4,160.3 L1724.6,164.8 L1723.9,169.3 L1723.3,173.9 L1722.8,178.4 L1722.3,182.9 L1722.0,187.5 L1721.7,192.0 L1721.5,196.5 L1721.4,201.1 L1721.4,205.6 L1721.4,210.1 L1721.5,214.6 L1721.7,219.2 L1721.9,223.7 L1722.1,228.2 L1722.4,232.8 L1722.7,237.3 L1723.1,241.8 L1723.5,246.4 L1723.9,250.9 L1724.3,255.4 L1724.7,260.0 L1725.1,264.5 L1725.5,269.0 L1726.0,273.6 L1726.4,278.1 L1726.9,282.6 L1727.3,287.2 L1727.8,291.7 L1728.2,296.2 L1728.7,300.8 L1729.1,305.3 L1729.6,309.8 L1730.1,314.4 L1730.5,318.9 L1731.0,323.4 L1731.4,328.0 L1731.9,332.5 L1732.4,337.0 L1732.8,341.6 L1733.3,346.1 L1733.7,350.6 L1734.2,355.2 L1734.7,359.7 L1735.1,364.2 L1735.6,368.7 L1736.1,373.3 L1736.5,377.8 L1737.0,382.3 L1737.5,386.9 L1737.9,391.4 L1738.4,395.9 L1738.9,400.5 L1739.4,405.0 L1739.8,409.5 L1740.3,414.1 L1740.8,418.6 L1741.3,423.1 L1741.7,427.7 L1742.2,432.2 L1742.7,436.7 L1743.2,441.3 L1743.6,445.8 L1744.1,450.3 L1744.6,454.9 L1745.1,459.4 L1745.6,463.9 L1746.1,468.5 L1746.5,473.0 L1747.0,477.5 L1747.5,482.1 L1748.1,487.5"/><path d="M1746.9,124.0 L1745.3,128.5 L1743.8,133.1 L1742.4,137.6 L1741.0,142.1 L1739.8,146.7 L1738.6,151.2 L1737.6,155.7 L1736.6,160.3 L1735.7,164.8 L1734.9,169.3 L1734.2,173.9 L1733.6,178.4 L1733.1,182.9 L1732.7,187.5 L1732.4,192.0 L1732.1,196.5 L1731.9,201.1 L1731.8,205.6 L1731.7,210.1 L1731.7,214.6 L1731.8,219.2 L1731.9,223.7 L1732.0,228.2 L1732.2,232.8 L1732.4,237.3 L1732.6,241.8 L1732.8,246.4 L1733.1,250.9 L1733.3,255.4 L1733.6,260.0 L1733.8,264.5 L1734.1,269.0 L1734.4,273.6 L1734.7,278.1 L1735.0,282.6 L1735.2,287.2 L1735.5,291.7 L1735.8,296.2 L1736.1,300.8 L1736.4,305.3 L1736.7,309.8 L1737.0,314.4 L1737.2,318.9 L1737.5,323.4 L1737.8,328.0 L1738.1,332.5 L1738.4,337.0 L1738.7,341.6 L1739.0,346.1 L1739.3,350.6 L1739.5,355.2 L1739.8,359.7 L1740.1,364.2 L1740.4,368.7 L1740.7,373.3 L1741.0,377.8 L1741.3,382.3 L1741.6,386.9 L1741.9,391.4 L1742.2,395.9 L1742.4,400.5 L1742.7,405.0 L1743.0,409.5 L1743.3,414.1 L1743.6,418.6 L1743.9,423.1 L1744.2,427.7 L1744.5,432.2 L1744.8,436.7 L1745.1,441.3 L1745.4,445.8 L1745.7,450.3 L1746.0,454.9 L1746.3,459.4 L1746.6,463.9 L1746.8,468.5 L1747.1,473.0 L1747.4,477.5 L1747.7,482.1 L1748.1,487.5"/></g>
<g clip-path="url(#c_s2)" fill="none" stroke="url(#g_s2)" stroke-width="3.0" stroke-linejoin="round"><path d="M1457.2,124.0 L1524.3,305.8 L1453.9,487.5"/><path d="M1459.2,124.0 L1525.3,305.8 L1454.1,487.5"/><path d="M1486.9,124.0 L1539.9,305.8 L1458.7,487.5"/><path d="M1488.6,124.0 L1540.8,305.8 L1459.2,487.5"/><path d="M1495.6,124.0 L1544.6,305.8 L1461.2,487.5"/><path d="M1496.8,124.0 L1545.2,305.8 L1461.6,487.5"/><path d="M1499.0,124.0 L1546.3,305.8 L1462.3,487.5"/><path d="M1514.6,124.0 L1554.6,305.8 L1469.4,487.5"/><path d="M1516.7,124.0 L1555.7,305.8 L1470.6,487.5"/><path d="M1523.9,124.0 L1559.5,305.8 L1475.3,487.5"/><path d="M1526.0,124.0 L1560.6,305.8 L1476.8,487.5"/><path d="M1543.3,124.0 L1569.8,305.8 L1493.4,487.5"/><path d="M1549.0,124.0 L1572.8,305.8 L1500.4,487.5"/><path d="M1553.0,124.0 L1574.9,305.8 L1505.9,487.5"/><path d="M1557.0,124.0 L1577.0,305.8 L1511.8,487.5"/><path d="M1560.7,124.0 L1578.9,305.8 L1517.8,487.5"/><path d="M1567.4,124.0 L1582.5,305.8 L1529.4,487.5"/><path d="M1569.0,124.0 L1583.4,305.8 L1532.6,487.5"/><path d="M1571.2,124.0 L1584.5,305.8 L1536.7,487.5"/><path d="M1579.4,124.0 L1588.8,305.8 L1553.5,487.5"/><path d="M1580.9,124.0 L1589.6,305.8 L1556.8,487.5"/><path d="M1581.4,124.0 L1589.9,305.8 L1557.8,487.5"/><path d="M1584.8,124.0 L1591.7,305.8 L1565.4,487.5"/><path d="M1586.7,124.0 L1592.7,305.8 L1569.7,487.5"/><path d="M1589.3,124.0 L1594.1,305.8 L1575.8,487.5"/><path d="M1590.7,124.0 L1594.8,305.8 L1579.0,487.5"/><path d="M1594.1,124.0 L1596.6,305.8 L1586.8,487.5"/><path d="M1597.4,124.0 L1598.3,305.8 L1594.7,487.5"/><path d="M1597.9,124.0 L1598.6,305.8 L1595.9,487.5"/><path d="M1600.6,124.0 L1600.0,305.8 L1602.2,487.5"/><path d="M1601.0,124.0 L1600.2,305.8 L1603.2,487.5"/><path d="M1601.4,124.0 L1600.5,305.8 L1604.1,487.5"/><path d="M1605.4,124.0 L1602.6,305.8 L1613.6,487.5"/><path d="M1607.3,124.0 L1603.6,305.8 L1618.1,487.5"/><path d="M1608.7,124.0 L1604.3,305.8 L1621.4,487.5"/><path d="M1613.4,124.0 L1606.8,305.8 L1632.1,487.5"/><path d="M1617.4,124.0 L1608.9,305.8 L1641.0,487.5"/><path d="M1635.0,124.0 L1618.2,305.8 L1675.8,487.5"/><path d="M1636.8,124.0 L1619.2,305.8 L1678.8,487.5"/><path d="M1647.5,124.0 L1624.8,305.8 L1695.2,487.5"/><path d="M1649.2,124.0 L1625.7,305.8 L1697.6,487.5"/><path d="M1657.5,124.0 L1630.1,305.8 L1707.7,487.5"/><path d="M1658.8,124.0 L1630.8,305.8 L1709.2,487.5"/><path d="M1659.3,124.0 L1631.1,305.8 L1709.8,487.5"/><path d="M1661.5,124.0 L1632.2,305.8 L1712.0,487.5"/><path d="M1666.1,124.0 L1634.7,305.8 L1716.4,487.5"/><path d="M1670.1,124.0 L1636.8,305.8 L1719.9,487.5"/><path d="M1679.5,124.0 L1641.7,305.8 L1726.6,487.5"/><path d="M1684.2,124.0 L1644.2,305.8 L1729.4,487.5"/><path d="M1687.5,124.0 L1646.0,305.8 L1731.2,487.5"/><path d="M1689.1,124.0 L1646.8,305.8 L1732.0,487.5"/><path d="M1690.8,124.0 L1647.7,305.8 L1732.8,487.5"/><path d="M1698.2,124.0 L1651.6,305.8 L1735.9,487.5"/><path d="M1706.2,124.0 L1655.8,305.8 L1738.5,487.5"/><path d="M1733.2,124.0 L1670.1,305.8 L1744.0,487.5"/><path d="M1734.9,124.0 L1671.0,305.8 L1744.2,487.5"/><path d="M1746.9,124.0 L1677.4,305.8 L1745.4,487.5"/></g>
<g clip-path="url(#c_s1)" fill="none" stroke="#cacaca" stroke-width="3.0"><path d="M1824.9,124.0 L1826.5,128.5 L1827.9,133.1 L1829.3,137.6 L1830.6,142.1 L1831.8,146.7 L1832.9,151.2 L1833.9,155.7 L1834.9,160.3 L1835.7,164.8 L1836.5,169.3 L1837.1,173.9 L1837.7,178.4 L1838.2,182.9 L1838.6,187.5 L1838.9,192.0 L1839.1,196.5 L1839.2,201.1 L1839.3,205.6 L1839.3,210.1 L1839.3,214.6 L1839.2,219.2 L1839.1,223.7 L1838.9,228.2 L1838.6,232.8 L1838.4,237.3 L1838.1,241.8 L1837.8,246.4 L1837.5,250.9 L1837.2,255.4 L1836.9,260.0 L1836.5,264.5 L1836.2,269.0 L1835.8,273.6 L1835.5,278.1 L1835.1,282.6 L1834.8,287.2 L1834.4,291.7 L1834.0,296.2 L1833.7,300.8 L1833.3,305.3 L1833.0,309.8 L1832.6,314.4 L1832.2,318.9 L1831.9,323.4 L1831.5,328.0 L1831.1,332.5 L1830.8,337.0 L1830.4,341.6 L1830.1,346.1 L1829.7,350.6 L1829.3,355.2 L1829.0,359.7 L1828.6,364.2 L1828.2,368.7 L1827.8,373.3 L1827.5,377.8 L1827.1,382.3 L1826.7,386.9 L1826.4,391.4 L1826.0,395.9 L1825.6,400.5 L1825.3,405.0 L1824.9,409.5 L1824.5,414.1 L1824.1,418.6 L1823.8,423.1 L1823.4,427.7 L1823.0,432.2 L1822.6,436.7 L1822.3,441.3 L1821.9,445.8 L1821.5,450.3 L1821.1,454.9 L1820.8,459.4 L1820.4,463.9 L1820.0,468.5 L1819.6,473.0 L1819.2,477.5 L1818.9,482.1 L1818.4,487.5"/><path d="M1826.9,124.0 L1828.5,128.5 L1829.9,133.1 L1831.2,137.6 L1832.5,142.1 L1833.7,146.7 L1834.8,151.2 L1835.8,155.7 L1836.7,160.3 L1837.6,164.8 L1838.3,169.3 L1838.9,173.9 L1839.5,178.4 L1840.0,182.9 L1840.3,187.5 L1840.6,192.0 L1840.9,196.5 L1841.0,201.1 L1841.1,205.6 L1841.1,210.1 L1841.0,214.6 L1840.9,219.2 L1840.7,223.7 L1840.5,228.2 L1840.3,232.8 L1840.0,237.3 L1839.7,241.8 L1839.4,246.4 L1839.1,250.9 L1838.7,255.4 L1838.3,260.0 L1838.0,264.5 L1837.6,269.0 L1837.2,273.6 L1836.8,278.1 L1836.5,282.6 L1836.1,287.2 L1835.7,291.7 L1835.3,296.2 L1834.9,300.8 L1834.5,305.3 L1834.1,309.8 L1833.7,314.4 L1833.4,318.9 L1833.0,323.4 L1832.6,328.0 L1832.2,332.5 L1831.8,337.0 L1831.4,341.6 L1831.0,346.1 L1830.6,350.6 L1830.2,355.2 L1829.8,359.7 L1829.4,364.2 L1829.0,368.7 L1828.6,373.3 L1828.2,377.8 L1827.8,382.3 L1827.4,386.9 L1827.0,391.4 L1826.6,395.9 L1826.2,400.5 L1825.8,405.0 L1825.4,409.5 L1825.0,414.1 L1824.6,418.6 L1824.2,423.1 L1823.8,427.7 L1823.4,432.2 L1823.0,436.7 L1822.6,441.3 L1822.2,445.8 L1821.8,450.3 L1821.4,454.9 L1821.0,459.4 L1820.5,463.9 L1820.1,468.5 L1819.7,473.0 L1819.3,477.5 L1818.9,482.1 L1818.4,487.5"/><path d="M1854.6,124.0 L1855.8,128.5 L1856.9,133.1 L1858.0,137.6 L1859.0,142.1 L1860.0,146.7 L1860.9,151.2 L1861.7,155.7 L1862.4,160.3 L1863.0,164.8 L1863.6,169.3 L1864.1,173.9 L1864.5,178.4 L1864.8,182.9 L1865.1,187.5 L1865.2,192.0 L1865.3,196.5 L1865.3,201.1 L1865.2,205.6 L1865.0,210.1 L1864.8,214.6 L1864.5,219.2 L1864.1,223.7 L1863.6,228.2 L1863.1,232.8 L1862.6,237.3 L1862.0,241.8 L1861.3,246.4 L1860.7,250.9 L1860.0,255.4 L1859.3,260.0 L1858.5,264.5 L1857.8,269.0 L1857.0,273.6 L1856.3,278.1 L1855.5,282.6 L1854.7,287.2 L1854.0,291.7 L1853.2,296.2 L1852.4,300.8 L1851.6,305.3 L1850.8,309.8 L1850.0,314.4 L1849.2,318.9 L1848.4,323.4 L1847.6,328.0 L1846.8,332.5 L1846.0,337.0 L1845.2,341.6 L1844.4,346.1 L1843.6,350.6 L1842.8,355.2 L1842.0,359.7 L1841.2,364.2 L1840.4,368.7 L1839.5,373.3 L1838.7,377.8 L1837.9,382.3 L1837.1,386.9 L1836.3,391.4 L1835.4,395.9 L1834.6,400.5 L1833.8,405.0 L1832.9,409.5 L1832.1,414.1 L1831.3,418.6 L1830.4,423.1 L1829.6,427.7 L1828.8,432.2 L1827.9,436.7 L1827.1,441.3 L1826.2,445.8 L1825.4,450.3 L1824.6,454.9 L1823.7,459.4 L1822.9,463.9 L1822.0,468.5 L1821.1,473.0 L1820.3,477.5 L1819.4,482.1 L1818.4,487.5"/><path d="M1856.3,124.0 L1857.5,128.5 L1858.6,133.1 L1859.7,137.6 L1860.7,142.1 L1861.6,146.7 L1862.5,151.2 L1863.3,155.7 L1864.0,160.3 L1864.7,164.8 L1865.2,169.3 L1865.7,173.9 L1866.1,178.4 L1866.4,182.9 L1866.7,187.5 L1866.8,192.0 L1866.9,196.5 L1866.8,201.1 L1866.7,205.6 L1866.6,210.1 L1866.3,214.6 L1866.0,219.2 L1865.6,223.7 L1865.1,228.2 L1864.6,232.8 L1864.0,237.3 L1863.4,241.8 L1862.8,246.4 L1862.1,250.9 L1861.4,255.4 L1860.6,260.0 L1859.9,264.5 L1859.1,269.0 L1858.3,273.6 L1857.6,278.1 L1856.8,282.6 L1856.0,287.2 L1855.1,291.7 L1854.3,296.2 L1853.5,300.8 L1852.7,305.3 L1851.9,309.8 L1851.1,314.4 L1850.3,318.9 L1849.4,323.4 L1848.6,328.0 L1847.8,332.5 L1846.9,337.0 L1846.1,341.6 L1845.3,346.1 L1844.4,350.6 L1843.6,355.2 L1842.8,359.7 L1841.9,364.2 L1841.1,368.7 L1840.2,373.3 L1839.4,377.8 L1838.6,382.3 L1837.7,386.9 L1836.9,391.4 L1836.0,395.9 L1835.2,400.5 L1834.3,405.0 L1833.4,409.5 L1832.6,414.1 L1831.7,418.6 L1830.9,423.1 L1830.0,427.7 L1829.1,432.2 L1828.3,436.7 L1827.4,441.3 L1826.5,445.8 L1825.6,450.3 L1824.8,454.9 L1823.9,459.4 L1823.0,463.9 L1822.1,468.5 L1821.2,473.0 L1820.4,477.5 L1819.5,482.1 L1818.4,487.5"/><path d="M1863.3,124.0 L1864.4,128.5 L1865.5,133.1 L1866.5,137.6 L1867.4,142.1 L1868.3,146.7 L1869.1,151.2 L1869.9,155.7 L1870.5,160.3 L1871.1,164.8 L1871.7,169.3 L1872.1,173.9 L1872.5,178.4 L1872.8,182.9 L1873.0,187.5 L1873.1,192.0 L1873.1,196.5 L1873.1,201.1 L1872.9,205.6 L1872.7,210.1 L1872.4,214.6 L1872.1,219.2 L1871.6,223.7 L1871.1,228.2 L1870.5,232.8 L1869.9,237.3 L1869.2,241.8 L1868.5,246.4 L1867.8,250.9 L1867.0,255.4 L1866.2,260.0 L1865.3,264.5 L1864.4,269.0 L1863.6,273.6 L1862.7,278.1 L1861.8,282.6 L1860.9,287.2 L1860.0,291.7 L1859.1,296.2 L1858.1,300.8 L1857.2,305.3 L1856.3,309.8 L1855.4,314.4 L1854.4,318.9 L1853.5,323.4 L1852.6,328.0 L1851.6,332.5 L1850.7,337.0 L1849.8,341.6 L1848.8,346.1 L1847.9,350.6 L1846.9,355.2 L1846.0,359.7 L1845.0,364.2 L1844.1,368.7 L1843.1,373.3 L1842.2,377.8 L1841.2,382.3 L1840.3,386.9 L1839.3,391.4 L1838.3,395.9 L1837.4,400.5 L1836.4,405.0 L1835.4,409.5 L1834.5,414.1 L1833.5,418.6 L1832.5,423.1 L1831.5,427.7 L1830.5,432.2 L1829.6,436.7 L1828.6,441.3 L1827.6,445.8 L1826.6,450.3 L1825.6,454.9 L1824.6,459.4 L1823.6,463.9 L1822.6,468.5 L1821.6,473.0 L1820.6,477.5 L1819.6,482.1 L1818.4,487.5"/><path d="M1864.5,124.0 L1865.6,128.5 L1866.7,133.1 L1867.6,137.6 L1868.6,142.1 L1869.4,146.7 L1870.2,151.2 L1871.0,155.7 L1871.6,160.3 L1872.2,164.8 L1872.7,169.3 L1873.2,173.9 L1873.5,178.4 L1873.8,182.9 L1874.0,187.5 L1874.1,192.0 L1874.2,196.5 L1874.1,201.1 L1874.0,205.6 L1873.8,210.1 L1873.5,214.6 L1873.1,219.2 L1872.6,223.7 L1872.1,228.2 L1871.5,232.8 L1870.9,237.3 L1870.2,241.8 L1869.5,246.4 L1868.7,250.9 L1867.9,255.4 L1867.1,260.0 L1866.2,264.5 L1865.3,269.0 L1864.5,273.6 L1863.6,278.1 L1862.6,282.6 L1861.7,287.2 L1860.8,291.7 L1859.9,296.2 L1858.9,300.8 L1858.0,305.3 L1857.0,309.8 L1856.1,314.4 L1855.1,318.9 L1854.2,323.4 L1853.2,328.0 L1852.3,332.5 L1851.3,337.0 L1850.4,341.6 L1849.4,346.1 L1848.5,350.6 L1847.5,355.2 L1846.5,359.7 L1845.6,364.2 L1844.6,368.7 L1843.6,373.3 L1842.6,377.8 L1841.7,382.3 L1840.7,386.9 L1839.7,391.4 L1838.7,395.9 L1837.7,400.5 L1836.8,405.0 L1835.8,409.5 L1834.8,414.1 L1833.8,418.6 L1832.8,423.1 L1831.8,427.7 L1830.8,432.2 L1829.8,436.7 L1828.8,441.3 L1827.8,445.8 L1826.8,450.3 L1825.7,454.9 L1824.7,459.4 L1823.7,463.9 L1822.7,468.5 L1821.7,473.0 L1820.7,477.5 L1819.6,482.1 L1818.4,487.5"/><path d="M1866.7,124.0 L1867.7,128.5 L1868.8,133.1 L1869.7,137.6 L1870.6,142.1 L1871.5,146.7 L1872.3,151.2 L1873.0,155.7 L1873.6,160.3 L1874.2,164.8 L1874.7,169.3 L1875.1,173.9 L1875.5,178.4 L1875.8,182.9 L1876.0,187.5 L1876.1,192.0 L1876.1,196.5 L1876.0,201.1 L1875.9,205.6 L1875.7,210.1 L1875.4,214.6 L1875.0,219.2 L1874.5,223.7 L1874.0,228.2 L1873.4,232.8 L1872.7,237.3 L1872.0,241.8 L1871.3,246.4 L1870.5,250.9 L1869.7,255.4 L1868.8,260.0 L1867.9,264.5 L1867.0,269.0 L1866.1,273.6 L1865.2,278.1 L1864.2,282.6 L1863.3,287.2 L1862.3,291.7 L1861.3,296.2 L1860.4,300.8 L1859.4,305.3 L1858.4,309.8 L1857.4,314.4 L1856.5,318.9 L1855.5,323.4 L1854.5,328.0 L1853.5,332.5 L1852.5,337.0 L1851.5,341.6 L1850.5,346.1 L1849.5,350.6 L1848.5,355.2 L1847.5,359.7 L1846.5,364.2 L1845.5,368.7 L1844.5,373.3 L1843.5,377.8 L1842.5,382.3 L1841.5,386.9 L1840.5,391.4 L1839.5,395.9 L1838.4,400.5 L1837.4,405.0 L1836.4,409.5 L1835.4,414.1 L1834.3,418.6 L1833.3,423.1 L1832.3,427.7 L1831.2,432.2 L1830.2,436.7 L1829.1,441.3 L1828.1,445.8 L1827.1,450.3 L1826.0,454.9 L1825.0,459.4 L1823.9,463.9 L1822.9,468.5 L1821.8,473.0 L1820.7,477.5 L1819.7,482.1 L1818.4,487.5"/><path d="M1882.3,124.0 L1883.3,128.5 L1884.1,133.1 L1884.9,137.6 L1885.7,142.1 L1886.4,146.7 L1887.1,151.2 L1887.7,155.7 L1888.2,160.3 L1888.7,164.8 L1889.1,169.3 L1889.5,173.9 L1889.8,178.4 L1890.0,182.9 L1890.1,187.5 L1890.2,192.0 L1890.1,196.5 L1890.0,201.1 L1889.9,205.6 L1889.6,210.1 L1889.2,214.6 L1888.8,219.2 L1888.3,223.7 L1887.7,228.2 L1887.0,232.8 L1886.3,237.3 L1885.4,241.8 L1884.6,246.4 L1883.6,250.9 L1882.6,255.4 L1881.6,260.0 L1880.5,264.5 L1879.4,269.0 L1878.3,273.6 L1877.1,278.1 L1875.9,282.6 L1874.8,287.2 L1873.6,291.7 L1872.4,296.2 L1871.1,300.8 L1869.9,305.3 L1868.7,309.8 L1867.5,314.4 L1866.3,318.9 L1865.0,323.4 L1863.8,328.0 L1862.5,332.5 L1861.3,337.0 L1860.1,341.6 L1858.8,346.1 L1857.6,350.6 L1856.3,355.2 L1855.0,359.7 L1853.8,364.2 L1852.5,368.7 L1851.3,373.3 L1850.0,377.8 L1848.7,382.3 L1847.4,386.9 L1846.2,391.4 L1844.9,395.9 L1843.6,400.5 L1842.3,405.0 L1841.0,409.5 L1839.7,414.1 L1838.4,418.6 L1837.2,423.1 L1835.8,427.7 L1834.5,432.2 L1833.2,436.7 L1831.9,441.3 L1830.6,445.8 L1829.3,450.3 L1828.0,454.9 L1826.7,459.4 L1825.3,463.9 L1824.0,468.5 L1822.7,473.0 L1821.3,477.5 L1820.0,482.1 L1818.4,487.5"/><path d="M1884.4,124.0 L1885.3,128.5 L1886.1,133.1 L1886.9,137.6 L1887.7,142.1 L1888.4,146.7 L1889.0,151.2 L1889.6,155.7 L1890.1,160.3 L1890.6,164.8 L1891.0,169.3 L1891.4,173.9 L1891.6,178.4 L1891.8,182.9 L1892.0,187.5 L1892.0,192.0 L1892.0,196.5 L1891.9,201.1 L1891.7,205.6 L1891.4,210.1 L1891.1,214.6 L1890.6,219.2 L1890.1,223.7 L1889.5,228.2 L1888.8,232.8 L1888.1,237.3 L1887.2,241.8 L1886.3,246.4 L1885.4,250.9 L1884.4,255.4 L1883.3,260.0 L1882.2,264.5 L1881.1,269.0 L1879.9,273.6 L1878.7,278.1 L1877.5,282.6 L1876.3,287.2 L1875.1,291.7 L1873.9,296.2 L1872.6,300.8 L1871.4,305.3 L1870.1,309.8 L1868.8,314.4 L1867.6,318.9 L1866.3,323.4 L1865.0,328.0 L1863.8,332.5 L1862.5,337.0 L1861.2,341.6 L1859.9,346.1 L1858.7,350.6 L1857.4,355.2 L1856.1,359.7 L1854.8,364.2 L1853.5,368.7 L1852.2,373.3 L1850.9,377.8 L1849.6,382.3 L1848.3,386.9 L1846.9,391.4 L1845.6,395.9 L1844.3,400.5 L1843.0,405.0 L1841.7,409.5 L1840.3,414.1 L1839.0,418.6 L1837.7,423.1 L1836.3,427.7 L1835.0,432.2 L1833.7,436.7 L1832.3,441.3 L1831.0,445.8 L1829.6,450.3 L1828.3,454.9 L1826.9,459.4 L1825.5,463.9 L1824.2,468.5 L1822.8,473.0 L1821.4,477.5 L1820.1,482.1 L1818.4,487.5"/><path d="M1891.6,124.0 L1892.4,128.5 L1893.2,133.1 L1893.9,137.6 L1894.6,142.1 L1895.2,146.7 L1895.8,151.2 L1896.3,155.7 L1896.8,160.3 L1897.2,164.8 L1897.6,169.3 L1897.9,173.9 L1898.2,178.4 L1898.3,182.9 L1898.4,187.5 L1898.5,192.0 L1898.4,196.5 L1898.3,201.1 L1898.1,205.6 L1897.8,210.1 L1897.5,214.6 L1897.0,219.2 L1896.5,223.7 L1895.9,228.2 L1895.2,232.8 L1894.4,237.3 L1893.5,241.8 L1892.6,246.4 L1891.6,250.9 L1890.5,255.4 L1889.4,260.0 L1888.2,264.5 L1887.0,269.0 L1885.8,273.6 L1884.5,278.1 L1883.2,282.6 L1881.8,287.2 L1880.5,291.7 L1879.2,296.2 L1877.8,300.8 L1876.4,305.3 L1875.1,309.8 L1873.7,314.4 L1872.3,318.9 L1870.9,323.4 L1869.5,328.0 L1868.1,332.5 L1866.7,337.0 L1865.3,341.6 L1863.9,346.1 L1862.5,350.6 L1861.1,355.2 L1859.7,359.7 L1858.3,364.2 L1856.8,368.7 L1855.4,373.3 L1854.0,377.8 L1852.6,382.3 L1851.1,386.9 L1849.7,391.4 L1848.2,395.9 L1846.8,400.5 L1845.4,405.0 L1843.9,409.5 L1842.4,414.1 L1841.0,418.6 L1839.5,423.1 L1838.1,427.7 L1836.6,432.2 L1835.1,436.7 L1833.6,441.3 L1832.2,445.8 L1830.7,450.3 L1829.2,454.9 L1827.7,459.4 L1826.2,463.9 L1824.7,468.5 L1823.2,473.0 L1821.7,477.5 L1820.2,482.1 L1818.4,487.5"/><path d="M1893.7,124.0 L1894.5,128.5 L1895.2,133.1 L1895.9,137.6 L1896.6,142.1 L1897.2,146.7 L1897.8,151.2 L1898.3,155.7 L1898.8,160.3 L1899.2,164.8 L1899.6,169.3 L1899.9,173.9 L1900.1,178.4 L1900.3,182.9 L1900.4,187.5 L1900.4,192.0 L1900.4,196.5 L1900.2,201.1 L1900.0,205.6 L1899.8,210.1 L1899.4,214.6 L1898.9,219.2 L1898.4,223.7 L1897.8,228.2 L1897.1,232.8 L1896.3,237.3 L1895.4,241.8 L1894.5,246.4 L1893.5,250.9 L1892.4,255.4 L1891.2,260.0 L1890.0,264.5 L1888.8,269.0 L1887.5,273.6 L1886.2,278.1 L1884.9,282.6 L1883.5,287.2 L1882.1,291.7 L1880.8,296.2 L1879.4,300.8 L1878.0,305.3 L1876.6,309.8 L1875.1,314.4 L1873.7,318.9 L1872.3,323.4 L1870.9,328.0 L1869.4,332.5 L1868.0,337.0 L1866.6,341.6 L1865.1,346.1 L1863.7,350.6 L1862.2,355.2 L1860.8,359.7 L1859.3,364.2 L1857.9,368.7 L1856.4,373.3 L1854.9,377.8 L1853.5,382.3 L1852.0,386.9 L1850.5,391.4 L1849.0,395.9 L1847.6,400.5 L1846.1,405.0 L1844.6,409.5 L1843.1,414.1 L1841.6,418.6 L1840.1,423.1 L1838.6,427.7 L1837.1,432.2 L1835.6,436.7 L1834.1,441.3 L1832.5,445.8 L1831.0,450.3 L1829.5,454.9 L1828.0,459.4 L1826.4,463.9 L1824.9,468.5 L1823.4,473.0 L1821.8,477.5 L1820.3,482.1 L1818.4,487.5"/><path d="M1911.0,124.0 L1911.6,128.5 L1912.2,133.1 L1912.8,137.6 L1913.3,142.1 L1913.7,146.7 L1914.2,151.2 L1914.6,155.7 L1914.9,160.3 L1915.2,164.8 L1915.5,169.3 L1915.7,173.9 L1915.9,178.4 L1916.0,182.9 L1916.1,187.5 L1916.1,192.0 L1916.0,196.5 L1915.9,201.1 L1915.7,205.6 L1915.5,210.1 L1915.1,214.6 L1914.7,219.2 L1914.2,223.7 L1913.6,228.2 L1912.9,232.8 L1912.1,237.3 L1911.2,241.8 L1910.3,246.4 L1909.2,250.9 L1908.1,255.4 L1906.8,260.0 L1905.5,264.5 L1904.1,269.0 L1902.6,273.6 L1901.1,278.1 L1899.5,282.6 L1897.9,287.2 L1896.3,291.7 L1894.6,296.2 L1892.9,300.8 L1891.2,305.3 L1889.5,309.8 L1887.8,314.4 L1886.1,318.9 L1884.3,323.4 L1882.6,328.0 L1880.8,332.5 L1879.1,337.0 L1877.3,341.6 L1875.6,346.1 L1873.8,350.6 L1872.0,355.2 L1870.3,359.7 L1868.5,364.2 L1866.7,368.7 L1864.9,373.3 L1863.1,377.8 L1861.3,382.3 L1859.5,386.9 L1857.7,391.4 L1855.9,395.9 L1854.1,400.5 L1852.3,405.0 L1850.4,409.5 L1848.6,414.1 L1846.8,418.6 L1845.0,423.1 L1843.1,427.7 L1841.3,432.2 L1839.4,436.7 L1837.6,441.3 L1835.7,445.8 L1833.8,450.3 L1832.0,454.9 L1830.1,459.4 L1828.2,463.9 L1826.4,468.5 L1824.5,473.0 L1822.6,477.5 L1820.7,482.1 L1818.4,487.5"/><path d="M1916.7,124.0 L1917.3,128.5 L1917.8,133.1 L1918.3,137.6 L1918.7,142.1 L1919.1,146.7 L1919.5,151.2 L1919.9,155.7 L1920.2,160.3 L1920.5,164.8 L1920.7,169.3 L1920.9,173.9 L1921.1,178.4 L1921.2,182.9 L1921.2,187.5 L1921.2,192.0 L1921.2,196.5 L1921.1,201.1 L1920.9,205.6 L1920.6,210.1 L1920.3,214.6 L1919.9,219.2 L1919.4,223.7 L1918.8,228.2 L1918.2,232.8 L1917.4,237.3 L1916.6,241.8 L1915.6,246.4 L1914.6,250.9 L1913.4,255.4 L1912.2,260.0 L1910.8,264.5 L1909.4,269.0 L1907.9,273.6 L1906.3,278.1 L1904.7,282.6 L1903.0,287.2 L1901.3,291.7 L1899.5,296.2 L1897.8,300.8 L1896.0,305.3 L1894.1,309.8 L1892.3,314.4 L1890.5,318.9 L1888.6,323.4 L1886.8,328.0 L1884.9,332.5 L1883.0,337.0 L1881.2,341.6 L1879.3,346.1 L1877.4,350.6 L1875.5,355.2 L1873.6,359.7 L1871.7,364.2 L1869.8,368.7 L1867.9,373.3 L1866.0,377.8 L1864.1,382.3 L1862.2,386.9 L1860.3,391.4 L1858.3,395.9 L1856.4,400.5 L1854.5,405.0 L1852.5,409.5 L1850.6,414.1 L1848.6,418.6 L1846.7,423.1 L1844.7,427.7 L1842.8,432.2 L1840.8,436.7 L1838.8,441.3 L1836.8,445.8 L1834.9,450.3 L1832.9,454.9 L1830.9,459.4 L1828.9,463.9 L1826.9,468.5 L1824.9,473.0 L1822.9,477.5 L1820.8,482.1 L1818.4,487.5"/><path d="M1920.7,124.0 L1921.2,128.5 L1921.7,133.1 L1922.1,137.6 L1922.6,142.1 L1922.9,146.7 L1923.3,151.2 L1923.6,155.7 L1923.9,160.3 L1924.2,164.8 L1924.4,169.3 L1924.6,173.9 L1924.7,178.4 L1924.8,182.9 L1924.9,187.5 L1924.9,192.0 L1924.8,196.5 L1924.7,201.1 L1924.5,205.6 L1924.3,210.1 L1924.0,214.6 L1923.6,219.2 L1923.1,223.7 L1922.6,228.2 L1921.9,232.8 L1921.2,237.3 L1920.4,241.8 L1919.5,246.4 L1918.4,250.9 L1917.3,255.4 L1916.1,260.0 L1914.7,264.5 L1913.3,269.0 L1911.8,273.6 L1910.2,278.1 L1908.5,282.6 L1906.8,287.2 L1905.0,291.7 L1903.2,296.2 L1901.3,300.8 L1899.4,305.3 L1897.5,309.8 L1895.6,314.4 L1893.7,318.9 L1891.8,323.4 L1889.8,328.0 L1887.9,332.5 L1886.0,337.0 L1884.0,341.6 L1882.0,346.1 L1880.1,350.6 L1878.1,355.2 L1876.1,359.7 L1874.1,364.2 L1872.2,368.7 L1870.2,373.3 L1868.2,377.8 L1866.2,382.3 L1864.2,386.9 L1862.2,391.4 L1860.2,395.9 L1858.1,400.5 L1856.1,405.0 L1854.1,409.5 L1852.0,414.1 L1850.0,418.6 L1848.0,423.1 L1845.9,427.7 L1843.9,432.2 L1841.8,436.7 L1839.7,441.3 L1837.7,445.8 L1835.6,450.3 L1833.5,454.9 L1831.4,459.4 L1829.3,463.9 L1827.3,468.5 L1825.2,473.0 L1823.1,477.5 L1820.9,482.1 L1818.4,487.5"/><path d="M1924.7,124.0 L1925.1,128.5 L1925.5,133.1 L1926.0,137.6 L1926.3,142.1 L1926.7,146.7 L1927.0,151.2 L1927.3,155.7 L1927.6,160.3 L1927.8,164.8 L1928.0,169.3 L1928.2,173.9 L1928.3,178.4 L1928.4,182.9 L1928.5,187.5 L1928.4,192.0 L1928.4,196.5 L1928.3,201.1 L1928.1,205.6 L1927.9,210.1 L1927.6,214.6 L1927.2,219.2 L1926.8,223.7 L1926.3,228.2 L1925.7,232.8 L1925.0,237.3 L1924.2,241.8 L1923.3,246.4 L1922.3,250.9 L1921.2,255.4 L1919.9,260.0 L1918.6,264.5 L1917.2,269.0 L1915.7,273.6 L1914.1,278.1 L1912.4,282.6 L1910.6,287.2 L1908.8,291.7 L1906.9,296.2 L1905.0,300.8 L1903.0,305.3 L1901.0,309.8 L1899.1,314.4 L1897.0,318.9 L1895.0,323.4 L1893.0,328.0 L1891.0,332.5 L1888.9,337.0 L1886.9,341.6 L1884.9,346.1 L1882.8,350.6 L1880.8,355.2 L1878.7,359.7 L1876.6,364.2 L1874.5,368.7 L1872.5,373.3 L1870.4,377.8 L1868.3,382.3 L1866.2,386.9 L1864.1,391.4 L1862.0,395.9 L1859.9,400.5 L1857.8,405.0 L1855.7,409.5 L1853.5,414.1 L1851.4,418.6 L1849.3,423.1 L1847.1,427.7 L1845.0,432.2 L1842.8,436.7 L1840.7,441.3 L1838.5,445.8 L1836.4,450.3 L1834.2,454.9 L1832.0,459.4 L1829.8,463.9 L1827.6,468.5 L1825.5,473.0 L1823.3,477.5 L1821.1,482.1 L1818.4,487.5"/><path d="M1928.4,124.0 L1928.8,128.5 L1929.2,133.1 L1929.6,137.6 L1929.9,142.1 L1930.3,146.7 L1930.6,151.2 L1930.8,155.7 L1931.1,160.3 L1931.3,164.8 L1931.5,169.3 L1931.6,173.9 L1931.7,178.4 L1931.8,182.9 L1931.9,187.5 L1931.8,192.0 L1931.8,196.5 L1931.7,201.1 L1931.5,205.6 L1931.3,210.1 L1931.0,214.6 L1930.7,219.2 L1930.3,223.7 L1929.8,228.2 L1929.2,232.8 L1928.6,237.3 L1927.8,241.8 L1926.9,246.4 L1926.0,250.9 L1924.9,255.4 L1923.7,260.0 L1922.4,264.5 L1921.0,269.0 L1919.5,273.6 L1917.9,278.1 L1916.2,282.6 L1914.4,287.2 L1912.5,291.7 L1910.6,296.2 L1908.6,300.8 L1906.6,305.3 L1904.5,309.8 L1902.4,314.4 L1900.4,318.9 L1898.3,323.4 L1896.2,328.0 L1894.0,332.5 L1891.9,337.0 L1889.8,341.6 L1887.7,346.1 L1885.5,350.6 L1883.4,355.2 L1881.2,359.7 L1879.1,364.2 L1876.9,368.7 L1874.8,373.3 L1872.6,377.8 L1870.4,382.3 L1868.2,386.9 L1866.0,391.4 L1863.8,395.9 L1861.7,400.5 L1859.4,405.0 L1857.2,409.5 L1855.0,414.1 L1852.8,418.6 L1850.6,423.1 L1848.4,427.7 L1846.1,432.2 L1843.9,436.7 L1841.6,441.3 L1839.4,445.8 L1837.1,450.3 L1834.9,454.9 L1832.6,459.4 L1830.3,463.9 L1828.0,468.5 L1825.8,473.0 L1823.5,477.5 L1821.2,482.1 L1818.4,487.5"/><path d="M1935.1,124.0 L1935.4,128.5 L1935.7,133.1 L1936.0,137.6 L1936.3,142.1 L1936.6,146.7 L1936.9,151.2 L1937.1,155.7 L1937.3,160.3 L1937.5,164.8 L1937.6,169.3 L1937.7,173.9 L1937.8,178.4 L1937.9,182.9 L1937.9,187.5 L1937.9,192.0 L1937.9,196.5 L1937.8,201.1 L1937.6,205.6 L1937.5,210.1 L1937.2,214.6 L1936.9,219.2 L1936.6,223.7 L1936.1,228.2 L1935.6,232.8 L1935.1,237.3 L1934.4,241.8 L1933.6,246.4 L1932.7,250.9 L1931.8,255.4 L1930.7,260.0 L1929.4,264.5 L1928.1,269.0 L1926.6,273.6 L1925.0,278.1 L1923.3,282.6 L1921.5,287.2 L1919.6,291.7 L1917.6,296.2 L1915.5,300.8 L1913.4,305.3 L1911.2,309.8 L1909.0,314.4 L1906.8,318.9 L1904.5,323.4 L1902.2,328.0 L1900.0,332.5 L1897.7,337.0 L1895.4,341.6 L1893.1,346.1 L1890.8,350.6 L1888.5,355.2 L1886.2,359.7 L1883.8,364.2 L1881.5,368.7 L1879.2,373.3 L1876.8,377.8 L1874.5,382.3 L1872.1,386.9 L1869.8,391.4 L1867.4,395.9 L1865.0,400.5 L1862.7,405.0 L1860.3,409.5 L1857.9,414.1 L1855.5,418.6 L1853.1,423.1 L1850.7,427.7 L1848.3,432.2 L1845.9,436.7 L1843.5,441.3 L1841.0,445.8 L1838.6,450.3 L1836.1,454.9 L1833.7,459.4 L1831.3,463.9 L1828.8,468.5 L1826.3,473.0 L1823.9,477.5 L1821.4,482.1 L1818.4,487.5"/><path d="M1936.7,124.0 L1937.1,128.5 L1937.4,133.1 L1937.7,137.6 L1937.9,142.1 L1938.2,146.7 L1938.4,151.2 L1938.6,155.7 L1938.8,160.3 L1939.0,164.8 L1939.1,169.3 L1939.3,173.9 L1939.4,178.4 L1939.4,182.9 L1939.4,187.5 L1939.4,192.0 L1939.4,196.5 L1939.3,201.1 L1939.2,205.6 L1939.0,210.1 L1938.8,214.6 L1938.5,219.2 L1938.1,223.7 L1937.7,228.2 L1937.3,232.8 L1936.7,237.3 L1936.0,241.8 L1935.3,246.4 L1934.5,250.9 L1933.5,255.4 L1932.4,260.0 L1931.2,264.5 L1929.9,269.0 L1928.5,273.6 L1926.9,278.1 L1925.2,282.6 L1923.4,287.2 L1921.5,291.7 L1919.4,296.2 L1917.4,300.8 L1915.2,305.3 L1913.0,309.8 L1910.7,314.4 L1908.5,318.9 L1906.2,323.4 L1903.9,328.0 L1901.6,332.5 L1899.2,337.0 L1896.9,341.6 L1894.5,346.1 L1892.2,350.6 L1889.8,355.2 L1887.5,359.7 L1885.1,364.2 L1882.7,368.7 L1880.4,373.3 L1878.0,377.8 L1875.6,382.3 L1873.2,386.9 L1870.8,391.4 L1868.4,395.9 L1866.0,400.5 L1863.5,405.0 L1861.1,409.5 L1858.7,414.1 L1856.2,418.6 L1853.8,423.1 L1851.3,427.7 L1848.9,432.2 L1846.4,436.7 L1843.9,441.3 L1841.5,445.8 L1839.0,450.3 L1836.5,454.9 L1834.0,459.4 L1831.5,463.9 L1829.0,468.5 L1826.5,473.0 L1824.0,477.5 L1821.4,482.1 L1818.4,487.5"/><path d="M1938.9,124.0 L1939.2,128.5 L1939.5,133.1 L1939.8,137.6 L1940.0,142.1 L1940.2,146.7 L1940.5,151.2 L1940.7,155.7 L1940.8,160.3 L1941.0,164.8 L1941.1,169.3 L1941.2,173.9 L1941.3,178.4 L1941.4,182.9 L1941.4,187.5 L1941.4,192.0 L1941.4,196.5 L1941.3,201.1 L1941.2,205.6 L1941.0,210.1 L1940.8,214.6 L1940.5,219.2 L1940.2,223.7 L1939.8,228.2 L1939.3,232.8 L1938.8,237.3 L1938.2,241.8 L1937.5,246.4 L1936.7,250.9 L1935.8,255.4 L1934.7,260.0 L1933.6,264.5 L1932.3,269.0 L1930.9,273.6 L1929.4,278.1 L1927.7,282.6 L1925.9,287.2 L1924.0,291.7 L1921.9,296.2 L1919.8,300.8 L1917.6,305.3 L1915.4,309.8 L1913.1,314.4 L1910.8,318.9 L1908.4,323.4 L1906.1,328.0 L1903.7,332.5 L1901.3,337.0 L1898.9,341.6 L1896.5,346.1 L1894.1,350.6 L1891.7,355.2 L1889.3,359.7 L1886.8,364.2 L1884.4,368.7 L1882.0,373.3 L1879.5,377.8 L1877.1,382.3 L1874.6,386.9 L1872.1,391.4 L1869.7,395.9 L1867.2,400.5 L1864.7,405.0 L1862.2,409.5 L1859.7,414.1 L1857.2,418.6 L1854.7,423.1 L1852.2,427.7 L1849.7,432.2 L1847.1,436.7 L1844.6,441.3 L1842.1,445.8 L1839.5,450.3 L1837.0,454.9 L1834.4,459.4 L1831.8,463.9 L1829.3,468.5 L1826.7,473.0 L1824.1,477.5 L1821.5,482.1 L1818.4,487.5"/><path d="M1947.1,124.0 L1947.3,128.5 L1947.5,133.1 L1947.7,137.6 L1947.9,142.1 L1948.0,146.7 L1948.2,151.2 L1948.3,155.7 L1948.5,160.3 L1948.6,164.8 L1948.7,169.3 L1948.7,173.9 L1948.8,178.4 L1948.8,182.9 L1948.9,187.5 L1948.9,192.0 L1948.8,196.5 L1948.8,201.1 L1948.7,205.6 L1948.6,210.1 L1948.4,214.6 L1948.2,219.2 L1948.0,223.7 L1947.7,228.2 L1947.3,232.8 L1946.9,237.3 L1946.5,241.8 L1945.9,246.4 L1945.3,250.9 L1944.6,255.4 L1943.8,260.0 L1942.9,264.5 L1941.8,269.0 L1940.6,273.6 L1939.3,278.1 L1937.8,282.6 L1936.1,287.2 L1934.3,291.7 L1932.3,296.2 L1930.2,300.8 L1928.0,305.3 L1925.6,309.8 L1923.2,314.4 L1920.7,318.9 L1918.1,323.4 L1915.5,328.0 L1912.9,332.5 L1910.3,337.0 L1907.6,341.6 L1905.0,346.1 L1902.3,350.6 L1899.6,355.2 L1896.9,359.7 L1894.2,364.2 L1891.6,368.7 L1888.8,373.3 L1886.1,377.8 L1883.4,382.3 L1880.7,386.9 L1878.0,391.4 L1875.2,395.9 L1872.5,400.5 L1869.7,405.0 L1867.0,409.5 L1864.2,414.1 L1861.4,418.6 L1858.6,423.1 L1855.8,427.7 L1853.1,432.2 L1850.3,436.7 L1847.4,441.3 L1844.6,445.8 L1841.8,450.3 L1839.0,454.9 L1836.1,459.4 L1833.3,463.9 L1830.5,468.5 L1827.6,473.0 L1824.7,477.5 L1821.9,482.1 L1818.4,487.5"/><path d="M1948.6,124.0 L1948.8,128.5 L1949.0,133.1 L1949.2,137.6 L1949.4,142.1 L1949.5,146.7 L1949.6,151.2 L1949.8,155.7 L1949.9,160.3 L1950.0,164.8 L1950.1,169.3 L1950.2,173.9 L1950.2,178.4 L1950.2,182.9 L1950.3,187.5 L1950.3,192.0 L1950.2,196.5 L1950.2,201.1 L1950.1,205.6 L1950.0,210.1 L1949.8,214.6 L1949.6,219.2 L1949.4,223.7 L1949.2,228.2 L1948.8,232.8 L1948.5,237.3 L1948.0,241.8 L1947.5,246.4 L1947.0,250.9 L1946.3,255.4 L1945.5,260.0 L1944.6,264.5 L1943.6,269.0 L1942.5,273.6 L1941.2,278.1 L1939.8,282.6 L1938.2,287.2 L1936.4,291.7 L1934.5,296.2 L1932.4,300.8 L1930.2,305.3 L1927.8,309.8 L1925.4,314.4 L1922.8,318.9 L1920.2,323.4 L1917.6,328.0 L1914.9,332.5 L1912.2,337.0 L1909.5,341.6 L1906.8,346.1 L1904.1,350.6 L1901.4,355.2 L1898.6,359.7 L1895.9,364.2 L1893.1,368.7 L1890.3,373.3 L1887.6,377.8 L1884.8,382.3 L1882.0,386.9 L1879.2,391.4 L1876.4,395.9 L1873.6,400.5 L1870.8,405.0 L1868.0,409.5 L1865.2,414.1 L1862.3,418.6 L1859.5,423.1 L1856.6,427.7 L1853.8,432.2 L1850.9,436.7 L1848.1,441.3 L1845.2,445.8 L1842.3,450.3 L1839.4,454.9 L1836.5,459.4 L1833.6,463.9 L1830.7,468.5 L1827.8,473.0 L1824.9,477.5 L1821.9,482.1 L1818.4,487.5"/><path d="M1949.1,124.0 L1949.3,128.5 L1949.5,133.1 L1949.6,137.6 L1949.8,142.1 L1949.9,146.7 L1950.1,151.2 L1950.2,155.7 L1950.3,160.3 L1950.4,164.8 L1950.5,169.3 L1950.6,173.9 L1950.6,178.4 L1950.7,182.9 L1950.7,187.5 L1950.7,192.0 L1950.6,196.5 L1950.6,201.1 L1950.5,205.6 L1950.4,210.1 L1950.3,214.6 L1950.1,219.2 L1949.9,223.7 L1949.6,228.2 L1949.3,232.8 L1948.9,237.3 L1948.5,241.8 L1948.0,246.4 L1947.5,250.9 L1946.8,255.4 L1946.0,260.0 L1945.2,264.5 L1944.2,269.0 L1943.1,273.6 L1941.8,278.1 L1940.4,282.6 L1938.8,287.2 L1937.1,291.7 L1935.2,296.2 L1933.1,300.8 L1930.9,305.3 L1928.5,309.8 L1926.0,314.4 L1923.5,318.9 L1920.9,323.4 L1918.2,328.0 L1915.6,332.5 L1912.8,337.0 L1910.1,341.6 L1907.4,346.1 L1904.6,350.6 L1901.9,355.2 L1899.1,359.7 L1896.4,364.2 L1893.6,368.7 L1890.8,373.3 L1888.0,377.8 L1885.2,382.3 L1882.4,386.9 L1879.6,391.4 L1876.8,395.9 L1874.0,400.5 L1871.2,405.0 L1868.3,409.5 L1865.5,414.1 L1862.6,418.6 L1859.8,423.1 L1856.9,427.7 L1854.0,432.2 L1851.1,436.7 L1848.3,441.3 L1845.4,445.8 L1842.5,450.3 L1839.6,454.9 L1836.6,459.4 L1833.7,463.9 L1830.8,468.5 L1827.9,473.0 L1824.9,477.5 L1822.0,482.1 L1818.4,487.5"/><path d="M1952.5,124.0 L1952.6,128.5 L1952.8,133.1 L1952.9,137.6 L1953.1,142.1 L1953.2,146.7 L1953.3,151.2 L1953.4,155.7 L1953.5,160.3 L1953.6,164.8 L1953.6,169.3 L1953.7,173.9 L1953.7,178.4 L1953.8,182.9 L1953.8,187.5 L1953.8,192.0 L1953.8,196.5 L1953.7,201.1 L1953.6,205.6 L1953.6,210.1 L1953.4,214.6 L1953.3,219.2 L1953.1,223.7 L1952.9,228.2 L1952.6,232.8 L1952.3,237.3 L1952.0,241.8 L1951.6,246.4 L1951.1,250.9 L1950.6,255.4 L1949.9,260.0 L1949.2,264.5 L1948.4,269.0 L1947.4,273.6 L1946.3,278.1 L1945.1,282.6 L1943.7,287.2 L1942.1,291.7 L1940.3,296.2 L1938.3,300.8 L1936.2,305.3 L1933.8,309.8 L1931.4,314.4 L1928.8,318.9 L1926.1,323.4 L1923.3,328.0 L1920.5,332.5 L1917.7,337.0 L1914.8,341.6 L1912.0,346.1 L1909.1,350.6 L1906.2,355.2 L1903.3,359.7 L1900.4,364.2 L1897.5,368.7 L1894.6,373.3 L1891.6,377.8 L1888.7,382.3 L1885.7,386.9 L1882.8,391.4 L1879.8,395.9 L1876.9,400.5 L1873.9,405.0 L1870.9,409.5 L1867.9,414.1 L1864.9,418.6 L1861.9,423.1 L1858.9,427.7 L1855.9,432.2 L1852.8,436.7 L1849.8,441.3 L1846.8,445.8 L1843.7,450.3 L1840.6,454.9 L1837.6,459.4 L1834.5,463.9 L1831.4,468.5 L1828.3,473.0 L1825.2,477.5 L1822.1,482.1 L1818.4,487.5"/><path d="M1954.4,124.0 L1954.6,128.5 L1954.7,133.1 L1954.8,137.6 L1954.9,142.1 L1955.0,146.7 L1955.1,151.2 L1955.2,155.7 L1955.3,160.3 L1955.4,164.8 L1955.4,169.3 L1955.5,173.9 L1955.5,178.4 L1955.5,182.9 L1955.5,187.5 L1955.5,192.0 L1955.5,196.5 L1955.5,201.1 L1955.4,205.6 L1955.3,210.1 L1955.2,214.6 L1955.1,219.2 L1955.0,223.7 L1954.8,228.2 L1954.6,232.8 L1954.3,237.3 L1954.0,241.8 L1953.6,246.4 L1953.2,250.9 L1952.7,255.4 L1952.2,260.0 L1951.5,264.5 L1950.8,269.0 L1949.9,273.6 L1949.0,278.1 L1947.8,282.6 L1946.5,287.2 L1945.1,291.7 L1943.4,296.2 L1941.5,300.8 L1939.4,305.3 L1937.2,309.8 L1934.7,314.4 L1932.1,318.9 L1929.4,323.4 L1926.6,328.0 L1923.8,332.5 L1920.8,337.0 L1917.9,341.6 L1914.9,346.1 L1912.0,350.6 L1909.0,355.2 L1906.0,359.7 L1903.0,364.2 L1900.0,368.7 L1897.0,373.3 L1894.0,377.8 L1890.9,382.3 L1887.9,386.9 L1884.8,391.4 L1881.8,395.9 L1878.7,400.5 L1875.6,405.0 L1872.6,409.5 L1869.5,414.1 L1866.4,418.6 L1863.3,423.1 L1860.2,427.7 L1857.1,432.2 L1853.9,436.7 L1850.8,441.3 L1847.7,445.8 L1844.5,450.3 L1841.4,454.9 L1838.2,459.4 L1835.0,463.9 L1831.8,468.5 L1828.7,473.0 L1825.5,477.5 L1822.3,482.1 L1818.4,487.5"/><path d="M1957.0,124.0 L1957.2,128.5 L1957.3,133.1 L1957.4,137.6 L1957.4,142.1 L1957.5,146.7 L1957.6,151.2 L1957.7,155.7 L1957.7,160.3 L1957.8,164.8 L1957.8,169.3 L1957.9,173.9 L1957.9,178.4 L1957.9,182.9 L1957.9,187.5 L1957.9,192.0 L1957.9,196.5 L1957.9,201.1 L1957.8,205.6 L1957.8,210.1 L1957.7,214.6 L1957.6,219.2 L1957.5,223.7 L1957.3,228.2 L1957.1,232.8 L1956.9,237.3 L1956.7,241.8 L1956.4,246.4 L1956.1,250.9 L1955.7,255.4 L1955.2,260.0 L1954.7,264.5 L1954.1,269.0 L1953.4,273.6 L1952.6,278.1 L1951.7,282.6 L1950.6,287.2 L1949.3,291.7 L1947.8,296.2 L1946.2,300.8 L1944.3,305.3 L1942.2,309.8 L1939.8,314.4 L1937.3,318.9 L1934.6,323.4 L1931.7,328.0 L1928.8,332.5 L1925.7,337.0 L1922.7,341.6 L1919.6,346.1 L1916.5,350.6 L1913.4,355.2 L1910.2,359.7 L1907.1,364.2 L1903.9,368.7 L1900.8,373.3 L1897.6,377.8 L1894.4,382.3 L1891.2,386.9 L1888.0,391.4 L1884.8,395.9 L1881.6,400.5 L1878.4,405.0 L1875.2,409.5 L1871.9,414.1 L1868.7,418.6 L1865.4,423.1 L1862.2,427.7 L1858.9,432.2 L1855.6,436.7 L1852.4,441.3 L1849.1,445.8 L1845.8,450.3 L1842.5,454.9 L1839.1,459.4 L1835.8,463.9 L1832.5,468.5 L1829.2,473.0 L1825.8,477.5 L1822.4,482.1 L1818.4,487.5"/><path d="M1958.4,124.0 L1958.5,128.5 L1958.6,133.1 L1958.7,137.6 L1958.8,142.1 L1958.8,146.7 L1958.9,151.2 L1959.0,155.7 L1959.0,160.3 L1959.1,164.8 L1959.1,169.3 L1959.1,173.9 L1959.2,178.4 L1959.2,182.9 L1959.2,187.5 L1959.2,192.0 L1959.2,196.5 L1959.2,201.1 L1959.1,205.6 L1959.1,210.1 L1959.0,214.6 L1958.9,219.2 L1958.8,223.7 L1958.7,228.2 L1958.5,232.8 L1958.3,237.3 L1958.1,241.8 L1957.9,246.4 L1957.6,250.9 L1957.2,255.4 L1956.8,260.0 L1956.4,264.5 L1955.9,269.0 L1955.3,273.6 L1954.5,278.1 L1953.7,282.6 L1952.7,287.2 L1951.6,291.7 L1950.3,296.2 L1948.8,300.8 L1947.0,305.3 L1945.0,309.8 L1942.8,314.4 L1940.3,318.9 L1937.6,323.4 L1934.8,328.0 L1931.8,332.5 L1928.7,337.0 L1925.6,341.6 L1922.4,346.1 L1919.2,350.6 L1916.0,355.2 L1912.8,359.7 L1909.6,364.2 L1906.3,368.7 L1903.1,373.3 L1899.8,377.8 L1896.5,382.3 L1893.3,386.9 L1890.0,391.4 L1886.7,395.9 L1883.4,400.5 L1880.1,405.0 L1876.8,409.5 L1873.4,414.1 L1870.1,418.6 L1866.8,423.1 L1863.4,427.7 L1860.1,432.2 L1856.7,436.7 L1853.3,441.3 L1849.9,445.8 L1846.5,450.3 L1843.1,454.9 L1839.7,459.4 L1836.3,463.9 L1832.9,468.5 L1829.5,473.0 L1826.0,477.5 L1822.6,482.1 L1818.4,487.5"/><path d="M1961.8,124.0 L1961.8,128.5 L1961.9,133.1 L1961.9,137.6 L1962.0,142.1 L1962.0,146.7 L1962.1,151.2 L1962.1,155.7 L1962.1,160.3 L1962.2,164.8 L1962.2,169.3 L1962.2,173.9 L1962.2,178.4 L1962.2,182.9 L1962.2,187.5 L1962.2,192.0 L1962.2,196.5 L1962.2,201.1 L1962.2,205.6 L1962.1,210.1 L1962.1,214.6 L1962.1,219.2 L1962.0,223.7 L1961.9,228.2 L1961.8,232.8 L1961.7,237.3 L1961.6,241.8 L1961.4,246.4 L1961.2,250.9 L1961.0,255.4 L1960.8,260.0 L1960.5,264.5 L1960.2,269.0 L1959.8,273.6 L1959.3,278.1 L1958.8,282.6 L1958.1,287.2 L1957.4,291.7 L1956.5,296.2 L1955.5,300.8 L1954.2,305.3 L1952.7,309.8 L1950.9,314.4 L1948.9,318.9 L1946.5,323.4 L1943.8,328.0 L1940.9,332.5 L1937.8,337.0 L1934.5,341.6 L1931.2,346.1 L1927.7,350.6 L1924.3,355.2 L1920.8,359.7 L1917.3,364.2 L1913.8,368.7 L1910.2,373.3 L1906.7,377.8 L1903.2,382.3 L1899.6,386.9 L1896.0,391.4 L1892.5,395.9 L1888.9,400.5 L1885.3,405.0 L1881.7,409.5 L1878.1,414.1 L1874.5,418.6 L1870.9,423.1 L1867.2,427.7 L1863.6,432.2 L1859.9,436.7 L1856.3,441.3 L1852.6,445.8 L1848.9,450.3 L1845.2,454.9 L1841.5,459.4 L1837.8,463.9 L1834.1,468.5 L1830.4,473.0 L1826.7,477.5 L1822.9,482.1 L1818.4,487.5"/><path d="M1965.1,124.0 L1965.1,128.5 L1965.1,133.1 L1965.2,137.6 L1965.2,142.1 L1965.2,146.7 L1965.2,151.2 L1965.2,155.7 L1965.2,160.3 L1965.2,164.8 L1965.3,169.3 L1965.3,173.9 L1965.3,178.4 L1965.3,182.9 L1965.3,187.5 L1965.3,192.0 L1965.3,196.5 L1965.3,201.1 L1965.3,205.6 L1965.2,210.1 L1965.2,214.6 L1965.2,219.2 L1965.2,223.7 L1965.2,228.2 L1965.1,232.8 L1965.1,237.3 L1965.0,241.8 L1965.0,246.4 L1964.9,250.9 L1964.8,255.4 L1964.7,260.0 L1964.6,264.5 L1964.5,269.0 L1964.3,273.6 L1964.2,278.1 L1964.0,282.6 L1963.7,287.2 L1963.4,291.7 L1963.1,296.2 L1962.6,300.8 L1962.1,305.3 L1961.5,309.8 L1960.7,314.4 L1959.7,318.9 L1958.5,323.4 L1956.9,328.0 L1955.0,332.5 L1952.7,337.0 L1950.0,341.6 L1946.8,346.1 L1943.4,350.6 L1939.9,355.2 L1936.2,359.7 L1932.6,364.2 L1928.9,368.7 L1925.3,373.3 L1921.7,377.8 L1918.2,382.3 L1914.6,386.9 L1911.2,391.4 L1907.7,395.9 L1904.3,400.5 L1901.0,405.0 L1897.6,409.5 L1894.3,414.1 L1891.0,418.6 L1887.8,423.1 L1884.6,427.7 L1881.3,432.2 L1878.1,436.7 L1874.9,441.3 L1871.7,445.8 L1868.5,450.3 L1865.2,454.9 L1862.0,459.4 L1858.7,463.9 L1855.4,468.5 L1852.0,473.0 L1848.5,477.5 L1845.0,482.1 L1840.7,487.5"/><path d="M1965.6,124.0 L1965.6,128.5 L1965.7,133.1 L1965.7,137.6 L1965.7,142.1 L1965.7,146.7 L1965.7,151.2 L1965.7,155.7 L1965.7,160.3 L1965.7,164.8 L1965.7,169.3 L1965.8,173.9 L1965.8,178.4 L1965.8,182.9 L1965.8,187.5 L1965.8,192.0 L1965.8,196.5 L1965.8,201.1 L1965.7,205.6 L1965.7,210.1 L1965.7,214.6 L1965.7,219.2 L1965.7,223.7 L1965.7,228.2 L1965.6,232.8 L1965.6,237.3 L1965.6,241.8 L1965.5,246.4 L1965.5,250.9 L1965.4,255.4 L1965.4,260.0 L1965.3,264.5 L1965.2,269.0 L1965.1,273.6 L1965.0,278.1 L1964.8,282.6 L1964.6,287.2 L1964.4,291.7 L1964.1,296.2 L1963.8,300.8 L1963.4,305.3 L1963.0,309.8 L1962.4,314.4 L1961.6,318.9 L1960.7,323.4 L1959.5,328.0 L1958.0,332.5 L1956.1,337.0 L1953.8,341.6 L1951.0,346.1 L1947.8,350.6 L1944.3,355.2 L1940.7,359.7 L1937.1,364.2 L1933.4,368.7 L1929.8,373.3 L1926.3,377.8 L1922.8,382.3 L1919.4,386.9 L1916.0,391.4 L1912.7,395.9 L1909.5,400.5 L1906.3,405.0 L1903.2,409.5 L1900.1,414.1 L1897.1,418.6 L1894.1,423.1 L1891.1,427.7 L1888.2,432.2 L1885.3,436.7 L1882.4,441.3 L1879.5,445.8 L1876.6,450.3 L1873.7,454.9 L1870.8,459.4 L1867.8,463.9 L1864.7,468.5 L1861.6,473.0 L1858.5,477.5 L1855.2,482.1 L1851.1,487.5"/><path d="M1968.3,124.0 L1968.3,128.5 L1968.3,133.1 L1968.3,137.6 L1968.3,142.1 L1968.2,146.7 L1968.2,151.2 L1968.2,155.7 L1968.2,160.3 L1968.2,164.8 L1968.2,169.3 L1968.2,173.9 L1968.2,178.4 L1968.2,182.9 L1968.2,187.5 L1968.2,192.0 L1968.2,196.5 L1968.2,201.1 L1968.2,205.6 L1968.2,210.1 L1968.2,214.6 L1968.2,219.2 L1968.3,223.7 L1968.3,228.2 L1968.3,232.8 L1968.3,237.3 L1968.3,241.8 L1968.4,246.4 L1968.4,250.9 L1968.5,255.4 L1968.5,260.0 L1968.6,264.5 L1968.7,269.0 L1968.8,273.6 L1968.9,278.1 L1969.0,282.6 L1969.1,287.2 L1969.3,291.7 L1969.5,296.2 L1969.8,300.8 L1970.1,305.3 L1970.5,309.8 L1971.0,314.4 L1971.6,318.9 L1972.4,323.4 L1973.4,328.0 L1974.7,332.5 L1976.4,337.0 L1978.6,341.6 L1981.3,346.1 L1984.5,350.6 L1988.2,355.2 L1992.1,359.7 L1996.3,364.2 L2000.5,368.7 L2004.7,373.3 L2009.0,377.8 L2013.3,382.3 L2017.6,386.9 L2021.9,391.4 L2026.2,395.9 L2030.5,400.5 L2034.9,405.0 L2039.2,409.5 L2043.6,414.1 L2047.9,418.6 L2052.3,423.1 L2056.7,427.7 L2061.1,432.2 L2065.5,436.7 L2070.0,441.3 L2074.4,445.8 L2078.9,450.3 L2083.3,454.9 L2087.8,459.4 L2092.3,463.9 L2096.8,468.5 L2101.3,473.0 L2105.8,477.5 L2110.3,482.1 L2115.8,487.5"/><path d="M1968.7,124.0 L1968.7,128.5 L1968.7,133.1 L1968.7,137.6 L1968.6,142.1 L1968.6,146.7 L1968.6,151.2 L1968.6,155.7 L1968.6,160.3 L1968.6,164.8 L1968.6,169.3 L1968.6,173.9 L1968.6,178.4 L1968.6,182.9 L1968.6,187.5 L1968.6,192.0 L1968.6,196.5 L1968.6,201.1 L1968.6,205.6 L1968.6,210.1 L1968.6,214.6 L1968.6,219.2 L1968.6,223.7 L1968.7,228.2 L1968.7,232.8 L1968.7,237.3 L1968.8,241.8 L1968.8,246.4 L1968.9,250.9 L1968.9,255.4 L1969.0,260.0 L1969.1,264.5 L1969.2,269.0 L1969.3,273.6 L1969.4,278.1 L1969.6,282.6 L1969.8,287.2 L1970.0,291.7 L1970.3,296.2 L1970.7,300.8 L1971.1,305.3 L1971.6,309.8 L1972.2,314.4 L1973.1,318.9 L1974.1,323.4 L1975.4,328.0 L1977.0,332.5 L1979.1,337.0 L1981.7,341.6 L1984.8,346.1 L1988.2,350.6 L1992.0,355.2 L1995.9,359.7 L2000.0,364.2 L2004.1,368.7 L2008.2,373.3 L2012.3,377.8 L2016.5,382.3 L2020.6,386.9 L2024.8,391.4 L2029.0,395.9 L2033.2,400.5 L2037.4,405.0 L2041.6,409.5 L2045.8,414.1 L2050.1,418.6 L2054.3,423.1 L2058.6,427.7 L2062.8,432.2 L2067.1,436.7 L2071.4,441.3 L2075.7,445.8 L2080.0,450.3 L2084.3,454.9 L2088.7,459.4 L2093.0,463.9 L2097.4,468.5 L2101.7,473.0 L2106.1,477.5 L2110.5,482.1 L2115.8,487.5"/><path d="M1969.1,124.0 L1969.1,128.5 L1969.1,133.1 L1969.0,137.6 L1969.0,142.1 L1969.0,146.7 L1969.0,151.2 L1969.0,155.7 L1969.0,160.3 L1969.0,164.8 L1968.9,169.3 L1968.9,173.9 L1968.9,178.4 L1968.9,182.9 L1968.9,187.5 L1968.9,192.0 L1968.9,196.5 L1968.9,201.1 L1968.9,205.6 L1969.0,210.1 L1969.0,214.6 L1969.0,219.2 L1969.0,223.7 L1969.0,228.2 L1969.1,232.8 L1969.1,237.3 L1969.2,241.8 L1969.2,246.4 L1969.3,250.9 L1969.4,255.4 L1969.5,260.0 L1969.6,264.5 L1969.7,269.0 L1969.9,273.6 L1970.0,278.1 L1970.2,282.6 L1970.5,287.2 L1970.8,291.7 L1971.1,296.2 L1971.6,300.8 L1972.1,305.3 L1972.7,309.8 L1973.5,314.4 L1974.5,318.9 L1975.8,323.4 L1977.3,328.0 L1979.3,332.5 L1981.7,337.0 L1984.5,341.6 L1987.7,346.1 L1991.3,350.6 L1995.1,355.2 L1999.0,359.7 L2002.9,364.2 L2006.9,368.7 L2011.0,373.3 L2015.0,377.8 L2019.0,382.3 L2023.1,386.9 L2027.2,391.4 L2031.2,395.9 L2035.3,400.5 L2039.4,405.0 L2043.5,409.5 L2047.6,414.1 L2051.8,418.6 L2055.9,423.1 L2060.0,427.7 L2064.2,432.2 L2068.4,436.7 L2072.6,441.3 L2076.7,445.8 L2080.9,450.3 L2085.2,454.9 L2089.4,459.4 L2093.6,463.9 L2097.9,468.5 L2102.1,473.0 L2106.4,477.5 L2110.6,482.1 L2115.8,487.5"/><path d="M1973.1,124.0 L1973.0,128.5 L1973.0,133.1 L1972.9,137.6 L1972.9,142.1 L1972.8,146.7 L1972.8,151.2 L1972.7,155.7 L1972.7,160.3 L1972.7,164.8 L1972.6,169.3 L1972.6,173.9 L1972.6,178.4 L1972.6,182.9 L1972.6,187.5 L1972.6,192.0 L1972.6,196.5 L1972.6,201.1 L1972.6,205.6 L1972.7,210.1 L1972.7,214.6 L1972.8,219.2 L1972.9,223.7 L1972.9,228.2 L1973.0,232.8 L1973.2,237.3 L1973.3,241.8 L1973.5,246.4 L1973.7,250.9 L1973.9,255.4 L1974.2,260.0 L1974.5,264.5 L1974.9,269.0 L1975.3,273.6 L1975.8,278.1 L1976.4,282.6 L1977.1,287.2 L1978.0,291.7 L1979.0,296.2 L1980.1,300.8 L1981.5,305.3 L1983.1,309.8 L1985.0,314.4 L1987.2,318.9 L1989.7,323.4 L1992.4,328.0 L1995.4,332.5 L1998.5,337.0 L2001.8,341.6 L2005.1,346.1 L2008.5,350.6 L2011.9,355.2 L2015.3,359.7 L2018.7,364.2 L2022.2,368.7 L2025.7,373.3 L2029.1,377.8 L2032.6,382.3 L2036.1,386.9 L2039.6,391.4 L2043.1,395.9 L2046.6,400.5 L2050.1,405.0 L2053.7,409.5 L2057.2,414.1 L2060.7,418.6 L2064.3,423.1 L2067.9,427.7 L2071.4,432.2 L2075.0,436.7 L2078.6,441.3 L2082.2,445.8 L2085.8,450.3 L2089.5,454.9 L2093.1,459.4 L2096.7,463.9 L2100.4,468.5 L2104.0,473.0 L2107.7,477.5 L2111.4,482.1 L2115.8,487.5"/><path d="M1975.0,124.0 L1975.0,128.5 L1974.9,133.1 L1974.8,137.6 L1974.7,142.1 L1974.7,146.7 L1974.6,151.2 L1974.5,155.7 L1974.5,160.3 L1974.4,164.8 L1974.4,169.3 L1974.4,173.9 L1974.4,178.4 L1974.3,182.9 L1974.3,187.5 L1974.3,192.0 L1974.4,196.5 L1974.4,201.1 L1974.4,205.6 L1974.5,210.1 L1974.5,214.6 L1974.6,219.2 L1974.7,223.7 L1974.8,228.2 L1975.0,232.8 L1975.1,237.3 L1975.3,241.8 L1975.6,246.4 L1975.8,250.9 L1976.1,255.4 L1976.5,260.0 L1976.9,264.5 L1977.4,269.0 L1978.0,273.6 L1978.6,278.1 L1979.4,282.6 L1980.3,287.2 L1981.3,291.7 L1982.6,296.2 L1984.0,300.8 L1985.7,305.3 L1987.6,309.8 L1989.8,314.4 L1992.2,318.9 L1994.8,323.4 L1997.7,328.0 L2000.7,332.5 L2003.8,337.0 L2006.9,341.6 L2010.1,346.1 L2013.4,350.6 L2016.6,355.2 L2019.9,359.7 L2023.2,364.2 L2026.5,368.7 L2029.8,373.3 L2033.1,377.8 L2036.4,382.3 L2039.7,386.9 L2043.1,391.4 L2046.4,395.9 L2049.8,400.5 L2053.1,405.0 L2056.5,409.5 L2059.9,414.1 L2063.3,418.6 L2066.7,423.1 L2070.1,427.7 L2073.5,432.2 L2076.9,436.7 L2080.3,441.3 L2083.8,445.8 L2087.2,450.3 L2090.7,454.9 L2094.1,459.4 L2097.6,463.9 L2101.1,468.5 L2104.6,473.0 L2108.1,477.5 L2111.6,482.1 L2115.8,487.5"/><path d="M1976.4,124.0 L1976.3,128.5 L1976.2,133.1 L1976.2,137.6 L1976.1,142.1 L1976.0,146.7 L1975.9,151.2 L1975.9,155.7 L1975.8,160.3 L1975.7,164.8 L1975.7,169.3 L1975.7,173.9 L1975.6,178.4 L1975.6,182.9 L1975.6,187.5 L1975.6,192.0 L1975.6,196.5 L1975.7,201.1 L1975.7,205.6 L1975.8,210.1 L1975.8,214.6 L1975.9,219.2 L1976.0,223.7 L1976.2,228.2 L1976.4,232.8 L1976.5,237.3 L1976.8,241.8 L1977.0,246.4 L1977.4,250.9 L1977.7,255.4 L1978.1,260.0 L1978.6,264.5 L1979.2,269.0 L1979.8,273.6 L1980.6,278.1 L1981.5,282.6 L1982.5,287.2 L1983.7,291.7 L1985.1,296.2 L1986.7,300.8 L1988.5,305.3 L1990.6,309.8 L1992.9,314.4 L1995.4,318.9 L1998.1,323.4 L2001.0,328.0 L2003.9,332.5 L2007.0,337.0 L2010.1,341.6 L2013.2,346.1 L2016.3,350.6 L2019.5,355.2 L2022.7,359.7 L2025.9,364.2 L2029.1,368.7 L2032.3,373.3 L2035.5,377.8 L2038.7,382.3 L2042.0,386.9 L2045.2,391.4 L2048.4,395.9 L2051.7,400.5 L2055.0,405.0 L2058.2,409.5 L2061.5,414.1 L2064.8,418.6 L2068.1,423.1 L2071.4,427.7 L2074.7,432.2 L2078.0,436.7 L2081.4,441.3 L2084.7,445.8 L2088.0,450.3 L2091.4,454.9 L2094.8,459.4 L2098.1,463.9 L2101.5,468.5 L2104.9,473.0 L2108.3,477.5 L2111.7,482.1 L2115.8,487.5"/><path d="M1981.1,124.0 L1981.0,128.5 L1980.8,133.1 L1980.7,137.6 L1980.6,142.1 L1980.4,146.7 L1980.3,151.2 L1980.2,155.7 L1980.1,160.3 L1980.1,164.8 L1980.0,169.3 L1979.9,173.9 L1979.9,178.4 L1979.9,182.9 L1979.9,187.5 L1979.9,192.0 L1979.9,196.5 L1979.9,201.1 L1980.0,205.6 L1980.1,210.1 L1980.2,214.6 L1980.3,219.2 L1980.5,223.7 L1980.7,228.2 L1981.0,232.8 L1981.3,237.3 L1981.6,241.8 L1982.0,246.4 L1982.4,250.9 L1983.0,255.4 L1983.6,260.0 L1984.3,264.5 L1985.1,269.0 L1986.0,273.6 L1987.1,278.1 L1988.3,282.6 L1989.6,287.2 L1991.2,291.7 L1993.0,296.2 L1994.9,300.8 L1997.0,305.3 L1999.4,309.8 L2001.8,314.4 L2004.4,318.9 L2007.1,323.4 L2009.9,328.0 L2012.7,332.5 L2015.6,337.0 L2018.4,341.6 L2021.3,346.1 L2024.2,350.6 L2027.2,355.2 L2030.1,359.7 L2033.0,364.2 L2036.0,368.7 L2038.9,373.3 L2041.9,377.8 L2044.8,382.3 L2047.8,386.9 L2050.8,391.4 L2053.8,395.9 L2056.8,400.5 L2059.8,405.0 L2062.8,409.5 L2065.8,414.1 L2068.9,418.6 L2071.9,423.1 L2074.9,427.7 L2078.0,432.2 L2081.0,436.7 L2084.1,441.3 L2087.2,445.8 L2090.3,450.3 L2093.3,454.9 L2096.4,459.4 L2099.5,463.9 L2102.6,468.5 L2105.8,473.0 L2108.9,477.5 L2112.0,482.1 L2115.8,487.5"/><path d="M1985.1,124.0 L1984.9,128.5 L1984.7,133.1 L1984.6,137.6 L1984.4,142.1 L1984.3,146.7 L1984.1,151.2 L1984.0,155.7 L1983.9,160.3 L1983.8,164.8 L1983.7,169.3 L1983.6,173.9 L1983.6,178.4 L1983.5,182.9 L1983.5,187.5 L1983.5,192.0 L1983.6,196.5 L1983.6,201.1 L1983.7,205.6 L1983.8,210.1 L1983.9,214.6 L1984.1,219.2 L1984.3,223.7 L1984.6,228.2 L1984.9,232.8 L1985.3,237.3 L1985.7,241.8 L1986.2,246.4 L1986.7,250.9 L1987.4,255.4 L1988.2,260.0 L1989.0,264.5 L1990.0,269.0 L1991.1,273.6 L1992.4,278.1 L1993.8,282.6 L1995.4,287.2 L1997.1,291.7 L1999.0,296.2 L2001.1,300.8 L2003.3,305.3 L2005.7,309.8 L2008.2,314.4 L2010.7,318.9 L2013.3,323.4 L2016.0,328.0 L2018.6,332.5 L2021.4,337.0 L2024.1,341.6 L2026.8,346.1 L2029.6,350.6 L2032.3,355.2 L2035.1,359.7 L2037.8,364.2 L2040.6,368.7 L2043.4,373.3 L2046.2,377.8 L2049.0,382.3 L2051.8,386.9 L2054.6,391.4 L2057.4,395.9 L2060.2,400.5 L2063.0,405.0 L2065.9,409.5 L2068.7,414.1 L2071.6,418.6 L2074.4,423.1 L2077.3,427.7 L2080.2,432.2 L2083.1,436.7 L2085.9,441.3 L2088.8,445.8 L2091.7,450.3 L2094.6,454.9 L2097.6,459.4 L2100.5,463.9 L2103.4,468.5 L2106.3,473.0 L2109.3,477.5 L2112.2,482.1 L2115.8,487.5"/><path d="M2002.7,124.0 L2002.3,128.5 L2002.0,133.1 L2001.6,137.6 L2001.3,142.1 L2001.0,146.7 L2000.7,151.2 L2000.5,155.7 L2000.2,160.3 L2000.0,164.8 L1999.9,169.3 L1999.7,173.9 L1999.6,178.4 L1999.6,182.9 L1999.5,187.5 L1999.5,192.0 L1999.6,196.5 L1999.7,201.1 L1999.8,205.6 L2000.0,210.1 L2000.3,214.6 L2000.6,219.2 L2001.0,223.7 L2001.5,228.2 L2002.0,232.8 L2002.6,237.3 L2003.4,241.8 L2004.2,246.4 L2005.1,250.9 L2006.1,255.4 L2007.3,260.0 L2008.6,264.5 L2010.0,269.0 L2011.5,273.6 L2013.1,278.1 L2014.8,282.6 L2016.6,287.2 L2018.5,291.7 L2020.5,296.2 L2022.5,300.8 L2024.6,305.3 L2026.7,309.8 L2028.8,314.4 L2031.0,318.9 L2033.1,323.4 L2035.3,328.0 L2037.5,332.5 L2039.7,337.0 L2041.9,341.6 L2044.1,346.1 L2046.3,350.6 L2048.5,355.2 L2050.7,359.7 L2053.0,364.2 L2055.2,368.7 L2057.5,373.3 L2059.7,377.8 L2062.0,382.3 L2064.2,386.9 L2066.5,391.4 L2068.7,395.9 L2071.0,400.5 L2073.3,405.0 L2075.6,409.5 L2077.9,414.1 L2080.2,418.6 L2082.5,423.1 L2084.8,427.7 L2087.1,432.2 L2089.4,436.7 L2091.7,441.3 L2094.1,445.8 L2096.4,450.3 L2098.8,454.9 L2101.1,459.4 L2103.5,463.9 L2105.8,468.5 L2108.2,473.0 L2110.6,477.5 L2112.9,482.1 L2115.8,487.5"/><path d="M2004.5,124.0 L2004.1,128.5 L2003.7,133.1 L2003.3,137.6 L2003.0,142.1 L2002.7,146.7 L2002.4,151.2 L2002.1,155.7 L2001.9,160.3 L2001.7,164.8 L2001.5,169.3 L2001.4,173.9 L2001.2,178.4 L2001.2,182.9 L2001.1,187.5 L2001.1,192.0 L2001.2,196.5 L2001.3,201.1 L2001.4,205.6 L2001.7,210.1 L2001.9,214.6 L2002.3,219.2 L2002.7,223.7 L2003.1,228.2 L2003.7,232.8 L2004.3,237.3 L2005.1,241.8 L2005.9,246.4 L2006.9,250.9 L2007.9,255.4 L2009.1,260.0 L2010.4,264.5 L2011.8,269.0 L2013.3,273.6 L2014.9,278.1 L2016.7,282.6 L2018.5,287.2 L2020.3,291.7 L2022.3,296.2 L2024.3,300.8 L2026.3,305.3 L2028.4,309.8 L2030.5,314.4 L2032.6,318.9 L2034.7,323.4 L2036.9,328.0 L2039.0,332.5 L2041.2,337.0 L2043.3,341.6 L2045.5,346.1 L2047.7,350.6 L2049.8,355.2 L2052.0,359.7 L2054.2,364.2 L2056.4,368.7 L2058.6,373.3 L2060.8,377.8 L2063.0,382.3 L2065.2,386.9 L2067.4,391.4 L2069.7,395.9 L2071.9,400.5 L2074.1,405.0 L2076.4,409.5 L2078.6,414.1 L2080.9,418.6 L2083.1,423.1 L2085.4,427.7 L2087.7,432.2 L2089.9,436.7 L2092.2,441.3 L2094.5,445.8 L2096.8,450.3 L2099.1,454.9 L2101.4,459.4 L2103.7,463.9 L2106.0,468.5 L2108.3,473.0 L2110.7,477.5 L2113.0,482.1 L2115.8,487.5"/><path d="M2015.2,124.0 L2014.6,128.5 L2014.1,133.1 L2013.7,137.6 L2013.2,142.1 L2012.8,146.7 L2012.5,151.2 L2012.1,155.7 L2011.8,160.3 L2011.6,164.8 L2011.3,169.3 L2011.1,173.9 L2011.0,178.4 L2010.9,182.9 L2010.8,187.5 L2010.8,192.0 L2010.9,196.5 L2011.0,201.1 L2011.2,205.6 L2011.4,210.1 L2011.8,214.6 L2012.1,219.2 L2012.6,223.7 L2013.2,228.2 L2013.8,232.8 L2014.6,237.3 L2015.4,241.8 L2016.3,246.4 L2017.4,250.9 L2018.5,255.4 L2019.8,260.0 L2021.1,264.5 L2022.5,269.0 L2024.1,273.6 L2025.6,278.1 L2027.3,282.6 L2029.0,287.2 L2030.8,291.7 L2032.6,296.2 L2034.4,300.8 L2036.2,305.3 L2038.1,309.8 L2040.0,314.4 L2041.9,318.9 L2043.7,323.4 L2045.7,328.0 L2047.6,332.5 L2049.5,337.0 L2051.4,341.6 L2053.3,346.1 L2055.2,350.6 L2057.2,355.2 L2059.1,359.7 L2061.1,364.2 L2063.0,368.7 L2065.0,373.3 L2066.9,377.8 L2068.9,382.3 L2070.9,386.9 L2072.8,391.4 L2074.8,395.9 L2076.8,400.5 L2078.8,405.0 L2080.8,409.5 L2082.8,414.1 L2084.8,418.6 L2086.8,423.1 L2088.8,427.7 L2090.8,432.2 L2092.8,436.7 L2094.9,441.3 L2096.9,445.8 L2098.9,450.3 L2101.0,454.9 L2103.0,459.4 L2105.1,463.9 L2107.1,468.5 L2109.2,473.0 L2111.2,477.5 L2113.3,482.1 L2115.8,487.5"/><path d="M2016.9,124.0 L2016.3,128.5 L2015.8,133.1 L2015.3,137.6 L2014.9,142.1 L2014.5,146.7 L2014.1,151.2 L2013.7,155.7 L2013.4,160.3 L2013.1,164.8 L2012.9,169.3 L2012.7,173.9 L2012.5,178.4 L2012.4,182.9 L2012.4,187.5 L2012.4,192.0 L2012.4,196.5 L2012.6,201.1 L2012.7,205.6 L2013.0,210.1 L2013.3,214.6 L2013.7,219.2 L2014.2,223.7 L2014.8,228.2 L2015.4,232.8 L2016.2,237.3 L2017.0,241.8 L2018.0,246.4 L2019.0,250.9 L2020.2,255.4 L2021.4,260.0 L2022.8,264.5 L2024.2,269.0 L2025.7,273.6 L2027.3,278.1 L2028.9,282.6 L2030.6,287.2 L2032.3,291.7 L2034.1,296.2 L2035.9,300.8 L2037.7,305.3 L2039.5,309.8 L2041.4,314.4 L2043.2,318.9 L2045.1,323.4 L2047.0,328.0 L2048.8,332.5 L2050.7,337.0 L2052.6,341.6 L2054.5,346.1 L2056.4,350.6 L2058.3,355.2 L2060.2,359.7 L2062.1,364.2 L2064.0,368.7 L2065.9,373.3 L2067.8,377.8 L2069.8,382.3 L2071.7,386.9 L2073.6,391.4 L2075.6,395.9 L2077.5,400.5 L2079.5,405.0 L2081.4,409.5 L2083.4,414.1 L2085.3,418.6 L2087.3,423.1 L2089.3,427.7 L2091.3,432.2 L2093.3,436.7 L2095.2,441.3 L2097.2,445.8 L2099.2,450.3 L2101.2,454.9 L2103.2,459.4 L2105.3,463.9 L2107.3,468.5 L2109.3,473.0 L2111.3,477.5 L2113.3,482.1 L2115.8,487.5"/><path d="M2025.2,124.0 L2024.5,128.5 L2023.9,133.1 L2023.4,137.6 L2022.9,142.1 L2022.4,146.7 L2021.9,151.2 L2021.5,155.7 L2021.1,160.3 L2020.8,164.8 L2020.5,169.3 L2020.3,173.9 L2020.1,178.4 L2020.0,182.9 L2019.9,187.5 L2019.9,192.0 L2020.0,196.5 L2020.1,201.1 L2020.3,205.6 L2020.6,210.1 L2020.9,214.6 L2021.3,219.2 L2021.9,223.7 L2022.5,228.2 L2023.2,232.8 L2023.9,237.3 L2024.8,241.8 L2025.8,246.4 L2026.9,250.9 L2028.0,255.4 L2029.2,260.0 L2030.6,264.5 L2031.9,269.0 L2033.4,273.6 L2034.9,278.1 L2036.4,282.6 L2038.0,287.2 L2039.6,291.7 L2041.3,296.2 L2042.9,300.8 L2044.6,305.3 L2046.2,309.8 L2047.9,314.4 L2049.6,318.9 L2051.3,323.4 L2053.0,328.0 L2054.7,332.5 L2056.5,337.0 L2058.2,341.6 L2059.9,346.1 L2061.6,350.6 L2063.4,355.2 L2065.1,359.7 L2066.8,364.2 L2068.6,368.7 L2070.3,373.3 L2072.1,377.8 L2073.8,382.3 L2075.6,386.9 L2077.4,391.4 L2079.1,395.9 L2080.9,400.5 L2082.7,405.0 L2084.5,409.5 L2086.3,414.1 L2088.0,418.6 L2089.8,423.1 L2091.6,427.7 L2093.4,432.2 L2095.3,436.7 L2097.1,441.3 L2098.9,445.8 L2100.7,450.3 L2102.5,454.9 L2104.4,459.4 L2106.2,463.9 L2108.0,468.5 L2109.9,473.0 L2111.7,477.5 L2113.6,482.1 L2115.8,487.5"/><path d="M2026.5,124.0 L2025.9,128.5 L2025.3,133.1 L2024.7,137.6 L2024.2,142.1 L2023.7,146.7 L2023.2,151.2 L2022.8,155.7 L2022.4,160.3 L2022.1,164.8 L2021.8,169.3 L2021.6,173.9 L2021.4,178.4 L2021.2,182.9 L2021.2,187.5 L2021.2,192.0 L2021.2,196.5 L2021.3,201.1 L2021.5,205.6 L2021.8,210.1 L2022.2,214.6 L2022.6,219.2 L2023.1,223.7 L2023.7,228.2 L2024.4,232.8 L2025.2,237.3 L2026.1,241.8 L2027.1,246.4 L2028.1,250.9 L2029.3,255.4 L2030.5,260.0 L2031.8,264.5 L2033.2,269.0 L2034.6,273.6 L2036.1,278.1 L2037.6,282.6 L2039.2,287.2 L2040.8,291.7 L2042.4,296.2 L2044.0,300.8 L2045.7,305.3 L2047.3,309.8 L2049.0,314.4 L2050.6,318.9 L2052.3,323.4 L2054.0,328.0 L2055.7,332.5 L2057.4,337.0 L2059.1,341.6 L2060.8,346.1 L2062.5,350.6 L2064.2,355.2 L2065.9,359.7 L2067.6,364.2 L2069.3,368.7 L2071.0,373.3 L2072.7,377.8 L2074.5,382.3 L2076.2,386.9 L2078.0,391.4 L2079.7,395.9 L2081.4,400.5 L2083.2,405.0 L2084.9,409.5 L2086.7,414.1 L2088.5,418.6 L2090.2,423.1 L2092.0,427.7 L2093.8,432.2 L2095.6,436.7 L2097.4,441.3 L2099.1,445.8 L2100.9,450.3 L2102.7,454.9 L2104.5,459.4 L2106.3,463.9 L2108.1,468.5 L2110.0,473.0 L2111.8,477.5 L2113.6,482.1 L2115.8,487.5"/><path d="M2027.0,124.0 L2026.4,128.5 L2025.8,133.1 L2025.2,137.6 L2024.7,142.1 L2024.2,146.7 L2023.7,151.2 L2023.3,155.7 L2022.9,160.3 L2022.5,164.8 L2022.3,169.3 L2022.0,173.9 L2021.8,178.4 L2021.7,182.9 L2021.6,187.5 L2021.6,192.0 L2021.7,196.5 L2021.8,201.1 L2022.0,205.6 L2022.3,210.1 L2022.6,214.6 L2023.1,219.2 L2023.6,223.7 L2024.2,228.2 L2024.9,232.8 L2025.7,237.3 L2026.6,241.8 L2027.5,246.4 L2028.6,250.9 L2029.7,255.4 L2031.0,260.0 L2032.3,264.5 L2033.6,269.0 L2035.1,273.6 L2036.6,278.1 L2038.1,282.6 L2039.6,287.2 L2041.2,291.7 L2042.8,296.2 L2044.4,300.8 L2046.1,305.3 L2047.7,309.8 L2049.4,314.4 L2051.0,318.9 L2052.7,323.4 L2054.3,328.0 L2056.0,332.5 L2057.7,337.0 L2059.4,341.6 L2061.1,346.1 L2062.8,350.6 L2064.5,355.2 L2066.2,359.7 L2067.9,364.2 L2069.6,368.7 L2071.3,373.3 L2073.0,377.8 L2074.7,382.3 L2076.4,386.9 L2078.2,391.4 L2079.9,395.9 L2081.6,400.5 L2083.4,405.0 L2085.1,409.5 L2086.9,414.1 L2088.6,418.6 L2090.4,423.1 L2092.1,427.7 L2093.9,432.2 L2095.7,436.7 L2097.5,441.3 L2099.2,445.8 L2101.0,450.3 L2102.8,454.9 L2104.6,459.4 L2106.4,463.9 L2108.2,468.5 L2110.0,473.0 L2111.8,477.5 L2113.6,482.1 L2115.8,487.5"/><path d="M2029.2,124.0 L2028.5,128.5 L2027.9,133.1 L2027.3,137.6 L2026.7,142.1 L2026.2,146.7 L2025.7,151.2 L2025.3,155.7 L2024.9,160.3 L2024.5,164.8 L2024.2,169.3 L2024.0,173.9 L2023.8,178.4 L2023.6,182.9 L2023.6,187.5 L2023.5,192.0 L2023.6,196.5 L2023.7,201.1 L2023.9,205.6 L2024.2,210.1 L2024.6,214.6 L2025.0,219.2 L2025.5,223.7 L2026.1,228.2 L2026.8,232.8 L2027.6,237.3 L2028.5,241.8 L2029.5,246.4 L2030.6,250.9 L2031.7,255.4 L2032.9,260.0 L2034.2,264.5 L2035.6,269.0 L2037.0,273.6 L2038.4,278.1 L2039.9,282.6 L2041.4,287.2 L2043.0,291.7 L2044.5,296.2 L2046.1,300.8 L2047.7,305.3 L2049.3,309.8 L2050.9,314.4 L2052.6,318.9 L2054.2,323.4 L2055.8,328.0 L2057.5,332.5 L2059.1,337.0 L2060.7,341.6 L2062.4,346.1 L2064.0,350.6 L2065.7,355.2 L2067.3,359.7 L2069.0,364.2 L2070.7,368.7 L2072.3,373.3 L2074.0,377.8 L2075.7,382.3 L2077.4,386.9 L2079.1,391.4 L2080.8,395.9 L2082.5,400.5 L2084.2,405.0 L2085.9,409.5 L2087.6,414.1 L2089.3,418.6 L2091.0,423.1 L2092.7,427.7 L2094.4,432.2 L2096.2,436.7 L2097.9,441.3 L2099.6,445.8 L2101.4,450.3 L2103.1,454.9 L2104.9,459.4 L2106.6,463.9 L2108.4,468.5 L2110.1,473.0 L2111.9,477.5 L2113.7,482.1 L2115.8,487.5"/><path d="M2033.8,124.0 L2033.1,128.5 L2032.4,133.1 L2031.8,137.6 L2031.2,142.1 L2030.6,146.7 L2030.1,151.2 L2029.6,155.7 L2029.2,160.3 L2028.8,164.8 L2028.5,169.3 L2028.2,173.9 L2028.0,178.4 L2027.9,182.9 L2027.8,187.5 L2027.8,192.0 L2027.8,196.5 L2027.9,201.1 L2028.1,205.6 L2028.4,210.1 L2028.8,214.6 L2029.2,219.2 L2029.8,223.7 L2030.4,228.2 L2031.1,232.8 L2031.9,237.3 L2032.8,241.8 L2033.7,246.4 L2034.8,250.9 L2035.9,255.4 L2037.1,260.0 L2038.4,264.5 L2039.7,269.0 L2041.0,273.6 L2042.4,278.1 L2043.9,282.6 L2045.3,287.2 L2046.8,291.7 L2048.3,296.2 L2049.8,300.8 L2051.3,305.3 L2052.8,309.8 L2054.4,314.4 L2055.9,318.9 L2057.4,323.4 L2059.0,328.0 L2060.5,332.5 L2062.1,337.0 L2063.6,341.6 L2065.2,346.1 L2066.8,350.6 L2068.3,355.2 L2069.9,359.7 L2071.5,364.2 L2073.1,368.7 L2074.6,373.3 L2076.2,377.8 L2077.8,382.3 L2079.4,386.9 L2081.0,391.4 L2082.6,395.9 L2084.2,400.5 L2085.8,405.0 L2087.4,409.5 L2089.1,414.1 L2090.7,418.6 L2092.3,423.1 L2093.9,427.7 L2095.6,432.2 L2097.2,436.7 L2098.8,441.3 L2100.5,445.8 L2102.1,450.3 L2103.8,454.9 L2105.4,459.4 L2107.1,463.9 L2108.8,468.5 L2110.4,473.0 L2112.1,477.5 L2113.8,482.1 L2115.8,487.5"/><path d="M2037.8,124.0 L2037.1,128.5 L2036.4,133.1 L2035.7,137.6 L2035.0,142.1 L2034.4,146.7 L2033.9,151.2 L2033.4,155.7 L2032.9,160.3 L2032.5,164.8 L2032.2,169.3 L2031.9,173.9 L2031.7,178.4 L2031.5,182.9 L2031.4,187.5 L2031.4,192.0 L2031.4,196.5 L2031.6,201.1 L2031.8,205.6 L2032.0,210.1 L2032.4,214.6 L2032.9,219.2 L2033.4,223.7 L2034.0,228.2 L2034.7,232.8 L2035.5,237.3 L2036.4,241.8 L2037.3,246.4 L2038.4,250.9 L2039.5,255.4 L2040.6,260.0 L2041.9,264.5 L2043.1,269.0 L2044.4,273.6 L2045.8,278.1 L2047.2,282.6 L2048.6,287.2 L2050.0,291.7 L2051.4,296.2 L2052.8,300.8 L2054.3,305.3 L2055.7,309.8 L2057.2,314.4 L2058.7,318.9 L2060.1,323.4 L2061.6,328.0 L2063.1,332.5 L2064.6,337.0 L2066.1,341.6 L2067.5,346.1 L2069.0,350.6 L2070.5,355.2 L2072.0,359.7 L2073.5,364.2 L2075.0,368.7 L2076.5,373.3 L2078.1,377.8 L2079.6,382.3 L2081.1,386.9 L2082.6,391.4 L2084.2,395.9 L2085.7,400.5 L2087.2,405.0 L2088.8,409.5 L2090.3,414.1 L2091.8,418.6 L2093.4,423.1 L2095.0,427.7 L2096.5,432.2 L2098.1,436.7 L2099.6,441.3 L2101.2,445.8 L2102.8,450.3 L2104.3,454.9 L2105.9,459.4 L2107.5,463.9 L2109.1,468.5 L2110.7,473.0 L2112.3,477.5 L2113.9,482.1 L2115.8,487.5"/><path d="M2047.2,124.0 L2046.3,128.5 L2045.5,133.1 L2044.7,137.6 L2044.0,142.1 L2043.3,146.7 L2042.7,151.2 L2042.1,155.7 L2041.6,160.3 L2041.2,164.8 L2040.8,169.3 L2040.5,173.9 L2040.2,178.4 L2040.0,182.9 L2039.9,187.5 L2039.8,192.0 L2039.9,196.5 L2040.0,201.1 L2040.2,205.6 L2040.4,210.1 L2040.8,214.6 L2041.2,219.2 L2041.8,223.7 L2042.4,228.2 L2043.1,232.8 L2043.8,237.3 L2044.7,241.8 L2045.6,246.4 L2046.6,250.9 L2047.6,255.4 L2048.7,260.0 L2049.8,264.5 L2051.0,269.0 L2052.2,273.6 L2053.4,278.1 L2054.6,282.6 L2055.9,287.2 L2057.2,291.7 L2058.4,296.2 L2059.7,300.8 L2061.0,305.3 L2062.3,309.8 L2063.6,314.4 L2064.9,318.9 L2066.2,323.4 L2067.5,328.0 L2068.9,332.5 L2070.2,337.0 L2071.5,341.6 L2072.8,346.1 L2074.2,350.6 L2075.5,355.2 L2076.8,359.7 L2078.2,364.2 L2079.5,368.7 L2080.9,373.3 L2082.2,377.8 L2083.6,382.3 L2084.9,386.9 L2086.3,391.4 L2087.6,395.9 L2089.0,400.5 L2090.4,405.0 L2091.7,409.5 L2093.1,414.1 L2094.5,418.6 L2095.9,423.1 L2097.2,427.7 L2098.6,432.2 L2100.0,436.7 L2101.4,441.3 L2102.8,445.8 L2104.2,450.3 L2105.6,454.9 L2107.0,459.4 L2108.4,463.9 L2109.8,468.5 L2111.2,473.0 L2112.7,477.5 L2114.1,482.1 L2115.8,487.5"/><path d="M2051.9,124.0 L2050.9,128.5 L2050.1,133.1 L2049.3,137.6 L2048.5,142.1 L2047.8,146.7 L2047.1,151.2 L2046.5,155.7 L2046.0,160.3 L2045.5,164.8 L2045.1,169.3 L2044.7,173.9 L2044.4,178.4 L2044.2,182.9 L2044.1,187.5 L2044.0,192.0 L2044.1,196.5 L2044.2,201.1 L2044.3,205.6 L2044.6,210.1 L2045.0,214.6 L2045.4,219.2 L2045.9,223.7 L2046.5,228.2 L2047.2,232.8 L2047.9,237.3 L2048.8,241.8 L2049.6,246.4 L2050.6,250.9 L2051.6,255.4 L2052.6,260.0 L2053.7,264.5 L2054.8,269.0 L2055.9,273.6 L2057.1,278.1 L2058.3,282.6 L2059.4,287.2 L2060.6,291.7 L2061.8,296.2 L2063.1,300.8 L2064.3,305.3 L2065.5,309.8 L2066.7,314.4 L2067.9,318.9 L2069.2,323.4 L2070.4,328.0 L2071.7,332.5 L2072.9,337.0 L2074.1,341.6 L2075.4,346.1 L2076.6,350.6 L2077.9,355.2 L2079.2,359.7 L2080.4,364.2 L2081.7,368.7 L2082.9,373.3 L2084.2,377.8 L2085.5,382.3 L2086.8,386.9 L2088.0,391.4 L2089.3,395.9 L2090.6,400.5 L2091.9,405.0 L2093.2,409.5 L2094.5,414.1 L2095.8,418.6 L2097.0,423.1 L2098.4,427.7 L2099.7,432.2 L2101.0,436.7 L2102.3,441.3 L2103.6,445.8 L2104.9,450.3 L2106.2,454.9 L2107.5,459.4 L2108.9,463.9 L2110.2,468.5 L2111.5,473.0 L2112.9,477.5 L2114.2,482.1 L2115.8,487.5"/><path d="M2055.2,124.0 L2054.2,128.5 L2053.3,133.1 L2052.5,137.6 L2051.7,142.1 L2051.0,146.7 L2050.3,151.2 L2049.6,155.7 L2049.1,160.3 L2048.6,164.8 L2048.1,169.3 L2047.8,173.9 L2047.5,178.4 L2047.3,182.9 L2047.1,187.5 L2047.0,192.0 L2047.1,196.5 L2047.2,201.1 L2047.3,205.6 L2047.6,210.1 L2047.9,214.6 L2048.4,219.2 L2048.9,223.7 L2049.5,228.2 L2050.1,232.8 L2050.8,237.3 L2051.6,241.8 L2052.5,246.4 L2053.4,250.9 L2054.4,255.4 L2055.4,260.0 L2056.4,264.5 L2057.5,269.0 L2058.6,273.6 L2059.7,278.1 L2060.8,282.6 L2061.9,287.2 L2063.1,291.7 L2064.2,296.2 L2065.4,300.8 L2066.6,305.3 L2067.7,309.8 L2068.9,314.4 L2070.1,318.9 L2071.3,323.4 L2072.4,328.0 L2073.6,332.5 L2074.8,337.0 L2076.0,341.6 L2077.2,346.1 L2078.4,350.6 L2079.6,355.2 L2080.8,359.7 L2082.0,364.2 L2083.2,368.7 L2084.4,373.3 L2085.6,377.8 L2086.8,382.3 L2088.0,386.9 L2089.3,391.4 L2090.5,395.9 L2091.7,400.5 L2092.9,405.0 L2094.2,409.5 L2095.4,414.1 L2096.6,418.6 L2097.9,423.1 L2099.1,427.7 L2100.4,432.2 L2101.6,436.7 L2102.9,441.3 L2104.1,445.8 L2105.4,450.3 L2106.6,454.9 L2107.9,459.4 L2109.2,463.9 L2110.4,468.5 L2111.7,473.0 L2113.0,477.5 L2114.3,482.1 L2115.8,487.5"/><path d="M2056.8,124.0 L2055.8,128.5 L2054.9,133.1 L2054.0,137.6 L2053.2,142.1 L2052.5,146.7 L2051.8,151.2 L2051.1,155.7 L2050.6,160.3 L2050.1,164.8 L2049.6,169.3 L2049.2,173.9 L2048.9,178.4 L2048.7,182.9 L2048.6,187.5 L2048.5,192.0 L2048.5,196.5 L2048.6,201.1 L2048.8,205.6 L2049.0,210.1 L2049.4,214.6 L2049.8,219.2 L2050.3,223.7 L2050.9,228.2 L2051.5,232.8 L2052.2,237.3 L2053.0,241.8 L2053.9,246.4 L2054.8,250.9 L2055.7,255.4 L2056.7,260.0 L2057.7,264.5 L2058.8,269.0 L2059.8,273.6 L2060.9,278.1 L2062.0,282.6 L2063.1,287.2 L2064.2,291.7 L2065.4,296.2 L2066.5,300.8 L2067.6,305.3 L2068.8,309.8 L2069.9,314.4 L2071.1,318.9 L2072.2,323.4 L2073.4,328.0 L2074.6,332.5 L2075.7,337.0 L2076.9,341.6 L2078.0,346.1 L2079.2,350.6 L2080.4,355.2 L2081.6,359.7 L2082.7,364.2 L2083.9,368.7 L2085.1,373.3 L2086.3,377.8 L2087.5,382.3 L2088.7,386.9 L2089.9,391.4 L2091.1,395.9 L2092.3,400.5 L2093.5,405.0 L2094.7,409.5 L2095.9,414.1 L2097.1,418.6 L2098.3,423.1 L2099.5,427.7 L2100.7,432.2 L2101.9,436.7 L2103.2,441.3 L2104.4,445.8 L2105.6,450.3 L2106.8,454.9 L2108.1,459.4 L2109.3,463.9 L2110.6,468.5 L2111.8,473.0 L2113.0,477.5 L2114.3,482.1 L2115.8,487.5"/><path d="M2058.5,124.0 L2057.5,128.5 L2056.6,133.1 L2055.7,137.6 L2054.9,142.1 L2054.1,146.7 L2053.4,151.2 L2052.8,155.7 L2052.2,160.3 L2051.7,164.8 L2051.2,169.3 L2050.8,173.9 L2050.5,178.4 L2050.3,182.9 L2050.1,187.5 L2050.0,192.0 L2050.0,196.5 L2050.1,201.1 L2050.3,205.6 L2050.6,210.1 L2050.9,214.6 L2051.3,219.2 L2051.8,223.7 L2052.4,228.2 L2053.0,232.8 L2053.7,237.3 L2054.5,241.8 L2055.3,246.4 L2056.2,250.9 L2057.2,255.4 L2058.1,260.0 L2059.1,264.5 L2060.1,269.0 L2061.2,273.6 L2062.2,278.1 L2063.3,282.6 L2064.4,287.2 L2065.5,291.7 L2066.6,296.2 L2067.7,300.8 L2068.8,305.3 L2069.9,309.8 L2071.1,314.4 L2072.2,318.9 L2073.3,323.4 L2074.4,328.0 L2075.6,332.5 L2076.7,337.0 L2077.8,341.6 L2079.0,346.1 L2080.1,350.6 L2081.3,355.2 L2082.4,359.7 L2083.5,364.2 L2084.7,368.7 L2085.8,373.3 L2087.0,377.8 L2088.2,382.3 L2089.3,386.9 L2090.5,391.4 L2091.7,395.9 L2092.8,400.5 L2094.0,405.0 L2095.2,409.5 L2096.4,414.1 L2097.5,418.6 L2098.7,423.1 L2099.9,427.7 L2101.1,432.2 L2102.3,436.7 L2103.5,441.3 L2104.7,445.8 L2105.9,450.3 L2107.1,454.9 L2108.3,459.4 L2109.5,463.9 L2110.7,468.5 L2111.9,473.0 L2113.1,477.5 L2114.3,482.1 L2115.8,487.5"/><path d="M2065.9,124.0 L2064.8,128.5 L2063.8,133.1 L2062.8,137.6 L2062.0,142.1 L2061.1,146.7 L2060.3,151.2 L2059.6,155.7 L2059.0,160.3 L2058.4,164.8 L2057.9,169.3 L2057.5,173.9 L2057.2,178.4 L2056.9,182.9 L2056.7,187.5 L2056.6,192.0 L2056.6,196.5 L2056.7,201.1 L2056.8,205.6 L2057.1,210.1 L2057.4,214.6 L2057.8,219.2 L2058.2,223.7 L2058.8,228.2 L2059.4,232.8 L2060.0,237.3 L2060.8,241.8 L2061.5,246.4 L2062.3,250.9 L2063.2,255.4 L2064.1,260.0 L2065.0,264.5 L2065.9,269.0 L2066.8,273.6 L2067.8,278.1 L2068.8,282.6 L2069.7,287.2 L2070.7,291.7 L2071.7,296.2 L2072.7,300.8 L2073.7,305.3 L2074.7,309.8 L2075.7,314.4 L2076.7,318.9 L2077.7,323.4 L2078.7,328.0 L2079.8,332.5 L2080.8,337.0 L2081.8,341.6 L2082.8,346.1 L2083.8,350.6 L2084.9,355.2 L2085.9,359.7 L2086.9,364.2 L2087.9,368.7 L2089.0,373.3 L2090.0,377.8 L2091.1,382.3 L2092.1,386.9 L2093.1,391.4 L2094.2,395.9 L2095.2,400.5 L2096.3,405.0 L2097.3,409.5 L2098.4,414.1 L2099.4,418.6 L2100.5,423.1 L2101.6,427.7 L2102.6,432.2 L2103.7,436.7 L2104.8,441.3 L2105.8,445.8 L2106.9,450.3 L2108.0,454.9 L2109.1,459.4 L2110.1,463.9 L2111.2,468.5 L2112.3,473.0 L2113.4,477.5 L2114.5,482.1 L2115.8,487.5"/><path d="M2073.9,124.0 L2072.7,128.5 L2071.6,133.1 L2070.6,137.6 L2069.6,142.1 L2068.7,146.7 L2067.9,151.2 L2067.1,155.7 L2066.5,160.3 L2065.8,164.8 L2065.3,169.3 L2064.8,173.9 L2064.5,178.4 L2064.2,182.9 L2063.9,187.5 L2063.8,192.0 L2063.8,196.5 L2063.8,201.1 L2063.9,205.6 L2064.1,210.1 L2064.4,214.6 L2064.8,219.2 L2065.2,223.7 L2065.7,228.2 L2066.2,232.8 L2066.8,237.3 L2067.5,241.8 L2068.1,246.4 L2068.9,250.9 L2069.6,255.4 L2070.4,260.0 L2071.2,264.5 L2072.0,269.0 L2072.9,273.6 L2073.7,278.1 L2074.6,282.6 L2075.4,287.2 L2076.3,291.7 L2077.2,296.2 L2078.0,300.8 L2078.9,305.3 L2079.8,309.8 L2080.7,314.4 L2081.6,318.9 L2082.4,323.4 L2083.3,328.0 L2084.2,332.5 L2085.1,337.0 L2086.0,341.6 L2086.9,346.1 L2087.8,350.6 L2088.7,355.2 L2089.6,359.7 L2090.5,364.2 L2091.4,368.7 L2092.3,373.3 L2093.2,377.8 L2094.1,382.3 L2095.0,386.9 L2096.0,391.4 L2096.9,395.9 L2097.8,400.5 L2098.7,405.0 L2099.6,409.5 L2100.6,414.1 L2101.5,418.6 L2102.4,423.1 L2103.3,427.7 L2104.3,432.2 L2105.2,436.7 L2106.1,441.3 L2107.1,445.8 L2108.0,450.3 L2109.0,454.9 L2109.9,459.4 L2110.8,463.9 L2111.8,468.5 L2112.7,473.0 L2113.7,477.5 L2114.6,482.1 L2115.8,487.5"/><path d="M2100.9,124.0 L2099.5,128.5 L2098.1,133.1 L2096.8,137.6 L2095.6,142.1 L2094.5,146.7 L2093.4,151.2 L2092.5,155.7 L2091.6,160.3 L2090.8,164.8 L2090.1,169.3 L2089.5,173.9 L2089.0,178.4 L2088.6,182.9 L2088.2,187.5 L2088.0,192.0 L2087.8,196.5 L2087.7,201.1 L2087.7,205.6 L2087.7,210.1 L2087.8,214.6 L2088.0,219.2 L2088.2,223.7 L2088.5,228.2 L2088.8,232.8 L2089.1,237.3 L2089.5,241.8 L2089.9,246.4 L2090.3,250.9 L2090.7,255.4 L2091.2,260.0 L2091.6,264.5 L2092.1,269.0 L2092.5,273.6 L2093.0,278.1 L2093.5,282.6 L2093.9,287.2 L2094.4,291.7 L2094.9,296.2 L2095.4,300.8 L2095.8,305.3 L2096.3,309.8 L2096.8,314.4 L2097.3,318.9 L2097.8,323.4 L2098.3,328.0 L2098.7,332.5 L2099.2,337.0 L2099.7,341.6 L2100.2,346.1 L2100.7,350.6 L2101.2,355.2 L2101.7,359.7 L2102.2,364.2 L2102.6,368.7 L2103.1,373.3 L2103.6,377.8 L2104.1,382.3 L2104.6,386.9 L2105.1,391.4 L2105.6,395.9 L2106.1,400.5 L2106.6,405.0 L2107.1,409.5 L2107.6,414.1 L2108.1,418.6 L2108.6,423.1 L2109.1,427.7 L2109.6,432.2 L2110.1,436.7 L2110.6,441.3 L2111.1,445.8 L2111.6,450.3 L2112.1,454.9 L2112.6,459.4 L2113.1,463.9 L2113.6,468.5 L2114.2,473.0 L2114.7,477.5 L2115.2,482.1 L2115.8,487.5"/><path d="M2102.6,124.0 L2101.1,128.5 L2099.7,133.1 L2098.4,137.6 L2097.2,142.1 L2096.1,146.7 L2095.0,151.2 L2094.0,155.7 L2093.1,160.3 L2092.3,164.8 L2091.6,169.3 L2091.0,173.9 L2090.5,178.4 L2090.0,182.9 L2089.7,187.5 L2089.4,192.0 L2089.2,196.5 L2089.1,201.1 L2089.1,205.6 L2089.1,210.1 L2089.2,214.6 L2089.4,219.2 L2089.6,223.7 L2089.8,228.2 L2090.1,232.8 L2090.4,237.3 L2090.8,241.8 L2091.2,246.4 L2091.6,250.9 L2092.0,255.4 L2092.4,260.0 L2092.8,264.5 L2093.2,269.0 L2093.7,273.6 L2094.1,278.1 L2094.6,282.6 L2095.0,287.2 L2095.5,291.7 L2095.9,296.2 L2096.4,300.8 L2096.8,305.3 L2097.3,309.8 L2097.8,314.4 L2098.2,318.9 L2098.7,323.4 L2099.1,328.0 L2099.6,332.5 L2100.1,337.0 L2100.5,341.6 L2101.0,346.1 L2101.4,350.6 L2101.9,355.2 L2102.4,359.7 L2102.8,364.2 L2103.3,368.7 L2103.8,373.3 L2104.2,377.8 L2104.7,382.3 L2105.2,386.9 L2105.6,391.4 L2106.1,395.9 L2106.6,400.5 L2107.1,405.0 L2107.5,409.5 L2108.0,414.1 L2108.5,418.6 L2109.0,423.1 L2109.4,427.7 L2109.9,432.2 L2110.4,436.7 L2110.9,441.3 L2111.3,445.8 L2111.8,450.3 L2112.3,454.9 L2112.8,459.4 L2113.3,463.9 L2113.8,468.5 L2114.2,473.0 L2114.7,477.5 L2115.2,482.1 L2115.8,487.5"/><path d="M2114.6,124.0 L2113.0,128.5 L2111.5,133.1 L2110.1,137.6 L2108.7,142.1 L2107.5,146.7 L2106.3,151.2 L2105.3,155.7 L2104.3,160.3 L2103.4,164.8 L2102.6,169.3 L2101.9,173.9 L2101.3,178.4 L2100.8,182.9 L2100.4,187.5 L2100.1,192.0 L2099.8,196.5 L2099.6,201.1 L2099.5,205.6 L2099.4,210.1 L2099.4,214.6 L2099.5,219.2 L2099.6,223.7 L2099.7,228.2 L2099.9,232.8 L2100.1,237.3 L2100.3,241.8 L2100.5,246.4 L2100.8,250.9 L2101.0,255.4 L2101.3,260.0 L2101.5,264.5 L2101.8,269.0 L2102.1,273.6 L2102.4,278.1 L2102.7,282.6 L2102.9,287.2 L2103.2,291.7 L2103.5,296.2 L2103.8,300.8 L2104.1,305.3 L2104.4,309.8 L2104.7,314.4 L2104.9,318.9 L2105.2,323.4 L2105.5,328.0 L2105.8,332.5 L2106.1,337.0 L2106.4,341.6 L2106.7,346.1 L2107.0,350.6 L2107.2,355.2 L2107.5,359.7 L2107.8,364.2 L2108.1,368.7 L2108.4,373.3 L2108.7,377.8 L2109.0,382.3 L2109.3,386.9 L2109.6,391.4 L2109.9,395.9 L2110.1,400.5 L2110.4,405.0 L2110.7,409.5 L2111.0,414.1 L2111.3,418.6 L2111.6,423.1 L2111.9,427.7 L2112.2,432.2 L2112.5,436.7 L2112.8,441.3 L2113.1,445.8 L2113.4,450.3 L2113.7,454.9 L2114.0,459.4 L2114.3,463.9 L2114.5,468.5 L2114.8,473.0 L2115.1,477.5 L2115.4,482.1 L2115.8,487.5"/></g>
<g clip-path="url(#c_s1)" fill="none" stroke="url(#g_s1)" stroke-width="3.0" stroke-linejoin="round"><path d="M1824.9,124.0 L1977.1,487.5"/><path d="M1826.9,124.0 L1965.9,487.5"/><path d="M1854.6,124.0 L1963.1,487.5"/><path d="M1856.3,124.0 L1946.8,487.5"/><path d="M1863.3,124.0 L1960.0,487.5"/><path d="M1864.5,124.0 L1959.3,487.5"/><path d="M1866.7,124.0 L1961.6,487.5"/><path d="M1882.3,124.0 L1957.1,487.5"/><path d="M1884.4,124.0 L1961.9,487.5"/><path d="M1891.6,124.0 L1958.3,487.5"/><path d="M1893.7,124.0 L1951.4,487.5"/><path d="M1911.0,124.0 L1969.6,487.5"/><path d="M1916.7,124.0 L1969.6,487.5"/><path d="M1920.7,124.0 L1976.4,487.5"/><path d="M1924.7,124.0 L1962.7,487.5"/><path d="M1928.4,124.0 L1958.9,487.5"/><path d="M1935.1,124.0 L1957.7,487.5"/><path d="M1936.7,124.0 L1949.4,487.5"/><path d="M1938.9,124.0 L1970.4,487.5"/><path d="M1947.1,124.0 L1953.1,487.5"/><path d="M1948.6,124.0 L1952.4,487.5"/><path d="M1949.1,124.0 L1960.6,487.5"/><path d="M1952.5,124.0 L1974.6,487.5"/><path d="M1954.4,124.0 L1964.2,487.5"/><path d="M1957.0,124.0 L1953.8,487.5"/><path d="M1958.4,124.0 L1956.3,487.5"/><path d="M1961.8,124.0 L1967.4,487.5"/><path d="M1965.1,124.0 L1960.9,487.5"/><path d="M1965.6,124.0 L1955.9,487.5"/><path d="M1968.3,124.0 L1960.3,487.5"/><path d="M1968.7,124.0 L1968.4,487.5"/><path d="M1969.1,124.0 L1978.7,487.5"/><path d="M1973.1,124.0 L1951.9,487.5"/><path d="M1975.0,124.0 L1957.1,487.5"/><path d="M1976.4,124.0 L1955.6,487.5"/><path d="M1981.1,124.0 L1942.2,487.5"/><path d="M1985.1,124.0 L1954.6,487.5"/><path d="M2002.7,124.0 L1953.8,487.5"/><path d="M2004.5,124.0 L1971.6,487.5"/><path d="M2015.2,124.0 L1961.2,487.5"/><path d="M2016.9,124.0 L1948.8,487.5"/><path d="M2025.2,124.0 L1967.6,487.5"/><path d="M2026.5,124.0 L1959.3,487.5"/><path d="M2027.0,124.0 L1947.8,487.5"/><path d="M2029.2,124.0 L1957.3,487.5"/><path d="M2033.8,124.0 L1957.4,487.5"/><path d="M2037.8,124.0 L1955.0,487.5"/><path d="M2047.2,124.0 L1962.5,487.5"/><path d="M2051.9,124.0 L1943.6,487.5"/><path d="M2055.2,124.0 L1960.0,487.5"/><path d="M2056.8,124.0 L1970.7,487.5"/><path d="M2058.5,124.0 L1969.3,487.5"/><path d="M2065.9,124.0 L1971.5,487.5"/><path d="M2073.9,124.0 L1971.5,487.5"/><path d="M2100.9,124.0 L1974.6,487.5"/><path d="M2102.6,124.0 L1953.0,487.5"/><path d="M2114.6,124.0 L1969.3,487.5"/></g>
<g clip-path="url(#c_train)" fill="none" stroke="url(#g_train)" stroke-width="2.8" opacity="0.45"><path d="M261.2,125 L251.6,489"/><path d="M348.3,125 L251.6,489"/><path d="M462.5,125 L251.6,489"/><path d="M482.3,125 L251.6,489"/><path d="M376.3,125 L528.4,489"/><path d="M343.3,125 L251.6,489"/><path d="M400.4,125 L251.6,489"/><path d="M400.6,125 L528.4,489"/><path d="M316.4,125 L528.4,489"/><path d="M420.3,125 L251.6,489"/><path d="M319.1,125 L528.4,489"/><path d="M452.2,125 L528.4,489"/><path d="M379.3,125 L251.6,489"/><path d="M423.5,125 L528.4,489"/><path d="M436.8,125 L251.6,489"/><path d="M434.5,125 L528.4,489"/><path d="M407.2,125 L251.6,489"/><path d="M293.4,125 L528.4,489"/><path d="M486.3,125 L528.4,489"/><path d="M295.1,125 L251.6,489"/><path d="M406.5,125 L528.4,489"/><path d="M432.5,125 L251.6,489"/><path d="M332.0,125 L528.4,489"/><path d="M400.0,125 L251.6,489"/><path d="M470.8,125 L528.4,489"/><path d="M388.3,125 L528.4,489"/><path d="M328.5,125 L528.4,489"/><path d="M322.7,125 L251.6,489"/><path d="M349.1,125 L251.6,489"/><path d="M354.3,125 L528.4,489"/><path d="M323.6,125 L251.6,489"/><path d="M416.1,125 L251.6,489"/><path d="M350.2,125 L528.4,489"/><path d="M382.4,125 L251.6,489"/><path d="M437.0,125 L528.4,489"/><path d="M330.8,125 L251.6,489"/><path d="M369.2,125 L528.4,489"/><path d="M450.5,125 L251.6,489"/><path d="M300.5,125 L251.6,489"/><path d="M384.5,125 L528.4,489"/><path d="M429.1,125 L528.4,489"/><path d="M475.4,125 L528.4,489"/><path d="M400.3,125 L528.4,489"/><path d="M353.3,125 L251.6,489"/><path d="M339.4,125 L528.4,489"/><path d="M434.6,125 L528.4,489"/><path d="M411.7,125 L528.4,489"/><path d="M354.2,125 L528.4,489"/><path d="M376.9,125 L251.6,489"/><path d="M361.2,125 L528.4,489"/><path d="M440.1,125 L251.6,489"/><path d="M342.3,125 L528.4,489"/><path d="M423.7,125 L251.6,489"/><path d="M448.9,125 L251.6,489"/><path d="M423.6,125 L528.4,489"/><path d="M332.3,125 L251.6,489"/><path d="M483.1,125 L528.4,489"/><path d="M343.1,125 L528.4,489"/><path d="M419.5,125 L528.4,489"/><path d="M337.9,125 L251.6,489"/><path d="M269.3,125 L528.4,489"/><path d="M405.6,125 L528.4,489"/><path d="M409.9,125 L528.4,489"/><path d="M384.6,125 L528.4,489"/><path d="M409.1,125 L528.4,489"/><path d="M345.1,125 L528.4,489"/><path d="M339.0,125 L251.6,489"/><path d="M378.4,125 L528.4,489"/><path d="M513.9,125 L528.4,489"/><path d="M537.4,125 L528.4,489"/><path d="M256.4,125 L251.6,489"/><path d="M259.9,125 L251.6,489"/></g>
<rect x="217" y="125" width="346" height="364" fill="none" stroke="#000" stroke-width="4" stroke-linejoin="round"/>
<rect x="694" y="124" width="346" height="363.5" fill="none" stroke="#000" stroke-width="4" stroke-linejoin="round"/>
<rect x="1060" y="124" width="346" height="363.5" fill="none" stroke="#000" stroke-width="4" stroke-linejoin="round"/>
<rect x="1426.5" y="124" width="345.79999999999995" height="363.5" fill="none" stroke="#000" stroke-width="4" stroke-linejoin="round"/>
<rect x="1794.2" y="124" width="345.79999999999995" height="363.5" fill="none" stroke="#000" stroke-width="4" stroke-linejoin="round"/>
<line x1="1060" x2="1406" y1="214.875" y2="214.875" stroke="#000" stroke-width="4"/>
<line x1="1060" x2="1406" y1="305.75" y2="305.75" stroke="#000" stroke-width="4"/>
<line x1="1060" x2="1406" y1="396.625" y2="396.625" stroke="#000" stroke-width="4"/>
<line x1="1426.5" x2="1772.3" y1="305.75" y2="305.75" stroke="#000" stroke-width="4"/>
<line x1="727.9" x2="727.9" y1="121" y2="124" stroke="#000" stroke-width="0.9"/>
<line x1="797.1" x2="797.1" y1="121" y2="124" stroke="#000" stroke-width="0.9"/>
<line x1="866.3" x2="866.3" y1="121" y2="124" stroke="#000" stroke-width="0.9"/>
<line x1="935.5" x2="935.5" y1="121" y2="124" stroke="#000" stroke-width="0.9"/>
<line x1="1004.7" x2="1004.7" y1="121" y2="124" stroke="#000" stroke-width="0.9"/>
<g stroke="#000" stroke-width="8.5" stroke-linecap="butt" fill="none"><line x1="314" y1="125" x2="531.7" y2="489"/><line x1="369.8" y1="125" x2="250.3" y2="489"/><line x1="350" y1="182" x2="358.5" y2="398"/></g>
<polygon points="339.9,395 377.4,393.2 360.7,446" fill="#000"/>
<line x1="364" y1="182.5" x2="398" y2="182.5" stroke="#000" stroke-width="3"/>
<circle cx="350" cy="181.7" r="13" fill="#fff" stroke="#000" stroke-width="3.8"/>
<rect x="398" y="160.5" width="56" height="44.5" fill="#fff" stroke="#000" stroke-width="4"/>
<line x1="358" y1="352.5" x2="377" y2="352.5" stroke="#000" stroke-width="3"/>
<rect x="377" y="322" width="165" height="62" fill="#fff" stroke="#000" stroke-width="4"/>
<g transform="translate(404.5,167) scale(1.0)" fill="none" stroke="#000" stroke-linecap="round" stroke-linejoin="round"><path stroke-width="1.5" d="M1.2,8.6 C2.5,4 5.5,0.8 8.5,0.8"/><path stroke-width="2.125" d="M8.5,0.8 C11.2,0.8 13.4,2.2 13.5,6"/><path stroke-width="3.625" d="M13.5,6 C13.6,9 12.8,13 12.4,16.5 C12,20 12.8,23 15.8,23"/><path stroke-width="2.0" d="M15.8,23 C19.5,23 22.6,19.5 23.9,16.2"/><path stroke-width="1.5" d="M23.6,4.3 C23.3,1.8 21.6,0.8 19.6,0.8 C16.8,0.8 14.8,3 13.9,5.8"/><path stroke-width="1.5" d="M1.8,19.8 C2.3,22.3 3.8,23.3 5.8,23.3 C9,23.3 11.2,21 12.2,17.9"/><circle cx="23.2" cy="4.2" r="2.5" fill="#000" stroke="none"/><circle cx="2.5" cy="19.9" r="2.5" fill="#000" stroke="none"/></g>
<g transform="translate(435,175.4) scale(1.0)" fill="none" stroke="#000" stroke-linecap="round" stroke-linejoin="round"><path stroke-width="2.64" d="M8.4,0.8 L3.7,17.5 C3.0,20.3 3.7,21.6 5.6,21.6"/><path stroke-width="1.56" d="M5.6,21.6 C8.5,21.6 10.8,19.5 12.1,16.5"/><path stroke-width="1.44" stroke-linecap="butt" d="M0.2,8 L12.8,8"/></g>
<g fill="none" stroke="#000" stroke-width="1.5" stroke-linecap="square"><path d="M384.2,336.1 L411.8,336.1 L411.8,344.2 M407.5,336.6 L411.3,343.5"/><path d="M389.6,336.1 L389.6,367.8 M394.1,336.1 L394.1,367.8"/><path d="M383.8,367.8 L412.3,367.8 L413.9,359.2 M408,367.3 L413.2,360.5"/><path d="M394.1,351.3 L403.8,351.3 M403.8,345 L403.8,357.8"/></g>
<path d="M427.4,329.1 L422.4,329.1 L422.4,375 L427.4,375" fill="none" stroke="#000" stroke-width="1.4"/>
<line x1="422.6" y1="328.5" x2="422.6" y2="375.6" stroke="#000" stroke-width="2.2"/>
<g transform="translate(430,342.3) scale(1.0)" fill="none" stroke="#000" stroke-linecap="round" stroke-linejoin="round"><path stroke-width="1.44" d="M0.4,8.2 C1.5,4 3.3,1.1 5.3,1.1"/><path stroke-width="2.28" d="M5.3,1.1 C7.6,1.1 8.8,2.5 8.4,5.5"/><path stroke-width="3.36" d="M8.4,5.5 C8,8.8 5.6,12.5 5.3,16 C5.1,19.5 7.2,21.8 10.3,21.8"/><path stroke-width="1.92" d="M10.3,21.8 C14.5,21.8 18.3,16.5 19.9,10.5 C20.5,8 20.6,5.5 19.9,3.5"/><circle cx="18.8" cy="2.8" r="2.1" fill="#000" stroke="none"/></g>
<g transform="translate(453.0,349.8) scale(0.95)" fill="none" stroke="#000" stroke-linecap="round" stroke-linejoin="round"><path stroke-width="2.64" d="M8.4,0.8 L3.7,17.5 C3.0,20.3 3.7,21.6 5.6,21.6"/><path stroke-width="1.56" d="M5.6,21.6 C8.5,21.6 10.8,19.5 12.1,16.5"/><path stroke-width="1.44" stroke-linecap="butt" d="M0.2,8 L12.8,8"/></g>
<line x1="475.3" y1="328.5" x2="475.3" y2="375.6" stroke="#000" stroke-width="2"/>
<g transform="translate(483.1,342.3) scale(0.92)" fill="none" stroke="#000" stroke-linecap="round" stroke-linejoin="round"><path stroke-width="1.5" d="M1.2,8.6 C2.5,4 5.5,0.8 8.5,0.8"/><path stroke-width="2.125" d="M8.5,0.8 C11.2,0.8 13.4,2.2 13.5,6"/><path stroke-width="3.625" d="M13.5,6 C13.6,9 12.8,13 12.4,16.5 C12,20 12.8,23 15.8,23"/><path stroke-width="2.0" d="M15.8,23 C19.5,23 22.6,19.5 23.9,16.2"/><path stroke-width="1.5" d="M23.6,4.3 C23.3,1.8 21.6,0.8 19.6,0.8 C16.8,0.8 14.8,3 13.9,5.8"/><path stroke-width="1.5" d="M1.8,19.8 C2.3,22.3 3.8,23.3 5.8,23.3 C9,23.3 11.2,21 12.2,17.9"/><circle cx="23.2" cy="4.2" r="2.5" fill="#000" stroke="none"/><circle cx="2.5" cy="19.9" r="2.5" fill="#000" stroke="none"/></g>
<g transform="translate(510.4,349.8) scale(0.95)" fill="none" stroke="#000" stroke-linecap="round" stroke-linejoin="round"><path stroke-width="2.64" d="M8.4,0.8 L3.7,17.5 C3.0,20.3 3.7,21.6 5.6,21.6"/><path stroke-width="1.56" d="M5.6,21.6 C8.5,21.6 10.8,19.5 12.1,16.5"/><path stroke-width="1.44" stroke-linecap="butt" d="M0.2,8 L12.8,8"/></g>
<path d="M527.3,329.1 L532.3,329.1 L532.3,375 L527.3,375" fill="none" stroke="#000" stroke-width="1.4"/>
<line x1="532.1" y1="328.5" x2="532.1" y2="375.6" stroke="#000" stroke-width="2.2"/>
<polygon points="36,127 36.0,125.4 37.4,125.3 38.7,125.3 40.1,125.2 41.5,125.1 42.8,125.0 44.2,124.9 45.5,124.8 46.9,124.6 48.3,124.4 49.6,124.2 51.0,123.9 52.4,123.6 53.7,123.2 55.1,122.8 56.5,122.4 57.8,121.8 59.2,121.3 60.5,120.6 61.9,119.9 63.3,119.1 64.6,118.2 66.0,117.3 67.4,116.2 68.7,115.1 70.1,113.9 71.5,112.6 72.8,111.2 74.2,109.8 75.5,108.3 76.9,106.7 78.3,105.0 79.6,103.4 81.0,101.7 82.4,99.9 83.7,98.2 85.1,96.5 86.5,94.8 87.8,93.2 89.2,91.6 90.5,90.1 91.9,88.7 93.3,87.4 94.6,86.2 96.0,85.2 97.4,84.3 98.7,83.6 100.1,83.1 101.5,82.8 102.8,82.6 104.2,82.6 105.5,82.9 106.9,83.3 108.3,83.8 109.6,84.6 111.0,85.5 112.4,86.6 113.7,87.8 115.1,89.1 116.5,90.5 117.8,92.1 119.2,93.7 120.5,95.3 121.9,97.0 123.3,98.7 124.6,100.5 126.0,102.2 127.4,103.9 128.7,105.5 130.1,107.1 131.5,108.7 132.8,110.2 134.2,111.6 135.5,113.0 136.9,114.2 138.3,115.4 139.6,116.5 141.0,117.5 142.4,118.5 143.7,119.3 145.1,120.1 146.5,120.8 147.8,121.4 149.2,122.0 150.5,122.5 151.9,122.9 153.3,123.3 154.6,123.7 156.0,124.0 157.4,124.2 158.7,124.4 160.1,124.6 161.5,124.8 162.8,124.9 164.2,125.1 165.5,125.2 166.9,125.2 168.3,125.3 169.6,125.4 171.0,125.4 171,127" fill="#efc868"/>
<line x1="36" y1="125.6" x2="171" y2="125.6" stroke="#efc868" stroke-width="3"/>
<g transform="translate(77.8,144.6) scale(0.97)" fill="none" stroke="#f0a250" stroke-linecap="round" stroke-linejoin="round"><path stroke-width="1.5" d="M1.2,8.6 C2.5,4 5.5,0.8 8.5,0.8"/><path stroke-width="2.125" d="M8.5,0.8 C11.2,0.8 13.4,2.2 13.5,6"/><path stroke-width="3.625" d="M13.5,6 C13.6,9 12.8,13 12.4,16.5 C12,20 12.8,23 15.8,23"/><path stroke-width="2.0" d="M15.8,23 C19.5,23 22.6,19.5 23.9,16.2"/><path stroke-width="1.5" d="M23.6,4.3 C23.3,1.8 21.6,0.8 19.6,0.8 C16.8,0.8 14.8,3 13.9,5.8"/><path stroke-width="1.5" d="M1.8,19.8 C2.3,22.3 3.8,23.3 5.8,23.3 C9,23.3 11.2,21 12.2,17.9"/><circle cx="23.2" cy="4.2" r="2.5" fill="#f0a250" stroke="none"/><circle cx="2.5" cy="19.9" r="2.5" fill="#f0a250" stroke="none"/></g>
<path fill-rule="evenodd" fill="#f0a250" d="M107.2,163.5 A8.6,12.7 0 1 0 124.39999999999999,163.5 A8.6,12.7 0 1 0 107.2,163.5 Z M110.39999999999999,163.5 A5.4,11.2 0 1 0 121.2,163.5 A5.4,11.2 0 1 0 110.39999999999999,163.5 Z"/>
<text x="101.35" y="228" text-anchor="middle" font-family="Liberation Sans" font-weight="bold" font-size="50" fill="#f7a652" stroke="#f7a652" stroke-width="0.9" stroke-linejoin="round" textLength="127" lengthAdjust="spacingAndGlyphs">noise</text>
<line x1="100.5" y1="250" x2="100.5" y2="303" stroke="#404040" stroke-width="3"/>
<polygon points="92,301 110,301 100.5,326" fill="#404040"/>
<g transform="translate(78,352) scale(1.01)" fill="none" stroke="#c2398a" stroke-linecap="round" stroke-linejoin="round"><path stroke-width="1.5" d="M1.2,8.6 C2.5,4 5.5,0.8 8.5,0.8"/><path stroke-width="2.125" d="M8.5,0.8 C11.2,0.8 13.4,2.2 13.5,6"/><path stroke-width="3.625" d="M13.5,6 C13.6,9 12.8,13 12.4,16.5 C12,20 12.8,23 15.8,23"/><path stroke-width="2.0" d="M15.8,23 C19.5,23 22.6,19.5 23.9,16.2"/><path stroke-width="1.5" d="M23.6,4.3 C23.3,1.8 21.6,0.8 19.6,0.8 C16.8,0.8 14.8,3 13.9,5.8"/><path stroke-width="1.5" d="M1.8,19.8 C2.3,22.3 3.8,23.3 5.8,23.3 C9,23.3 11.2,21 12.2,17.9"/><circle cx="23.2" cy="4.2" r="2.5" fill="#c2398a" stroke="none"/><circle cx="2.5" cy="19.9" r="2.5" fill="#c2398a" stroke="none"/></g>
<path d="M111.8,361.8 C114.5,361.6 116.8,360.5 118.4,358.8 L118.4,383" fill="none" stroke="#c2398a" stroke-width="2.9"/>
<line x1="111.5" y1="382.9" x2="125.4" y2="382.9" stroke="#c2398a" stroke-width="1.4"/>
<text x="99.9" y="430" text-anchor="middle" font-family="Liberation Sans" font-weight="bold" font-size="50" fill="#c4307f" stroke="#c4307f" stroke-width="0.9" stroke-linejoin="round" textLength="101.5" lengthAdjust="spacingAndGlyphs">data</text>
<rect x="63.1" y="440.3" width="12.9" height="48" fill="#7e2a6e"/>
<rect x="124" y="440.3" width="12.9" height="48" fill="#7e2a6e"/>
<rect x="36.1" y="487.2" width="135" height="3.6" fill="#7e2a6e"/>
<text x="390.85" y="97" text-anchor="middle" font-family="Liberation Sans" font-weight="bold" font-size="49.5" fill="#404040" stroke="#404040" stroke-width="0.8" stroke-linejoin="round" textLength="384" lengthAdjust="spacingAndGlyphs">Training pairings</text>
<text x="870" y="97" text-anchor="middle" font-family="Liberation Sans" font-weight="bold" font-size="49.5" fill="#404040" stroke="#404040" stroke-width="0.8" stroke-linejoin="round" textLength="308" lengthAdjust="spacingAndGlyphs">Learned ODE</text>
<text x="1233" y="97" text-anchor="middle" font-family="Liberation Sans" font-weight="bold" font-size="49.5" fill="#404040" stroke="#404040" stroke-width="0.8" stroke-linejoin="round" textLength="174.5" lengthAdjust="spacingAndGlyphs">4 Steps</text>
<text x="1599.9" y="97" text-anchor="middle" font-family="Liberation Sans" font-weight="bold" font-size="49.5" fill="#404040" stroke="#404040" stroke-width="0.8" stroke-linejoin="round" textLength="175" lengthAdjust="spacingAndGlyphs">2 Steps</text>
<text x="1966.3" y="97" text-anchor="middle" font-family="Liberation Sans" font-weight="bold" font-size="49.5" fill="#404040" stroke="#404040" stroke-width="0.8" stroke-linejoin="round" textLength="148" lengthAdjust="spacingAndGlyphs">1 Step</text>
<text x="312.8" y="564.5" text-anchor="middle" font-family="Liberation Sans" font-weight="bold" font-size="49.5" fill="#404040" stroke="#404040" stroke-width="0.8" stroke-linejoin="round" textLength="537.5" lengthAdjust="spacingAndGlyphs">Flow Matching Training</text>
<text x="1416.1" y="565" text-anchor="middle" font-family="Liberation Sans" font-weight="bold" font-size="49.5" fill="#404040" stroke="#404040" stroke-width="0.8" stroke-linejoin="round" textLength="571" lengthAdjust="spacingAndGlyphs">Flow Matching Inference</text>
<circle cx="1831.2" cy="476" r="28.3" fill="none" stroke="#ff0000" stroke-width="12"/>
<circle cx="1962.6" cy="476" r="28.3" fill="none" stroke="#ff0000" stroke-width="12"/>
<circle cx="2105.2" cy="476" r="28.3" fill="none" stroke="#ff0000" stroke-width="12"/>
</svg></body></html>
